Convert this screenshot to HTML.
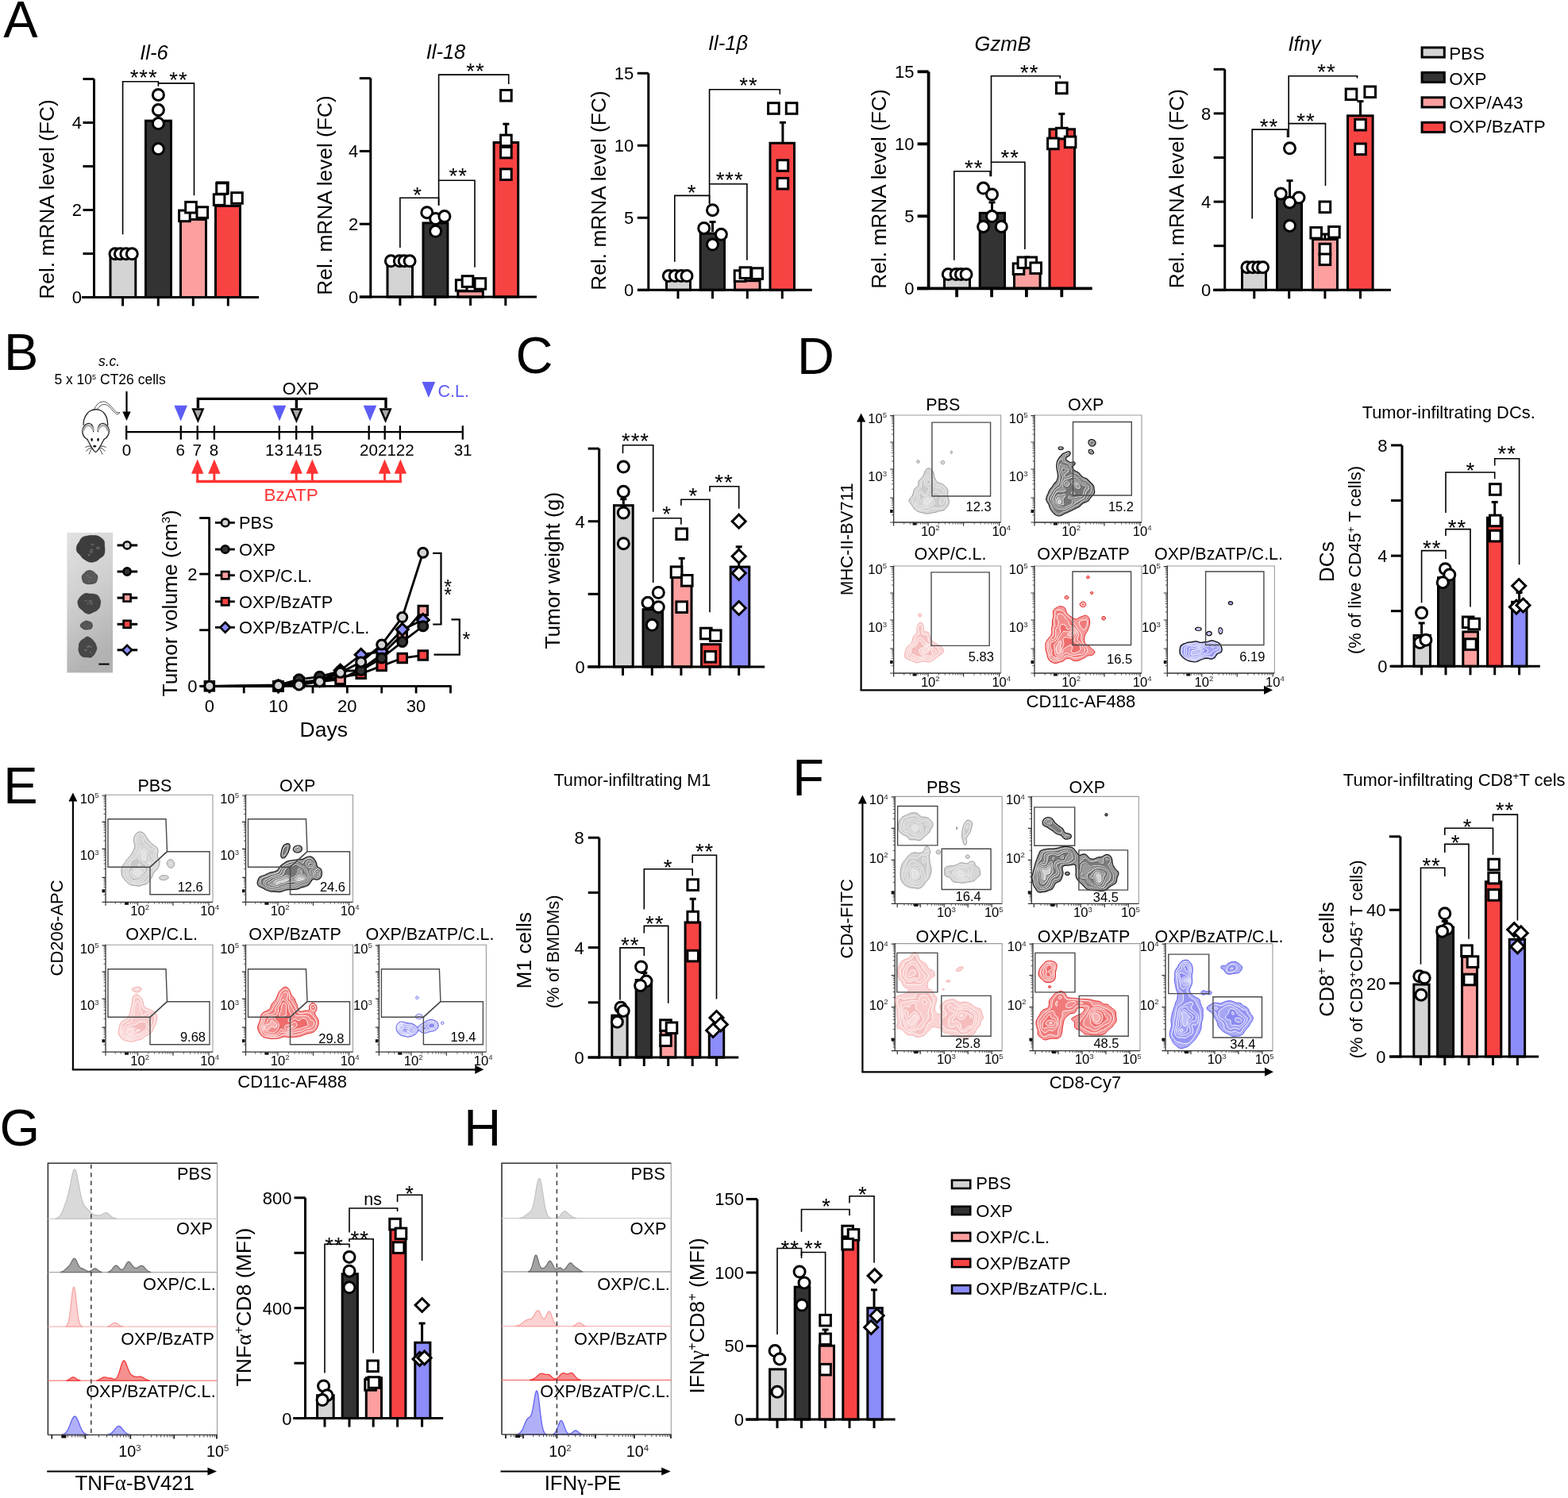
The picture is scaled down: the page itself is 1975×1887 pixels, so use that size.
<!DOCTYPE html><html><head><meta charset="utf-8"><title>Figure</title><style>html,body{margin:0;padding:0;background:#fff;width:1975px;height:1887px;overflow:hidden}svg{display:block}</style></head><body><svg width="1975" height="1887" viewBox="0 0 1975 1887" font-family='"Liberation Sans", Arial, Helvetica, sans-serif'><rect width="1975" height="1887" fill="#fff"/><text x="4.3" y="46.8" font-size="65" text-anchor="start" fill="#000">A</text>
<text x="194" y="75" font-size="25.5" text-anchor="middle" font-style="italic" fill="#000">Il-6</text>
<rect x="139" y="321" width="31.8" height="53.5" fill="#d4d4d4" stroke="#000" stroke-width="3"/>
<rect x="183.5" y="152.15" width="32" height="222.35" fill="#333333" stroke="#000" stroke-width="3"/>
<rect x="227.5" y="276.45" width="32" height="98.05" fill="#fd9f9f" stroke="#000" stroke-width="3"/>
<rect x="271.5" y="259.4" width="31" height="115.1" fill="#f84343" stroke="#000" stroke-width="3"/>
<line x1="118.5" y1="99.5" x2="118.5" y2="376" stroke="#000" stroke-width="3" stroke-linecap="butt"/>
<line x1="104.5" y1="374.5" x2="118.5" y2="374.5" stroke="#000" stroke-width="3" stroke-linecap="butt"/>
<text x="103" y="382.42" font-size="22" text-anchor="end" fill="#000">0</text>
<line x1="104.5" y1="319.5" x2="118.5" y2="319.5" stroke="#000" stroke-width="3" stroke-linecap="butt"/>
<line x1="104.5" y1="264.5" x2="118.5" y2="264.5" stroke="#000" stroke-width="3" stroke-linecap="butt"/>
<text x="103" y="272.42" font-size="22" text-anchor="end" fill="#000">2</text>
<line x1="104.5" y1="209.5" x2="118.5" y2="209.5" stroke="#000" stroke-width="3" stroke-linecap="butt"/>
<line x1="104.5" y1="154.5" x2="118.5" y2="154.5" stroke="#000" stroke-width="3" stroke-linecap="butt"/>
<text x="103" y="162.42" font-size="22" text-anchor="end" fill="#000">4</text>
<line x1="104.5" y1="99.5" x2="118.5" y2="99.5" stroke="#000" stroke-width="3" stroke-linecap="butt"/>
<line x1="103" y1="374.5" x2="326" y2="374.5" stroke="#000" stroke-width="3" stroke-linecap="butt"/>
<line x1="154.6" y1="374.5" x2="154.6" y2="385.5" stroke="#000" stroke-width="3" stroke-linecap="butt"/>
<line x1="199.3" y1="374.5" x2="199.3" y2="385.5" stroke="#000" stroke-width="3" stroke-linecap="butt"/>
<line x1="243.3" y1="374.5" x2="243.3" y2="385.5" stroke="#000" stroke-width="3" stroke-linecap="butt"/>
<line x1="287.3" y1="374.5" x2="287.3" y2="385.5" stroke="#000" stroke-width="3" stroke-linecap="butt"/>
<text x="67.5" y="251" font-size="26.3" text-anchor="middle" fill="#000" transform="rotate(-90 67.5 251)">Rel. mRNA level (FC)</text>
<text x="561.5" y="73.8" font-size="25.5" text-anchor="middle" font-style="italic" fill="#000">Il-18</text>
<rect x="488" y="329.6" width="31.5" height="44.4" fill="#d4d4d4" stroke="#000" stroke-width="3"/>
<rect x="533" y="280.95" width="30.9" height="93.05" fill="#333333" stroke="#000" stroke-width="3"/>
<rect x="576.8" y="366.78" width="31.5" height="7.22" fill="#fd9f9f" stroke="#000" stroke-width="3"/>
<rect x="622.1" y="179.51" width="30.6" height="194.49" fill="#f84343" stroke="#000" stroke-width="3"/>
<line x1="466.8" y1="98.6" x2="466.8" y2="375.5" stroke="#000" stroke-width="3" stroke-linecap="butt"/>
<line x1="452.8" y1="374" x2="466.8" y2="374" stroke="#000" stroke-width="3" stroke-linecap="butt"/>
<text x="451.3" y="381.92" font-size="22" text-anchor="end" fill="#000">0</text>
<line x1="452.8" y1="282.2" x2="466.8" y2="282.2" stroke="#000" stroke-width="3" stroke-linecap="butt"/>
<text x="451.3" y="290.12" font-size="22" text-anchor="end" fill="#000">2</text>
<line x1="452.8" y1="190.4" x2="466.8" y2="190.4" stroke="#000" stroke-width="3" stroke-linecap="butt"/>
<text x="451.3" y="198.32" font-size="22" text-anchor="end" fill="#000">4</text>
<line x1="452.8" y1="98.6" x2="466.8" y2="98.6" stroke="#000" stroke-width="3" stroke-linecap="butt"/>
<line x1="453" y1="374" x2="676" y2="374" stroke="#000" stroke-width="3" stroke-linecap="butt"/>
<line x1="503.9" y1="374" x2="503.9" y2="385" stroke="#000" stroke-width="3" stroke-linecap="butt"/>
<line x1="548" y1="374" x2="548" y2="385" stroke="#000" stroke-width="3" stroke-linecap="butt"/>
<line x1="592.6" y1="374" x2="592.6" y2="385" stroke="#000" stroke-width="3" stroke-linecap="butt"/>
<line x1="636.8" y1="374" x2="636.8" y2="385" stroke="#000" stroke-width="3" stroke-linecap="butt"/>
<text x="417.5" y="246" font-size="26.3" text-anchor="middle" fill="#000" transform="rotate(-90 417.5 246)">Rel. mRNA level (FC)</text>
<text x="917" y="62.5" font-size="25.5" text-anchor="middle" font-style="italic" fill="#000">Il-1β</text>
<rect x="839.5" y="348.6" width="30" height="16.7" fill="#d4d4d4" stroke="#000" stroke-width="3"/>
<rect x="882.2" y="294" width="30.3" height="71.3" fill="#333333" stroke="#000" stroke-width="3"/>
<rect x="925.5" y="353.7" width="31.6" height="11.6" fill="#fd9f9f" stroke="#000" stroke-width="3"/>
<rect x="970" y="180.25" width="30.5" height="185.05" fill="#f84343" stroke="#000" stroke-width="3"/>
<line x1="816.8" y1="92.3" x2="816.8" y2="366.8" stroke="#000" stroke-width="3" stroke-linecap="butt"/>
<line x1="802.8" y1="365.3" x2="816.8" y2="365.3" stroke="#000" stroke-width="3" stroke-linecap="butt"/>
<text x="798.3" y="373.22" font-size="22" text-anchor="end" fill="#000">0</text>
<line x1="802.8" y1="274.3" x2="816.8" y2="274.3" stroke="#000" stroke-width="3" stroke-linecap="butt"/>
<text x="798.3" y="282.22" font-size="22" text-anchor="end" fill="#000">5</text>
<line x1="802.8" y1="183.3" x2="816.8" y2="183.3" stroke="#000" stroke-width="3" stroke-linecap="butt"/>
<text x="798.3" y="191.22" font-size="22" text-anchor="end" fill="#000">10</text>
<line x1="802.8" y1="92.3" x2="816.8" y2="92.3" stroke="#000" stroke-width="3" stroke-linecap="butt"/>
<text x="798.3" y="100.22" font-size="22" text-anchor="end" fill="#000">15</text>
<line x1="803" y1="365.3" x2="1022.8" y2="365.3" stroke="#000" stroke-width="3" stroke-linecap="butt"/>
<line x1="854" y1="365.3" x2="854" y2="376.3" stroke="#000" stroke-width="3" stroke-linecap="butt"/>
<line x1="897.5" y1="365.3" x2="897.5" y2="376.3" stroke="#000" stroke-width="3" stroke-linecap="butt"/>
<line x1="941.3" y1="365.3" x2="941.3" y2="376.3" stroke="#000" stroke-width="3" stroke-linecap="butt"/>
<line x1="985.3" y1="365.3" x2="985.3" y2="376.3" stroke="#000" stroke-width="3" stroke-linecap="butt"/>
<text x="763.4" y="240" font-size="26.3" text-anchor="middle" fill="#000" transform="rotate(-90 763.4 240)">Rel. mRNA level (FC)</text>
<text x="1263" y="63.5" font-size="25.5" text-anchor="middle" font-style="italic" fill="#000">GzmB</text>
<rect x="1189.5" y="347.51" width="32" height="15.79" fill="#d4d4d4" stroke="#000" stroke-width="3"/>
<rect x="1234.2" y="268.34" width="31.3" height="94.96" fill="#333333" stroke="#000" stroke-width="3"/>
<rect x="1277.5" y="335.68" width="32.6" height="27.62" fill="#fd9f9f" stroke="#000" stroke-width="3"/>
<rect x="1322" y="162.78" width="31.5" height="200.52" fill="#f84343" stroke="#000" stroke-width="3"/>
<line x1="1169.6" y1="90.3" x2="1169.6" y2="364.8" stroke="#000" stroke-width="3.8" stroke-linecap="butt"/>
<line x1="1155.6" y1="363.3" x2="1169.6" y2="363.3" stroke="#000" stroke-width="3.8" stroke-linecap="butt"/>
<text x="1151.6" y="371.22" font-size="22" text-anchor="end" fill="#000">0</text>
<line x1="1155.6" y1="272.3" x2="1169.6" y2="272.3" stroke="#000" stroke-width="3.8" stroke-linecap="butt"/>
<text x="1151.6" y="280.22" font-size="22" text-anchor="end" fill="#000">5</text>
<line x1="1155.6" y1="181.3" x2="1169.6" y2="181.3" stroke="#000" stroke-width="3.8" stroke-linecap="butt"/>
<text x="1151.6" y="189.22" font-size="22" text-anchor="end" fill="#000">10</text>
<line x1="1155.6" y1="90.3" x2="1169.6" y2="90.3" stroke="#000" stroke-width="3.8" stroke-linecap="butt"/>
<text x="1151.6" y="98.22" font-size="22" text-anchor="end" fill="#000">15</text>
<line x1="1155" y1="363.3" x2="1375.7" y2="363.3" stroke="#000" stroke-width="3.8" stroke-linecap="butt"/>
<line x1="1205.1" y1="363.3" x2="1205.1" y2="374.3" stroke="#000" stroke-width="3.8" stroke-linecap="butt"/>
<line x1="1249.1" y1="363.3" x2="1249.1" y2="374.3" stroke="#000" stroke-width="3.8" stroke-linecap="butt"/>
<line x1="1292.9" y1="363.3" x2="1292.9" y2="374.3" stroke="#000" stroke-width="3.8" stroke-linecap="butt"/>
<line x1="1337.3" y1="363.3" x2="1337.3" y2="374.3" stroke="#000" stroke-width="3.8" stroke-linecap="butt"/>
<text x="1116.4" y="238" font-size="26.3" text-anchor="middle" fill="#000" transform="rotate(-90 1116.4 238)">Rel. mRNA level (FC)</text>
<text x="1643" y="63.5" font-size="25.5" text-anchor="middle" font-style="italic" fill="#000">Ifnγ</text>
<rect x="1564.5" y="339" width="30" height="26.3" fill="#d4d4d4" stroke="#000" stroke-width="3"/>
<rect x="1608.5" y="250.04" width="31" height="115.26" fill="#333333" stroke="#000" stroke-width="3"/>
<rect x="1653.5" y="301.47" width="31" height="63.83" fill="#fd9f9f" stroke="#000" stroke-width="3"/>
<rect x="1697.5" y="145.79" width="31.6" height="219.51" fill="#f84343" stroke="#000" stroke-width="3"/>
<line x1="1542.7" y1="87.3" x2="1542.7" y2="366.8" stroke="#000" stroke-width="3" stroke-linecap="butt"/>
<line x1="1528.7" y1="365.3" x2="1542.7" y2="365.3" stroke="#000" stroke-width="3" stroke-linecap="butt"/>
<text x="1525.2" y="373.22" font-size="22" text-anchor="end" fill="#000">0</text>
<line x1="1528.7" y1="309.7" x2="1542.7" y2="309.7" stroke="#000" stroke-width="3" stroke-linecap="butt"/>
<line x1="1528.7" y1="254.1" x2="1542.7" y2="254.1" stroke="#000" stroke-width="3" stroke-linecap="butt"/>
<text x="1525.2" y="262.02" font-size="22" text-anchor="end" fill="#000">4</text>
<line x1="1528.7" y1="198.5" x2="1542.7" y2="198.5" stroke="#000" stroke-width="3" stroke-linecap="butt"/>
<line x1="1528.7" y1="142.9" x2="1542.7" y2="142.9" stroke="#000" stroke-width="3" stroke-linecap="butt"/>
<text x="1525.2" y="150.82" font-size="22" text-anchor="end" fill="#000">8</text>
<line x1="1528.7" y1="87.3" x2="1542.7" y2="87.3" stroke="#000" stroke-width="3" stroke-linecap="butt"/>
<line x1="1528" y1="365.3" x2="1752" y2="365.3" stroke="#000" stroke-width="3" stroke-linecap="butt"/>
<line x1="1579.8" y1="365.3" x2="1579.8" y2="376.3" stroke="#000" stroke-width="3" stroke-linecap="butt"/>
<line x1="1623.7" y1="365.3" x2="1623.7" y2="376.3" stroke="#000" stroke-width="3" stroke-linecap="butt"/>
<line x1="1668.9" y1="365.3" x2="1668.9" y2="376.3" stroke="#000" stroke-width="3" stroke-linecap="butt"/>
<line x1="1713.5" y1="365.3" x2="1713.5" y2="376.3" stroke="#000" stroke-width="3" stroke-linecap="butt"/>
<text x="1491" y="237.6" font-size="26.3" text-anchor="middle" fill="#000" transform="rotate(-90 1491 237.6)">Rel. mRNA level (FC)</text>
<circle cx="145" cy="319.8" r="7" fill="#fff" stroke="#000" stroke-width="3"/>
<circle cx="151.4" cy="319.8" r="7" fill="#fff" stroke="#000" stroke-width="3"/>
<circle cx="158.8" cy="319.8" r="7" fill="#fff" stroke="#000" stroke-width="3"/>
<circle cx="166.3" cy="319.8" r="7" fill="#fff" stroke="#000" stroke-width="3"/>
<line x1="199.4" y1="152" x2="199.4" y2="145" stroke="#000" stroke-width="3" stroke-linecap="butt"/>
<line x1="195.4" y1="145" x2="203.4" y2="145" stroke="#000" stroke-width="3" stroke-linecap="butt"/>
<circle cx="199.4" cy="119.4" r="7" fill="#fff" stroke="#000" stroke-width="3"/>
<circle cx="199.4" cy="138.6" r="7" fill="#fff" stroke="#000" stroke-width="3"/>
<circle cx="199.4" cy="155.6" r="7" fill="#fff" stroke="#000" stroke-width="3"/>
<circle cx="199.4" cy="187.6" r="7" fill="#fff" stroke="#000" stroke-width="3"/>
<rect x="225.6" y="265.1" width="13.6" height="13.6" fill="#fff" stroke="#000" stroke-width="3"/>
<rect x="233.7" y="254.4" width="13.6" height="13.6" fill="#fff" stroke="#000" stroke-width="3"/>
<rect x="248" y="260.8" width="13.6" height="13.6" fill="#fff" stroke="#000" stroke-width="3"/>
<rect x="269.3" y="244.8" width="13.6" height="13.6" fill="#fff" stroke="#000" stroke-width="3"/>
<rect x="273.6" y="229.9" width="13.6" height="13.6" fill="#fff" stroke="#000" stroke-width="3"/>
<rect x="291.7" y="242.7" width="13.6" height="13.6" fill="#fff" stroke="#000" stroke-width="3"/>
<rect x="272.7" y="230.7" width="13.6" height="13.6" fill="#fff" stroke="#000" stroke-width="3"/>
<path d="M154.6 295.3 L154.6 102.8 L199.4 102.8 L199.4 108.7" stroke="#000" stroke-width="1.6" fill="none" stroke-linejoin="miter"/>
<text x="181.2" y="106.96" font-size="27.5" text-anchor="middle" fill="#000" letter-spacing="1">***</text>
<path d="M199.4 104.9 L199.4 104.9 L244.5 104.9 L244.5 246.3" stroke="#000" stroke-width="1.6" fill="none" stroke-linejoin="miter"/>
<text x="225" y="109.96" font-size="27.5" text-anchor="middle" fill="#000" letter-spacing="1">**</text>
<circle cx="492.4" cy="328.8" r="7" fill="#fff" stroke="#000" stroke-width="3"/>
<circle cx="503.3" cy="328.8" r="7" fill="#fff" stroke="#000" stroke-width="3"/>
<circle cx="509.2" cy="328.8" r="7" fill="#fff" stroke="#000" stroke-width="3"/>
<circle cx="516.1" cy="328.8" r="7" fill="#fff" stroke="#000" stroke-width="3"/>
<circle cx="537.8" cy="267.7" r="7" fill="#fff" stroke="#000" stroke-width="3"/>
<circle cx="548.6" cy="275.6" r="7" fill="#fff" stroke="#000" stroke-width="3"/>
<circle cx="559.9" cy="272.6" r="7" fill="#fff" stroke="#000" stroke-width="3"/>
<circle cx="548.6" cy="291.3" r="7" fill="#fff" stroke="#000" stroke-width="3"/>
<rect x="574.4" y="352.6" width="13.6" height="13.6" fill="#fff" stroke="#000" stroke-width="3"/>
<rect x="582.2" y="347.7" width="13.6" height="13.6" fill="#fff" stroke="#000" stroke-width="3"/>
<rect x="598.1" y="350.6" width="13.6" height="13.6" fill="#fff" stroke="#000" stroke-width="3"/>
<line x1="637.4" y1="177.9" x2="637.4" y2="156.2" stroke="#000" stroke-width="3" stroke-linecap="butt"/>
<line x1="633.4" y1="156.2" x2="641.4" y2="156.2" stroke="#000" stroke-width="3" stroke-linecap="butt"/>
<rect x="630.6" y="113.5" width="13.6" height="13.6" fill="#fff" stroke="#000" stroke-width="3"/>
<rect x="630.6" y="170.1" width="13.6" height="13.6" fill="#fff" stroke="#000" stroke-width="3"/>
<rect x="630.6" y="185.3" width="13.6" height="13.6" fill="#fff" stroke="#000" stroke-width="3"/>
<rect x="630.6" y="212.9" width="13.6" height="13.6" fill="#fff" stroke="#000" stroke-width="3"/>
<path d="M503.9 312 L503.9 249.3 L552.6 249.3 L552.6 258.8" stroke="#000" stroke-width="1.6" fill="none" stroke-linejoin="miter"/>
<text x="526" y="254.96" font-size="27.5" text-anchor="middle" fill="#000" letter-spacing="1">*</text>
<path d="M552.6 258.8 L552.6 227.2 L598 227.2 L598 336.7" stroke="#000" stroke-width="1.6" fill="none" stroke-linejoin="miter"/>
<text x="577.2" y="230.96" font-size="27.5" text-anchor="middle" fill="#000" letter-spacing="1">**</text>
<path d="M552.6 227.2 L552.6 94.1 L640.7 94.1 L640.7 105.9" stroke="#000" stroke-width="1.6" fill="none" stroke-linejoin="miter"/>
<text x="599" y="98.96" font-size="27.5" text-anchor="middle" fill="#000" letter-spacing="1">**</text>
<circle cx="842.3" cy="347.6" r="7" fill="#fff" stroke="#000" stroke-width="3"/>
<circle cx="850.2" cy="347.6" r="7" fill="#fff" stroke="#000" stroke-width="3"/>
<circle cx="858.1" cy="347.6" r="7" fill="#fff" stroke="#000" stroke-width="3"/>
<circle cx="865" cy="347.6" r="7" fill="#fff" stroke="#000" stroke-width="3"/>
<line x1="897.5" y1="292" x2="897.5" y2="279.5" stroke="#000" stroke-width="3" stroke-linecap="butt"/>
<line x1="893.5" y1="279.5" x2="901.5" y2="279.5" stroke="#000" stroke-width="3" stroke-linecap="butt"/>
<circle cx="897.5" cy="264.7" r="7" fill="#fff" stroke="#000" stroke-width="3"/>
<circle cx="886.7" cy="287.4" r="7" fill="#fff" stroke="#000" stroke-width="3"/>
<circle cx="908.4" cy="295.3" r="7" fill="#fff" stroke="#000" stroke-width="3"/>
<circle cx="897.5" cy="308.1" r="7" fill="#fff" stroke="#000" stroke-width="3"/>
<rect x="925.2" y="340.8" width="13.6" height="13.6" fill="#fff" stroke="#000" stroke-width="3"/>
<rect x="932.1" y="336.8" width="13.6" height="13.6" fill="#fff" stroke="#000" stroke-width="3"/>
<rect x="946.9" y="337.8" width="13.6" height="13.6" fill="#fff" stroke="#000" stroke-width="3"/>
<line x1="985.9" y1="180.7" x2="985.9" y2="154.3" stroke="#000" stroke-width="3" stroke-linecap="butt"/>
<line x1="981.9" y1="154.3" x2="989.9" y2="154.3" stroke="#000" stroke-width="3" stroke-linecap="butt"/>
<rect x="967.6" y="129.7" width="13.6" height="13.6" fill="#fff" stroke="#000" stroke-width="3"/>
<rect x="990.3" y="129.7" width="13.6" height="13.6" fill="#fff" stroke="#000" stroke-width="3"/>
<rect x="979.1" y="201.7" width="13.6" height="13.6" fill="#fff" stroke="#000" stroke-width="3"/>
<rect x="979.1" y="224.4" width="13.6" height="13.6" fill="#fff" stroke="#000" stroke-width="3"/>
<path d="M849.8 329.8 L849.8 246.4 L893.6 246.4 L893.6 256.8" stroke="#000" stroke-width="1.6" fill="none" stroke-linejoin="miter"/>
<text x="871.5" y="251.96" font-size="27.5" text-anchor="middle" fill="#000" letter-spacing="1">*</text>
<path d="M893.6 256.8 L893.6 231.8 L940.9 231.8 L940.9 327.8" stroke="#000" stroke-width="1.6" fill="none" stroke-linejoin="miter"/>
<text x="919.2" y="235.96" font-size="27.5" text-anchor="middle" fill="#000" letter-spacing="1">***</text>
<path d="M893.6 231.8 L893.6 112.8 L982.3 112.8 L982.3 118.8" stroke="#000" stroke-width="1.6" fill="none" stroke-linejoin="miter"/>
<text x="942.9" y="116.96" font-size="27.5" text-anchor="middle" fill="#000" letter-spacing="1">**</text>
<circle cx="1194.3" cy="345.6" r="7" fill="#fff" stroke="#000" stroke-width="3"/>
<circle cx="1204.1" cy="345.6" r="7" fill="#fff" stroke="#000" stroke-width="3"/>
<circle cx="1210.4" cy="345.6" r="7" fill="#fff" stroke="#000" stroke-width="3"/>
<circle cx="1217" cy="345.6" r="7" fill="#fff" stroke="#000" stroke-width="3"/>
<line x1="1249.5" y1="267" x2="1249.5" y2="254.9" stroke="#000" stroke-width="3" stroke-linecap="butt"/>
<line x1="1245.5" y1="254.9" x2="1253.5" y2="254.9" stroke="#000" stroke-width="3" stroke-linecap="butt"/>
<circle cx="1238.6" cy="237.1" r="7" fill="#fff" stroke="#000" stroke-width="3"/>
<circle cx="1249.5" cy="245" r="7" fill="#fff" stroke="#000" stroke-width="3"/>
<circle cx="1249.5" cy="272.6" r="7" fill="#fff" stroke="#000" stroke-width="3"/>
<circle cx="1238.6" cy="285.4" r="7" fill="#fff" stroke="#000" stroke-width="3"/>
<circle cx="1261.3" cy="285.4" r="7" fill="#fff" stroke="#000" stroke-width="3"/>
<line x1="1293.8" y1="334" x2="1293.8" y2="328" stroke="#000" stroke-width="3" stroke-linecap="butt"/>
<line x1="1289.8" y1="328" x2="1297.8" y2="328" stroke="#000" stroke-width="3" stroke-linecap="butt"/>
<rect x="1276.2" y="331.9" width="13.6" height="13.6" fill="#fff" stroke="#000" stroke-width="3"/>
<rect x="1282.1" y="324" width="13.6" height="13.6" fill="#fff" stroke="#000" stroke-width="3"/>
<rect x="1292" y="324" width="13.6" height="13.6" fill="#fff" stroke="#000" stroke-width="3"/>
<rect x="1297.9" y="330.9" width="13.6" height="13.6" fill="#fff" stroke="#000" stroke-width="3"/>
<line x1="1337.3" y1="161.5" x2="1337.3" y2="143.4" stroke="#000" stroke-width="3" stroke-linecap="butt"/>
<line x1="1333.3" y1="143.4" x2="1341.3" y2="143.4" stroke="#000" stroke-width="3" stroke-linecap="butt"/>
<rect x="1330.5" y="104.1" width="13.6" height="13.6" fill="#fff" stroke="#000" stroke-width="3"/>
<rect x="1330.5" y="161.3" width="13.6" height="13.6" fill="#fff" stroke="#000" stroke-width="3"/>
<rect x="1319.6" y="174.1" width="13.6" height="13.6" fill="#fff" stroke="#000" stroke-width="3"/>
<rect x="1341.3" y="172.1" width="13.6" height="13.6" fill="#fff" stroke="#000" stroke-width="3"/>
<path d="M1201.8 327.8 L1201.8 215.8 L1247.1 215.8 L1247.1 222.3" stroke="#000" stroke-width="1.6" fill="none" stroke-linejoin="miter"/>
<text x="1226.8" y="220.96" font-size="27.5" text-anchor="middle" fill="#000" letter-spacing="1">**</text>
<path d="M1248.5 222.3 L1248.5 204.2 L1290.9 204.2 L1290.9 314" stroke="#000" stroke-width="1.6" fill="none" stroke-linejoin="miter"/>
<text x="1272.2" y="207.96" font-size="27.5" text-anchor="middle" fill="#000" letter-spacing="1">**</text>
<path d="M1248.5 204.2 L1248.5 95.7 L1335.3 95.7 L1335.3 99" stroke="#000" stroke-width="1.6" fill="none" stroke-linejoin="miter"/>
<text x="1296.8" y="100.96" font-size="27.5" text-anchor="middle" fill="#000" letter-spacing="1">**</text>
<circle cx="1570.9" cy="336.7" r="7" fill="#fff" stroke="#000" stroke-width="3"/>
<circle cx="1577.8" cy="336.7" r="7" fill="#fff" stroke="#000" stroke-width="3"/>
<circle cx="1584.7" cy="336.7" r="7" fill="#fff" stroke="#000" stroke-width="3"/>
<circle cx="1590.6" cy="336.7" r="7" fill="#fff" stroke="#000" stroke-width="3"/>
<line x1="1624.5" y1="249" x2="1624.5" y2="227.6" stroke="#000" stroke-width="3" stroke-linecap="butt"/>
<line x1="1620.5" y1="227.6" x2="1628.5" y2="227.6" stroke="#000" stroke-width="3" stroke-linecap="butt"/>
<circle cx="1624.5" cy="186.8" r="7" fill="#fff" stroke="#000" stroke-width="3"/>
<circle cx="1613.3" cy="244" r="7" fill="#fff" stroke="#000" stroke-width="3"/>
<circle cx="1636" cy="248.9" r="7" fill="#fff" stroke="#000" stroke-width="3"/>
<circle cx="1624.5" cy="254.9" r="7" fill="#fff" stroke="#000" stroke-width="3"/>
<circle cx="1624.5" cy="284.4" r="7" fill="#fff" stroke="#000" stroke-width="3"/>
<line x1="1668.9" y1="301" x2="1668.9" y2="295" stroke="#000" stroke-width="3" stroke-linecap="butt"/>
<line x1="1664.9" y1="295" x2="1672.9" y2="295" stroke="#000" stroke-width="3" stroke-linecap="butt"/>
<rect x="1662.1" y="254" width="13.6" height="13.6" fill="#fff" stroke="#000" stroke-width="3"/>
<rect x="1650.9" y="286.5" width="13.6" height="13.6" fill="#fff" stroke="#000" stroke-width="3"/>
<rect x="1673.6" y="285.5" width="13.6" height="13.6" fill="#fff" stroke="#000" stroke-width="3"/>
<rect x="1662.1" y="307.2" width="13.6" height="13.6" fill="#fff" stroke="#000" stroke-width="3"/>
<rect x="1662.1" y="320" width="13.6" height="13.6" fill="#fff" stroke="#000" stroke-width="3"/>
<line x1="1713.5" y1="146" x2="1713.5" y2="127.6" stroke="#000" stroke-width="3" stroke-linecap="butt"/>
<line x1="1709.5" y1="127.6" x2="1717.5" y2="127.6" stroke="#000" stroke-width="3" stroke-linecap="butt"/>
<rect x="1695.2" y="112" width="13.6" height="13.6" fill="#fff" stroke="#000" stroke-width="3"/>
<rect x="1718.9" y="109" width="13.6" height="13.6" fill="#fff" stroke="#000" stroke-width="3"/>
<rect x="1706.7" y="150.4" width="13.6" height="13.6" fill="#fff" stroke="#000" stroke-width="3"/>
<rect x="1706.7" y="181" width="13.6" height="13.6" fill="#fff" stroke="#000" stroke-width="3"/>
<path d="M1577.2 275.6 L1577.2 163.1 L1621.6 163.1 L1621.6 173" stroke="#000" stroke-width="1.6" fill="none" stroke-linejoin="miter"/>
<text x="1598.5" y="168.96" font-size="27.5" text-anchor="middle" fill="#000" letter-spacing="1">**</text>
<path d="M1623.2 173 L1623.2 155.6 L1669.5 155.6 L1669.5 234.1" stroke="#000" stroke-width="1.6" fill="none" stroke-linejoin="miter"/>
<text x="1644.9" y="161.96" font-size="27.5" text-anchor="middle" fill="#000" letter-spacing="1">**</text>
<path d="M1623.2 155.6 L1623.2 95.7 L1709.5 95.7 L1709.5 98.6" stroke="#000" stroke-width="1.6" fill="none" stroke-linejoin="miter"/>
<text x="1670.9" y="99.96" font-size="27.5" text-anchor="middle" fill="#000" letter-spacing="1">**</text>
<rect x="1791.1" y="59.9" width="28.2" height="12.2" fill="#d4d4d4" stroke="#000" stroke-width="3"/>
<text x="1825.2" y="74.8" font-size="22.4" text-anchor="start" fill="#000">PBS</text>
<rect x="1791.1" y="91.35" width="28.2" height="12.2" fill="#333333" stroke="#000" stroke-width="3"/>
<text x="1825.2" y="107.3" font-size="22.4" text-anchor="start" fill="#000">OXP</text>
<rect x="1791.1" y="122.8" width="28.2" height="12.2" fill="#fd9f9f" stroke="#000" stroke-width="3"/>
<text x="1825.2" y="136.9" font-size="22.4" text-anchor="start" fill="#000">OXP/A43</text>
<rect x="1791.1" y="154.25" width="28.2" height="12.2" fill="#f84343" stroke="#000" stroke-width="3"/>
<text x="1825.2" y="167" font-size="22.4" text-anchor="start" fill="#000">OXP/BzATP</text>
<text x="5.1" y="465.8" font-size="65" text-anchor="start" fill="#000">B</text>
<text x="137.5" y="460.5" font-size="17.5" text-anchor="middle" font-style="italic" fill="#000">s.c.</text>
<text x="68.4" y="483.8" font-size="17.5" text-anchor="start" fill="#000">5 x 10<tspan dy="-6.3" font-size="9.1">5</tspan><tspan dy="6.3"> CT26 cells</tspan></text>
<path d="M575 510C585.83 491.67 612.5 430 640 400C667.5 370 705 342.5 740 330C775 317.5 813.33 313.33 850 325C886.67 336.67 925 369.17 960 400C995 430.83 1030 478.33 1060 510C1090 541.67 1114.17 576.67 1140 590C1165.83 603.33 1202.5 590 1215 590" transform="translate(90 490) scale(0.05)" fill="none" stroke="#444" stroke-width="18.77" stroke-linecap="round" stroke-linejoin="round"/>
<path d="M650 515C661.67 500.83 691.67 450.83 720 430C748.33 409.17 786.67 391.67 820 390C853.33 388.33 888.33 400 920 420C951.67 440 981.67 480 1010 510C1038.33 540 1065 578.33 1090 600C1115 621.67 1139.17 640.83 1160 640C1180.83 639.17 1205.83 602.5 1215 595" transform="translate(90 490) scale(0.05)" fill="none" stroke="#444" stroke-width="18.77" stroke-linecap="round" stroke-linejoin="round"/>
<path d="M300 900C303.33 876.67 305.83 804.17 320 760C334.17 715.83 359.17 670 385 635C410.83 600 436.67 570 475 550C513.33 530 570 515.83 615 515C660 514.17 708.33 526.67 745 545C781.67 563.33 810.33 591.67 835 625C859.67 658.33 879.67 698.33 893 745C906.33 791.67 911.33 878.33 915 905" transform="translate(90 490) scale(0.05)" fill="#fff" stroke="#222" stroke-width="26.06" stroke-linecap="round" stroke-linejoin="round"/>
<path d="M400 1270C388.33 1260.83 349.17 1238.33 330 1215C310.83 1191.67 293.33 1160.83 285 1130C276.67 1099.17 272.5 1065 280 1030C287.5 995 306.67 947 330 920C353.33 893 390.83 872.17 420 868C449.17 863.83 483.33 875.5 505 895C526.67 914.5 542 955 550 985C558 1015 552.5 1060 553 1075" transform="translate(90 490) scale(0.05)" fill="#fff" stroke="#222" stroke-width="26.06" stroke-linecap="round" stroke-linejoin="round"/>
<path d="M820 1270C831.67 1260.83 870.83 1238.33 890 1215C909.17 1191.67 925.83 1160.83 935 1130C944.17 1099.17 952 1065 945 1030C938 995 917.17 947 893 920C868.83 893 829.67 872.17 800 868C770.33 863.83 736.67 875.5 715 895C693.33 914.5 678 955 670 985C662 1015 667.5 1060 667 1075" transform="translate(90 490) scale(0.05)" fill="#fff" stroke="#222" stroke-width="26.06" stroke-linecap="round" stroke-linejoin="round"/>
<path d="M305 1040C312.5 1025 329.17 970 350 950C370.83 930 403.33 918.33 430 920C456.67 921.67 490.83 941.67 510 960C529.17 978.33 539.17 1018.33 545 1030" transform="translate(90 490) scale(0.05)" fill="none" stroke="#aaa" stroke-width="54.21" stroke-linecap="round" stroke-linejoin="round"/>
<path d="M915 1040C907.5 1025 890.83 970 870 950C849.17 930 816.67 918.33 790 920C763.33 921.67 729.17 941.67 710 960C690.83 978.33 680.83 1018.33 675 1030" transform="translate(90 490) scale(0.05)" fill="none" stroke="#aaa" stroke-width="54.21" stroke-linecap="round" stroke-linejoin="round"/>
<path d="M400 1270C411.67 1291.67 446.67 1358.33 470 1400C493.33 1441.67 516.67 1488.33 540 1520C563.33 1551.67 586.67 1590 610 1590C633.33 1590 656.67 1551.67 680 1520C703.33 1488.33 726.67 1441.67 750 1400C773.33 1358.33 808.33 1291.67 820 1270" transform="translate(90 490) scale(0.05)" fill="none" stroke="#222" stroke-width="26.06" stroke-linecap="round" stroke-linejoin="round"/>
<ellipse cx="115.66" cy="553.79" rx="1.34" ry="2.16" fill="#111"/>
<ellipse cx="123.57" cy="553.79" rx="1.34" ry="2.16" fill="#111"/>
<ellipse cx="119.26" cy="562.18" rx="1.92" ry="1.44" fill="#111"/>
<path d="M490 1450C478.33 1448.33 442.5 1436.67 420 1440C397.5 1443.33 365.83 1465 355 1470" transform="translate(90 490) scale(0.05)" fill="none" stroke="#333" stroke-width="18.77" stroke-linecap="round" stroke-linejoin="round"/>
<path d="M500 1485C488.33 1489.17 450 1496.67 430 1510C410 1523.33 388.33 1555.83 380 1565" transform="translate(90 490) scale(0.05)" fill="none" stroke="#333" stroke-width="18.77" stroke-linecap="round" stroke-linejoin="round"/>
<path d="M505 1515C499.17 1525.83 480 1559.17 470 1580C460 1600.83 449.17 1630 445 1640" transform="translate(90 490) scale(0.05)" fill="none" stroke="#333" stroke-width="18.77" stroke-linecap="round" stroke-linejoin="round"/>
<path d="M730 1450C741.67 1448.33 777.5 1436.67 800 1440C822.5 1443.33 854.17 1465 865 1470" transform="translate(90 490) scale(0.05)" fill="none" stroke="#333" stroke-width="18.77" stroke-linecap="round" stroke-linejoin="round"/>
<path d="M720 1485C731.67 1489.17 770 1496.67 790 1510C810 1523.33 831.67 1555.83 840 1565" transform="translate(90 490) scale(0.05)" fill="none" stroke="#333" stroke-width="18.77" stroke-linecap="round" stroke-linejoin="round"/>
<path d="M715 1515C720.83 1525.83 740 1559.17 750 1580C760 1600.83 770.83 1630 775 1640" transform="translate(90 490) scale(0.05)" fill="none" stroke="#333" stroke-width="18.77" stroke-linecap="round" stroke-linejoin="round"/>
<line x1="159.5" y1="493" x2="159.5" y2="520" stroke="#000" stroke-width="2.2" stroke-linecap="butt"/>
<path d="M154.3 518.5 L164.7 518.5 L159.5 530 Z" stroke="none" stroke-width="0" fill="#000" stroke-linejoin="miter"/>
<line x1="158.3" y1="544.2" x2="583.8" y2="544.2" stroke="#000" stroke-width="2.2" stroke-linecap="butt"/>
<line x1="159.2" y1="536.2" x2="159.2" y2="553.7" stroke="#000" stroke-width="2.3" stroke-linecap="butt"/>
<line x1="227.8" y1="536.2" x2="227.8" y2="553.7" stroke="#000" stroke-width="2.3" stroke-linecap="butt"/>
<line x1="248.7" y1="536.2" x2="248.7" y2="553.7" stroke="#000" stroke-width="2.3" stroke-linecap="butt"/>
<line x1="269.9" y1="536.2" x2="269.9" y2="553.7" stroke="#000" stroke-width="2.3" stroke-linecap="butt"/>
<line x1="351.8" y1="536.2" x2="351.8" y2="553.7" stroke="#000" stroke-width="2.3" stroke-linecap="butt"/>
<line x1="373.2" y1="536.2" x2="373.2" y2="553.7" stroke="#000" stroke-width="2.3" stroke-linecap="butt"/>
<line x1="393.3" y1="536.2" x2="393.3" y2="553.7" stroke="#000" stroke-width="2.3" stroke-linecap="butt"/>
<line x1="464.7" y1="536.2" x2="464.7" y2="553.7" stroke="#000" stroke-width="2.3" stroke-linecap="butt"/>
<line x1="484.7" y1="536.2" x2="484.7" y2="553.7" stroke="#000" stroke-width="2.3" stroke-linecap="butt"/>
<line x1="503.9" y1="536.2" x2="503.9" y2="553.7" stroke="#000" stroke-width="2.3" stroke-linecap="butt"/>
<line x1="582.8" y1="536.2" x2="582.8" y2="553.7" stroke="#000" stroke-width="2.3" stroke-linecap="butt"/>
<text x="159.6" y="574.4" font-size="20.6" text-anchor="middle" fill="#000">0</text>
<text x="227.3" y="574.4" font-size="20.6" text-anchor="middle" fill="#000">6</text>
<text x="248.3" y="574.4" font-size="20.6" text-anchor="middle" fill="#000">7</text>
<text x="269.6" y="574.4" font-size="20.6" text-anchor="middle" fill="#000">8</text>
<text x="345.5" y="574.4" font-size="20.6" text-anchor="middle" fill="#000">13</text>
<text x="370.6" y="574.4" font-size="20.6" text-anchor="middle" fill="#000">14</text>
<text x="394.3" y="574.4" font-size="20.6" text-anchor="middle" fill="#000">15</text>
<text x="464.5" y="574.4" font-size="20.6" text-anchor="middle" fill="#000">20</text>
<text x="487.4" y="574.4" font-size="20.6" text-anchor="middle" fill="#000">21</text>
<text x="510.3" y="574.4" font-size="20.6" text-anchor="middle" fill="#000">22</text>
<text x="583.1" y="574.4" font-size="20.6" text-anchor="middle" fill="#000">31</text>
<text x="378.8" y="497" font-size="21.9" text-anchor="middle" fill="#000">OXP</text>
<path d="M249.4 514 L249.4 502.4 L486 502.4 L486 514" stroke="#000" stroke-width="3.4" fill="none" stroke-linejoin="miter"/>
<line x1="373.4" y1="502.4" x2="373.4" y2="514" stroke="#000" stroke-width="3.4" stroke-linecap="butt"/>
<path d="M243.15 515.5 L255.65 515.5 L249.4 530 Z" stroke="#000" stroke-width="2.4" fill="#aaaaaa" stroke-linejoin="miter"/>
<path d="M367.15 515.5 L379.65 515.5 L373.4 530 Z" stroke="#000" stroke-width="2.4" fill="#aaaaaa" stroke-linejoin="miter"/>
<path d="M479.35 515.5 L491.85 515.5 L485.6 530 Z" stroke="#000" stroke-width="2.4" fill="#aaaaaa" stroke-linejoin="miter"/>
<path d="M219.4 510.7 L236 510.7 L227.7 530.6 Z" stroke="none" stroke-width="0" fill="#5d5df6" stroke-linejoin="miter"/>
<path d="M343.7 510.7 L360.3 510.7 L352 530.6 Z" stroke="none" stroke-width="0" fill="#5d5df6" stroke-linejoin="miter"/>
<path d="M457.7 510.7 L474.3 510.7 L466 530.6 Z" stroke="none" stroke-width="0" fill="#5d5df6" stroke-linejoin="miter"/>
<path d="M531.6 481 L548.2 481 L539.9 501 Z" stroke="none" stroke-width="0" fill="#5d5df6" stroke-linejoin="miter"/>
<text x="551.5" y="499.5" font-size="21.5" text-anchor="start" fill="#5d5df6">C.L.</text>
<line x1="248.7" y1="596" x2="248.7" y2="606.5" stroke="#ff3333" stroke-width="2.9" stroke-linecap="butt"/>
<path d="M241 596.8 L256.4 596.8 L248.7 578.5 Z" stroke="none" stroke-width="0" fill="#ff3333" stroke-linejoin="miter"/>
<line x1="269.9" y1="596" x2="269.9" y2="606.5" stroke="#ff3333" stroke-width="2.9" stroke-linecap="butt"/>
<path d="M262.2 596.8 L277.6 596.8 L269.9 578.5 Z" stroke="none" stroke-width="0" fill="#ff3333" stroke-linejoin="miter"/>
<line x1="373.2" y1="596" x2="373.2" y2="606.5" stroke="#ff3333" stroke-width="2.9" stroke-linecap="butt"/>
<path d="M365.5 596.8 L380.9 596.8 L373.2 578.5 Z" stroke="none" stroke-width="0" fill="#ff3333" stroke-linejoin="miter"/>
<line x1="393.3" y1="596" x2="393.3" y2="606.5" stroke="#ff3333" stroke-width="2.9" stroke-linecap="butt"/>
<path d="M385.6 596.8 L401 596.8 L393.3 578.5 Z" stroke="none" stroke-width="0" fill="#ff3333" stroke-linejoin="miter"/>
<line x1="484.5" y1="596" x2="484.5" y2="606.5" stroke="#ff3333" stroke-width="2.9" stroke-linecap="butt"/>
<path d="M476.8 596.8 L492.2 596.8 L484.5 578.5 Z" stroke="none" stroke-width="0" fill="#ff3333" stroke-linejoin="miter"/>
<line x1="504.4" y1="596" x2="504.4" y2="606.5" stroke="#ff3333" stroke-width="2.9" stroke-linecap="butt"/>
<path d="M496.7 596.8 L512.1 596.8 L504.4 578.5 Z" stroke="none" stroke-width="0" fill="#ff3333" stroke-linejoin="miter"/>
<line x1="247.2" y1="606.5" x2="505.9" y2="606.5" stroke="#ff3333" stroke-width="3.4" stroke-linecap="butt"/>
<text x="366.6" y="630.9" font-size="22.5" text-anchor="middle" fill="#ff3333">BzATP</text>
<defs><linearGradient id="phg" x1="0" y1="0" x2="0.25" y2="1"><stop offset="0" stop-color="#e2e2e2"/><stop offset="0.5" stop-color="#cfcfcf"/><stop offset="1" stop-color="#b2b2b2"/></linearGradient><radialGradient id="tum" cx="0.45" cy="0.4" r="0.6"><stop offset="0" stop-color="#555"/><stop offset="1" stop-color="#303030"/></radialGradient></defs>
<rect x="84.4" y="670.9" width="57.7" height="176.5" fill="url(#phg)" stroke="none" stroke-width="0"/>
<path d="M131.95 690.6C132.01 691.53 132.02 692.47 131.97 693.42C131.93 694.38 131.88 695.37 131.68 696.33C131.48 697.29 131.27 698.35 130.76 699.19C130.25 700.03 129.39 700.73 128.61 701.38C127.83 702.02 126.87 702.44 126.07 703.05C125.28 703.67 124.64 704.41 123.84 705.05C123.04 705.69 122.21 706.41 121.27 706.87C120.34 707.33 119.26 707.59 118.21 707.8C117.17 708.01 116.07 708.17 115 708.15C113.93 708.13 112.81 708.01 111.81 707.7C110.8 707.38 109.86 706.76 108.96 706.26C108.06 705.75 107.22 705.21 106.4 704.67C105.57 704.12 104.71 703.62 104 702.97C103.3 702.32 102.77 701.5 102.17 700.76C101.57 700.03 101.06 699.29 100.38 698.56C99.71 697.84 98.77 697.21 98.14 696.39C97.5 695.58 96.87 694.63 96.57 693.67C96.28 692.7 96.29 691.61 96.35 690.6C96.41 689.59 96.6 688.55 96.91 687.59C97.22 686.63 97.72 685.7 98.23 684.84C98.73 683.97 99.41 683.23 99.93 682.39C100.45 681.54 100.79 680.63 101.34 679.78C101.88 678.94 102.41 677.95 103.19 677.32C103.97 676.68 105.05 676.29 106.04 675.95C107.02 675.62 108.1 675.5 109.1 675.3C110.1 675.09 111.05 674.84 112.03 674.71C113.02 674.59 114.01 674.57 115 674.55C115.99 674.53 116.96 674.59 117.99 674.61C119.01 674.63 120.1 674.52 121.14 674.68C122.17 674.84 123.24 675.14 124.2 675.57C125.15 675.99 126.01 676.63 126.89 677.23C127.76 677.83 128.72 678.41 129.44 679.16C130.16 679.92 130.86 680.81 131.21 681.76C131.57 682.72 131.52 683.89 131.59 684.9C131.66 685.91 131.57 686.88 131.63 687.83C131.69 688.78 131.89 689.67 131.95 690.6Z" fill="#3c3c3c" stroke="#2a2a2a" stroke-width="0.6"/>
<ellipse cx="112.12" cy="698.97" rx="1.43" ry="1.84" fill="#8a8a8a" opacity="0.45"/>
<ellipse cx="116.44" cy="686.08" rx="1.96" ry="1.29" fill="#8a8a8a" opacity="0.45"/>
<ellipse cx="114.86" cy="695.08" rx="2.32" ry="1.57" fill="#8a8a8a" opacity="0.45"/>
<ellipse cx="123.46" cy="690.35" rx="2.53" ry="2" fill="#8a8a8a" opacity="0.45"/>
<ellipse cx="115.37" cy="692.18" rx="2.51" ry="1.05" fill="#8a8a8a" opacity="0.45"/>
<path d="M122.93 727.6C122.89 728.1 122.83 728.6 122.71 729.09C122.59 729.57 122.38 730.03 122.22 730.51C122.05 731 121.92 731.48 121.72 731.98C121.53 732.47 121.39 733.04 121.05 733.47C120.71 733.89 120.19 734.25 119.67 734.51C119.15 734.77 118.49 734.86 117.93 735.02C117.36 735.17 116.83 735.32 116.28 735.43C115.73 735.54 115.19 735.64 114.64 735.69C114.09 735.73 113.55 735.69 113 735.7C112.45 735.71 111.91 735.77 111.34 735.76C110.78 735.75 110.18 735.77 109.62 735.67C109.06 735.57 108.52 735.36 107.97 735.17C107.43 734.97 106.86 734.76 106.36 734.48C105.85 734.2 105.29 733.89 104.93 733.48C104.57 733.07 104.37 732.52 104.2 732.02C104.02 731.52 104.02 730.97 103.89 730.48C103.76 729.99 103.56 729.54 103.44 729.06C103.31 728.58 103.17 728.09 103.13 727.6C103.09 727.11 103.13 726.6 103.21 726.1C103.29 725.61 103.39 725.09 103.61 724.63C103.84 724.18 104.2 723.75 104.58 723.38C104.95 723 105.49 722.75 105.88 722.41C106.27 722.07 106.59 721.71 106.94 721.33C107.3 720.95 107.6 720.46 108.03 720.12C108.46 719.78 108.98 719.5 109.51 719.27C110.04 719.04 110.62 718.88 111.2 718.75C111.79 718.62 112.4 718.49 113 718.5C113.6 718.51 114.22 718.65 114.78 718.82C115.35 718.99 115.88 719.26 116.39 719.5C116.91 719.75 117.42 719.97 117.87 720.27C118.32 720.57 118.71 720.94 119.08 721.3C119.45 721.66 119.72 722.08 120.1 722.43C120.47 722.78 120.94 723.05 121.34 723.42C121.74 723.78 122.23 724.15 122.49 724.6C122.76 725.04 122.86 725.58 122.94 726.08C123.01 726.58 122.97 727.1 122.93 727.6Z" fill="#585858" stroke="#2a2a2a" stroke-width="0.6"/>
<ellipse cx="110.89" cy="725.68" rx="1.28" ry="0.64" fill="#8a8a8a" opacity="0.45"/>
<ellipse cx="114.14" cy="727.67" rx="1.48" ry="0.62" fill="#8a8a8a" opacity="0.45"/>
<ellipse cx="112.98" cy="727.61" rx="1.61" ry="0.6" fill="#8a8a8a" opacity="0.45"/>
<ellipse cx="112.43" cy="732.12" rx="1.3" ry="0.95" fill="#8a8a8a" opacity="0.45"/>
<ellipse cx="110.18" cy="724.66" rx="0.88" ry="0.8" fill="#8a8a8a" opacity="0.45"/>
<path d="M126.55 759.7C126.46 760.42 126.32 761.12 126.19 761.83C126.06 762.54 126.01 763.27 125.77 763.96C125.53 764.64 125.15 765.3 124.74 765.93C124.33 766.55 123.82 767.13 123.31 767.69C122.79 768.25 122.26 768.83 121.62 769.28C120.98 769.72 120.2 770.02 119.47 770.33C118.74 770.65 117.98 770.83 117.24 771.18C116.5 771.52 115.83 772.05 115.04 772.39C114.25 772.73 113.36 773.14 112.5 773.23C111.64 773.31 110.7 773.14 109.85 772.92C109.01 772.7 108.19 772.32 107.46 771.91C106.72 771.5 106.04 770.99 105.44 770.47C104.84 769.95 104.4 769.3 103.86 768.78C103.31 768.25 102.77 767.81 102.18 767.33C101.6 766.84 100.86 766.44 100.36 765.88C99.86 765.32 99.49 764.64 99.19 763.97C98.89 763.3 98.75 762.58 98.54 761.87C98.34 761.16 98.03 760.44 97.95 759.7C97.86 758.96 97.87 758.18 98.02 757.45C98.18 756.72 98.57 756.02 98.9 755.34C99.22 754.65 99.55 753.97 99.97 753.33C100.39 752.68 100.85 752.05 101.4 751.49C101.94 750.93 102.61 750.47 103.24 749.97C103.86 749.47 104.46 748.92 105.17 748.51C105.87 748.1 106.64 747.65 107.46 747.49C108.28 747.34 109.23 747.49 110.07 747.57C110.91 747.66 111.71 747.94 112.5 748.03C113.29 748.11 114.03 748.07 114.82 748.1C115.61 748.14 116.42 748.14 117.24 748.23C118.06 748.32 118.91 748.44 119.74 748.65C120.58 748.86 121.52 749.06 122.24 749.47C122.97 749.89 123.61 750.5 124.09 751.13C124.57 751.76 124.8 752.57 125.13 753.28C125.46 753.98 125.8 754.65 126.06 755.35C126.33 756.05 126.63 756.77 126.71 757.49C126.79 758.22 126.63 758.98 126.55 759.7Z" fill="#434343" stroke="#2a2a2a" stroke-width="0.6"/>
<ellipse cx="115.6" cy="760.77" rx="1.61" ry="0.87" fill="#8a8a8a" opacity="0.45"/>
<ellipse cx="113.81" cy="757.07" rx="2.54" ry="1.2" fill="#8a8a8a" opacity="0.45"/>
<ellipse cx="108.17" cy="756.75" rx="2.11" ry="0.87" fill="#8a8a8a" opacity="0.45"/>
<ellipse cx="110.59" cy="760.37" rx="1.72" ry="0.83" fill="#8a8a8a" opacity="0.45"/>
<ellipse cx="114.31" cy="759.37" rx="2.1" ry="0.98" fill="#8a8a8a" opacity="0.45"/>
<path d="M116.34 787.8C116.37 788.1 116.48 788.41 116.46 788.72C116.44 789.03 116.35 789.34 116.23 789.64C116.12 789.95 115.94 790.23 115.77 790.54C115.61 790.84 115.5 791.19 115.27 791.48C115.03 791.76 114.72 792.05 114.35 792.24C113.97 792.43 113.47 792.53 113.02 792.62C112.57 792.72 112.11 792.76 111.66 792.81C111.22 792.85 110.79 792.88 110.36 792.89C109.94 792.91 109.53 792.88 109.1 792.9C108.67 792.91 108.25 792.98 107.81 792.99C107.37 793.01 106.87 793.05 106.45 792.97C106.03 792.88 105.64 792.68 105.28 792.5C104.93 792.31 104.66 792.05 104.34 791.83C104.02 791.62 103.67 791.44 103.36 791.22C103.06 791 102.75 790.77 102.5 790.51C102.24 790.25 102.03 789.97 101.82 789.68C101.62 789.39 101.38 789.09 101.27 788.78C101.15 788.47 101.1 788.12 101.14 787.8C101.17 787.48 101.36 787.16 101.49 786.85C101.63 786.54 101.76 786.24 101.95 785.95C102.13 785.67 102.33 785.37 102.61 785.14C102.89 784.9 103.29 784.73 103.62 784.53C103.95 784.34 104.28 784.18 104.58 783.97C104.87 783.76 105.1 783.49 105.42 783.27C105.73 783.05 106.08 782.83 106.47 782.66C106.85 782.49 107.29 782.35 107.72 782.26C108.16 782.16 108.65 782.08 109.1 782.1C109.55 782.11 110.03 782.24 110.45 782.36C110.88 782.48 111.25 782.69 111.65 782.82C112.06 782.95 112.48 783.02 112.88 783.14C113.29 783.27 113.75 783.37 114.11 783.56C114.46 783.75 114.75 784.02 115.01 784.28C115.27 784.54 115.48 784.82 115.66 785.11C115.84 785.39 116.01 785.69 116.11 785.99C116.2 786.29 116.2 786.6 116.24 786.91C116.28 787.21 116.3 787.5 116.34 787.8Z" fill="#555" stroke="#2a2a2a" stroke-width="0.6"/>
<ellipse cx="112.97" cy="786.8" rx="1.04" ry="0.37" fill="#8a8a8a" opacity="0.45"/>
<ellipse cx="110.6" cy="790.61" rx="1.03" ry="0.38" fill="#8a8a8a" opacity="0.45"/>
<ellipse cx="111.28" cy="786.41" rx="1.04" ry="0.45" fill="#8a8a8a" opacity="0.45"/>
<ellipse cx="108.18" cy="788.21" rx="0.64" ry="0.61" fill="#8a8a8a" opacity="0.45"/>
<ellipse cx="106.65" cy="788.16" rx="0.85" ry="0.57" fill="#8a8a8a" opacity="0.45"/>
<path d="M121.82 815.9C121.9 816.65 121.84 817.48 121.66 818.21C121.49 818.94 121.08 819.62 120.78 820.3C120.48 820.98 120.19 821.64 119.87 822.29C119.54 822.94 119.22 823.6 118.83 824.2C118.43 824.79 117.97 825.34 117.49 825.87C117.01 826.4 116.52 826.98 115.95 827.37C115.37 827.76 114.71 828.09 114.05 828.2C113.39 828.3 112.64 828.07 111.98 827.98C111.32 827.9 110.72 827.73 110.1 827.71C109.48 827.69 108.87 827.87 108.24 827.87C107.6 827.87 106.94 827.86 106.3 827.73C105.65 827.61 105.01 827.4 104.37 827.14C103.73 826.89 103.04 826.62 102.48 826.19C101.92 825.76 101.41 825.16 101 824.55C100.6 823.93 100.33 823.18 100.04 822.48C99.74 821.79 99.43 821.1 99.24 820.38C99.05 819.65 98.92 818.88 98.92 818.13C98.92 817.39 99.14 816.63 99.22 815.9C99.3 815.17 99.35 814.49 99.41 813.76C99.46 813.04 99.39 812.26 99.54 811.55C99.69 810.83 99.97 810.12 100.3 809.49C100.62 808.85 101.07 808.28 101.52 807.74C101.96 807.2 102.44 806.68 102.96 806.26C103.48 805.84 104.09 805.55 104.65 805.2C105.21 804.85 105.75 804.54 106.32 804.14C106.89 803.74 107.43 803.11 108.06 802.77C108.69 802.44 109.42 802.13 110.1 802.11C110.78 802.09 111.51 802.4 112.16 802.66C112.82 802.92 113.44 803.29 114.03 803.68C114.61 804.06 115.17 804.49 115.67 804.97C116.17 805.46 116.56 806.06 117.01 806.58C117.45 807.1 117.88 807.57 118.32 808.09C118.75 808.61 119.25 809.09 119.61 809.68C119.97 810.27 120.22 810.95 120.48 811.62C120.74 812.29 120.95 812.97 121.18 813.69C121.4 814.4 121.74 815.15 121.82 815.9Z" fill="#474747" stroke="#2a2a2a" stroke-width="0.6"/>
<ellipse cx="114.46" cy="814.85" rx="1.39" ry="1.17" fill="#8a8a8a" opacity="0.45"/>
<ellipse cx="111.72" cy="814" rx="1.57" ry="1.29" fill="#8a8a8a" opacity="0.45"/>
<ellipse cx="107.94" cy="819.05" rx="1.77" ry="1.47" fill="#8a8a8a" opacity="0.45"/>
<ellipse cx="113.79" cy="821.73" rx="0.91" ry="1.35" fill="#8a8a8a" opacity="0.45"/>
<ellipse cx="110.44" cy="814.92" rx="1.38" ry="1.39" fill="#8a8a8a" opacity="0.45"/>
<line x1="124.4" y1="836.6" x2="137.7" y2="836.6" stroke="#000" stroke-width="2" stroke-linecap="butt"/>
<line x1="147.6" y1="686.9" x2="173.2" y2="686.9" stroke="#000" stroke-width="3" stroke-linecap="butt"/>
<circle cx="160.1" cy="686.9" r="4.6" fill="#d4d4d4" stroke="#000" stroke-width="2.6"/>
<line x1="147.6" y1="720" x2="173.2" y2="720" stroke="#000" stroke-width="3" stroke-linecap="butt"/>
<circle cx="160.1" cy="720" r="4.6" fill="#333333" stroke="#000" stroke-width="2.6"/>
<line x1="147.6" y1="753.1" x2="173.2" y2="753.1" stroke="#000" stroke-width="3" stroke-linecap="butt"/>
<rect x="155.6" y="748.6" width="9" height="9" fill="#fd9f9f" stroke="#000" stroke-width="2.6"/>
<line x1="147.6" y1="786.3" x2="173.2" y2="786.3" stroke="#000" stroke-width="3" stroke-linecap="butt"/>
<rect x="155.6" y="781.8" width="9" height="9" fill="#f84343" stroke="#000" stroke-width="2.6"/>
<line x1="147.6" y1="818.8" x2="173.2" y2="818.8" stroke="#000" stroke-width="3" stroke-linecap="butt"/>
<path d="M160.1 812.8 L166.1 818.8 L160.1 824.8 L154.1 818.8 Z" stroke="#000" stroke-width="2.6" fill="#8c8cfa" stroke-linejoin="miter"/>
<line x1="263.6" y1="651.5" x2="263.6" y2="865.8" stroke="#000" stroke-width="2.8" stroke-linecap="butt"/>
<line x1="251.2" y1="864.3" x2="263.6" y2="864.3" stroke="#000" stroke-width="2.8" stroke-linecap="butt"/>
<text x="248.5" y="872.1" font-size="22" text-anchor="end" fill="#000">0</text>
<line x1="251.2" y1="793.7" x2="263.6" y2="793.7" stroke="#000" stroke-width="2.8" stroke-linecap="butt"/>
<line x1="251.2" y1="723.1" x2="263.6" y2="723.1" stroke="#000" stroke-width="2.8" stroke-linecap="butt"/>
<text x="248.5" y="730.9" font-size="22" text-anchor="end" fill="#000">2</text>
<line x1="251.2" y1="652.5" x2="263.6" y2="652.5" stroke="#000" stroke-width="2.8" stroke-linecap="butt"/>
<line x1="252.5" y1="864.3" x2="568.7" y2="864.3" stroke="#000" stroke-width="2.8" stroke-linecap="butt"/>
<line x1="263.85" y1="864.3" x2="263.85" y2="873.3" stroke="#000" stroke-width="2.8" stroke-linecap="butt"/>
<line x1="307.23" y1="864.3" x2="307.23" y2="873.3" stroke="#000" stroke-width="2.8" stroke-linecap="butt"/>
<line x1="350.6" y1="864.3" x2="350.6" y2="873.3" stroke="#000" stroke-width="2.8" stroke-linecap="butt"/>
<line x1="393.98" y1="864.3" x2="393.98" y2="873.3" stroke="#000" stroke-width="2.8" stroke-linecap="butt"/>
<line x1="437.35" y1="864.3" x2="437.35" y2="873.3" stroke="#000" stroke-width="2.8" stroke-linecap="butt"/>
<line x1="480.73" y1="864.3" x2="480.73" y2="873.3" stroke="#000" stroke-width="2.8" stroke-linecap="butt"/>
<line x1="524.1" y1="864.3" x2="524.1" y2="873.3" stroke="#000" stroke-width="2.8" stroke-linecap="butt"/>
<line x1="567.48" y1="864.3" x2="567.48" y2="873.3" stroke="#000" stroke-width="2.8" stroke-linecap="butt"/>
<text x="263.85" y="897" font-size="22" text-anchor="middle" fill="#000">0</text>
<text x="350.6" y="897" font-size="22" text-anchor="middle" fill="#000">10</text>
<text x="437.35" y="897" font-size="22" text-anchor="middle" fill="#000">20</text>
<text x="524.1" y="897" font-size="22" text-anchor="middle" fill="#000">30</text>
<text x="407.8" y="927.5" font-size="26.5" text-anchor="middle" fill="#000">Days</text>
<text x="223" y="759.8" font-size="26.3" text-anchor="middle" transform="rotate(-90 223 759.8)">Tumor volume (cm<tspan dy="-9" font-size="15">3</tspan><tspan dy="9">)</tspan></text>
<path d="M263.85 864.3 L350.6 864.3 L376.62 859.36 L402.65 857.24 L428.68 853 L454.7 848.77 L480.73 838.88 L506.75 829 L532.78 825.47" stroke="#000" stroke-width="2.8" fill="none" stroke-linejoin="round"/>
<path d="M263.85 864.3 L350.6 864.3 L376.62 860.06 L402.65 858.65 L428.68 855.83 L454.7 843.12 L480.73 824.76 L506.75 799.35 L532.78 768.99" stroke="#000" stroke-width="2.8" fill="none" stroke-linejoin="round"/>
<path d="M263.85 864.3 L350.6 864.3 L376.62 859.36 L402.65 857.24 L428.68 844.53 L454.7 824.76 L480.73 820.53 L506.75 792.99 L532.78 780.99" stroke="#000" stroke-width="2.8" fill="none" stroke-linejoin="round"/>
<path d="M263.85 864.3 L350.6 862.89 L376.62 855.83 L402.65 852.3 L428.68 845.24 L454.7 844.53 L480.73 829 L506.75 808.53 L532.78 788.76" stroke="#000" stroke-width="2.8" fill="none" stroke-linejoin="round"/>
<path d="M263.85 864.3 L350.6 863.59 L376.62 862.89 L402.65 858.65 L428.68 847.36 L454.7 833.94 L480.73 812.06 L506.75 777.46 L532.78 696.27" stroke="#000" stroke-width="2.8" fill="none" stroke-linejoin="round"/>
<rect x="344.85" y="858.55" width="11.5" height="11.5" fill="#f84343" stroke="#000" stroke-width="3"/>
<rect x="370.88" y="853.61" width="11.5" height="11.5" fill="#f84343" stroke="#000" stroke-width="3"/>
<rect x="396.9" y="851.49" width="11.5" height="11.5" fill="#f84343" stroke="#000" stroke-width="3"/>
<rect x="422.93" y="847.25" width="11.5" height="11.5" fill="#f84343" stroke="#000" stroke-width="3"/>
<rect x="448.95" y="843.02" width="11.5" height="11.5" fill="#f84343" stroke="#000" stroke-width="3"/>
<rect x="474.98" y="833.13" width="11.5" height="11.5" fill="#f84343" stroke="#000" stroke-width="3"/>
<rect x="501" y="823.25" width="11.5" height="11.5" fill="#f84343" stroke="#000" stroke-width="3"/>
<rect x="527.03" y="819.72" width="11.5" height="11.5" fill="#f84343" stroke="#000" stroke-width="3"/>
<rect x="344.85" y="858.55" width="11.5" height="11.5" fill="#fd9f9f" stroke="#000" stroke-width="3"/>
<rect x="370.88" y="854.31" width="11.5" height="11.5" fill="#fd9f9f" stroke="#000" stroke-width="3"/>
<rect x="396.9" y="852.9" width="11.5" height="11.5" fill="#fd9f9f" stroke="#000" stroke-width="3"/>
<rect x="422.93" y="850.08" width="11.5" height="11.5" fill="#fd9f9f" stroke="#000" stroke-width="3"/>
<rect x="448.95" y="837.37" width="11.5" height="11.5" fill="#fd9f9f" stroke="#000" stroke-width="3"/>
<rect x="474.98" y="819.01" width="11.5" height="11.5" fill="#fd9f9f" stroke="#000" stroke-width="3"/>
<rect x="501" y="793.6" width="11.5" height="11.5" fill="#fd9f9f" stroke="#000" stroke-width="3"/>
<rect x="527.03" y="763.24" width="11.5" height="11.5" fill="#fd9f9f" stroke="#000" stroke-width="3"/>
<path d="M350.6 856.8 L358.1 864.3 L350.6 871.8 L343.1 864.3 Z" stroke="#000" stroke-width="3" fill="#8c8cfa" stroke-linejoin="miter"/>
<path d="M376.62 851.86 L384.12 859.36 L376.62 866.86 L369.12 859.36 Z" stroke="#000" stroke-width="3" fill="#8c8cfa" stroke-linejoin="miter"/>
<path d="M402.65 849.74 L410.15 857.24 L402.65 864.74 L395.15 857.24 Z" stroke="#000" stroke-width="3" fill="#8c8cfa" stroke-linejoin="miter"/>
<path d="M428.68 837.03 L436.18 844.53 L428.68 852.03 L421.18 844.53 Z" stroke="#000" stroke-width="3" fill="#8c8cfa" stroke-linejoin="miter"/>
<path d="M454.7 817.26 L462.2 824.76 L454.7 832.26 L447.2 824.76 Z" stroke="#000" stroke-width="3" fill="#8c8cfa" stroke-linejoin="miter"/>
<path d="M480.73 813.03 L488.23 820.53 L480.73 828.03 L473.23 820.53 Z" stroke="#000" stroke-width="3" fill="#8c8cfa" stroke-linejoin="miter"/>
<path d="M506.75 785.49 L514.25 792.99 L506.75 800.49 L499.25 792.99 Z" stroke="#000" stroke-width="3" fill="#8c8cfa" stroke-linejoin="miter"/>
<path d="M532.78 773.49 L540.28 780.99 L532.78 788.49 L525.28 780.99 Z" stroke="#000" stroke-width="3" fill="#8c8cfa" stroke-linejoin="miter"/>
<circle cx="350.6" cy="862.89" r="6" fill="#333333" stroke="#000" stroke-width="3"/>
<circle cx="376.62" cy="855.83" r="6" fill="#333333" stroke="#000" stroke-width="3"/>
<circle cx="402.65" cy="852.3" r="6" fill="#333333" stroke="#000" stroke-width="3"/>
<circle cx="428.68" cy="845.24" r="6" fill="#333333" stroke="#000" stroke-width="3"/>
<circle cx="454.7" cy="844.53" r="6" fill="#333333" stroke="#000" stroke-width="3"/>
<circle cx="480.73" cy="829" r="6" fill="#333333" stroke="#000" stroke-width="3"/>
<circle cx="506.75" cy="808.53" r="6" fill="#333333" stroke="#000" stroke-width="3"/>
<circle cx="532.78" cy="788.76" r="6" fill="#333333" stroke="#000" stroke-width="3"/>
<circle cx="263.85" cy="864.3" r="6" fill="#d4d4d4" stroke="#000" stroke-width="3"/>
<circle cx="350.6" cy="863.59" r="6" fill="#d4d4d4" stroke="#000" stroke-width="3"/>
<circle cx="376.62" cy="862.89" r="6" fill="#d4d4d4" stroke="#000" stroke-width="3"/>
<circle cx="402.65" cy="858.65" r="6" fill="#d4d4d4" stroke="#000" stroke-width="3"/>
<circle cx="428.68" cy="847.36" r="6" fill="#d4d4d4" stroke="#000" stroke-width="3"/>
<circle cx="454.7" cy="833.94" r="6" fill="#d4d4d4" stroke="#000" stroke-width="3"/>
<circle cx="480.73" cy="812.06" r="6" fill="#d4d4d4" stroke="#000" stroke-width="3"/>
<circle cx="506.75" cy="777.46" r="6" fill="#d4d4d4" stroke="#000" stroke-width="3"/>
<circle cx="532.78" cy="696.27" r="6" fill="#d4d4d4" stroke="#000" stroke-width="3"/>
<rect x="258.1" y="858.55" width="11.5" height="11.5" fill="#000" stroke="#000" stroke-width="3"/>
<circle cx="263.85" cy="864.3" r="5.5" fill="#d4d4d4" stroke="#000" stroke-width="2"/>
<rect x="344.85" y="858.55" width="11.5" height="11.5" fill="#000" stroke="#000" stroke-width="3"/>
<circle cx="350.6" cy="863.59" r="5.5" fill="#d4d4d4" stroke="#000" stroke-width="2"/>
<line x1="271" y1="658.4" x2="295.8" y2="658.4" stroke="#000" stroke-width="2.8" stroke-linecap="butt"/>
<circle cx="283.7" cy="658.4" r="4.8" fill="#d4d4d4" stroke="#000" stroke-width="2.6"/>
<text x="301" y="666.3" font-size="21.8" text-anchor="start" fill="#000">PBS</text>
<line x1="271" y1="692" x2="295.8" y2="692" stroke="#000" stroke-width="2.8" stroke-linecap="butt"/>
<circle cx="283.7" cy="692" r="4.8" fill="#333333" stroke="#000" stroke-width="2.6"/>
<text x="301" y="699.9" font-size="21.8" text-anchor="start" fill="#000">OXP</text>
<line x1="271" y1="724.7" x2="295.8" y2="724.7" stroke="#000" stroke-width="2.8" stroke-linecap="butt"/>
<rect x="279.05" y="720.05" width="9.3" height="9.3" fill="#fd9f9f" stroke="#000" stroke-width="2.6"/>
<text x="301" y="732.6" font-size="21.8" text-anchor="start" fill="#000">OXP/C.L.</text>
<line x1="271" y1="757.8" x2="295.8" y2="757.8" stroke="#000" stroke-width="2.8" stroke-linecap="butt"/>
<rect x="279.05" y="753.15" width="9.3" height="9.3" fill="#f84343" stroke="#000" stroke-width="2.6"/>
<text x="301" y="765.7" font-size="21.8" text-anchor="start" fill="#000">OXP/BzATP</text>
<line x1="271" y1="790.3" x2="295.8" y2="790.3" stroke="#000" stroke-width="2.8" stroke-linecap="butt"/>
<path d="M283.7 784 L290 790.3 L283.7 796.6 L277.4 790.3 Z" stroke="#000" stroke-width="2.6" fill="#8c8cfa" stroke-linejoin="miter"/>
<text x="301" y="798.2" font-size="21.8" text-anchor="start" fill="#000">OXP/BzATP/C.L.</text>
<path d="M545.2 696.8 L555.5 696.8 L555.5 786.5 L545.2 786.5" stroke="#000" stroke-width="2.2" fill="none" stroke-linejoin="miter"/>
<text x="564" y="747.5" font-size="25" text-anchor="middle" fill="#000">*</text>
<text x="564" y="758" font-size="25" text-anchor="middle" fill="#000">*</text>
<path d="M568.5 780.4 L578.8 780.4 L578.8 824.6 L546.5 824.6" stroke="#000" stroke-width="2.2" fill="none" stroke-linejoin="miter"/>
<text x="587.3" y="814" font-size="25" text-anchor="middle" fill="#000">*</text>
<text x="649.5" y="469.6" font-size="65" text-anchor="start" fill="#000">C</text>
<rect x="773.5" y="636.67" width="23.7" height="203.23" fill="#d4d4d4" stroke="#000" stroke-width="3"/>
<rect x="810" y="767.66" width="24.5" height="72.24" fill="#333333" stroke="#000" stroke-width="3"/>
<rect x="846.8" y="724.61" width="24.2" height="115.29" fill="#fd9f9f" stroke="#000" stroke-width="3"/>
<rect x="883.5" y="811.63" width="23.8" height="28.27" fill="#f84343" stroke="#000" stroke-width="3"/>
<rect x="920.2" y="714.08" width="23.6" height="125.82" fill="#8c8cfa" stroke="#000" stroke-width="3"/>
<line x1="785.3" y1="635.3" x2="785.3" y2="628.7" stroke="#000" stroke-width="3" stroke-linecap="butt"/>
<line x1="781.3" y1="628.7" x2="789.3" y2="628.7" stroke="#000" stroke-width="3" stroke-linecap="butt"/>
<line x1="858.7" y1="723.3" x2="858.7" y2="703.3" stroke="#000" stroke-width="3" stroke-linecap="butt"/>
<line x1="854.7" y1="703.3" x2="862.7" y2="703.3" stroke="#000" stroke-width="3" stroke-linecap="butt"/>
<line x1="930.7" y1="712.7" x2="930.7" y2="688.7" stroke="#000" stroke-width="3" stroke-linecap="butt"/>
<line x1="926.7" y1="688.7" x2="934.7" y2="688.7" stroke="#000" stroke-width="3" stroke-linecap="butt"/>
<line x1="754.7" y1="565.1" x2="754.7" y2="841.4" stroke="#000" stroke-width="3" stroke-linecap="butt"/>
<line x1="740.7" y1="839.9" x2="754.7" y2="839.9" stroke="#000" stroke-width="3" stroke-linecap="butt"/>
<text x="736.7" y="847.82" font-size="22" text-anchor="end" fill="#000">0</text>
<line x1="740.7" y1="748.3" x2="754.7" y2="748.3" stroke="#000" stroke-width="3" stroke-linecap="butt"/>
<line x1="740.7" y1="656.7" x2="754.7" y2="656.7" stroke="#000" stroke-width="3" stroke-linecap="butt"/>
<text x="736.7" y="664.62" font-size="22" text-anchor="end" fill="#000">4</text>
<line x1="740.7" y1="565.1" x2="754.7" y2="565.1" stroke="#000" stroke-width="3" stroke-linecap="butt"/>
<line x1="740" y1="839.9" x2="963.2" y2="839.9" stroke="#000" stroke-width="3" stroke-linecap="butt"/>
<line x1="784.5" y1="839.9" x2="784.5" y2="850.9" stroke="#000" stroke-width="3" stroke-linecap="butt"/>
<line x1="821.3" y1="839.9" x2="821.3" y2="850.9" stroke="#000" stroke-width="3" stroke-linecap="butt"/>
<line x1="857.9" y1="839.9" x2="857.9" y2="850.9" stroke="#000" stroke-width="3" stroke-linecap="butt"/>
<line x1="894" y1="839.9" x2="894" y2="850.9" stroke="#000" stroke-width="3" stroke-linecap="butt"/>
<line x1="930.7" y1="839.9" x2="930.7" y2="850.9" stroke="#000" stroke-width="3" stroke-linecap="butt"/>
<circle cx="785.3" cy="588.1" r="7" fill="#fff" stroke="#000" stroke-width="3"/>
<circle cx="785.3" cy="619.3" r="7" fill="#fff" stroke="#000" stroke-width="3"/>
<circle cx="785.3" cy="646" r="7" fill="#fff" stroke="#000" stroke-width="3"/>
<circle cx="785.3" cy="684.7" r="7" fill="#fff" stroke="#000" stroke-width="3"/>
<circle cx="829.3" cy="746.5" r="7" fill="#fff" stroke="#000" stroke-width="3"/>
<circle cx="816" cy="759.3" r="7" fill="#fff" stroke="#000" stroke-width="3"/>
<circle cx="829.3" cy="764.7" r="7" fill="#fff" stroke="#000" stroke-width="3"/>
<circle cx="821.3" cy="787.3" r="7" fill="#fff" stroke="#000" stroke-width="3"/>
<rect x="851.9" y="665.9" width="13.6" height="13.6" fill="#fff" stroke="#000" stroke-width="3"/>
<rect x="845.2" y="713.9" width="13.6" height="13.6" fill="#fff" stroke="#000" stroke-width="3"/>
<rect x="858.5" y="724.5" width="13.6" height="13.6" fill="#fff" stroke="#000" stroke-width="3"/>
<rect x="851.9" y="757.9" width="13.6" height="13.6" fill="#fff" stroke="#000" stroke-width="3"/>
<rect x="882.5" y="791.2" width="13.6" height="13.6" fill="#fff" stroke="#000" stroke-width="3"/>
<rect x="894.5" y="793.9" width="13.6" height="13.6" fill="#fff" stroke="#000" stroke-width="3"/>
<rect x="887.9" y="820.5" width="13.6" height="13.6" fill="#fff" stroke="#000" stroke-width="3"/>
<path d="M930.7 648.2 L939.2 656.7 L930.7 665.2 L922.2 656.7 Z" stroke="#000" stroke-width="3" fill="#fff" stroke-linejoin="miter"/>
<path d="M930.7 692.2 L939.2 700.7 L930.7 709.2 L922.2 700.7 Z" stroke="#000" stroke-width="3" fill="#fff" stroke-linejoin="miter"/>
<path d="M930.7 713.5 L939.2 722 L930.7 730.5 L922.2 722 Z" stroke="#000" stroke-width="3" fill="#fff" stroke-linejoin="miter"/>
<path d="M930.7 757.5 L939.2 766 L930.7 774.5 L922.2 766 Z" stroke="#000" stroke-width="3" fill="#fff" stroke-linejoin="miter"/>
<path d="M784.5 571 L784.5 560.7 L822.7 560.7 L822.7 644.7" stroke="#000" stroke-width="1.6" fill="none" stroke-linejoin="miter"/>
<text x="800.5" y="564.96" font-size="27.5" text-anchor="middle" fill="#000" letter-spacing="1">***</text>
<path d="M822.7 734 L822.7 652.7 L857.9 652.7 L857.9 660.7" stroke="#000" stroke-width="1.6" fill="none" stroke-linejoin="miter"/>
<text x="840" y="656.96" font-size="27.5" text-anchor="middle" fill="#000" letter-spacing="1">*</text>
<path d="M857.9 636.7 L857.9 629.2 L894 629.2 L894 771.3" stroke="#000" stroke-width="1.6" fill="none" stroke-linejoin="miter"/>
<text x="873.3" y="634.26" font-size="27.5" text-anchor="middle" fill="#000" letter-spacing="1">*</text>
<path d="M894 619.3 L894 612.7 L930.7 612.7 L930.7 640.7" stroke="#000" stroke-width="1.6" fill="none" stroke-linejoin="miter"/>
<text x="912" y="616.96" font-size="27.5" text-anchor="middle" fill="#000" letter-spacing="1">**</text>
<text x="705.3" y="718.7" font-size="26.3" text-anchor="middle" fill="#000" transform="rotate(-90 705.3 718.7)">Tumor weight (g)</text>
<rect x="1781" y="800.43" width="20.5" height="38.87" fill="#d4d4d4" stroke="#000" stroke-width="3"/>
<rect x="1811.5" y="727.7" width="20.2" height="111.6" fill="#333333" stroke="#000" stroke-width="3"/>
<rect x="1842.8" y="795.91" width="18.7" height="43.39" fill="#fd9f9f" stroke="#000" stroke-width="3"/>
<rect x="1873.5" y="652.18" width="18.6" height="187.12" fill="#f84343" stroke="#000" stroke-width="3"/>
<rect x="1904.5" y="758.32" width="18.5" height="80.98" fill="#8c8cfa" stroke="#000" stroke-width="3"/>
<line x1="1790.6" y1="798.8" x2="1790.6" y2="784.9" stroke="#000" stroke-width="3" stroke-linecap="butt"/>
<line x1="1786.6" y1="784.9" x2="1794.6" y2="784.9" stroke="#000" stroke-width="3" stroke-linecap="butt"/>
<line x1="1882.7" y1="650.6" x2="1882.7" y2="632.5" stroke="#000" stroke-width="3" stroke-linecap="butt"/>
<line x1="1878.7" y1="632.5" x2="1886.7" y2="632.5" stroke="#000" stroke-width="3" stroke-linecap="butt"/>
<line x1="1913.6" y1="756.8" x2="1913.6" y2="746.5" stroke="#000" stroke-width="3" stroke-linecap="butt"/>
<line x1="1909.6" y1="746.5" x2="1917.6" y2="746.5" stroke="#000" stroke-width="3" stroke-linecap="butt"/>
<line x1="1766" y1="560.9" x2="1766" y2="840.8" stroke="#000" stroke-width="3" stroke-linecap="butt"/>
<line x1="1752" y1="839.3" x2="1766" y2="839.3" stroke="#000" stroke-width="3" stroke-linecap="butt"/>
<text x="1747.5" y="847.22" font-size="22" text-anchor="end" fill="#000">0</text>
<line x1="1752" y1="769.7" x2="1766" y2="769.7" stroke="#000" stroke-width="3" stroke-linecap="butt"/>
<line x1="1752" y1="700.1" x2="1766" y2="700.1" stroke="#000" stroke-width="3" stroke-linecap="butt"/>
<text x="1747.5" y="708.02" font-size="22" text-anchor="end" fill="#000">4</text>
<line x1="1752" y1="630.5" x2="1766" y2="630.5" stroke="#000" stroke-width="3" stroke-linecap="butt"/>
<line x1="1752" y1="560.9" x2="1766" y2="560.9" stroke="#000" stroke-width="3" stroke-linecap="butt"/>
<text x="1747.5" y="568.82" font-size="22" text-anchor="end" fill="#000">8</text>
<line x1="1750.5" y1="839.3" x2="1939.8" y2="839.3" stroke="#000" stroke-width="3" stroke-linecap="butt"/>
<line x1="1790.6" y1="839.3" x2="1790.6" y2="850.3" stroke="#000" stroke-width="3" stroke-linecap="butt"/>
<line x1="1821" y1="839.3" x2="1821" y2="850.3" stroke="#000" stroke-width="3" stroke-linecap="butt"/>
<line x1="1852" y1="839.3" x2="1852" y2="850.3" stroke="#000" stroke-width="3" stroke-linecap="butt"/>
<line x1="1882.7" y1="839.3" x2="1882.7" y2="850.3" stroke="#000" stroke-width="3" stroke-linecap="butt"/>
<line x1="1913.6" y1="839.3" x2="1913.6" y2="850.3" stroke="#000" stroke-width="3" stroke-linecap="butt"/>
<circle cx="1790.6" cy="772.1" r="7" fill="#fff" stroke="#000" stroke-width="3"/>
<circle cx="1788.4" cy="809.4" r="7" fill="#fff" stroke="#000" stroke-width="3"/>
<circle cx="1795.9" cy="806.2" r="7" fill="#fff" stroke="#000" stroke-width="3"/>
<circle cx="1820.4" cy="716.7" r="7" fill="#fff" stroke="#000" stroke-width="3"/>
<circle cx="1825.8" cy="724.1" r="7" fill="#fff" stroke="#000" stroke-width="3"/>
<circle cx="1817.2" cy="733.7" r="7" fill="#fff" stroke="#000" stroke-width="3"/>
<rect x="1842.4" y="777" width="13.6" height="13.6" fill="#fff" stroke="#000" stroke-width="3"/>
<rect x="1849.9" y="779.2" width="13.6" height="13.6" fill="#fff" stroke="#000" stroke-width="3"/>
<rect x="1845.6" y="804.8" width="13.6" height="13.6" fill="#fff" stroke="#000" stroke-width="3"/>
<rect x="1876.5" y="609.7" width="13.6" height="13.6" fill="#fff" stroke="#000" stroke-width="3"/>
<rect x="1876.5" y="649.1" width="13.6" height="13.6" fill="#fff" stroke="#000" stroke-width="3"/>
<rect x="1876.5" y="668.3" width="13.6" height="13.6" fill="#fff" stroke="#000" stroke-width="3"/>
<path d="M1913.2 729.5 L1921.7 738 L1913.2 746.5 L1904.7 738 Z" stroke="#000" stroke-width="3" fill="#fff" stroke-linejoin="miter"/>
<path d="M1910 756.1 L1918.5 764.6 L1910 773.1 L1901.5 764.6 Z" stroke="#000" stroke-width="3" fill="#fff" stroke-linejoin="miter"/>
<path d="M1918.5 754 L1927 762.5 L1918.5 771 L1910 762.5 Z" stroke="#000" stroke-width="3" fill="#fff" stroke-linejoin="miter"/>
<path d="M1790.6 759.3 L1790.6 693.6 L1821 693.6 L1821 703.9" stroke="#000" stroke-width="1.6" fill="none" stroke-linejoin="miter"/>
<text x="1803.8" y="699.66" font-size="27.5" text-anchor="middle" fill="#000" letter-spacing="1">**</text>
<path d="M1821 675 L1821 666.6 L1852 666.6 L1852 764.6" stroke="#000" stroke-width="1.6" fill="none" stroke-linejoin="miter"/>
<text x="1835.4" y="674.06" font-size="27.5" text-anchor="middle" fill="#000" letter-spacing="1">**</text>
<path d="M1821 645.9 L1821 595 L1882.7 595 L1882.7 603.2" stroke="#000" stroke-width="1.6" fill="none" stroke-linejoin="miter"/>
<text x="1852.4" y="601.56" font-size="27.5" text-anchor="middle" fill="#000" letter-spacing="1">*</text>
<path d="M1882.7 586.6 L1882.7 577.7 L1913.6 577.7 L1913.6 711.3" stroke="#000" stroke-width="1.6" fill="none" stroke-linejoin="miter"/>
<text x="1898.2" y="581.36" font-size="27.5" text-anchor="middle" fill="#000" letter-spacing="1">**</text>
<text x="1824.7" y="527.3" font-size="21.9" text-anchor="middle" fill="#000">Tumor-infiltrating DCs.</text>
<text x="1680.1" y="707.7" font-size="26.3" text-anchor="middle" fill="#000" transform="rotate(-90 1680.1 707.7)">DCs</text>
<text x="1713.8" y="705.5" font-size="22" text-anchor="middle" transform="rotate(-90 1713.8 705.5)">(% of live CD45<tspan dy="-8" font-size="13.5">+</tspan><tspan dy="8"> T cells)</tspan></text>
<rect x="770.8" y="1279.18" width="19.3" height="52.82" fill="#d4d4d4" stroke="#000" stroke-width="3"/>
<rect x="801.2" y="1234.54" width="19.3" height="97.46" fill="#333333" stroke="#000" stroke-width="3"/>
<rect x="832.2" y="1288.87" width="18.7" height="43.13" fill="#fd9f9f" stroke="#000" stroke-width="3"/>
<rect x="863.1" y="1161.88" width="18.7" height="170.12" fill="#f84343" stroke="#000" stroke-width="3"/>
<rect x="893.3" y="1296.13" width="18.4" height="35.87" fill="#8c8cfa" stroke="#000" stroke-width="3"/>
<line x1="811.3" y1="1233" x2="811.3" y2="1225.5" stroke="#000" stroke-width="3" stroke-linecap="butt"/>
<line x1="807.3" y1="1225.5" x2="815.3" y2="1225.5" stroke="#000" stroke-width="3" stroke-linecap="butt"/>
<line x1="872.7" y1="1160.4" x2="872.7" y2="1132.3" stroke="#000" stroke-width="3" stroke-linecap="butt"/>
<line x1="868.7" y1="1132.3" x2="876.7" y2="1132.3" stroke="#000" stroke-width="3" stroke-linecap="butt"/>
<line x1="754.8" y1="1055.2" x2="754.8" y2="1333.5" stroke="#000" stroke-width="3" stroke-linecap="butt"/>
<line x1="740.8" y1="1332" x2="754.8" y2="1332" stroke="#000" stroke-width="3" stroke-linecap="butt"/>
<text x="735.8" y="1339.92" font-size="22" text-anchor="end" fill="#000">0</text>
<line x1="740.8" y1="1262.8" x2="754.8" y2="1262.8" stroke="#000" stroke-width="3" stroke-linecap="butt"/>
<line x1="740.8" y1="1193.6" x2="754.8" y2="1193.6" stroke="#000" stroke-width="3" stroke-linecap="butt"/>
<text x="735.8" y="1201.52" font-size="22" text-anchor="end" fill="#000">4</text>
<line x1="740.8" y1="1124.4" x2="754.8" y2="1124.4" stroke="#000" stroke-width="3" stroke-linecap="butt"/>
<line x1="740.8" y1="1055.2" x2="754.8" y2="1055.2" stroke="#000" stroke-width="3" stroke-linecap="butt"/>
<text x="735.8" y="1063.12" font-size="22" text-anchor="end" fill="#000">8</text>
<line x1="740.5" y1="1332" x2="930.2" y2="1332" stroke="#000" stroke-width="3" stroke-linecap="butt"/>
<line x1="781" y1="1332" x2="781" y2="1343" stroke="#000" stroke-width="3" stroke-linecap="butt"/>
<line x1="811.3" y1="1332" x2="811.3" y2="1343" stroke="#000" stroke-width="3" stroke-linecap="butt"/>
<line x1="841.7" y1="1332" x2="841.7" y2="1343" stroke="#000" stroke-width="3" stroke-linecap="butt"/>
<line x1="872.2" y1="1332" x2="872.2" y2="1343" stroke="#000" stroke-width="3" stroke-linecap="butt"/>
<line x1="902.5" y1="1332" x2="902.5" y2="1343" stroke="#000" stroke-width="3" stroke-linecap="butt"/>
<circle cx="782" cy="1269.2" r="7" fill="#fff" stroke="#000" stroke-width="3"/>
<circle cx="785.2" cy="1273.4" r="7" fill="#fff" stroke="#000" stroke-width="3"/>
<circle cx="777.4" cy="1287.3" r="7" fill="#fff" stroke="#000" stroke-width="3"/>
<circle cx="807.6" cy="1218" r="7" fill="#fff" stroke="#000" stroke-width="3"/>
<circle cx="814" cy="1236.1" r="7" fill="#fff" stroke="#000" stroke-width="3"/>
<circle cx="806.6" cy="1241.4" r="7" fill="#fff" stroke="#000" stroke-width="3"/>
<rect x="831.7" y="1284.8" width="13.6" height="13.6" fill="#fff" stroke="#000" stroke-width="3"/>
<rect x="839.2" y="1288" width="13.6" height="13.6" fill="#fff" stroke="#000" stroke-width="3"/>
<rect x="831.7" y="1303.9" width="13.6" height="13.6" fill="#fff" stroke="#000" stroke-width="3"/>
<rect x="865.9" y="1107.8" width="13.6" height="13.6" fill="#fff" stroke="#000" stroke-width="3"/>
<rect x="865.9" y="1148.3" width="13.6" height="13.6" fill="#fff" stroke="#000" stroke-width="3"/>
<rect x="865.9" y="1197.3" width="13.6" height="13.6" fill="#fff" stroke="#000" stroke-width="3"/>
<path d="M902.5 1273.5 L911 1282 L902.5 1290.5 L894 1282 Z" stroke="#000" stroke-width="3" fill="#fff" stroke-linejoin="miter"/>
<path d="M907.8 1282 L916.3 1290.5 L907.8 1299 L899.3 1290.5 Z" stroke="#000" stroke-width="3" fill="#fff" stroke-linejoin="miter"/>
<path d="M898.2 1289.5 L906.7 1298 L898.2 1306.5 L889.7 1298 Z" stroke="#000" stroke-width="3" fill="#fff" stroke-linejoin="miter"/>
<path d="M781 1259.6 L781 1193.9 L811.3 1193.9 L811.3 1204.1" stroke="#000" stroke-width="1.6" fill="none" stroke-linejoin="miter"/>
<text x="793.8" y="1199.96" font-size="27.5" text-anchor="middle" fill="#000" letter-spacing="1">**</text>
<path d="M811.3 1175.4 L811.3 1166.4 L841.7 1166.4 L841.7 1263.8" stroke="#000" stroke-width="1.6" fill="none" stroke-linejoin="miter"/>
<text x="824.7" y="1173.26" font-size="27.5" text-anchor="middle" fill="#000" letter-spacing="1">**</text>
<path d="M811.3 1145.5 L811.3 1094.8 L872.2 1094.8 L872.2 1103.3" stroke="#000" stroke-width="1.6" fill="none" stroke-linejoin="miter"/>
<text x="841.7" y="1101.86" font-size="27.5" text-anchor="middle" fill="#000" letter-spacing="1">*</text>
<path d="M872.2 1086.9 L872.2 1077.3 L902.5 1077.3 L902.5 1258.5" stroke="#000" stroke-width="1.6" fill="none" stroke-linejoin="miter"/>
<text x="887.6" y="1081.56" font-size="27.5" text-anchor="middle" fill="#000" letter-spacing="1">**</text>
<text x="796.4" y="989.9" font-size="21.7" text-anchor="middle" fill="#000">Tumor-infiltrating M1</text>
<text x="669" y="1197.2" font-size="26.3" text-anchor="middle" fill="#000" transform="rotate(-90 669 1197.2)">M1 cells</text>
<text x="704.4" y="1198.8" font-size="22" text-anchor="middle" fill="#000" transform="rotate(-90 704.4 1198.8)">(% of BMDMs)</text>
<rect x="1780.8" y="1240.1" width="19.3" height="90.9" fill="#d4d4d4" stroke="#000" stroke-width="3"/>
<rect x="1810.6" y="1168.03" width="20" height="162.97" fill="#333333" stroke="#000" stroke-width="3"/>
<rect x="1841.5" y="1205.45" width="19" height="125.55" fill="#fd9f9f" stroke="#000" stroke-width="3"/>
<rect x="1871.4" y="1110.74" width="19.4" height="220.26" fill="#f84343" stroke="#000" stroke-width="3"/>
<rect x="1901.2" y="1183.27" width="19.4" height="147.73" fill="#8c8cfa" stroke="#000" stroke-width="3"/>
<line x1="1819.8" y1="1166.4" x2="1819.8" y2="1160.4" stroke="#000" stroke-width="3" stroke-linecap="butt"/>
<line x1="1815.8" y1="1160.4" x2="1823.8" y2="1160.4" stroke="#000" stroke-width="3" stroke-linecap="butt"/>
<line x1="1763.9" y1="1053.8" x2="1763.9" y2="1332.5" stroke="#000" stroke-width="3" stroke-linecap="butt"/>
<line x1="1749.9" y1="1331" x2="1763.9" y2="1331" stroke="#000" stroke-width="3" stroke-linecap="butt"/>
<text x="1745.6" y="1338.92" font-size="22" text-anchor="end" fill="#000">0</text>
<line x1="1749.9" y1="1238.6" x2="1763.9" y2="1238.6" stroke="#000" stroke-width="3" stroke-linecap="butt"/>
<text x="1745.6" y="1246.52" font-size="22" text-anchor="end" fill="#000">20</text>
<line x1="1749.9" y1="1146.2" x2="1763.9" y2="1146.2" stroke="#000" stroke-width="3" stroke-linecap="butt"/>
<text x="1745.6" y="1154.12" font-size="22" text-anchor="end" fill="#000">40</text>
<line x1="1749.9" y1="1053.8" x2="1763.9" y2="1053.8" stroke="#000" stroke-width="3" stroke-linecap="butt"/>
<line x1="1750.5" y1="1331" x2="1938.1" y2="1331" stroke="#000" stroke-width="3" stroke-linecap="butt"/>
<line x1="1789.5" y1="1331" x2="1789.5" y2="1342" stroke="#000" stroke-width="3" stroke-linecap="butt"/>
<line x1="1819.8" y1="1331" x2="1819.8" y2="1342" stroke="#000" stroke-width="3" stroke-linecap="butt"/>
<line x1="1850" y1="1331" x2="1850" y2="1342" stroke="#000" stroke-width="3" stroke-linecap="butt"/>
<line x1="1880.5" y1="1331" x2="1880.5" y2="1342" stroke="#000" stroke-width="3" stroke-linecap="butt"/>
<line x1="1911.4" y1="1331" x2="1911.4" y2="1342" stroke="#000" stroke-width="3" stroke-linecap="butt"/>
<circle cx="1787.8" cy="1229.7" r="7" fill="#fff" stroke="#000" stroke-width="3"/>
<circle cx="1794.2" cy="1231.8" r="7" fill="#fff" stroke="#000" stroke-width="3"/>
<circle cx="1789.9" cy="1253.2" r="7" fill="#fff" stroke="#000" stroke-width="3"/>
<circle cx="1819.8" cy="1150.8" r="7" fill="#fff" stroke="#000" stroke-width="3"/>
<circle cx="1823" cy="1170" r="7" fill="#fff" stroke="#000" stroke-width="3"/>
<circle cx="1816.6" cy="1173.2" r="7" fill="#fff" stroke="#000" stroke-width="3"/>
<rect x="1840.7" y="1190.9" width="13.6" height="13.6" fill="#fff" stroke="#000" stroke-width="3"/>
<rect x="1848.2" y="1204.8" width="13.6" height="13.6" fill="#fff" stroke="#000" stroke-width="3"/>
<rect x="1843.9" y="1227.2" width="13.6" height="13.6" fill="#fff" stroke="#000" stroke-width="3"/>
<rect x="1874.8" y="1082.2" width="13.6" height="13.6" fill="#fff" stroke="#000" stroke-width="3"/>
<rect x="1874.8" y="1099.3" width="13.6" height="13.6" fill="#fff" stroke="#000" stroke-width="3"/>
<rect x="1874.8" y="1120.6" width="13.6" height="13.6" fill="#fff" stroke="#000" stroke-width="3"/>
<path d="M1907.2 1162.6 L1915.7 1171.1 L1907.2 1179.6 L1898.7 1171.1 Z" stroke="#000" stroke-width="3" fill="#fff" stroke-linejoin="miter"/>
<path d="M1915.7 1166.9 L1924.2 1175.4 L1915.7 1183.9 L1907.2 1175.4 Z" stroke="#000" stroke-width="3" fill="#fff" stroke-linejoin="miter"/>
<path d="M1911.4 1183.9 L1919.9 1192.4 L1911.4 1200.9 L1902.9 1192.4 Z" stroke="#000" stroke-width="3" fill="#fff" stroke-linejoin="miter"/>
<path d="M1789.5 1214.8 L1789.5 1093.3 L1819.8 1093.3 L1819.8 1103.9" stroke="#000" stroke-width="1.6" fill="none" stroke-linejoin="miter"/>
<text x="1803.1" y="1099.66" font-size="27.5" text-anchor="middle" fill="#000" letter-spacing="1">**</text>
<path d="M1819.8 1074 L1819.8 1063.4 L1850 1063.4 L1850 1182.8" stroke="#000" stroke-width="1.6" fill="none" stroke-linejoin="miter"/>
<text x="1833.6" y="1070.96" font-size="27.5" text-anchor="middle" fill="#000" letter-spacing="1">*</text>
<path d="M1819.8 1052.1 L1819.8 1043.2 L1880.5 1043.2 L1880.5 1076.8" stroke="#000" stroke-width="1.6" fill="none" stroke-linejoin="miter"/>
<text x="1848.5" y="1050.66" font-size="27.5" text-anchor="middle" fill="#000" letter-spacing="1">*</text>
<path d="M1880.5 1034.6 L1880.5 1026.1 L1911.4 1026.1 L1911.4 1159.4" stroke="#000" stroke-width="1.6" fill="none" stroke-linejoin="miter"/>
<text x="1895.5" y="1030.36" font-size="27.5" text-anchor="middle" fill="#000" letter-spacing="1">**</text>
<text x="1691.8" y="989.9" font-size="21.95">Tumor-infiltrating CD8<tspan dy="-8" font-size="13.4">+</tspan><tspan dy="8">T cels</tspan></text>
<text x="1680.1" y="1208.4" font-size="26.3" text-anchor="middle" transform="rotate(-90 1680.1 1208.4)">CD8<tspan dy="-10" font-size="16.3">+</tspan><tspan dy="10"> T cells</tspan></text>
<text x="1716.4" y="1208.4" font-size="22" text-anchor="middle" transform="rotate(-90 1716.4 1208.4)">(% of CD3<tspan dy="-8" font-size="13.6">+</tspan><tspan dy="8">CD45</tspan><tspan dy="-8" font-size="13.6">+</tspan><tspan dy="8"> T cells)</tspan></text>
<rect x="399.6" y="1757.72" width="20.6" height="28.88" fill="#d4d4d4" stroke="#000" stroke-width="3"/>
<rect x="431.2" y="1604.75" width="19.2" height="181.85" fill="#333333" stroke="#000" stroke-width="3"/>
<rect x="461.3" y="1735.67" width="19.2" height="50.93" fill="#fd9f9f" stroke="#000" stroke-width="3"/>
<rect x="491.8" y="1548.15" width="19.1" height="238.45" fill="#f84343" stroke="#000" stroke-width="3"/>
<rect x="522.8" y="1691.22" width="19.1" height="95.38" fill="#8c8cfa" stroke="#000" stroke-width="3"/>
<line x1="531.6" y1="1689.8" x2="531.6" y2="1667" stroke="#000" stroke-width="3" stroke-linecap="butt"/>
<line x1="527.6" y1="1667" x2="535.6" y2="1667" stroke="#000" stroke-width="3" stroke-linecap="butt"/>
<line x1="384.5" y1="1508.8" x2="384.5" y2="1788.1" stroke="#000" stroke-width="3" stroke-linecap="butt"/>
<line x1="370.5" y1="1786.6" x2="384.5" y2="1786.6" stroke="#000" stroke-width="3" stroke-linecap="butt"/>
<text x="367.5" y="1794.52" font-size="22" text-anchor="end" fill="#000">0</text>
<line x1="370.5" y1="1717.15" x2="384.5" y2="1717.15" stroke="#000" stroke-width="3" stroke-linecap="butt"/>
<line x1="370.5" y1="1647.7" x2="384.5" y2="1647.7" stroke="#000" stroke-width="3" stroke-linecap="butt"/>
<text x="367.5" y="1655.62" font-size="22" text-anchor="end" fill="#000">400</text>
<line x1="370.5" y1="1578.25" x2="384.5" y2="1578.25" stroke="#000" stroke-width="3" stroke-linecap="butt"/>
<line x1="370.5" y1="1508.8" x2="384.5" y2="1508.8" stroke="#000" stroke-width="3" stroke-linecap="butt"/>
<text x="367.5" y="1516.72" font-size="22" text-anchor="end" fill="#000">800</text>
<line x1="369.2" y1="1786.6" x2="558.2" y2="1786.6" stroke="#000" stroke-width="3" stroke-linecap="butt"/>
<line x1="409" y1="1786.6" x2="409" y2="1797.6" stroke="#000" stroke-width="3" stroke-linecap="butt"/>
<line x1="440" y1="1786.6" x2="440" y2="1797.6" stroke="#000" stroke-width="3" stroke-linecap="butt"/>
<line x1="470.2" y1="1786.6" x2="470.2" y2="1797.6" stroke="#000" stroke-width="3" stroke-linecap="butt"/>
<line x1="500.6" y1="1786.6" x2="500.6" y2="1797.6" stroke="#000" stroke-width="3" stroke-linecap="butt"/>
<line x1="531.6" y1="1786.6" x2="531.6" y2="1797.6" stroke="#000" stroke-width="3" stroke-linecap="butt"/>
<circle cx="407.6" cy="1745.9" r="7" fill="#fff" stroke="#000" stroke-width="3"/>
<circle cx="412" cy="1757.7" r="7" fill="#fff" stroke="#000" stroke-width="3"/>
<circle cx="406.1" cy="1763.6" r="7" fill="#fff" stroke="#000" stroke-width="3"/>
<circle cx="440" cy="1583.4" r="7" fill="#fff" stroke="#000" stroke-width="3"/>
<circle cx="440" cy="1601.2" r="7" fill="#fff" stroke="#000" stroke-width="3"/>
<circle cx="440" cy="1621.8" r="7" fill="#fff" stroke="#000" stroke-width="3"/>
<rect x="462.8" y="1714" width="13.6" height="13.6" fill="#fff" stroke="#000" stroke-width="3"/>
<rect x="459.8" y="1737.6" width="13.6" height="13.6" fill="#fff" stroke="#000" stroke-width="3"/>
<rect x="464.2" y="1734.7" width="13.6" height="13.6" fill="#fff" stroke="#000" stroke-width="3"/>
<rect x="490.8" y="1535.3" width="13.6" height="13.6" fill="#fff" stroke="#000" stroke-width="3"/>
<rect x="498.2" y="1547.1" width="13.6" height="13.6" fill="#fff" stroke="#000" stroke-width="3"/>
<rect x="495.3" y="1564.8" width="13.6" height="13.6" fill="#fff" stroke="#000" stroke-width="3"/>
<path d="M531.6 1635.5 L540.1 1644 L531.6 1652.5 L523.1 1644 Z" stroke="#000" stroke-width="3" fill="#fff" stroke-linejoin="miter"/>
<path d="M528.6 1703.4 L537.1 1711.9 L528.6 1720.4 L520.1 1711.9 Z" stroke="#000" stroke-width="3" fill="#fff" stroke-linejoin="miter"/>
<path d="M534.6 1701.9 L543.1 1710.4 L534.6 1718.9 L526.1 1710.4 Z" stroke="#000" stroke-width="3" fill="#fff" stroke-linejoin="miter"/>
<path d="M409 1729.6 L409 1567.2 L440 1567.2 L440 1571.6" stroke="#000" stroke-width="1.6" fill="none" stroke-linejoin="miter"/>
<text x="420.9" y="1577.76" font-size="27.5" text-anchor="middle" fill="#000" letter-spacing="1">**</text>
<path d="M440 1564.2 L440 1560.7 L470.2 1560.7 L470.2 1704.5" stroke="#000" stroke-width="1.6" fill="none" stroke-linejoin="miter"/>
<text x="453.3" y="1570.36" font-size="27.5" text-anchor="middle" fill="#000" letter-spacing="1">**</text>
<path d="M500.6 1514 L500.6 1505.2 L531.6 1505.2 L531.6 1587.9" stroke="#000" stroke-width="1.6" fill="none" stroke-linejoin="miter"/>
<text x="516.2" y="1512.76" font-size="27.5" text-anchor="middle" fill="#000" letter-spacing="1">*</text>
<path d="M440 1552.4 L440 1522 L500.6 1522 L500.6 1525.9" stroke="#000" stroke-width="1.6" fill="none" stroke-linejoin="miter"/>
<text x="469.6" y="1517.6" font-size="21.5" text-anchor="middle" fill="#000">ns</text>
<text x="315.8" y="1646.6" font-size="26.6" text-anchor="middle" transform="rotate(-90 315.8 1646.6)">TNF<tspan font-family="'Liberation Serif', serif" font-size="27.5">α</tspan><tspan dy="-10" font-size="16.3">+</tspan><tspan dy="10">CD8 (MFI)</tspan></text>
<rect x="969.6" y="1724.83" width="19.8" height="63.27" fill="#d4d4d4" stroke="#000" stroke-width="3"/>
<rect x="1001.2" y="1621.19" width="18.6" height="166.91" fill="#333333" stroke="#000" stroke-width="3"/>
<rect x="1032.2" y="1695.21" width="18.3" height="92.89" fill="#fd9f9f" stroke="#000" stroke-width="3"/>
<rect x="1061.8" y="1549.01" width="19.1" height="239.09" fill="#f84343" stroke="#000" stroke-width="3"/>
<rect x="1092.8" y="1647.65" width="18.5" height="140.45" fill="#8c8cfa" stroke="#000" stroke-width="3"/>
<line x1="1039.6" y1="1694.2" x2="1039.6" y2="1675" stroke="#000" stroke-width="3" stroke-linecap="butt"/>
<line x1="1035.6" y1="1675" x2="1043.6" y2="1675" stroke="#000" stroke-width="3" stroke-linecap="butt"/>
<line x1="1101" y1="1646.3" x2="1101" y2="1624.8" stroke="#000" stroke-width="3" stroke-linecap="butt"/>
<line x1="1097" y1="1624.8" x2="1105" y2="1624.8" stroke="#000" stroke-width="3" stroke-linecap="butt"/>
<line x1="953.9" y1="1510.49" x2="953.9" y2="1789.6" stroke="#000" stroke-width="3" stroke-linecap="butt"/>
<line x1="939.9" y1="1788.1" x2="953.9" y2="1788.1" stroke="#000" stroke-width="3" stroke-linecap="butt"/>
<text x="936.9" y="1796.02" font-size="22" text-anchor="end" fill="#000">0</text>
<line x1="939.9" y1="1695.56" x2="953.9" y2="1695.56" stroke="#000" stroke-width="3" stroke-linecap="butt"/>
<text x="936.9" y="1703.48" font-size="22" text-anchor="end" fill="#000">50</text>
<line x1="939.9" y1="1603.03" x2="953.9" y2="1603.03" stroke="#000" stroke-width="3" stroke-linecap="butt"/>
<text x="936.9" y="1610.95" font-size="22" text-anchor="end" fill="#000">100</text>
<line x1="939.9" y1="1510.49" x2="953.9" y2="1510.49" stroke="#000" stroke-width="3" stroke-linecap="butt"/>
<text x="936.9" y="1518.41" font-size="22" text-anchor="end" fill="#000">150</text>
<line x1="939.2" y1="1788.1" x2="1127.6" y2="1788.1" stroke="#000" stroke-width="3" stroke-linecap="butt"/>
<line x1="979" y1="1788.1" x2="979" y2="1799.1" stroke="#000" stroke-width="3" stroke-linecap="butt"/>
<line x1="1009.5" y1="1788.1" x2="1009.5" y2="1799.1" stroke="#000" stroke-width="3" stroke-linecap="butt"/>
<line x1="1039.6" y1="1788.1" x2="1039.6" y2="1799.1" stroke="#000" stroke-width="3" stroke-linecap="butt"/>
<line x1="1070" y1="1788.1" x2="1070" y2="1799.1" stroke="#000" stroke-width="3" stroke-linecap="butt"/>
<line x1="1101" y1="1788.1" x2="1101" y2="1799.1" stroke="#000" stroke-width="3" stroke-linecap="butt"/>
<circle cx="976.1" cy="1701.6" r="7" fill="#fff" stroke="#000" stroke-width="3"/>
<circle cx="982" cy="1711.9" r="7" fill="#fff" stroke="#000" stroke-width="3"/>
<circle cx="979" cy="1753.3" r="7" fill="#fff" stroke="#000" stroke-width="3"/>
<circle cx="1007.1" cy="1602" r="7" fill="#fff" stroke="#000" stroke-width="3"/>
<circle cx="1013" cy="1615.9" r="7" fill="#fff" stroke="#000" stroke-width="3"/>
<circle cx="1010" cy="1644" r="7" fill="#fff" stroke="#000" stroke-width="3"/>
<rect x="1032.8" y="1656.4" width="13.6" height="13.6" fill="#fff" stroke="#000" stroke-width="3"/>
<rect x="1032.8" y="1680" width="13.6" height="13.6" fill="#fff" stroke="#000" stroke-width="3"/>
<rect x="1032.8" y="1718.4" width="13.6" height="13.6" fill="#fff" stroke="#000" stroke-width="3"/>
<rect x="1060.8" y="1544.2" width="13.6" height="13.6" fill="#fff" stroke="#000" stroke-width="3"/>
<rect x="1068.2" y="1548.6" width="13.6" height="13.6" fill="#fff" stroke="#000" stroke-width="3"/>
<rect x="1060.8" y="1560.4" width="13.6" height="13.6" fill="#fff" stroke="#000" stroke-width="3"/>
<path d="M1101.6 1598.6 L1110.1 1607.1 L1101.6 1615.6 L1093.1 1607.1 Z" stroke="#000" stroke-width="3" fill="#fff" stroke-linejoin="miter"/>
<path d="M1104.6 1648.8 L1113.1 1657.3 L1104.6 1665.8 L1096.1 1657.3 Z" stroke="#000" stroke-width="3" fill="#fff" stroke-linejoin="miter"/>
<path d="M1097.2 1663.5 L1105.7 1672 L1097.2 1680.5 L1088.7 1672 Z" stroke="#000" stroke-width="3" fill="#fff" stroke-linejoin="miter"/>
<path d="M979 1680.9 L979 1572.5 L1009.5 1572.5 L1009.5 1582" stroke="#000" stroke-width="1.6" fill="none" stroke-linejoin="miter"/>
<text x="995.3" y="1581.56" font-size="27.5" text-anchor="middle" fill="#000" letter-spacing="1">**</text>
<path d="M1009.5 1585 L1009.5 1577.5 L1039.6 1577.5 L1039.6 1655.8" stroke="#000" stroke-width="1.6" fill="none" stroke-linejoin="miter"/>
<text x="1024.8" y="1581.56" font-size="27.5" text-anchor="middle" fill="#000" letter-spacing="1">**</text>
<path d="M1009.5 1551.8 L1009.5 1523.5 L1070 1523.5 L1070 1531.2" stroke="#000" stroke-width="1.6" fill="none" stroke-linejoin="miter"/>
<text x="1041" y="1528.96" font-size="27.5" text-anchor="middle" fill="#000" letter-spacing="1">*</text>
<path d="M1070 1515.5 L1070 1506.7 L1101 1506.7 L1101 1590.8" stroke="#000" stroke-width="1.6" fill="none" stroke-linejoin="miter"/>
<text x="1086.8" y="1514.26" font-size="27.5" text-anchor="middle" fill="#000" letter-spacing="1">*</text>
<text x="887.5" y="1657.3" font-size="26.3" text-anchor="middle" transform="rotate(-90 887.5 1657.3)">IFN<tspan font-family="'Liberation Serif', serif" font-size="27.5">γ</tspan><tspan dy="-10" font-size="16.3">+</tspan><tspan dy="10">CD8</tspan><tspan dy="-10" font-size="16.3">+</tspan><tspan dy="10"> (MFI)</tspan></text>
<rect x="1199" y="1486.7" width="23.2" height="10.3" fill="#d4d4d4" stroke="#000" stroke-width="2.6"/>
<text x="1229.3" y="1498.1" font-size="22" text-anchor="start" fill="#000">PBS</text>
<rect x="1199" y="1519.8" width="23.2" height="10.3" fill="#333333" stroke="#000" stroke-width="2.6"/>
<text x="1229.3" y="1533.4" font-size="22" text-anchor="start" fill="#000">OXP</text>
<rect x="1199" y="1552.9" width="23.2" height="10.3" fill="#fd9f9f" stroke="#000" stroke-width="2.6"/>
<text x="1229.3" y="1566.1" font-size="22" text-anchor="start" fill="#000">OXP/C.L.</text>
<rect x="1199" y="1585.8" width="23.2" height="10.3" fill="#f84343" stroke="#000" stroke-width="2.6"/>
<text x="1229.3" y="1599.2" font-size="22" text-anchor="start" fill="#000">OXP/BzATP</text>
<rect x="1199" y="1619.1" width="23.2" height="10.3" fill="#8c8cfa" stroke="#000" stroke-width="2.6"/>
<text x="1229.3" y="1630.8" font-size="22" text-anchor="start" fill="#000">OXP/BzATP/C.L.</text>
<text x="1004.1" y="470.5" font-size="65" text-anchor="start" fill="#000">D</text>
<line x1="1084.6" y1="869.3" x2="1084.6" y2="530.5" stroke="#000" stroke-width="2.2" stroke-linecap="butt"/>
<path d="M1079.1 531.5 L1090.1 531.5 L1084.6 520.5 Z" stroke="none" stroke-width="0" fill="#000" stroke-linejoin="miter"/>
<line x1="1083.5" y1="869.3" x2="1593" y2="869.3" stroke="#000" stroke-width="2.2" stroke-linecap="butt"/>
<path d="M1592 863.8 L1592 874.8 L1603 869.3 Z" stroke="none" stroke-width="0" fill="#000" stroke-linejoin="miter"/>
<text x="1074" y="679.2" font-size="22" text-anchor="middle" fill="#000" transform="rotate(-90 1074 679.2)">MHC-II-BV711</text>
<text x="1361.4" y="891.4" font-size="22" text-anchor="middle" fill="#000">CD11c-AF488</text>
<text x="1187.8" y="517.3" font-size="21.5" text-anchor="middle" fill="#000">PBS</text>
<text x="1367.7" y="517.3" font-size="21.5" text-anchor="middle" fill="#000">OXP</text>
<text x="1197" y="705" font-size="21.5" text-anchor="middle" fill="#000">OXP/C.L.</text>
<text x="1364.6" y="705" font-size="21.5" text-anchor="middle" fill="#000">OXP/BzATP</text>
<text x="1535" y="705" font-size="21.5" text-anchor="middle" fill="#000">OXP/BzATP/C.L.</text>
<path d="M1125.6 523H1260.6V658" fill="none" stroke="#9a9a9a" stroke-width="1.1"/>
<path d="M1125.6 522.5V658H1260.6" fill="none" stroke="#333" stroke-width="1.3"/>
<path d="M1121.1 523.7h4.5M1121.1 557h4.5M1121.1 591h4.5M1121.1 627h4.5M1121.1 658h4.5M1125.6 658v4.5M1169.1 658v4.5M1213.6 658v4.5M1258.6 658v4.5" stroke="#333" stroke-width="1.2"/>
<path d="M1123.1 547h2.5M1123.1 541.1h2.5M1123.1 537h2.5M1123.1 533.7h2.5M1123.1 531.1h2.5M1123.1 528.9h2.5M1123.1 526.9h2.5M1123.1 525.2h2.5M1123.1 580.8h2.5M1123.1 574.8h2.5M1123.1 570.5h2.5M1123.1 567.2h2.5M1123.1 564.5h2.5M1123.1 562.3h2.5M1123.1 560.3h2.5M1123.1 558.6h2.5M1123.1 616.2h2.5M1123.1 609.8h2.5M1123.1 605.3h2.5M1123.1 601.8h2.5M1123.1 599h2.5M1123.1 596.6h2.5M1123.1 594.5h2.5M1123.1 592.6h2.5M1123.1 648.7h2.5M1123.1 643.2h2.5M1123.1 639.3h2.5M1123.1 636.3h2.5M1123.1 633.9h2.5M1123.1 631.8h2.5M1123.1 630h2.5M1123.1 628.4h2.5M1138.7 658v2.5M1146.4 658v2.5M1151.8 658v2.5M1156 658v2.5M1159.4 658v2.5M1162.4 658v2.5M1164.9 658v2.5M1167.1 658v2.5M1182.5 658v2.5M1190.3 658v2.5M1195.9 658v2.5M1200.2 658v2.5M1203.7 658v2.5M1206.7 658v2.5M1209.3 658v2.5M1211.6 658v2.5M1227.1 658v2.5M1235.1 658v2.5M1240.7 658v2.5M1245.1 658v2.5M1248.6 658v2.5M1251.6 658v2.5M1254.2 658v2.5M1256.5 658v2.5" stroke="#444" stroke-width="0.9"/>
<rect x="1121.1" y="642" width="3.5" height="4" fill="#111" stroke="none" stroke-width="0"/>
<rect x="1149.6" y="658.5" width="5" height="3" fill="#111" stroke="none" stroke-width="0"/>
<path d="M1198.6 571.6l-0.5 -0.1 -0.5 -0.9 -0.1 -0.6 0 -1 0.2 -0.5 0.4 -0.5 0.7 0 0.4 0.5 0.3 1 -0.1 1 -0.3 0.8 -0.5 0.3zM1157.6 583l-1 0.4 -1 -0.3 -0.5 -0.4 -0.4 -0.7 0 -1 0.4 -0.8 0.5 -0.4 1 -0.2 0.9 0.4 0.5 0.5 0.3 0.5 0 1 -0.2 0.5 -0.5 0.5zM1188.6 584.6l-1 0.3 -1 -0.3 -0.5 -0.3 -0.5 -0.5 -0.4 -0.8 0 -1 0.4 -1 0.5 -0.4 0.5 -0.3 1 -0.1 1 0.3 0.5 0.4 0.4 0.6 0.2 0.5 0 1 -0.1 0.5 -0.5 0.8 -0.5 0.3zM1169.1 647l-2 0.1 -1.5 -0.2 -1.5 -0.4 -1.8 -0.5 -1.7 -0.3 -1.5 -0.3 -1.5 -0.5 -1.5 -0.6 -1.4 -0.8 -1.1 -0.8 -1 -0.7 -1 -1 -1 -1.2 -0.8 -1.3 -0.7 -1.2 -0.8 -1.3 -0.7 -1 -1 -1.1 -1 -1.3 -0.6 -1.1 0 -2 0.6 -1 1 -1.2 1 -1 1 -1.2 0.7 -1.1 0.6 -1.5 0.4 -1.5 0.3 -1.7 0.4 -1.8 0.6 -1.3 0.9 -1.2 1.1 -0.9 1 -0.6 1.2 -1 0.8 -1.3 0.2 -1.7 -0.1 -2 0.4 -1.6 1 -1.3 1 -1 1 -0.9 1 -1.1 0.8 -1.1 0.7 -1.1 0.9 -1.4 0.6 -1.4 0.4 -1.6 0.5 -1.5 0.6 -1.1 1 -1.3 1 -0.8 1.5 -0.5 1.5 0.2 1.5 0.6 1.2 0.9 0.9 1 0.9 1.3 0.6 1.2 0.5 1.5 0.3 2 0.2 1.5 0.5 1.5 0.7 1.5 0.7 1.4 0.6 1.1 0.9 1.2 1 0.9 1.5 0.7 1.5 0.4 1.5 0.5 1.5 0.7 1.1 0.6 1.3 1 1 1 0.8 1 0.8 1 1 1.4 0.6 1.1 0.4 2 -0.3 2 -0.3 1.5 0.1 1.8 0.5 1.7 0.4 1.5 0.3 1.5 0.4 1.5 0.2 2 -0.3 2 -0.5 1.3 -0.7 1.2 -0.8 1.3 -0.9 1.2 -0.8 1 -1 1 -1.3 1 -1.3 0.5 -1.7 0.4 -1.5 0.2 -1.9 0.4 -1.5 0.5 -1.5 0.5 -1.6 0.5 -1.5 0.2 -1.9 0.3 -1.6 0.2 -1.5 0.4 -2 0.4z" fill="#d6d6d6" stroke="#8a8a8a" stroke-width="0.8"/>
<path d="M1166.1 643l-1.5 0 -2 0 -1.5 0.1 -2 0.1 -1.5 -0.3 -1.5 -0.7 -1 -0.7 -1.2 -1 -0.9 -1 -0.9 -1.2 -0.8 -1.3 -0.7 -1.5 -0.5 -1.2 -0.5 -1.8 0 -1.5 0.5 -1.4 0.7 -1.1 0.8 -1.3 0.5 -1.2 0.5 -2 0.2 -1.5 0.3 -2 0.4 -1.5 0.6 -1.3 1 -1 1 -0.7 1.5 -0.8 1.3 -0.7 1 -1 0.5 -1.5 0.1 -2 -0.1 -2 0.6 -1.5 0.7 -1 0.9 -1.1 1 -1.3 0.9 -1.1 1 -1 1.1 -0.7 1.5 -0.4 1.8 0.1 1.6 0.5 1.1 0.5 1.3 1 0.9 1 0.8 1.2 0.6 1.3 0.6 1.5 0.6 1.5 0.7 1.2 1 0.9 1.5 0.7 1.5 0.4 1.5 0.3 1.9 0.5 1.1 0.5 1.5 1 1 0.9 1 1.1 0.6 1 0.4 2 -0.4 2 -0.2 1.5 0.2 1.5 0.5 1.5 0.5 1.5 0.4 1.6 0.2 1.9 0.1 2 -0.3 1.5 -0.6 1.5 -0.9 1.2 -1 1 -1 0.9 -1.5 0.9 -1.5 0.5 -1.5 0.2 -2 0.1 -2 -0.2 -1.5 -0.2 -2 -0.1 -1.7 0.2 -1.8 0.4 -1.5 0.6 -1.2 0.5 -1.3 0.7 -1.5 0.6 -1.5 0.2zM1179.1 627.5l0.4 -1 -0.4 -0.7 -0.8 0.2 0.1 1 0.6 0.5 0.1 0z" fill="#cbcbcb" stroke="#f2f2f2" stroke-width="0.9"/>
<path d="M1159.1 641.5l-1.5 -0.2 -1.5 -0.8 -1 -0.9 -1 -1 -0.8 -1.1 -0.7 -1.4 -0.5 -1.6 0 -1.5 0.4 -1.5 0.7 -1 0.9 -1.1 1 -1.4 0.3 -1.5 -0.3 -1.5 -0.3 -2 0.2 -2 0.5 -1.5 1 -1 1.1 -0.5 1.5 0.1 1.4 0.9 0.9 1 0.9 1 0.9 1 1.4 0.8 1.9 -0.3 1.1 -0.9 0.7 -1.1 0.5 -1.5 0.6 -1.5 0.7 -1.5 0.2 -1.5 -1.2 -0.7 -1.5 -0.6 -1.1 -0.7 -0.9 -1.1 -0.8 -1.4 -0.4 -1.5 0 -2 0.5 -1.5 0.7 -1.1 1 -1 1.5 -0.6 2 0.2 1.3 0.5 1.2 0.8 1 1.1 0.6 1.1 0.4 1.5 0.4 2 0.5 1.5 0.9 1 1.2 0.8 1.4 0.7 1.4 0.5 1.7 0.3 2 0.2 1.5 0.4 1.1 0.6 1.1 1 0.8 1.5 0 1.3 -0.5 1.7 -0.5 1.3 -0.6 1.2 0.3 1.5 1.1 1 0.7 1 0.6 1.5 0.2 2 -0.3 1.6 -0.8 1.4 -1.1 1 -1.1 0.6 -1.5 0.4 -1.3 -0.5 -0.4 -1.5 0.2 -1.5 0.5 -1.6 0.5 -1.6 0.5 -1.3 0.7 -1.5 0.6 -1.5 -1.3 -0.9 -1 -0.6 -1.5 -1 -1 -0.8 -1 -0.7 -1.5 -0.8 -1.5 -0.3 -1.5 0.5 -0.8 1.1 -0.5 1.5 -0.3 1.5 0 2 0.4 1.5 0.5 1.5 0.7 1.4 0.6 1.1 0.6 1.5 -0.2 1.6 -1 1.1 -1.1 0.8 -1.4 0.8 -1.5 0.7 -1 0.5 -1.5 0.7 -1.5 0.6 -1.5 0.3 -2 0.3 -1.5 0.3 -1.5 0.4 -2 0.4z" fill="#d2d2d2" stroke="#f2f2f2" stroke-width="0.9"/>
<path d="M1170.1 609.6l-1.5 -0.3 -1 -0.9 -0.6 -1.4 0.3 -1.5 1.2 -1 1.1 0 1.5 0.9 0.8 1.1 -0.1 2 -1.2 1zM1160.6 639.5l-2 0.4 -1.5 -0.5 -1.2 -0.9 -0.9 -1 -0.9 -1.5 -0.3 -1.5 0.3 -1.5 1 -1.4 1 -0.8 1 -0.8 1 -1.1 0.6 -1.4 -0.1 -1.6 -0.6 -1.4 -0.6 -1.5 0.3 -1.5 1.7 0 1.1 1 0.9 1 1.2 0.9 1.5 0.6 1.3 0 1.7 -0.5 1 -0.5 1.5 -1 1 -0.7 1.3 0.7 0.4 1.5 0.4 1.5 0.5 1.5 0.5 1.5 0.6 1.5 0.3 1.7 -0.2 1.3 -0.8 1.3 -1 0.8 -1.4 0.9 -1.1 0.6 -1.5 0.7 -1.5 0.4 -1.7 0.3 -1.8 0.2 -1.5 0.3 -1.5 0.5z" fill="#c6c6c6" stroke="#f2f2f2" stroke-width="0.9"/>
<path d="M1158.6 638l-1.5 -0.5 -1 -1 -0.5 -1.2 0.1 -1.3 0.9 -1.1 1.4 -0.9 1.1 -0.7 1 -0.9 1 -1.2 1 -1.1 1.1 -0.6 1.7 -0.5 1.5 -0.5 1.4 -0.5 1.8 -0.4 1.4 0.9 0.7 1 0.7 1.5 0.5 1.5 0 2 -0.8 1.4 -1 0.9 -1.1 0.7 -1.4 0.7 -1.5 0.5 -2 0.3 -2 -0.1 -1.5 0.2 -1.5 0.5 -1.5 0.4z" fill="#d4d4d4" stroke="#f2f2f2" stroke-width="0.9"/>
<path d="M1167.1 635l-2 0 -1.2 -0.5 -0.9 -1 0.1 -1.9 0.7 -1.1 1 -1 1.3 -0.9 1 -0.6 2 -0.5 1.5 0.9 0.6 1.1 0.3 2 -0.7 1.5 -1.2 1 -1 0.5 -1.5 0.5z" fill="#e2e2e2" stroke="#f2f2f2" stroke-width="0.9"/>
<path d="M1173.9 532.1 L1247.6 532.1 L1247.6 625 L1173.9 625 Z" stroke="#4a4a4a" stroke-width="1.4" fill="none" stroke-linejoin="miter"/>
<text x="1248.6" y="643.9" font-size="16.5" text-anchor="end" fill="#000">12.3</text>
<text x="1117.1" y="532.5" font-size="16.6" text-anchor="end">10<tspan dy="-6.31" font-size="9.63" fill="#333">5</tspan></text>
<text x="1117.1" y="606" font-size="16.6" text-anchor="end">10<tspan dy="-6.31" font-size="9.63" fill="#333">3</tspan></text>
<text x="1159.9" y="674.5" font-size="16.6" text-anchor="start">10<tspan dy="-6.31" font-size="9.63" fill="#333">2</tspan></text>
<text x="1249.4" y="674.5" font-size="16.6" text-anchor="start">10<tspan dy="-6.31" font-size="9.63" fill="#333">4</tspan></text>
<path d="M1303 523H1438V658" fill="none" stroke="#9a9a9a" stroke-width="1.1"/>
<path d="M1303 522.5V658H1438" fill="none" stroke="#333" stroke-width="1.3"/>
<path d="M1298.5 523.7h4.5M1298.5 557h4.5M1298.5 591h4.5M1298.5 627h4.5M1298.5 658h4.5M1303 658v4.5M1346.5 658v4.5M1391 658v4.5M1436 658v4.5" stroke="#333" stroke-width="1.2"/>
<path d="M1300.5 547h2.5M1300.5 541.1h2.5M1300.5 537h2.5M1300.5 533.7h2.5M1300.5 531.1h2.5M1300.5 528.9h2.5M1300.5 526.9h2.5M1300.5 525.2h2.5M1300.5 580.8h2.5M1300.5 574.8h2.5M1300.5 570.5h2.5M1300.5 567.2h2.5M1300.5 564.5h2.5M1300.5 562.3h2.5M1300.5 560.3h2.5M1300.5 558.6h2.5M1300.5 616.2h2.5M1300.5 609.8h2.5M1300.5 605.3h2.5M1300.5 601.8h2.5M1300.5 599h2.5M1300.5 596.6h2.5M1300.5 594.5h2.5M1300.5 592.6h2.5M1300.5 648.7h2.5M1300.5 643.2h2.5M1300.5 639.3h2.5M1300.5 636.3h2.5M1300.5 633.9h2.5M1300.5 631.8h2.5M1300.5 630h2.5M1300.5 628.4h2.5M1316.1 658v2.5M1323.8 658v2.5M1329.2 658v2.5M1333.4 658v2.5M1336.8 658v2.5M1339.8 658v2.5M1342.3 658v2.5M1344.5 658v2.5M1359.9 658v2.5M1367.7 658v2.5M1373.3 658v2.5M1377.6 658v2.5M1381.1 658v2.5M1384.1 658v2.5M1386.7 658v2.5M1389 658v2.5M1404.5 658v2.5M1412.5 658v2.5M1418.1 658v2.5M1422.5 658v2.5M1426 658v2.5M1429 658v2.5M1431.6 658v2.5M1433.9 658v2.5" stroke="#444" stroke-width="0.9"/>
<rect x="1298.5" y="642" width="3.5" height="4" fill="#111" stroke="none" stroke-width="0"/>
<rect x="1327" y="658.5" width="5" height="3" fill="#111" stroke="none" stroke-width="0"/>
<path d="M1377 562l-2 0.1 -1.5 -0.6 -1 -0.8 -0.9 -1.2 -0.6 -1.5 0 -1.5 0.5 -1.3 1 -0.9 1.5 -0.6 2 0 1.5 0.5 1.2 0.8 0.8 1 0.6 1.5 -0.2 1.5 -0.8 1.5 -1 1 -1.1 0.5zM1336.5 566.5l-1.5 -0.1 -1.5 -0.8 -0.3 -1.6 1.3 -0.9 1.5 -0.3 1.6 0.2 1.4 0.7 0.2 1.8 -1.2 0.7 -1.5 0.3zM1376 572l-1.7 0 -1.3 -0.5 -1.1 -1 -0.8 -1.5 0.4 -2 1 -0.6 1.8 0.1 1.2 0.6 1.1 0.9 0.8 1.5 0.1 1 -1 1.3zM1336.5 649.5l-2 0.5 -2 -0.2 -1.5 -0.5 -1.5 -0.7 -1 -0.8 -1 -1 -1 -1 -1 -1.2 -0.9 -1.1 -0.7 -1 -0.9 -1.5 -0.5 -1 -0.5 -1.5 -0.5 -1.7 -0.5 -1.3 -0.8 -1.5 -0.7 -1.1 -0.9 -1.4 -0.6 -1.3 -0.3 -1.7 0.3 -1.7 0.5 -1.5 0.6 -1.3 0.7 -1.5 0.6 -1.5 0.6 -1.5 0.5 -1.3 0.7 -1.2 0.8 -1.1 1 -1.1 1 -1.2 0.7 -1.1 0.8 -1.3 0.8 -1.2 0.9 -1 1 -1 0.9 -1 0.9 -1.5 0.5 -1.3 0.5 -1.6 0.4 -1.6 0.1 -1.5 -0.1 -1.5 -0.3 -2 -0.3 -1.5 -0.3 -1.5 -0.4 -2 -0.2 -1.5 -0.1 -2 0 -2 0.2 -1.7 0.3 -1.8 0.6 -1.5 0.6 -1.4 0.6 -1.1 0.9 -1.3 1 -1.2 0.9 -1 0.8 -1 0.9 -1 1.1 -1 1.3 -0.8 1.5 -0.5 1.5 -0.7 1.3 -0.5 1.7 -0.3 1.5 0.5 0.7 1.3 -0.2 1.5 -0.9 1.5 -1.1 1 -1 0.6 -1.5 0.9 -0.7 1 -0.1 2 1 1 1.3 0.7 1.2 0.8 1.3 0.8 1.1 0.2 1.8 -0.5 1.6 -0.2 1.5 0.5 0.7 1.2 -0.4 1.5 -1.1 1 -1.2 0.6 -0.8 1.4 0.3 1.5 0.8 1.5 0.7 1 1.2 1 1.3 0.6 1.5 0.6 1.4 0.8 1.1 0.9 1 1.1 0.8 1 0.8 1 0.9 1 1.3 1 1.2 0.5 1.5 0.5 1.5 0.6 1.3 0.9 1.1 1 0.9 1 1 1 1 1 1 1 1.1 1 1 1 0.7 1 0.7 1.5 0.2 2 0.2 1.5 0.3 1.5 0.2 2 -0.4 1.5 -0.8 1.3 -1 1.1 -1 1 -1 1 -0.9 1.1 -0.7 1 -0.9 1.3 -1 1.2 -1 0.9 -1 0.6 -1.5 0.6 -1.5 0.5 -1.5 0.7 -1.1 0.7 -1.2 1 -1 1 -1 1 -1.2 1 -1 0.6 -1.5 0.7 -1.5 0.6 -1.1 0.6 -1.4 0.8 -1.4 0.7 -1.1 0.5 -1.5 0.6 -1.5 0.7 -1.3 0.7 -1.2 0.6 -1.5 0.6 -1.5 0.6 -1.5 0.7 -1 0.6 -1.4 0.9 -1.1 0.5z" fill="#9a9a9a" stroke="#1a1a1a" stroke-width="1.2"/>
<path d="M1376.5 560.2l-1 0.2 -1 -0.2 -0.5 -0.3 -0.5 -0.5 -0.5 -0.9 -0.1 -0.5 0.1 -1 0.2 -0.5 0.6 -0.5 0.7 -0.2 1 0 0.6 0.2 0.8 0.5 0.4 0.5 0.2 0.5 0.1 1 -0.1 0.5 -0.5 0.8 -0.5 0.4zM1337.5 565l-1 0.5 -1 -0.1 -0.6 -0.4 0.1 -0.7 0.5 -0.4 1 0 0.6 0.1 0.5 0.5 -0.1 0.5zM1375.5 570.8l-1 0.1 -0.9 -0.4 -0.5 -0.5 -0.4 -0.5 -0.1 -1 0.4 -0.5 1 -0.3 0.9 0.3 0.6 0.4 0.4 0.6 0.2 0.5 -0.1 0.8 -0.5 0.5zM1344.5 573.6l-1 0.1 -0.6 -0.2 -0.3 -1 0.4 -0.6 0.5 -0.6 0.5 -0.4 1 -0.4 1 0.3 0.4 0.7 -0.3 1 -0.5 0.5 -0.6 0.4 -0.5 0.2zM1335.5 647l-2 0.4 -1.5 -0.5 -1.5 -0.9 -1 -0.9 -1 -1 -1 -1.1 -0.6 -1 -0.7 -1.5 -0.5 -1.5 -0.5 -1.5 -0.7 -1.5 -0.5 -1 -1 -1.5 -0.7 -1 -0.8 -1.2 -0.7 -1.3 -0.3 -1.5 0.2 -1.5 0.6 -1.5 0.7 -1.3 0.8 -1.2 0.7 -1.1 0.9 -1.4 0.6 -1 0.8 -1.5 0.7 -1.1 1 -1.4 0.8 -1 1 -1 1.2 -0.9 1 -0.7 1.4 -0.9 0.8 -1 0.5 -1.5 0.3 -2 0.1 -1.5 0.3 -2 0.3 -1.5 -0.1 -2 -0.3 -1.5 -0.4 -1.5 -0.4 -1.6 -0.4 -1.9 -0.4 -1.5 -0.3 -1.5 -0.2 -2 -0.1 -2 0.1 -2 0.3 -1.5 0.7 -1.5 0.9 -1 1.3 -1 1.1 -0.6 1.2 -0.4 0.3 2 0.3 1.5 1.1 1 1.5 0.5 1.6 0.3 1.5 0.6 1 0.8 1 1.1 0.8 1.2 0.7 1.3 0.5 1.2 0.6 1.5 0.5 1.5 0.7 1.5 0.7 1 1.3 1 1.2 0.5 1.5 0.6 1.5 0.6 1.2 0.8 1 1 0.8 1 1 1.3 1 1.2 1 0.9 1 0.7 1.5 0.5 1.5 0.4 1.5 0.7 1.1 0.8 1.2 1 1.1 1 1.1 1 1 1 0.7 1 0.6 1.5 0 2 -0.2 2 -0.2 1.5 -0.7 1.5 -1.2 1 -1 0.9 -0.8 1.1 -0.7 1.3 -0.5 1.2 -0.8 1.5 -0.8 1 -1 1 -1.4 0.9 -1.1 0.6 -1.4 0.8 -1 0.7 -1.2 1 -1.2 1 -1.1 1 -1 0.6 -1.5 0.7 -1.5 0.6 -1.3 0.6 -1.2 0.8 -1.2 0.7 -1.3 0.7 -1.5 0.7 -1.4 0.6 -1.1 0.6 -1.5 0.9 -1.1 0.5 -1.4 0.6 -1.5 0.5 -1.5 0.6 -1.3 0.8 -1.2 0.8z" fill="#7c7c7c" stroke="#f4f4f4" stroke-width="1"/>
<path d="M1376.5 560.2l-1 0.2 -1 -0.2 -0.5 -0.3 -0.5 -0.5 -0.5 -0.9 -0.1 -0.5 0.1 -1 0.2 -0.5 0.6 -0.5 0.7 -0.2 1 0 0.6 0.2 0.8 0.5 0.4 0.5 0.2 0.5 0.1 1 -0.1 0.5 -0.5 0.8 -0.5 0.4zM1337.5 565l-1 0.5 -1 -0.1 -0.6 -0.4 0.1 -0.7 0.5 -0.4 1 0 0.6 0.1 0.5 0.5 -0.1 0.5zM1375.5 570.8l-1 0.1 -0.9 -0.4 -0.5 -0.5 -0.4 -0.5 -0.1 -1 0.4 -0.5 1 -0.3 0.9 0.3 0.6 0.4 0.4 0.6 0.2 0.5 -0.1 0.8 -0.5 0.5zM1344.5 573.6l-1 0.1 -0.6 -0.2 -0.3 -1 0.4 -0.6 0.5 -0.6 0.5 -0.4 1 -0.4 1 0.3 0.4 0.7 -0.3 1 -0.5 0.5 -0.6 0.4 -0.5 0.2zM1335.5 647l-2 0.4 -1.5 -0.5 -1.5 -0.9 -1 -0.9 -1 -1 -1 -1.1 -0.6 -1 -0.7 -1.5 -0.5 -1.5 -0.5 -1.5 -0.7 -1.5 -0.5 -1 -1 -1.5 -0.7 -1 -0.8 -1.2 -0.7 -1.3 -0.3 -1.5 0.2 -1.5 0.6 -1.5 0.7 -1.3 0.8 -1.2 0.7 -1.1 0.9 -1.4 0.6 -1 0.8 -1.5 0.7 -1.1 1 -1.4 0.8 -1 1 -1 1.2 -0.9 1 -0.7 1.4 -0.9 0.8 -1 0.5 -1.5 0.3 -2 0.1 -1.5 0.3 -2 0.3 -1.5 -0.1 -2 -0.3 -1.5 -0.4 -1.5 -0.4 -1.6 -0.4 -1.9 -0.4 -1.5 -0.3 -1.5 -0.2 -2 -0.1 -2 0.1 -2 0.3 -1.5 0.7 -1.5 0.9 -1 1.3 -1 1.1 -0.6 1.2 -0.4 0.3 2 0.3 1.5 1.1 1 1.5 0.5 1.6 0.3 1.5 0.6 1 0.8 1 1.1 0.8 1.2 0.7 1.3 0.5 1.2 0.6 1.5 0.5 1.5 0.7 1.5 0.7 1 1.3 1 1.2 0.5 1.5 0.6 1.5 0.6 1.2 0.8 1 1 0.8 1 1 1.3 1 1.2 1 0.9 1 0.7 1.5 0.5 1.5 0.4 1.5 0.7 1.1 0.8 1.2 1 1.1 1 1.1 1 1 1 0.7 1 0.6 1.5 0 2 -0.2 2 -0.2 1.5 -0.7 1.5 -1.2 1 -1 0.9 -0.8 1.1 -0.7 1.3 -0.5 1.2 -0.8 1.5 -0.8 1 -1 1 -1.4 0.9 -1.1 0.6 -1.4 0.8 -1 0.7 -1.2 1 -1.2 1 -1.1 1 -1 0.6 -1.5 0.7 -1.5 0.6 -1.3 0.6 -1.2 0.8 -1.2 0.7 -1.3 0.7 -1.5 0.7 -1.4 0.6 -1.1 0.6 -1.5 0.9 -1.1 0.5 -1.4 0.6 -1.5 0.5 -1.5 0.6 -1.3 0.8 -1.2 0.8z" fill="none" stroke="#222222" stroke-width="0.7" transform="translate(0.7 0.7)" opacity="0.6"/>
<path d="M1339.5 642.1l-2 0 -1.5 -0.1 -2 -0.5 -1.5 -0.2 -1.5 -0.3 -1.5 -0.9 -1 -1.1 -0.6 -1 -0.8 -1.5 -0.6 -1.3 -0.6 -1.2 -0.8 -1.5 -0.6 -1.1 -0.6 -1.4 -0.4 -1.5 0.1 -1.5 0.6 -1.5 0.8 -1.2 0.8 -1.3 0.7 -1.1 0.7 -1.4 0.7 -1.5 0.6 -1.1 1 -1.4 1 -0.9 1.2 -0.6 1.4 -0.5 1.4 -0.5 1.2 -1 0.6 -1.5 0.3 -1.5 0.2 -2 0.2 -1.5 0.5 -1.9 0.5 -1.2 0.6 -1.4 0 -2 -0.7 -1 -0.9 -1.3 -0.6 -1.2 -0.5 -1.5 -0.4 -1.5 -0.4 -2 -0.2 -1.5 -0.2 -2 0.1 -2 0.7 -1.2 1.5 0.2 1.5 0.9 1.4 0.6 1.6 0.5 1.5 0.4 1.3 0.6 1.1 1 0.6 1 0.5 2 -0.5 1.7 -1 1 -1.2 0.8 -1.2 1 -0.8 1 -0.8 1.5 0 1.2 1.5 0.7 2 -0.1 1.5 -0.6 1.1 -0.7 1.4 -0.8 1.3 -0.2 1.7 0.3 1.5 0.4 1.5 0.6 1.3 0.7 1.2 0.9 1 0.9 1 1.1 0.9 1.1 0.9 1 0.9 1 1 1 1.3 0.6 2 0.3 1.5 0.5 1 0.6 1.2 1 1 1 0.8 1 0.5 2 -0.6 1.5 -0.9 1.1 -1 1 -1 1.2 -0.6 1.2 -0.4 1.5 -0.4 2 -0.4 1.5 -0.7 1.3 -1 1 -1 0.7 -1.5 0.8 -1.5 0.7 -1 0.5 -1.5 0.9 -1 0.6 -1.5 0.9 -1 0.6 -1.2 1 -1.2 1 -1.1 0.9 -1 0.8 -1.4 0.8 -1.1 0.5 -1.5 0.6 -1.5 0.8 -1 0.6 -1.5 0.8 -1.5 0.5 -1.5 0.3z" fill="#9a9a9a" stroke="#f4f4f4" stroke-width="1"/>
<path d="M1339.5 642.1l-2 0 -1.5 -0.1 -2 -0.5 -1.5 -0.2 -1.5 -0.3 -1.5 -0.9 -1 -1.1 -0.6 -1 -0.8 -1.5 -0.6 -1.3 -0.6 -1.2 -0.8 -1.5 -0.6 -1.1 -0.6 -1.4 -0.4 -1.5 0.1 -1.5 0.6 -1.5 0.8 -1.2 0.8 -1.3 0.7 -1.1 0.7 -1.4 0.7 -1.5 0.6 -1.1 1 -1.4 1 -0.9 1.2 -0.6 1.4 -0.5 1.4 -0.5 1.2 -1 0.6 -1.5 0.3 -1.5 0.2 -2 0.2 -1.5 0.5 -1.9 0.5 -1.2 0.6 -1.4 0 -2 -0.7 -1 -0.9 -1.3 -0.6 -1.2 -0.5 -1.5 -0.4 -1.5 -0.4 -2 -0.2 -1.5 -0.2 -2 0.1 -2 0.7 -1.2 1.5 0.2 1.5 0.9 1.4 0.6 1.6 0.5 1.5 0.4 1.3 0.6 1.1 1 0.6 1 0.5 2 -0.5 1.7 -1 1 -1.2 0.8 -1.2 1 -0.8 1 -0.8 1.5 0 1.2 1.5 0.7 2 -0.1 1.5 -0.6 1.1 -0.7 1.4 -0.8 1.3 -0.2 1.7 0.3 1.5 0.4 1.5 0.6 1.3 0.7 1.2 0.9 1 0.9 1 1.1 0.9 1.1 0.9 1 0.9 1 1 1 1.3 0.6 2 0.3 1.5 0.5 1 0.6 1.2 1 1 1 0.8 1 0.5 2 -0.6 1.5 -0.9 1.1 -1 1 -1 1.2 -0.6 1.2 -0.4 1.5 -0.4 2 -0.4 1.5 -0.7 1.3 -1 1 -1 0.7 -1.5 0.8 -1.5 0.7 -1 0.5 -1.5 0.9 -1 0.6 -1.5 0.9 -1 0.6 -1.2 1 -1.2 1 -1.1 0.9 -1 0.8 -1.4 0.8 -1.1 0.5 -1.5 0.6 -1.5 0.8 -1 0.6 -1.5 0.8 -1.5 0.5 -1.5 0.3z" fill="none" stroke="#222222" stroke-width="0.7" transform="translate(0.7 0.7)" opacity="0.6"/>
<path d="M1340 594.5l-1 0.2 -0.5 -0.3 -0.5 -0.7 -0.2 -0.7 -0.2 -1 0.2 -1 0.2 -0.5 0.9 -0.5 0.6 -0.1 0.6 0.1 0.9 0.3 0.5 0.2 0.5 0.5 0.2 1 -0.2 0.7 -0.5 0.6 -0.5 0.5 -0.5 0.4 -0.5 0.3zM1341.5 639.1l-2 0.1 -1.5 -0.4 -1.5 -0.4 -2 -0.2 -2 0 -1.5 -0.3 -1.3 -0.9 -0.8 -1 -0.8 -1.5 -0.6 -1.5 -0.4 -1.5 -0.2 -1.5 0.1 -2 0.3 -1.5 0.5 -1.5 0.7 -1.4 0.6 -1.1 0.9 -1.4 1 -1.1 1 -0.7 2 0 1.5 0.2 2 0.1 1.5 -0.3 1.5 -0.3 1.6 -0.5 1 -1 -0.7 -1 -1.1 -1 -1.1 -1 -0.8 -1 -0.6 -1.5 -0.2 -2 0.1 -2 0.6 -1.5 0.7 -1.1 1.2 -0.9 1.3 -0.5 2 -0.4 1.5 -0.4 1.5 -0.7 1 -0.6 1.5 -0.6 2 0 1.5 0.6 1.2 0.6 1.3 0.8 1 0.8 1 0.9 1 1.1 1 1.3 0.7 1.1 0.8 1.2 1 1.2 1 0.6 2 0.4 1.5 0.6 0.7 1 -0.3 1.5 -0.9 1.3 -0.7 1.2 -0.5 1.5 -0.4 1.5 -0.4 1.6 -0.5 1.4 -1 1.3 -1.2 0.7 -1.8 0.4 -1.5 0.1 -2 0.3 -1.5 0.4 -1.5 0.3 -2 0.2 -1.5 -0.3 -1 -0.9 -1.4 -1 -1.1 0.2 -0.7 1.3 0.2 1.6 2 0 1.6 0.4 0.9 1.5 0.4 1.5 -0.1 2 -0.8 1.3 -1 0.9 -1.5 0.7 -1.5 0.4 -1.5 0.6 -1 0.7 -1.5 0.8z" fill="#767676" stroke="#f4f4f4" stroke-width="1"/>
<path d="M1340 594.5l-1 0.2 -0.5 -0.3 -0.5 -0.7 -0.2 -0.7 -0.2 -1 0.2 -1 0.2 -0.5 0.9 -0.5 0.6 -0.1 0.6 0.1 0.9 0.3 0.5 0.2 0.5 0.5 0.2 1 -0.2 0.7 -0.5 0.6 -0.5 0.5 -0.5 0.4 -0.5 0.3zM1341.5 639.1l-2 0.1 -1.5 -0.4 -1.5 -0.4 -2 -0.2 -2 0 -1.5 -0.3 -1.3 -0.9 -0.8 -1 -0.8 -1.5 -0.6 -1.5 -0.4 -1.5 -0.2 -1.5 0.1 -2 0.3 -1.5 0.5 -1.5 0.7 -1.4 0.6 -1.1 0.9 -1.4 1 -1.1 1 -0.7 2 0 1.5 0.2 2 0.1 1.5 -0.3 1.5 -0.3 1.6 -0.5 1 -1 -0.7 -1 -1.1 -1 -1.1 -1 -0.8 -1 -0.6 -1.5 -0.2 -2 0.1 -2 0.6 -1.5 0.7 -1.1 1.2 -0.9 1.3 -0.5 2 -0.4 1.5 -0.4 1.5 -0.7 1 -0.6 1.5 -0.6 2 0 1.5 0.6 1.2 0.6 1.3 0.8 1 0.8 1 0.9 1 1.1 1 1.3 0.7 1.1 0.8 1.2 1 1.2 1 0.6 2 0.4 1.5 0.6 0.7 1 -0.3 1.5 -0.9 1.3 -0.7 1.2 -0.5 1.5 -0.4 1.5 -0.4 1.6 -0.5 1.4 -1 1.3 -1.2 0.7 -1.8 0.4 -1.5 0.1 -2 0.3 -1.5 0.4 -1.5 0.3 -2 0.2 -1.5 -0.3 -1 -0.9 -1.4 -1 -1.1 0.2 -0.7 1.3 0.2 1.6 2 0 1.6 0.4 0.9 1.5 0.4 1.5 -0.1 2 -0.8 1.3 -1 0.9 -1.5 0.7 -1.5 0.4 -1.5 0.6 -1 0.7 -1.5 0.8z" fill="none" stroke="#222222" stroke-width="0.7" transform="translate(0.7 0.7)" opacity="0.6"/>
<path d="M1359.5 615.5l-1.5 0 -2 -0.4 -1.5 -0.6 -1 -0.8 -1 -1.2 -0.7 -1 -0.8 -1.5 -0.5 -1.1 -0.5 -1.5 0 -1.5 1 -1.4 1.5 -0.2 1.5 0.4 1.5 0.7 1 0.6 1.2 1 0.9 1 0.8 1.5 0.6 1.5 0.4 1.5 0.2 1.5 -0.6 1.4zM1345 612.5l-2 0.4 -1.5 -0.7 -0.9 -1.2 -0.3 -1.5 0.2 -1.5 1 -1.3 1.5 -0.7 1.5 0 1.5 0.5 1 1 0.2 1.5 -0.4 1.5 -0.8 1.1 -1 0.9zM1353.5 623.1l-1 0.2 -1 -0.2 -0.5 -0.3 -0.5 -0.5 -0.5 -0.6 -0.2 -0.7 0 -1 0.3 -0.5 0.8 -0.5 0.6 -0.1 0.5 0.2 0.7 0.4 0.6 0.5 0.3 0.5 0.4 0.7 0.2 0.8 -0.2 0.6 -0.5 0.5zM1339 636l-2 0.1 -2 0.2 -2 0.1 -1.7 -0.4 -1.2 -1 -0.6 -1 -0.5 -1.5 -0.1 -2 0.2 -1.5 0.4 -1.5 0.6 -1.5 0.9 -1.4 1 -0.8 2 -0.2 2 0.2 1.7 -0.3 1.3 -0.6 2 -0.3 1.2 0.9 -0.2 1.7 -1 1.2 -1 0.9 -0.7 1.2 -0.1 2 0.3 1.5 0.5 1.5 0.1 2 -1.1 0.5z" fill="#a2a2a2" stroke="#f4f4f4" stroke-width="1"/>
<path d="M1359.5 615.5l-1.5 0 -2 -0.4 -1.5 -0.6 -1 -0.8 -1 -1.2 -0.7 -1 -0.8 -1.5 -0.5 -1.1 -0.5 -1.5 0 -1.5 1 -1.4 1.5 -0.2 1.5 0.4 1.5 0.7 1 0.6 1.2 1 0.9 1 0.8 1.5 0.6 1.5 0.4 1.5 0.2 1.5 -0.6 1.4zM1345 612.5l-2 0.4 -1.5 -0.7 -0.9 -1.2 -0.3 -1.5 0.2 -1.5 1 -1.3 1.5 -0.7 1.5 0 1.5 0.5 1 1 0.2 1.5 -0.4 1.5 -0.8 1.1 -1 0.9zM1353.5 623.1l-1 0.2 -1 -0.2 -0.5 -0.3 -0.5 -0.5 -0.5 -0.6 -0.2 -0.7 0 -1 0.3 -0.5 0.8 -0.5 0.6 -0.1 0.5 0.2 0.7 0.4 0.6 0.5 0.3 0.5 0.4 0.7 0.2 0.8 -0.2 0.6 -0.5 0.5zM1339 636l-2 0.1 -2 0.2 -2 0.1 -1.7 -0.4 -1.2 -1 -0.6 -1 -0.5 -1.5 -0.1 -2 0.2 -1.5 0.4 -1.5 0.6 -1.5 0.9 -1.4 1 -0.8 2 -0.2 2 0.2 1.7 -0.3 1.3 -0.6 2 -0.3 1.2 0.9 -0.2 1.7 -1 1.2 -1 0.9 -0.7 1.2 -0.1 2 0.3 1.5 0.5 1.5 0.1 2 -1.1 0.5z" fill="none" stroke="#222222" stroke-width="0.7" transform="translate(0.7 0.7)" opacity="0.6"/>
<path d="M1357 611.7l-1 0 -0.5 -0.3 -0.5 -0.6 -0.3 -0.8 0.1 -1 0.6 -0.5 0.4 0 0.7 0.3 0.5 0.5 0.3 0.7 0.2 1 -0.5 0.7zM1335 634.5l-2 0.3 -1.5 -0.7 -0.8 -1.1 -0.3 -1.5 0.2 -1.5 0.6 -1.5 0.9 -1 1.9 -0.3 1.3 0.8 0.7 1 0.7 1.5 0.2 2 -0.9 1.5 -1 0.5z" fill="#d2d2d2" stroke="#f4f4f4" stroke-width="1"/>
<path d="M1357 611.7l-1 0 -0.5 -0.3 -0.5 -0.6 -0.3 -0.8 0.1 -1 0.6 -0.5 0.4 0 0.7 0.3 0.5 0.5 0.3 0.7 0.2 1 -0.5 0.7zM1335 634.5l-2 0.3 -1.5 -0.7 -0.8 -1.1 -0.3 -1.5 0.2 -1.5 0.6 -1.5 0.9 -1 1.9 -0.3 1.3 0.8 0.7 1 0.7 1.5 0.2 2 -0.9 1.5 -1 0.5z" fill="none" stroke="#222222" stroke-width="0.7" transform="translate(0.7 0.7)" opacity="0.6"/>
<path d="M1351.5 531.5 L1425.3 531.5 L1425.3 624 L1351.5 624 Z" stroke="#4a4a4a" stroke-width="1.4" fill="none" stroke-linejoin="miter"/>
<text x="1428" y="643.9" font-size="16.5" text-anchor="end" fill="#000">15.2</text>
<text x="1294.5" y="532.5" font-size="16.6" text-anchor="end">10<tspan dy="-6.31" font-size="9.63" fill="#333">5</tspan></text>
<text x="1294.5" y="606" font-size="16.6" text-anchor="end">10<tspan dy="-6.31" font-size="9.63" fill="#333">3</tspan></text>
<text x="1337.3" y="674.5" font-size="16.6" text-anchor="start">10<tspan dy="-6.31" font-size="9.63" fill="#333">2</tspan></text>
<text x="1426.8" y="674.5" font-size="16.6" text-anchor="start">10<tspan dy="-6.31" font-size="9.63" fill="#333">4</tspan></text>
<path d="M1125.6 713H1260.6V848" fill="none" stroke="#9a9a9a" stroke-width="1.1"/>
<path d="M1125.6 712.5V848H1260.6" fill="none" stroke="#333" stroke-width="1.3"/>
<path d="M1121.1 713.7h4.5M1121.1 747h4.5M1121.1 781h4.5M1121.1 817h4.5M1121.1 848h4.5M1125.6 848v4.5M1169.1 848v4.5M1213.6 848v4.5M1258.6 848v4.5" stroke="#333" stroke-width="1.2"/>
<path d="M1123.1 737h2.5M1123.1 731.1h2.5M1123.1 727h2.5M1123.1 723.7h2.5M1123.1 721.1h2.5M1123.1 718.9h2.5M1123.1 716.9h2.5M1123.1 715.2h2.5M1123.1 770.8h2.5M1123.1 764.8h2.5M1123.1 760.5h2.5M1123.1 757.2h2.5M1123.1 754.5h2.5M1123.1 752.3h2.5M1123.1 750.3h2.5M1123.1 748.6h2.5M1123.1 806.2h2.5M1123.1 799.8h2.5M1123.1 795.3h2.5M1123.1 791.8h2.5M1123.1 789h2.5M1123.1 786.6h2.5M1123.1 784.5h2.5M1123.1 782.6h2.5M1123.1 838.7h2.5M1123.1 833.2h2.5M1123.1 829.3h2.5M1123.1 826.3h2.5M1123.1 823.9h2.5M1123.1 821.8h2.5M1123.1 820h2.5M1123.1 818.4h2.5M1138.7 848v2.5M1146.4 848v2.5M1151.8 848v2.5M1156 848v2.5M1159.4 848v2.5M1162.4 848v2.5M1164.9 848v2.5M1167.1 848v2.5M1182.5 848v2.5M1190.3 848v2.5M1195.9 848v2.5M1200.2 848v2.5M1203.7 848v2.5M1206.7 848v2.5M1209.3 848v2.5M1211.6 848v2.5M1227.1 848v2.5M1235.1 848v2.5M1240.7 848v2.5M1245.1 848v2.5M1248.6 848v2.5M1251.6 848v2.5M1254.2 848v2.5M1256.5 848v2.5" stroke="#444" stroke-width="0.9"/>
<rect x="1121.1" y="832" width="3.5" height="4" fill="#111" stroke="none" stroke-width="0"/>
<rect x="1149.6" y="848.5" width="5" height="3" fill="#111" stroke="none" stroke-width="0"/>
<path d="M1158.6 777l-0.5 -0.1 -0.8 -0.4 -0.5 -0.5 -0.2 -0.7 0 -0.6 0.2 -0.7 0.4 -0.5 0.8 -0.5 0.6 -0.1 0.7 0.1 0.8 0.5 0.3 0.5 0.2 0.8 0 0.3 -0.2 0.9 -0.4 0.5 -0.9 0.5 -0.5 0zM1156.6 834.6l-2 0.3 -2 -0.4 -1 -0.5 -1.5 -1 -1 -0.5 -1.5 -0.6 -1.5 -0.4 -1.5 -0.5 -1.5 -0.5 -1.5 -0.7 -1 -0.8 -1 -1.4 -0.4 -1.6 0.2 -2 0.4 -1.5 0.4 -1.5 0.4 -1.5 0.5 -1.6 0.6 -1.4 0.9 -1.5 0.8 -1 1.2 -1 1 -0.8 1 -0.8 1 -1.1 0.7 -1.3 0.5 -1.5 0.4 -1.5 0.4 -1.8 0.5 -1.7 0.5 -1.1 1 -1.2 1 -0.9 1 -0.8 1 -1.3 0.3 -1.7 -0.1 -2 0 -2 0.3 -2 0.4 -1.5 0.6 -1.3 0.9 -1.2 1.1 -1 1 -0.5 1.5 0.1 1 0.9 0.8 1.5 0.5 1.5 0.4 1.5 0.2 2 0.1 1.5 0.4 2 1.1 0.9 2 -0.1 1.5 0.2 1 1 0.7 1.5 0.4 1.5 0.5 1.5 0.5 1.5 0.5 1.5 0.7 1.5 0.8 1 1.2 1 1.2 0.8 1.1 0.7 1.4 1 1 0.6 1.5 0.9 1.4 0.5 1.3 0.5 1.3 0.8 1 1.2 0.7 1 0.8 1.1 0.8 1.4 0.4 1.5 -0.4 1.5 -0.8 1 -1.1 1 -1.3 1 -1.1 0.8 -1 0.7 -1.4 1 -1.1 0.8 -1 0.9 -1 0.8 -1.5 1 -1 0.6 -1.5 0.9 -1 0.6 -1.5 0.8 -1.5 0.5 -1.5 0.1 -1.5 -0.1 -1.5 -0.4 -2 -0.4 -2 0 -2 0.4 -1.5 0.5 -1.5 0.5z" fill="#fad4d4" stroke="#f3a8a8" stroke-width="0.8"/>
<path d="M1157.6 832.1l-2 0.3 -2 -0.3 -1.4 -0.6 -1.1 -0.6 -1.5 -0.6 -1.5 -0.5 -1.5 -0.5 -1.5 -0.7 -1 -0.8 -0.9 -1.3 -0.5 -1.5 -0.2 -1.5 0.1 -1.5 0.4 -2 0.4 -1.5 0.5 -1.5 0.7 -1.2 1 -1.2 1 -0.9 1 -0.8 1.1 -0.9 0.9 -1.1 0.8 -1.4 0.7 -1.5 0.5 -1.3 0.5 -1.4 0.5 -1.3 0.8 -1.5 1 -1 1.2 -0.9 1 -0.8 1 -1.3 0.2 -1.5 -0.5 -1.5 -0.6 -1.5 -0.3 -1.5 0 -2 0.3 -1.5 0.9 -1.4 1 -0.7 1.5 0.1 1 1.2 0.5 1.7 0.1 1.6 -0.1 1.6 -0.4 1.9 -0.3 1.5 0.4 1.5 1.2 1 1.6 0.3 2 -0.2 1.5 0.6 0.9 1.3 0.5 1.5 0.2 1.5 0 2 0.4 1.7 1 1 1.5 0.8 1.2 0.5 1.3 0.6 1.4 0.9 1 1 0.7 1 0.9 1.1 1 1 1.1 0.9 1.1 1 0.8 1.3 0.4 1.7 -0.4 1.8 -0.9 1.2 -1.1 1 -1 0.7 -1 0.9 -1 0.9 -1 1 -1.2 1 -1.3 1 -1 0.6 -1.5 0.8 -1.5 0.4 -2 -0.2 -1.5 -0.5 -1.5 -0.2 -2 0 -1.5 0.3 -1.6 0.3 -1.9 0.5z" fill="#f7c3c3" stroke="#ffffff" stroke-width="0.9"/>
<path d="M1158.1 830.1l-2 0.1 -1.6 -0.2 -1.4 -0.5 -1.5 -0.7 -1.5 -0.6 -1.5 -0.5 -1.5 -0.7 -1 -0.8 -0.8 -1.2 -0.5 -1.5 0 -2 0.3 -1.8 0.4 -1.7 0.6 -1.4 0.7 -1.1 1.1 -1 1.2 -0.9 1 -0.6 1.1 -1 0.9 -1.2 0.7 -1.3 0.7 -1.5 0.6 -1.2 0.7 -1.3 0.8 -1 1.4 -1 1.6 -0.3 1.5 0.4 1.5 0.9 1 0.8 0.9 1.2 0.6 1 1 1.3 1 0.8 1.5 0.6 1.5 0.6 1.5 0.5 1.5 0.6 1.2 0.6 1.1 1 0.7 1.4 0.5 1.4 0.7 1.2 1.2 1 1.1 0.8 0.9 1.2 -0.4 2 -0.8 1 -1 1 -0.9 1 -0.9 1 -1 1 -1.4 1 -1 0.6 -1.5 0.4 -1.5 -0.2 -1.5 -0.5 -2 -0.2 -1.8 0.4 -1.7 0.4 -1.5 0.3 -2 0.3z" fill="#f9cdcd" stroke="#ffffff" stroke-width="0.9"/>
<path d="M1162.6 827.5l-2 0.3 -2 -0.1 -1.5 -0.3 -1.6 -0.4 -1.4 -0.5 -1.5 -0.8 -1.3 -0.7 -1.4 -0.5 -1.3 -0.5 -1 -1.2 -0.3 -1.8 0.1 -2 0.4 -1.5 0.8 -1.3 1 -0.8 1.5 -0.6 1.5 -0.4 1.4 -0.9 0.6 -1 0.6 -1.5 0.5 -1.5 0.9 -1.5 1 -0.9 1.1 -0.1 1.4 0.7 0.8 1.3 0.4 1.5 0.7 1.5 1.6 0.2 1.5 -0.2 2 0 1.5 0.3 1.5 0.5 1.2 0.7 1 1 0.6 1.5 0.2 2 0.1 1.5 0.7 1.5 0.7 1.1 0 1.7 -0.7 1.2 -1.1 1 -1.7 0.5 -1.5 -0.5 -2 -0.3 -1.5 0.5 -1.5 0.7 -1.5 0.5z" fill="#f5bcbc" stroke="#ffffff" stroke-width="0.9"/>
<path d="M1163.1 825.6l-2 -0.1 -1 -0.7 -0.9 -1.3 -0.6 -1.2 -0.6 -1.3 -0.3 -2 0.8 -1.5 1.1 -0.7 1.5 -0.6 1.3 -0.7 1.2 -0.8 1.1 -0.7 1.4 -0.5 2 0 1.4 0.5 1.1 0.9 0.5 1.1 0 2 -0.5 1.5 -0.5 1 -1 1.1 -1.2 0.9 -1.3 1 -1 0.8 -1.1 0.7 -1.4 0.6z" fill="#f8caca" stroke="#ffffff" stroke-width="0.9"/>
<path d="M1164.1 823.1l-2 0.1 -1 -1.1 -0.5 -1.6 0.5 -1.5 1 -1 1.2 -1 1.2 -1 1.1 -0.8 1.5 -0.5 1.5 0.3 1 1.4 0 1.1 -0.7 1.5 -1 1 -1.2 1 -1.1 0.9 -1 0.8z" fill="#fbdada" stroke="#ffffff" stroke-width="0.9"/>
<path d="M1173 720.9 L1246.2 720.9 L1246.2 813.4 L1173 813.4 Z" stroke="#4a4a4a" stroke-width="1.4" fill="none" stroke-linejoin="miter"/>
<text x="1251.9" y="833" font-size="16.5" text-anchor="end" fill="#000">5.83</text>
<text x="1117.1" y="722.5" font-size="16.6" text-anchor="end">10<tspan dy="-6.31" font-size="9.63" fill="#333">5</tspan></text>
<text x="1117.1" y="796" font-size="16.6" text-anchor="end">10<tspan dy="-6.31" font-size="9.63" fill="#333">3</tspan></text>
<text x="1159.9" y="864.5" font-size="16.6" text-anchor="start">10<tspan dy="-6.31" font-size="9.63" fill="#333">2</tspan></text>
<text x="1249.4" y="864.5" font-size="16.6" text-anchor="start">10<tspan dy="-6.31" font-size="9.63" fill="#333">4</tspan></text>
<path d="M1303 713H1438V848" fill="none" stroke="#9a9a9a" stroke-width="1.1"/>
<path d="M1303 712.5V848H1438" fill="none" stroke="#333" stroke-width="1.3"/>
<path d="M1298.5 713.7h4.5M1298.5 747h4.5M1298.5 781h4.5M1298.5 817h4.5M1298.5 848h4.5M1303 848v4.5M1346.5 848v4.5M1391 848v4.5M1436 848v4.5" stroke="#333" stroke-width="1.2"/>
<path d="M1300.5 737h2.5M1300.5 731.1h2.5M1300.5 727h2.5M1300.5 723.7h2.5M1300.5 721.1h2.5M1300.5 718.9h2.5M1300.5 716.9h2.5M1300.5 715.2h2.5M1300.5 770.8h2.5M1300.5 764.8h2.5M1300.5 760.5h2.5M1300.5 757.2h2.5M1300.5 754.5h2.5M1300.5 752.3h2.5M1300.5 750.3h2.5M1300.5 748.6h2.5M1300.5 806.2h2.5M1300.5 799.8h2.5M1300.5 795.3h2.5M1300.5 791.8h2.5M1300.5 789h2.5M1300.5 786.6h2.5M1300.5 784.5h2.5M1300.5 782.6h2.5M1300.5 838.7h2.5M1300.5 833.2h2.5M1300.5 829.3h2.5M1300.5 826.3h2.5M1300.5 823.9h2.5M1300.5 821.8h2.5M1300.5 820h2.5M1300.5 818.4h2.5M1316.1 848v2.5M1323.8 848v2.5M1329.2 848v2.5M1333.4 848v2.5M1336.8 848v2.5M1339.8 848v2.5M1342.3 848v2.5M1344.5 848v2.5M1359.9 848v2.5M1367.7 848v2.5M1373.3 848v2.5M1377.6 848v2.5M1381.1 848v2.5M1384.1 848v2.5M1386.7 848v2.5M1389 848v2.5M1404.5 848v2.5M1412.5 848v2.5M1418.1 848v2.5M1422.5 848v2.5M1426 848v2.5M1429 848v2.5M1431.6 848v2.5M1433.9 848v2.5" stroke="#444" stroke-width="0.9"/>
<rect x="1298.5" y="832" width="3.5" height="4" fill="#111" stroke="none" stroke-width="0"/>
<rect x="1327" y="848.5" width="5" height="3" fill="#111" stroke="none" stroke-width="0"/>
<path d="M1371 728.7l-1 0.1 -0.9 -0.3 -0.5 -0.5 -0.2 -0.5 0.1 -1 0.4 -0.5 0.6 -0.4 0.5 -0.1 0.9 0 0.6 0.2 0.5 0.5 0.4 0.8 -0.4 1 -0.5 0.5 -0.5 0.2zM1376 748.2l-1 0.2 -1 -0.3 -0.5 -0.5 -0.3 -0.6 0.3 -1 0.5 -0.4 0.5 -0.2 1 -0.1 0.5 0.2 0.6 0.5 0.2 1 -0.3 0.8 -0.5 0.4zM1344.5 754.6l-1 0.2 -1 -0.2 -0.5 -0.2 -0.5 -0.4 -0.5 -1 0.1 -1 0.4 -0.7 0.5 -0.5 0.8 -0.3 0.7 -0.1 0.7 0.1 0.8 0.3 0.5 0.5 0.4 0.7 0.2 0.5 -0.1 0.5 -0.5 1 -0.5 0.4 -0.5 0.2zM1365 764.6l-2 0 -1.4 -0.6 -1 -1 -0.5 -1.5 0.5 -1.5 0.9 -1.1 1.5 -0.8 1.5 -0.1 1.5 0.4 1 0.8 0.7 1.3 0 2 -0.7 1 -1.5 1zM1330.5 835.6l-2 0.1 -1.5 -0.6 -1.4 -0.6 -1.1 -0.5 -1.5 -0.9 -1 -0.8 -1 -1.2 -0.6 -1.1 -0.6 -1.5 -0.4 -1.5 -0.4 -1.7 -0.4 -1.8 -0.4 -1.5 -0.5 -1.5 -0.5 -1.5 -0.2 -2 0 -1.8 -0.1 -1.7 0 -2 0.2 -1.5 0.6 -1.5 0.8 -1.3 0.8 -1.2 0.7 -1 1 -1.4 0.9 -1.1 0.9 -1 0.8 -1 0.8 -1.5 0.3 -1.5 0 -2 -0.1 -2 0 -2 0.4 -2 0.3 -1.5 0.2 -2 -0.1 -2 0.1 -2 0.2 -1.5 0.4 -1.5 0.4 -1.5 0.2 -2 -0.2 -2 -0.2 -1.5 0.2 -1.9 0.5 -1.3 1 -1.3 1 -0.9 1 -0.7 1.5 -0.9 1 -0.6 1.5 -0.5 2 -0.1 1.5 0.2 2 0.5 1 0.5 1 1 0.7 1.5 0.4 1.5 0.4 1.6 0.7 1.4 0.8 1.2 1 1 1 0.9 1.4 0.9 1.1 0.8 1.1 0.7 1.4 1 1 0.6 1.5 0.7 1.5 0.2 1.3 -0.5 1.2 -0.8 1.1 -0.7 1.4 -0.7 1.5 -0.4 1.5 -0.5 1.5 -0.7 1.5 -0.5 2 0.2 1.1 0.6 1.1 1 0.8 1.2 0.6 1.3 0.4 2 0 1.5 0.1 2 -0.2 1.5 -0.4 1.9 -0.5 1.3 -0.5 1.3 -0.5 1.5 -0.5 1.5 -0.7 1.5 -0.8 1.3 -0.9 1.2 -0.6 1 -0.6 1.5 -0.4 2 -0.1 1.5 -0.1 2 0.2 2 0.4 1.5 0.6 1.1 1 1 1.5 0.9 1.2 0.5 1.3 0.8 0.9 1.2 0.7 1 0.9 1 1.4 1 1.1 0.7 1 0.9 0.9 1.4 0.1 1 -0.8 1.5 -1.1 1 -1.1 0.6 -1.5 0.4 -2 0.3 -2 0.1 -1.3 0.6 -1.2 0.8 -1 0.8 -1.5 0.8 -1.2 0.6 -1.3 0.6 -1.5 0.7 -1.5 0.7 -1.3 0.5 -1.7 0.4 -1.5 0.2 -1.9 -0.1 -1.6 -0.3 -1.4 -0.7 -1.1 -0.7 -1.3 -0.8 -1.6 -0.5 -1.6 -0.2 -1.5 0.3 -1.5 0.8 -1 0.9 -1 0.9 -1.5 0.8 -1.5 0.5 -1.5 0.4 -1.5 0.4 -1.5 0.6 -1.5 0.5zM1390.5 781.1l-1.5 -0.2 -1 -0.9 -0.2 -2 0.7 -1.1 1.5 -0.6 1.5 0.4 0.9 1.3 0.1 1.1 -0.8 1.4 -1.2 0.6z" fill="#f59a9a" stroke="#e52a2a" stroke-width="1"/>
<path d="M1365 763.1l-1 0.2 -1 -0.2 -0.5 -0.3 -0.5 -0.5 -0.3 -0.8 0.3 -1 0.4 -0.5 0.6 -0.4 0.5 -0.2 1 0 0.5 0.2 0.6 0.4 0.4 0.5 0.2 1 -0.2 0.6 -0.5 0.6 -0.5 0.4zM1332.5 832.1l-2 0.2 -2 0 -1.6 -0.3 -1.7 -0.5 -1.2 -0.6 -1.1 -0.9 -0.9 -1.3 -0.6 -1.2 -0.4 -1.5 -0.4 -2 -0.3 -1.5 -0.3 -1.5 -0.5 -1.6 -0.4 -1.9 -0.2 -1.5 -0.1 -2 -0.1 -2 0.3 -1.8 0.5 -1.2 1 -1.5 0.7 -1 0.8 -1 1 -1.1 1 -0.9 1.1 -1 0.9 -1.1 0.6 -1.4 0.3 -2 -0.1 -2 -0.2 -2 0.2 -2 0.6 -1.5 0.6 -1.1 0.6 -1.4 0 -2 -0.3 -1.5 -0.4 -1.5 0.1 -2 0.3 -1.5 0.4 -1.5 0.3 -1.5 0.1 -2 -0.2 -1.5 0 -2 0.6 -1.1 1.1 -0.9 1.4 -0.5 2 -0.1 1.5 0.3 1.5 0.4 1.5 0.7 1 0.8 1 1.1 0.9 1.3 0.7 1 0.9 1.2 1 1.1 1 0.9 1.1 0.8 1.4 1 1 0.8 1 1 0.9 1.2 0.6 1.1 0.7 1.4 0.8 1.4 1 1.1 1 1 0.9 1 0.7 1 0.9 1.3 0.8 1.2 0.7 1.2 1 1.3 0.8 1 0.7 1 0.8 1.5 0.3 1.5 -0.1 2 -0.2 1.5 0.1 2 0.6 1.5 0.5 1.2 0.5 1.3 0.7 1.5 0.8 1.3 1 1.2 1 1 1 1 0.7 1 0.8 1.5 0.2 1.5 -0.4 1.5 -0.8 1.1 -1 1.2 -1 1.2 -1 1 -1 0.7 -1.5 0.7 -1.5 0.5 -1.5 0.4 -1.5 0.4 -1.5 0.4 -2 0.2 -2 -0.2 -1.5 -0.6 -1.3 -0.5 -1.4 -0.5 -1.7 -0.5 -1.6 -0.4 -1.5 -0.2 -1.5 0.1 -1.5 0.6 -1.1 0.9 -0.9 1 -1 1.2 -1 0.9 -1.5 0.8 -1.5 0.4 -1.5 0.3zM1365.5 793.1l-1.5 -0.2 -1 -1 -0.9 -1.4 -0.7 -1 -0.9 -1.4 -0.6 -1.1 -0.5 -1.5 0.1 -1.5 0.8 -1.5 1.2 -0.9 1.5 -0.3 2 -0.2 1.5 -0.3 2 -0.1 0.9 1.3 0.2 1.5 -0.1 1.5 -0.4 2 -0.4 1.5 -0.6 1.5 -0.6 1.1 -1 1.4 -1 0.6z" fill="#f07a7a" stroke="#ffffff" stroke-width="0.9"/>
<path d="M1333 830.1l-2 0.2 -2 -0.2 -1.5 -0.3 -1.5 -0.4 -1.5 -0.8 -1 -1 -0.6 -1.1 -0.5 -1.5 -0.2 -2 -0.2 -1.8 -0.4 -1.7 -0.5 -1.5 -0.4 -1.5 -0.2 -1.8 -0.1 -1.7 0.1 -1.5 0.5 -1.6 0.9 -1.4 0.8 -1 1.1 -1 1.2 -0.8 1.5 -0.6 1.3 -0.6 0.9 -1 0.5 -1.5 0.3 -1.7 0.3 -1.8 0.1 -2 -0.4 -1.8 0 -1.3 0.7 -1.4 0.8 -1.1 0.9 -1.4 0.6 -1.5 0.5 -1.5 0.3 -1.5 -0.1 -2 -0.7 -1.3 -0.7 -1.2 -0.4 -1.5 0.1 -2 0.2 -1.5 0.4 -1.5 0.9 -1 2 0 1.5 0.3 1.5 0.5 1.1 0.7 1.1 1 0.8 1.2 0.8 1.3 0.7 1.1 1 1.3 1 0.9 1 1 0.6 1.2 0.3 2 0.5 1.5 0.8 1 1.3 0.7 1.5 0.4 1.5 0.5 1.5 0.8 1 0.8 1 1.1 0.8 1.2 0.7 1.3 0.6 1.2 0.6 1.5 0.5 1.5 -0.2 2 -0.5 1.1 -0.8 1.4 -0.4 1.5 0.5 1.5 1.1 1 1.1 0.8 1 0.9 1 1.3 0.6 1 0.9 1.5 0.6 1 0.9 1.1 1 1.2 0.7 1.2 0.3 1.5 -0.3 1.5 -0.7 1.3 -0.9 1.2 -1.1 0.9 -1.5 0.4 -2 0 -2 0.1 -1.5 0.4 -1.5 0.5 -1.5 0.3 -2 -0.1 -1.5 -0.4 -1.5 -0.5 -1.5 -0.6 -1.2 -0.5 -1.3 -0.6 -1.5 -0.4 -1.5 0.5 -1 0.8 -1 0.9 -1 1.2 -0.9 1.1 -0.8 1 -1.1 1 -1.2 0.7 -1.5 0.4z" fill="#f38e8e" stroke="#ffffff" stroke-width="0.9"/>
<path d="M1333.5 828.2l-2 0.3 -2 -0.3 -1.5 -0.5 -1.4 -0.7 -1.1 -0.9 -0.7 -1.1 -0.2 -2 0.3 -2 -0.1 -2 -0.6 -1.5 -0.7 -1.2 -0.5 -1.3 -0.2 -2 0.2 -1.7 0.7 -1.3 1 -1 1.3 -0.6 1.5 -0.4 1.5 -0.6 1.1 -0.9 0.9 -1.4 0.5 -1.4 0.5 -1.7 0.5 -1.2 0.9 -1.3 0.9 -1 0.7 -1 0.6 -1.5 -0.1 -2 -0.4 -1.5 -0.2 -1.5 0.2 -1.5 0.7 -1.5 1 -1 1.2 -0.6 1.7 0.1 1.3 0.6 1 0.9 0.8 1.5 0.5 1.5 0.6 1.5 1.6 0.3 1.5 -0.7 1.5 -0.6 1.5 -0.2 1.9 0.2 1.1 0.5 1.3 1 0.7 1 0.7 1.5 0.5 1.5 0 2 -0.6 1.5 -0.7 1 -0.9 1.3 -0.6 1.2 -0.5 1.5 0.1 2 0.5 1.2 1 0.8 1.5 0.6 1.5 0.6 1.2 0.8 0.9 1 0.7 1.5 0.4 1.5 0.3 1.6 0 1.4 -1 1.1 -1.5 0.9 -1 0.5 -1.5 0.7 -1.5 0.7 -1.5 0.3 -1.7 -0.2 -1.3 -0.8 -0.6 -1.2 0.2 -1.5 0.7 -1.5 0.5 -1.5 -0.2 -2 -0.8 -1 -1.8 -0.4 -1.5 0.6 -1.3 0.8 -1.2 0.8 -1.3 0.7 -1.2 0.6 -1.2 0.9 -0.8 1.2 -0.5 1.8 -0.2 1.5 -0.6 1.5 -0.7 1.2 -0.9 1.3 -0.8 1 -1.1 1 -1.2 0.7z" fill="#ee6c6c" stroke="#ffffff" stroke-width="0.9"/>
<path d="M1332.5 826.6l-1.5 -0.1 -1.5 -1 -0.5 -1 -0.3 -2 -0.1 -2 -0.2 -1.5 -0.4 -2 -0.3 -1.5 -0.1 -2 0.4 -1.6 1 -1.1 1 -0.9 1 -1.1 0.9 -1.3 0.6 -1.1 0.6 -1.4 0.6 -1.5 0.8 -1.5 0.7 -1 0.9 -1 0.9 -1.2 0.8 -1.3 0.7 -1.1 1 -1.2 2 0.1 1.5 0.5 2 0 1.5 -0.7 1 -0.7 1.3 -0.9 1.2 -0.5 1.8 0 1.2 0.6 1 1.2 0.5 1.5 0 1.7 -0.5 1.3 -0.8 1.2 -0.8 1 -1 1 -1.3 1 -1.6 0.4 -1.8 -0.4 -1.5 -0.5 -1.7 -0.3 -2 0.2 -1.5 0.6 -0.8 1 -0.1 2 0.4 1.7 0.4 1.8 0 2 -0.6 1.5 -0.8 1.3 -0.5 1.2 -0.5 1.8 -0.2 1.7 -0.3 1.8 -0.5 1.4 -0.8 1.3 -0.7 1 -1.1 1 -1.4 0.6z" fill="#f28a8a" stroke="#ffffff" stroke-width="0.9"/>
<path d="M1349.5 801l-2 0.1 -1.5 -0.6 -1 -0.5 -0.5 -1.2 1.1 -0.8 1.4 -1 1 -0.7 1 -0.8 1.5 -0.7 1.5 0.2 0.8 1.5 -0.3 1.6 -0.9 1.4 -1.1 1 -1 0.5zM1333.5 823.7l-1.8 -0.2 -0.7 -1.4 -0.4 -1.6 -0.3 -1.5 -0.1 -2 0.3 -1.7 0.5 -1.3 0.8 -1.5 0.7 -1.2 0.7 -1.3 0.8 -1.5 0.7 -1 0.9 -0.5 0.9 1.2 0.1 1.8 -0.5 1.5 -0.4 1.5 0 2 0.2 2 0 2 -0.4 2 -0.5 1.2 -1 1.2z" fill="#f7b0b0" stroke="#ffffff" stroke-width="0.9"/>
<path d="M1351 720 L1424.6 720 L1424.6 812.5 L1351 812.5 Z" stroke="#4a4a4a" stroke-width="1.4" fill="none" stroke-linejoin="miter"/>
<text x="1426.1" y="835.5" font-size="16.5" text-anchor="end" fill="#000">16.5</text>
<text x="1294.5" y="722.5" font-size="16.6" text-anchor="end">10<tspan dy="-6.31" font-size="9.63" fill="#333">5</tspan></text>
<text x="1294.5" y="796" font-size="16.6" text-anchor="end">10<tspan dy="-6.31" font-size="9.63" fill="#333">3</tspan></text>
<text x="1337.3" y="864.5" font-size="16.6" text-anchor="start">10<tspan dy="-6.31" font-size="9.63" fill="#333">2</tspan></text>
<text x="1426.8" y="864.5" font-size="16.6" text-anchor="start">10<tspan dy="-6.31" font-size="9.63" fill="#333">4</tspan></text>
<path d="M1470.3 713H1605.3V848" fill="none" stroke="#9a9a9a" stroke-width="1.1"/>
<path d="M1470.3 712.5V848H1605.3" fill="none" stroke="#333" stroke-width="1.3"/>
<path d="M1465.8 713.7h4.5M1465.8 747h4.5M1465.8 781h4.5M1465.8 817h4.5M1465.8 848h4.5M1470.3 848v4.5M1513.8 848v4.5M1558.3 848v4.5M1603.3 848v4.5" stroke="#333" stroke-width="1.2"/>
<path d="M1467.8 737h2.5M1467.8 731.1h2.5M1467.8 727h2.5M1467.8 723.7h2.5M1467.8 721.1h2.5M1467.8 718.9h2.5M1467.8 716.9h2.5M1467.8 715.2h2.5M1467.8 770.8h2.5M1467.8 764.8h2.5M1467.8 760.5h2.5M1467.8 757.2h2.5M1467.8 754.5h2.5M1467.8 752.3h2.5M1467.8 750.3h2.5M1467.8 748.6h2.5M1467.8 806.2h2.5M1467.8 799.8h2.5M1467.8 795.3h2.5M1467.8 791.8h2.5M1467.8 789h2.5M1467.8 786.6h2.5M1467.8 784.5h2.5M1467.8 782.6h2.5M1467.8 838.7h2.5M1467.8 833.2h2.5M1467.8 829.3h2.5M1467.8 826.3h2.5M1467.8 823.9h2.5M1467.8 821.8h2.5M1467.8 820h2.5M1467.8 818.4h2.5M1483.4 848v2.5M1491.1 848v2.5M1496.5 848v2.5M1500.7 848v2.5M1504.1 848v2.5M1507.1 848v2.5M1509.6 848v2.5M1511.8 848v2.5M1527.2 848v2.5M1535 848v2.5M1540.6 848v2.5M1544.9 848v2.5M1548.4 848v2.5M1551.4 848v2.5M1554 848v2.5M1556.3 848v2.5M1571.8 848v2.5M1579.8 848v2.5M1585.4 848v2.5M1589.8 848v2.5M1593.3 848v2.5M1596.3 848v2.5M1598.9 848v2.5M1601.2 848v2.5" stroke="#444" stroke-width="0.9"/>
<rect x="1465.8" y="832" width="3.5" height="4" fill="#111" stroke="none" stroke-width="0"/>
<rect x="1494.3" y="848.5" width="5" height="3" fill="#111" stroke="none" stroke-width="0"/>
<path d="M1551.3 761.5l-1 0.3 -1 -0.1 -0.5 -0.2 -0.7 -0.5 -0.5 -0.5 -0.2 -1 0.4 -1 0.5 -0.4 0.5 -0.3 1 -0.1 1 0.1 0.5 0.2 0.8 0.5 0.4 0.5 0.1 1 -0.3 0.8 -0.5 0.5 -0.5 0.2zM1511.3 794.1l-2 0.3 -2 -0.4 -1.1 -0.5 -0.7 -1.5 1.2 -1 1.6 -0.5 1.5 -0.1 1.5 0.2 1.5 0.8 0.3 1.6 -1.3 1zM1537.8 798.5l-1.5 -0.4 -0.8 -1.1 -0.5 -1.5 -0.1 -2 0.4 -1.7 1 -1.1 1.9 0.3 0.9 1 0.6 1.5 0 2 -0.4 1.6 -1 1.2zM1524.3 800.5l-2 0.2 -1.5 -0.7 -0.9 -1 -0.2 -1.5 0.6 -1 1.5 -0.9 1.5 -0.2 1.5 0.4 1 0.9 0.4 1.8 -0.9 1.4 -1 0.6zM1506.8 833.6l-2 0.2 -2 -0.1 -1.5 -0.3 -2 -0.4 -1.5 -0.4 -1.5 -0.4 -1.5 -0.7 -1 -0.5 -1.5 -1 -1 -0.7 -1 -0.8 -1 -1 -1 -1.1 -1 -1.3 -0.7 -1.1 -0.5 -1.5 -0.2 -2 0.1 -2 0.3 -2 0.3 -1.5 0.7 -1.3 1 -1.1 1 -0.7 1.5 -0.8 1.5 -0.5 1.5 -0.6 1.5 -0.5 1.5 -0.3 1.5 -0.2 2 -0.2 1.9 -0.3 1.6 -0.4 1.5 -0.3 2 0.1 1.5 0.5 1.5 0.5 1.5 0.4 2 0 2 -0.3 1.5 -0.3 2 -0.1 1.5 -0.2 1.5 -0.4 1.5 -0.6 1.7 -0.4 1.8 0 1.5 0.3 1.5 0.5 1.5 0.6 1.5 0.5 1.3 0.6 1.2 0.9 1 1.1 0.6 1 0.7 1.5 0.5 1.5 0.4 1.5 0.1 2 -0.4 1.5 -0.9 1.2 -1.5 0.8 -1.5 0.5 -1 0.5 -1.2 1 -0.8 1.1 -0.9 1.4 -0.7 1 -1.1 1 -1.3 0.7 -1.5 0.4 -2 -0.1 -1.5 -0.3 -1.5 -0.4 -2 -0.1 -1.8 0.3 -1.7 0.5 -1.5 0.5 -1.3 0.5 -1.2 0.5 -1.5 0.7 -1.5 0.7 -1.5 0.6z" fill="#adadf6" stroke="#111111" stroke-width="1.3"/>
<path d="M1510.8 793.2l-1 0.2 -1 0 -1 -0.4 -0.3 -0.5 0.3 -0.7 0.5 -0.3 1 -0.2 1 0 0.6 0.2 0.6 0.5 -0.2 0.9 -0.5 0.3zM1537.8 796.9l-1 -0.2 -0.5 -0.7 -0.2 -0.5 -0.2 -1 0 -1 0.4 -1 0.5 -0.4 1 0.2 0.5 0.5 0.4 0.7 0.1 0.6 0 0.9 0 0.5 -0.5 1 -0.5 0.4zM1523.8 799l-1 0.2 -0.6 -0.2 -0.5 -0.5 0.1 -0.9 0.5 -0.4 1 -0.1 0.8 0.4 0.2 0.5 0 0.5 -0.5 0.5zM1505.8 832.1l-2 0 -1.5 -0.2 -2 -0.3 -1.5 -0.4 -1.5 -0.4 -1.5 -0.6 -1.3 -0.7 -1.2 -0.8 -1 -0.8 -1 -1 -1 -1.2 -0.8 -1.2 -0.6 -1.5 -0.3 -1.5 0 -2 0.1 -2 0.3 -1.5 0.7 -1.5 1.1 -1 1 -0.6 1.5 -0.7 1.5 -0.7 1.4 -0.5 1.6 -0.3 2 -0.1 2 0 2 -0.1 1.5 -0.1 1.8 0.1 1.7 0.3 1.5 0.3 2 0.3 2 0 2 -0.2 2 0 2 0 1.5 -0.4 1.5 -0.8 1 -0.6 1.5 -0.6 2 0 1.5 0.4 1.5 0.5 1.5 0.7 1.1 0.6 1.3 1 0.8 1 0.8 1.5 0.4 1.5 0.2 1.5 -0.5 1.5 -1 1 -1.1 0.5 -1.5 0.6 -1.5 0.8 -1 1 -0.6 1.1 -0.8 1.5 -0.7 1 -1.4 0.9 -1.3 0.1 -1.7 -0.3 -1.5 -0.3 -2 -0.2 -2 0.3 -1.5 0.4 -1.4 0.6 -1.2 0.5 -1.4 0.6 -1.5 0.7 -1.5 0.7 -1 0.5 -1.5 0.7 -1.5 0.4z" fill="#9494f2" stroke="#ffffff" stroke-width="0.9"/>
<path d="M1505.8 830.6l-2 0.1 -1.5 -0.2 -2 -0.4 -1.5 -0.3 -1.5 -0.5 -1.5 -0.8 -1 -0.6 -1.1 -0.9 -0.9 -1.1 -0.7 -1.4 -0.3 -1.5 0 -2 0 -1.2 0 -1.8 0.1 -1.5 0.8 -1.5 1 -1 1.1 -0.8 1.5 -0.7 1.5 -0.4 2 0 2 0.3 1.5 0.2 1.7 -0.1 1.8 -0.1 1.8 0.1 1.7 0.3 1.5 0.2 2 0.2 2 0 1.5 0.3 2 0.4 2 -0.1 1.5 -0.8 1 -0.8 1 -0.8 1.5 -0.8 1.5 -0.1 1.5 0.4 1.3 0.6 1.2 0.8 1 0.9 1 1.3 0.5 1.3 0 1.2 -1 1.1 -1.5 0.6 -1.5 0.4 -1.5 0.6 -1.4 0.8 -0.8 1 -0.8 1.3 -1 0.9 -1.5 0.5 -2 0.3 -1.5 0.1 -2 0.4 -1.5 0.5 -1 0.5 -1.5 0.9 -1.1 0.6 -1.4 0.7 -1.5 0.8 -1 0.5 -1.5 0.6 -1.5 0.5z" fill="#a6a6f5" stroke="#ffffff" stroke-width="0.9"/>
<path d="M1528.3 815.6l-1 0.2 -1 -0.2 -0.5 -0.6 0.2 -1 0.4 -0.5 0.9 -0.4 1 0.2 0.5 0.4 0.3 0.8 -0.3 0.7 -0.5 0.4zM1505.8 829l-2 0.1 -1.5 -0.1 -2 -0.3 -1.5 -0.4 -1.5 -0.7 -1 -0.7 -1 -1 -0.6 -1.4 0.1 -1.9 0.2 -1.6 -0.1 -2 -0.2 -1.5 0.3 -1.5 0.8 -1.1 1.4 -0.9 1.6 -0.3 1.7 0.3 1.8 0.4 1.5 0.1 1.5 -0.1 2 -0.3 2 0 2 0.3 1.5 0.3 1.8 0.3 1.4 0.5 1.3 0.7 1.4 0.8 1.1 0.7 1.1 0.8 0.6 1.5 -0.6 1.5 -1.1 0.6 -1.5 0.5 -1.5 0.5 -1.5 0.7 -1 0.7 -1.4 1 -1.1 0.8 -1.2 0.7 -1.3 0.7 -1.5 0.7 -1.5 0.5z" fill="#8a8af0" stroke="#ffffff" stroke-width="0.9"/>
<path d="M1506.8 827l-2 0.4 -2 0 -2 -0.2 -1.5 -0.4 -1.2 -0.8 -0.8 -1.1 0 -1.9 0.3 -1.5 0.1 -2 -0.1 -2 0.7 -1.2 1.5 -0.3 1.5 0.2 2 0.3 1 0 2 -0.4 1.5 -0.4 2 -0.1 2 0.3 1.5 0.4 1.5 0.7 1 0.9 0.6 1.1 -0.2 1.5 -0.9 1 -1.1 1 -1.2 1 -1.2 1 -1 0.7 -1.5 0.8 -1.1 0.5 -1.4 0.5z" fill="#a0a0f4" stroke="#ffffff" stroke-width="0.9"/>
<path d="M1504.3 825.1l-2 0.2 -1.5 -0.4 -0.8 -1.4 0.3 -1.8 0.5 -1.4 1 -1 2 0 1.6 -0.3 1.4 -0.8 1.3 -0.7 1.7 -0.4 2 0.2 1.3 0.7 0.8 1 -0.2 1.5 -0.9 1.2 -1 0.9 -1.4 0.9 -1.1 0.5 -2 0.5 -1.5 0.2 -1.5 0.4z" fill="#c0c0f8" stroke="#ffffff" stroke-width="0.9"/>
<path d="M1518.6 720 L1591.9 720 L1591.9 812.5 L1518.6 812.5 Z" stroke="#4a4a4a" stroke-width="1.4" fill="none" stroke-linejoin="miter"/>
<text x="1593.4" y="833" font-size="16.5" text-anchor="end" fill="#000">6.19</text>
<text x="1461.8" y="722.5" font-size="16.6" text-anchor="end">10<tspan dy="-6.31" font-size="9.63" fill="#333">5</tspan></text>
<text x="1461.8" y="796" font-size="16.6" text-anchor="end">10<tspan dy="-6.31" font-size="9.63" fill="#333">3</tspan></text>
<text x="1504.6" y="864.5" font-size="16.6" text-anchor="start">10<tspan dy="-6.31" font-size="9.63" fill="#333">2</tspan></text>
<text x="1594.1" y="864.5" font-size="16.6" text-anchor="start">10<tspan dy="-6.31" font-size="9.63" fill="#333">4</tspan></text>
<text x="4.3" y="1011.5" font-size="65" text-anchor="start" fill="#000">E</text>
<line x1="91.9" y1="1347.3" x2="91.9" y2="1008.6" stroke="#000" stroke-width="2.2" stroke-linecap="butt"/>
<path d="M86.4 1009.6 L97.4 1009.6 L91.9 998.6 Z" stroke="none" stroke-width="0" fill="#000" stroke-linejoin="miter"/>
<line x1="90.8" y1="1347.3" x2="599.3" y2="1347.3" stroke="#000" stroke-width="2.2" stroke-linecap="butt"/>
<path d="M598.3 1341.8 L598.3 1352.8 L609.3 1347.3 Z" stroke="none" stroke-width="0" fill="#000" stroke-linejoin="miter"/>
<text x="79.5" y="1168.9" font-size="22" text-anchor="middle" fill="#000" transform="rotate(-90 79.5 1168.9)">CD206-APC</text>
<text x="368.2" y="1370" font-size="22" text-anchor="middle" fill="#000">CD11c-AF488</text>
<text x="194.9" y="997" font-size="21.5" text-anchor="middle" fill="#000">PBS</text>
<text x="374.7" y="997" font-size="21.5" text-anchor="middle" fill="#000">OXP</text>
<text x="203.6" y="1184.4" font-size="21.5" text-anchor="middle" fill="#000">OXP/C.L.</text>
<text x="371.5" y="1184.4" font-size="21.5" text-anchor="middle" fill="#000">OXP/BzATP</text>
<text x="541.5" y="1184.4" font-size="21.5" text-anchor="middle" fill="#000">OXP/BzATP/C.L.</text>
<path d="M133 1001.3H268V1136.3" fill="none" stroke="#9a9a9a" stroke-width="1.1"/>
<path d="M133 1000.8V1136.3H268" fill="none" stroke="#333" stroke-width="1.3"/>
<path d="M128.5 1002h4.5M128.5 1035.3h4.5M128.5 1069.3h4.5M128.5 1105.3h4.5M128.5 1136.3h4.5M133 1136.3v4.5M173.5 1136.3v4.5M218 1136.3v4.5M263 1136.3v4.5" stroke="#333" stroke-width="1.2"/>
<path d="M130.5 1025.3h2.5M130.5 1019.4h2.5M130.5 1015.3h2.5M130.5 1012h2.5M130.5 1009.4h2.5M130.5 1007.2h2.5M130.5 1005.2h2.5M130.5 1003.5h2.5M130.5 1059.1h2.5M130.5 1053.1h2.5M130.5 1048.8h2.5M130.5 1045.5h2.5M130.5 1042.8h2.5M130.5 1040.6h2.5M130.5 1038.6h2.5M130.5 1036.9h2.5M130.5 1094.5h2.5M130.5 1088.1h2.5M130.5 1083.6h2.5M130.5 1080.1h2.5M130.5 1077.3h2.5M130.5 1074.9h2.5M130.5 1072.8h2.5M130.5 1070.9h2.5M130.5 1127h2.5M130.5 1121.5h2.5M130.5 1117.6h2.5M130.5 1114.6h2.5M130.5 1112.2h2.5M130.5 1110.1h2.5M130.5 1108.3h2.5M130.5 1106.7h2.5M145.2 1136.3v2.5M152.3 1136.3v2.5M157.4 1136.3v2.5M161.3 1136.3v2.5M164.5 1136.3v2.5M167.2 1136.3v2.5M169.6 1136.3v2.5M171.6 1136.3v2.5M186.9 1136.3v2.5M194.7 1136.3v2.5M200.3 1136.3v2.5M204.6 1136.3v2.5M208.1 1136.3v2.5M211.1 1136.3v2.5M213.7 1136.3v2.5M216 1136.3v2.5M231.5 1136.3v2.5M239.5 1136.3v2.5M245.1 1136.3v2.5M249.5 1136.3v2.5M253 1136.3v2.5M256 1136.3v2.5M258.6 1136.3v2.5M260.9 1136.3v2.5" stroke="#444" stroke-width="0.9"/>
<rect x="128.5" y="1120.3" width="3.5" height="4" fill="#111" stroke="none" stroke-width="0"/>
<rect x="157" y="1136.8" width="5" height="3" fill="#111" stroke="none" stroke-width="0"/>
<path d="M176 1116l-2 0.2 -2 -0.3 -1.5 -0.3 -2 -0.2 -1.5 -0.1 -2 -0.5 -1.1 -0.5 -1.4 -0.8 -1 -0.8 -1.1 -0.9 -1.1 -1 -1 -1 -0.8 -1 -1 -1.3 -0.8 -1.2 -0.7 -1 -0.9 -1.5 -0.6 -1.4 -0.3 -1.6 -0.2 -2 -0.1 -1.5 0 -2 0.3 -1.5 0.5 -1.5 0.7 -1.5 0.7 -1 0.9 -1.3 0.8 -1.2 0.7 -1 1 -1.5 0.7 -1 0.8 -1.1 1 -1.3 1 -1.1 0.9 -1 0.9 -1 0.8 -1 0.9 -1.2 0.8 -1.3 0.7 -1.3 0.6 -1.2 0.6 -1.5 0.7 -1.5 0.5 -1.5 0.2 -1.5 -0.1 -1.8 -0.3 -1.7 -0.3 -1.5 -0.4 -2 -0.1 -1.5 0.1 -1.5 0.5 -1.7 0.5 -1.3 0.7 -1.5 0.8 -1.2 1 -1 1 -0.8 1.5 -0.7 1.5 -0.3 1.5 0.1 1.6 0.4 1.4 0.8 1 0.9 1 1.3 0.7 1 0.8 1.5 0.6 1 0.9 1.3 0.9 1.2 0.8 1 0.9 1 0.9 1 1 1.1 1 1 1 0.9 1.2 1 1.3 0.8 1 0.7 1.3 1 1 1 0.7 1.3 0.5 1.7 0.1 1.5 -0.2 1.5 -0.4 2 -0.2 1.5 0.2 1.8 0.6 1.2 0.9 1.5 0.5 1 0.5 1.5 0.1 2 -0.1 1.5 -0.5 1.9 -0.5 1.6 -0.5 1.2 -0.7 1.3 -0.8 1.1 -1 1.1 -1 0.9 -1 1 -1 1.3 -0.7 1.1 -0.7 1.5 -0.5 1.5 -0.6 1.3 -0.6 1.2 -0.9 1.4 -0.7 1.1 -0.8 1.2 -0.9 1.3 -0.9 1 -1.1 1 -1.1 0.7 -1.5 0.5 -1.5 0.4 -1.8 0.4 -1.7 0.5 -1.5 0.5zM216 1093.3l-1.5 0 -1.5 -0.8 -1 -0.9 -0.9 -1.3 -0.6 -1.4 -0.3 -1.6 0.3 -1.7 0.8 -1.3 1.1 -1 1.1 -0.5 2 -0.2 1.5 0.7 1 0.9 0.8 1.1 0.7 1.5 0.3 1.5 -0.2 2 -0.6 1.1 -1 1 -1.5 0.8zM208.5 1108.4l-2 0.3 -2 -0.1 -1.5 -0.3 -1.5 -0.9 -0.7 -1.1 0.2 -1.6 1 -1 1.5 -0.7 1.5 -0.3 2 -0.1 1.7 0.2 1.8 0.4 1.2 0.6 0.7 1.5 -0.9 1.4 -1 0.7 -1.5 0.8z" fill="#d6d6d6" stroke="#8a8a8a" stroke-width="0.8"/>
<path d="M175 1113.3l-2 0.2 -2 0 -2 -0.1 -1.5 -0.2 -1.6 -0.4 -1.4 -0.7 -1.1 -0.8 -1.2 -1 -1.1 -1 -0.9 -1 -0.9 -1 -0.8 -1.2 -0.8 -1.3 -0.6 -1.5 -0.4 -1.5 -0.2 -1.7 -0.2 -1.8 -0.1 -2 0 -2 0.3 -1.5 0.7 -1.5 0.8 -1.5 0.6 -1 0.9 -1.5 0.6 -1 0.9 -1.5 0.7 -1 0.8 -1 1 -1.1 1 -0.9 1.2 -1 1.1 -1 1.1 -1 0.8 -1 0.8 -1.3 0.5 -1.2 0.7 -1.5 0.7 -1.5 0.6 -1.2 0.6 -1.3 0.4 -1.5 -0.1 -1.5 -0.6 -1.5 -0.7 -1.5 -0.6 -1.5 -0.3 -1.5 -0.2 -1.5 0 -1.6 0.4 -1.9 0.5 -1.5 0.6 -1 1 -1.2 1.5 -0.8 1.5 -0.2 1.5 0.2 1.5 0.8 1 0.8 1 1.4 0.5 1 0.6 1.5 0.5 1.5 0.6 1.5 0.8 1.2 1 1 1.2 0.8 1.3 0.9 1 0.9 1 1.1 1 1 1 0.7 1.5 0.6 1.5 0.6 1.2 0.7 1 1 0.6 1.5 0 2 -0.4 1.5 -0.6 1.5 -0.5 1.5 0.1 2 0.6 1.3 0.7 1.2 0.8 1.5 0.4 1.5 0.1 2 -0.3 2 -0.4 1.5 -0.7 1.5 -0.7 1 -0.9 1 -1.3 1 -1.2 0.8 -1 0.7 -1 1 -0.7 1.5 -0.5 1.5 -0.5 1.5 -0.6 1.5 -0.7 1.3 -0.8 1.2 -0.7 1 -1 1.3 -0.9 1.2 -0.9 1 -1.2 0.8 -1.5 0.7 -1.5 0.5 -1.5 0.4 -1.5 0.4 -1.5 0.2zM215.5 1088.6l-0.8 -0.3 -0.3 -0.5 0.1 -0.8 0.5 -0.2 0.5 0.1 0.5 0.9 0 0.1 -0.5 0.7z" fill="#cbcbcb" stroke="#f2f2f2" stroke-width="0.9"/>
<path d="M174 1111.3l-2 0.3 -2 0.1 -2 -0.1 -1.5 -0.5 -1.3 -0.8 -1.2 -1 -0.9 -1 -0.9 -1 -0.8 -1 -0.9 -1.4 -0.5 -1.1 -0.5 -1.5 -0.4 -2 -0.1 -2 0 -2 0 -2 0.4 -2 0.6 -1.4 0.6 -1.1 0.8 -1.5 0.6 -1.1 0.7 -1.4 0.8 -1.4 0.9 -1.1 1 -1 1.1 -0.8 1.1 -0.7 1.4 -0.9 1 -0.8 1 -1.3 0.5 -1 0.7 -1.5 0.6 -1.5 0.6 -1.5 0.6 -1.3 0.6 -1.2 0.8 -1.5 0.6 -1.5 0.1 -1.5 -0.6 -1 -1 -1 -1 -1.3 -0.6 -1.2 -0.5 -1.5 -0.1 -2 0.2 -1.7 0.5 -1.4 1 -1.3 1.1 -0.6 1.4 0 1.5 0.7 1 1.1 0.6 1.2 0.5 1.5 0.4 1.7 0.3 1.8 0.5 1.5 0.8 1 1.4 0.8 1.5 0.7 1 0.6 1 1.1 0.7 1.3 0.7 1.5 0.6 1 2 0.2 1.5 -0.4 1.8 0.2 1 1 0.2 1.4 -0.5 1.6 -0.5 1 -0.9 1.5 -0.3 1.5 0.2 1.6 0.7 1.4 0.8 1.2 0.8 1.3 0.5 1.5 0.2 1.5 0 1.5 -0.4 2 -0.6 1.2 -1 1.2 -1 0.8 -1.5 0.8 -1.1 0.5 -1.4 1 -0.8 1 -0.6 1.5 -0.4 1.5 -0.6 1.5 -0.6 1.2 -1 1.2 -1 1 -1 1 -0.8 1.1 -0.7 1.2 -0.9 1.3 -1.1 0.8 -1.3 0.7 -1.6 0.5 -1.6 0.3 -1.5 0.2z" fill="#d2d2d2" stroke="#f2f2f2" stroke-width="0.9"/>
<path d="M177 1060.6l-1 -0.1 -0.5 -0.3 -0.5 -0.7 -0.2 -0.7 -0.1 -1 0.2 -1 0.2 -0.5 0.5 -0.5 0.7 0 0.7 0.5 0.3 0.5 0.2 0.6 0.2 0.9 0 1 -0.2 0.7 -0.5 0.6zM171 1109.3l-2 0.3 -1.5 -0.3 -1.5 -1 -0.9 -1 -0.7 -1 -0.9 -1.3 -0.7 -1.2 -0.8 -1.5 -0.4 -1.5 -0.2 -1.5 0.1 -1.5 0.4 -2 0.3 -1.5 0.4 -1.5 0.7 -1.5 0.7 -1.5 0.4 -1.5 0.3 -1.5 0.6 -1.5 0.7 -1.1 1.1 -0.9 1.4 -0.8 1.5 -0.6 1 -0.7 1 -1.3 0.6 -1.1 0.8 -1.5 0.6 -1.2 0.5 -1.3 0.6 -1.5 0.5 -1.5 0.7 -1.5 0.7 -1.1 1 -1.3 1 -0.8 1.5 -0.8 1.5 0 1.5 0.4 1 0.8 0.7 1.3 0.5 1.5 0.4 1.5 0.7 1.5 0.7 1.1 1 1.1 1 1.2 0.6 1.1 0.6 1.5 0.8 1.5 0.8 1 0.8 1 0.9 1.4 0.5 1.2 0.3 1.9 -0.3 1.9 -0.5 1.1 -1 1.1 -1.5 0.8 -1.5 0.6 -1.2 0.5 -1.3 0.9 -0.9 1.1 -0.6 1.4 -0.5 1.4 -0.6 1.2 -0.9 1 -1.3 1 -1.2 1 -1 1 -0.7 1 -0.8 1.3 -0.8 1.2 -1 1 -1.2 0.5 -2 0.4 -1.5 0.3 -1.5 0.3zM176.6 1090.3l0.5 -0.5 -0.1 -0.7 -0.5 -0.6 -0.5 -0.3 -1 -0.1 -0.5 0.2 -0.5 0.6 -0.2 0.9 0.4 0.5 0.8 0.2 1 0 0.6 -0.2z" fill="#c6c6c6" stroke="#f2f2f2" stroke-width="0.9"/>
<path d="M189 1091.4l-2 0.2 -2 0 -1 -0.8 -1 -1.5 -0.9 -1 -1.1 -0.9 -1 -0.7 -1.2 -0.9 -1.3 -1 -1 -0.6 -1.5 -0.9 -0.9 -1 -0.1 -1.5 0.5 -1.5 0.5 -1.1 0.8 -1.4 0.5 -1.5 0.4 -1.5 0.3 -1.5 0.7 -1.5 0.8 -1.1 1.3 -0.9 1.7 -0.3 1.5 0.7 0.7 1.1 0.6 1.5 0.5 1.5 0.5 1.5 0.6 1.5 0.6 1.4 0.5 1.2 0.6 1.4 0.9 1.2 1 1 1 0.8 1 1 1 1.4 0.5 1.6 0 1 -0.7 1.5 -1.3 0.9 -1.5 0.5zM170 1105.8l-1.5 0 -1.5 -1 -0.9 -1 -0.7 -1 -0.9 -1.4 -0.4 -1.6 0.3 -2 0.6 -1 1 -1.1 1.5 -0.7 1.5 -0.3 2 -0.2 2 -0.2 1.5 -0.1 2 0 2 0 2 0 1.7 0.1 0.4 1.5 -0.6 1.5 -0.7 1 -0.8 1.1 -1 1.4 -0.7 1 -0.8 1 -1 1.1 -1.3 0.9 -1.2 0.5 -2 0.3 -2 0.2z" fill="#d4d4d4" stroke="#f2f2f2" stroke-width="0.9"/>
<path d="M183 1083.8l-1.5 -0.1 -1.5 -0.8 -1 -0.9 -0.8 -1.2 0.3 -1.6 0.5 -1.9 -0.3 -2 -0.1 -2 0.4 -1.5 1 -1 1.6 0 0.9 1.1 0.5 1.5 0.3 1.9 0.1 2 0 2 0.1 2 0 1.5 -0.5 1zM189.5 1088.6l-1 0.1 -1 -0.4 -0.5 -0.5 -0.4 -0.5 -0.2 -0.5 0.1 -1 0.5 -0.1 1 0.1 0.5 0.2 0.6 0.3 0.5 0.5 0.4 0.8 0 0.3 -0.5 0.7zM174.5 1102.9l-2 0.1 -1.5 -0.4 -1.5 -0.7 -1 -0.8 -0.8 -1.3 0.3 -1.6 1 -1 1.5 -0.5 2 -0.3 1.5 -0.2 1.5 0.1 1.6 0.5 0.9 1.1 0 1.4 -0.7 1.5 -0.9 1 -1.4 0.9z" fill="#e2e2e2" stroke="#f2f2f2" stroke-width="0.9"/>
<path d="M136 1031.8 L209 1031.8 L210.5 1072.8 L189 1092.3 L136 1092.3 Z" stroke="#4a4a4a" stroke-width="1.4" fill="none" stroke-linejoin="miter"/>
<path d="M210.5 1072.8 L264 1072.8 L264 1126.8 L189 1126.8 L189 1092.3 Z" stroke="#4a4a4a" stroke-width="1.4" fill="none" stroke-linejoin="miter"/>
<text x="255.8" y="1122.5" font-size="16.5" text-anchor="end" fill="#000">12.6</text>
<text x="124.5" y="1011.7" font-size="16.6" text-anchor="end">10<tspan dy="-6.31" font-size="9.63" fill="#333">5</tspan></text>
<text x="124.5" y="1083.3" font-size="16.6" text-anchor="end">10<tspan dy="-6.31" font-size="9.63" fill="#333">3</tspan></text>
<text x="164.3" y="1152.8" font-size="16.6" text-anchor="start">10<tspan dy="-6.31" font-size="9.63" fill="#333">2</tspan></text>
<text x="252.3" y="1152.8" font-size="16.6" text-anchor="start">10<tspan dy="-6.31" font-size="9.63" fill="#333">4</tspan></text>
<path d="M309.5 1001.3H444.5V1136.3" fill="none" stroke="#9a9a9a" stroke-width="1.1"/>
<path d="M309.5 1000.8V1136.3H444.5" fill="none" stroke="#333" stroke-width="1.3"/>
<path d="M305 1002h4.5M305 1035.3h4.5M305 1069.3h4.5M305 1105.3h4.5M305 1136.3h4.5M309.5 1136.3v4.5M350 1136.3v4.5M394.5 1136.3v4.5M439.5 1136.3v4.5" stroke="#333" stroke-width="1.2"/>
<path d="M307 1025.3h2.5M307 1019.4h2.5M307 1015.3h2.5M307 1012h2.5M307 1009.4h2.5M307 1007.2h2.5M307 1005.2h2.5M307 1003.5h2.5M307 1059.1h2.5M307 1053.1h2.5M307 1048.8h2.5M307 1045.5h2.5M307 1042.8h2.5M307 1040.6h2.5M307 1038.6h2.5M307 1036.9h2.5M307 1094.5h2.5M307 1088.1h2.5M307 1083.6h2.5M307 1080.1h2.5M307 1077.3h2.5M307 1074.9h2.5M307 1072.8h2.5M307 1070.9h2.5M307 1127h2.5M307 1121.5h2.5M307 1117.6h2.5M307 1114.6h2.5M307 1112.2h2.5M307 1110.1h2.5M307 1108.3h2.5M307 1106.7h2.5M321.7 1136.3v2.5M328.8 1136.3v2.5M333.9 1136.3v2.5M337.8 1136.3v2.5M341 1136.3v2.5M343.7 1136.3v2.5M346.1 1136.3v2.5M348.1 1136.3v2.5M363.4 1136.3v2.5M371.2 1136.3v2.5M376.8 1136.3v2.5M381.1 1136.3v2.5M384.6 1136.3v2.5M387.6 1136.3v2.5M390.2 1136.3v2.5M392.5 1136.3v2.5M408 1136.3v2.5M416 1136.3v2.5M421.6 1136.3v2.5M426 1136.3v2.5M429.5 1136.3v2.5M432.5 1136.3v2.5M435.1 1136.3v2.5M437.4 1136.3v2.5" stroke="#444" stroke-width="0.9"/>
<rect x="305" y="1120.3" width="3.5" height="4" fill="#111" stroke="none" stroke-width="0"/>
<rect x="333.5" y="1136.8" width="5" height="3" fill="#111" stroke="none" stroke-width="0"/>
<path d="M357.5 1081l-2 -0.2 -1 -0.9 -0.5 -1.1 -0.3 -2 0.3 -2 0.3 -1.5 0.3 -1.5 0.4 -1.8 0.5 -1.7 0.5 -1.3 0.7 -1.2 0.9 -1 1.3 -1 1.1 -0.6 1.5 -0.5 2 0.1 1 0.7 0.6 1.3 0.1 2 -0.2 1.5 -0.5 1.5 -0.6 1.5 -0.5 1.5 -0.6 1.5 -0.8 1.4 -0.7 1.1 -0.8 1.2 -0.9 1.3 -1 1 -1.1 0.7zM375.5 1073.9l-2 0 -1.5 -0.4 -1.2 -0.7 -0.9 -1 -0.5 -1.5 0.1 -1.7 0.7 -1.3 1.2 -1 1.1 -0.5 1.5 -0.5 2 -0.3 1.5 0.3 1.5 0.8 1 1.2 0.4 1.5 -0.3 2 -0.6 1.1 -1 0.9 -1.5 0.8 -1.5 0.3zM353.5 1123.4l-2 0.2 -2 -0.1 -1.9 -0.2 -1.6 -0.1 -2 0 -2 -0.1 -1.8 -0.3 -1.7 -0.5 -1.5 -0.5 -1.2 -0.5 -1.3 -0.6 -1.5 -0.9 -1 -0.6 -1.5 -0.8 -1.3 -0.6 -1.2 -0.5 -1.5 -0.9 -1 -0.8 -1 -1.3 -0.4 -1.5 0.2 -2 0.4 -1.5 0.6 -1.5 0.7 -1.5 0.7 -1 1.1 -1 1.2 -0.5 1.5 -0.5 1.6 -0.5 1.4 -0.6 1.5 -0.7 1.3 -0.7 1.2 -0.5 1.5 -0.6 1.5 -0.5 1.6 -0.4 1.9 -0.4 1.5 -0.4 1.5 -0.4 1.5 -0.7 1 -0.8 1 -1.3 0.6 -1 0.9 -1.4 0.9 -1.1 1.1 -1 1 -0.8 1 -0.7 1.4 -1 1.1 -0.8 1 -0.7 1.5 -0.9 1.5 -0.6 1.5 -0.4 1.5 -0.4 1.5 -0.2 2 -0.2 2 -0.3 1.5 -0.2 1.9 -0.3 1.6 -0.2 2 0 2 0 1.5 -0.4 1.5 -0.8 1.2 -0.6 1.3 -0.7 1.5 -0.6 1.5 -0.5 2 -0.2 1.8 0.5 1.2 0.7 1 0.8 1 1.1 1 1.4 0.7 1 0.7 1.5 0.6 1.5 0.4 1.5 0.2 1.5 0.5 1.5 1.4 0.9 1.3 0.6 1.2 0.8 0.9 1.2 0.6 1.5 0.3 1.5 0.1 2 -0.2 2 -0.4 1.5 -0.7 1.5 -0.8 1 -1.3 1 -1.2 0.5 -1.8 0.3 -1.7 -0.3 -1.6 -0.5 -1.4 0 -1.1 1 -0.7 1 -1 1.5 -0.6 1 -0.9 1.4 -0.9 1.1 -1.1 0.9 -1 0.6 -1.5 0.7 -1.5 0.4 -1.8 0.4 -1.7 0.5 -1.4 0.5 -1.1 0.5 -1.5 0.6 -1.5 0.5 -2 0.3 -1.8 0.1 -1.7 0.2 -2 0.2 -2 0 -2 -0.1 -2 0.2 -1.5 0.4 -1.5 0.6 -1.4 0.5 -1.4 0.5 -1.7 0.5z" fill="#9a9a9a" stroke="#1a1a1a" stroke-width="1.2"/>
<path d="M358 1077.9l-1.9 -0.1 -0.4 -1.5 0.1 -2 0.4 -1.5 0.3 -1.5 0.5 -1.6 0.6 -1.4 0.9 -1.3 1 -0.8 2 -0.3 1 1 0 1.9 -0.3 1.5 -0.4 1.5 -0.5 1.5 -0.7 1.5 -0.7 1 -0.9 1.2 -1 0.9zM376 1072.4l-2 0.2 -1.5 -0.4 -1.1 -0.9 -0.5 -1.5 0.4 -1.5 1 -1 1.2 -0.7 1.5 -0.4 1.5 0.1 1.5 0.8 0.8 1.2 -0.2 2 -0.6 1 -1.5 0.9zM351.5 1121.3l-1.9 0 -1.6 -0.2 -2 -0.2 -2 0 -2 -0.1 -1.5 -0.2 -1.5 -0.4 -1.5 -0.5 -1.5 -0.6 -1.5 -0.8 -1 -0.6 -1.2 -0.9 -1.2 -1 -1.1 -1 -1 -1 -0.5 -1 -0.3 -2 0.3 -2 0.5 -1.2 1 -1.2 1.1 -0.6 1.4 -0.5 1.8 -0.5 1.7 -0.5 1.1 -0.5 1.4 -0.8 1.5 -0.7 1.5 -0.5 1.5 -0.4 1.5 -0.3 1.5 -0.4 1.5 -0.5 1.5 -0.5 1.5 -0.8 1 -0.9 0.7 -1.2 0.7 -1.5 0.6 -1.1 1 -1.3 1 -0.9 1 -0.8 1.4 -0.9 1.1 -0.8 1.2 -0.7 1.3 -0.7 1.5 -0.7 1.5 -0.6 1.5 -0.5 1.5 -0.3 1.5 -0.3 1.9 -0.4 1.6 -0.3 1.5 -0.3 2 0 1.5 0.5 1 0.6 1.1 1 1.4 0.9 1.3 -0.9 0.6 -1.5 0.6 -1 1 -1 1.5 -0.9 1.2 -0.6 1.8 -0.4 2 0.3 1 0.6 1.2 1 1.1 1 0.9 1 0.9 1 0.8 1.5 0.4 1.5 -0.2 2 -0.6 1.1 -1 0.9 -1.5 0.8 -1.5 0.7 -1 0.6 -1 0.9 -0.2 2 0.3 1.5 0.5 1.5 0.5 1.5 0.2 2 -0.3 1.6 -0.7 1.4 -0.8 1.4 -0.7 1.1 -0.8 1.1 -1 1.1 -1.1 0.8 -1.4 0.6 -1.5 0.4 -2 0.4 -1.5 0.5 -1.3 0.6 -1.2 0.7 -1.5 0.7 -1.5 0.6 -1.5 0.3 -1.6 0.2 -1.9 0.3 -2 0.2 -2 -0.1 -2 -0.1 -2 0.1 -1.5 0.4 -1.5 0.5 -1.5 0.5 -1.5 0.4 -1.5 0.4 -2 0.4zM400 1106.4l-1.7 -0.1 -1.3 -0.6 -1 -1.1 -0.6 -1.3 -0.1 -2 0.3 -1.5 0.6 -1.5 0.8 -1.5 0.8 -1 1.2 -0.8 1.2 -0.2 1.7 0.5 1.1 1 0.5 1 0.5 2 0 1.5 -0.1 1.5 -0.6 1.5 -0.8 1.2 -1 0.8 -1.5 0.6z" fill="#7c7c7c" stroke="#f4f4f4" stroke-width="1"/>
<path d="M358 1077.9l-1.9 -0.1 -0.4 -1.5 0.1 -2 0.4 -1.5 0.3 -1.5 0.5 -1.6 0.6 -1.4 0.9 -1.3 1 -0.8 2 -0.3 1 1 0 1.9 -0.3 1.5 -0.4 1.5 -0.5 1.5 -0.7 1.5 -0.7 1 -0.9 1.2 -1 0.9zM376 1072.4l-2 0.2 -1.5 -0.4 -1.1 -0.9 -0.5 -1.5 0.4 -1.5 1 -1 1.2 -0.7 1.5 -0.4 1.5 0.1 1.5 0.8 0.8 1.2 -0.2 2 -0.6 1 -1.5 0.9zM351.5 1121.3l-1.9 0 -1.6 -0.2 -2 -0.2 -2 0 -2 -0.1 -1.5 -0.2 -1.5 -0.4 -1.5 -0.5 -1.5 -0.6 -1.5 -0.8 -1 -0.6 -1.2 -0.9 -1.2 -1 -1.1 -1 -1 -1 -0.5 -1 -0.3 -2 0.3 -2 0.5 -1.2 1 -1.2 1.1 -0.6 1.4 -0.5 1.8 -0.5 1.7 -0.5 1.1 -0.5 1.4 -0.8 1.5 -0.7 1.5 -0.5 1.5 -0.4 1.5 -0.3 1.5 -0.4 1.5 -0.5 1.5 -0.5 1.5 -0.8 1 -0.9 0.7 -1.2 0.7 -1.5 0.6 -1.1 1 -1.3 1 -0.9 1 -0.8 1.4 -0.9 1.1 -0.8 1.2 -0.7 1.3 -0.7 1.5 -0.7 1.5 -0.6 1.5 -0.5 1.5 -0.3 1.5 -0.3 1.9 -0.4 1.6 -0.3 1.5 -0.3 2 0 1.5 0.5 1 0.6 1.1 1 1.4 0.9 1.3 -0.9 0.6 -1.5 0.6 -1 1 -1 1.5 -0.9 1.2 -0.6 1.8 -0.4 2 0.3 1 0.6 1.2 1 1.1 1 0.9 1 0.9 1 0.8 1.5 0.4 1.5 -0.2 2 -0.6 1.1 -1 0.9 -1.5 0.8 -1.5 0.7 -1 0.6 -1 0.9 -0.2 2 0.3 1.5 0.5 1.5 0.5 1.5 0.2 2 -0.3 1.6 -0.7 1.4 -0.8 1.4 -0.7 1.1 -0.8 1.1 -1 1.1 -1.1 0.8 -1.4 0.6 -1.5 0.4 -2 0.4 -1.5 0.5 -1.3 0.6 -1.2 0.7 -1.5 0.7 -1.5 0.6 -1.5 0.3 -1.6 0.2 -1.9 0.3 -2 0.2 -2 -0.1 -2 -0.1 -2 0.1 -1.5 0.4 -1.5 0.5 -1.5 0.5 -1.5 0.4 -1.5 0.4 -2 0.4zM400 1106.4l-1.7 -0.1 -1.3 -0.6 -1 -1.1 -0.6 -1.3 -0.1 -2 0.3 -1.5 0.6 -1.5 0.8 -1.5 0.8 -1 1.2 -0.8 1.2 -0.2 1.7 0.5 1.1 1 0.5 1 0.5 2 0 1.5 -0.1 1.5 -0.6 1.5 -0.8 1.2 -1 0.8 -1.5 0.6z" fill="none" stroke="#222222" stroke-width="0.7" transform="translate(0.7 0.7)" opacity="0.6"/>
<path d="M376 1070.9l-1 0.3 -1 -0.1 -0.8 -0.3 -0.4 -0.5 -0.2 -1 0.4 -0.8 0.5 -0.4 0.5 -0.3 1 -0.3 1 0 0.6 0.3 0.5 0.5 0.2 1 -0.3 0.7 -0.5 0.6 -0.5 0.3zM390.5 1093.3l-1.5 -0.1 -1.5 -0.6 -0.9 -1.3 -0.5 -1.5 -0.3 -1.5 0 -2 0.7 -1.2 1.4 -0.8 1.6 -0.1 1.5 0.4 1.4 0.7 1.1 0.8 1 0.8 0.9 1.4 0.3 1.5 -0.5 1.5 -1.2 1 -1.1 0.5 -1.9 0.5zM352.5 1119.4l-2 0.3 -2 -0.1 -2 -0.3 -1.5 -0.1 -2 0 -2 -0.3 -1.5 -0.3 -1.5 -0.5 -1.5 -0.6 -1.2 -0.7 -1.2 -1 -0.8 -1 -0.7 -1.5 -0.3 -1.5 0.2 -1.9 0.6 -1.1 1.4 -0.9 1.5 -0.5 1.5 -0.6 1 -0.5 1.5 -1 1 -0.7 1.5 -0.7 1.5 -0.4 1.5 -0.5 1.5 -0.5 1.5 -0.4 1.5 -0.4 1.8 -0.4 1.2 -0.6 0.9 -1.4 0.6 -1.5 0.5 -1.5 0.5 -1 1 -1.2 1 -0.9 1.1 -0.9 1.4 -1 1 -0.6 1.5 -0.7 1.5 -0.4 1.5 -0.4 1.5 -0.6 1.5 -0.6 1.5 -0.6 1.5 -0.4 1.5 -0.3 1.8 0.1 1.2 0.6 1 1 1 1 1.2 0.9 1.3 0.7 1.5 0.7 1.4 0.6 1.1 0.6 1.2 0.9 0.8 1.4 0.5 1.4 0.5 1.3 0.7 1.4 0.7 1.5 0.6 1.5 0.3 1.5 -0.1 2 -0.5 1.5 -0.7 1.3 -0.8 1.2 -1 1 -1.2 0.8 -1.5 0.6 -1.5 0.4 -1.5 0.4 -1.5 0.5 -1.5 0.6 -1.4 0.7 -1.1 0.5 -1.5 0.6 -2 0.4 -1.5 0.3 -1.5 0.3 -2 0.2 -2 -0.2 -1.5 -0.2 -1.7 0.1 -1.8 0.5 -1.4 0.5 -1.6 0.4 -1.5 0.3 -1.5 0.4 -1.5 0.5zM401 1104.4l-2 0.3 -1.3 -0.9 -0.5 -1.5 0.1 -2 0.6 -1.5 0.8 -1 1.3 -0.7 1.5 0.4 0.9 1.3 0.3 1.5 -0.2 2 -0.5 1.1 -1 1z" fill="#9a9a9a" stroke="#f4f4f4" stroke-width="1"/>
<path d="M376 1070.9l-1 0.3 -1 -0.1 -0.8 -0.3 -0.4 -0.5 -0.2 -1 0.4 -0.8 0.5 -0.4 0.5 -0.3 1 -0.3 1 0 0.6 0.3 0.5 0.5 0.2 1 -0.3 0.7 -0.5 0.6 -0.5 0.3zM390.5 1093.3l-1.5 -0.1 -1.5 -0.6 -0.9 -1.3 -0.5 -1.5 -0.3 -1.5 0 -2 0.7 -1.2 1.4 -0.8 1.6 -0.1 1.5 0.4 1.4 0.7 1.1 0.8 1 0.8 0.9 1.4 0.3 1.5 -0.5 1.5 -1.2 1 -1.1 0.5 -1.9 0.5zM352.5 1119.4l-2 0.3 -2 -0.1 -2 -0.3 -1.5 -0.1 -2 0 -2 -0.3 -1.5 -0.3 -1.5 -0.5 -1.5 -0.6 -1.2 -0.7 -1.2 -1 -0.8 -1 -0.7 -1.5 -0.3 -1.5 0.2 -1.9 0.6 -1.1 1.4 -0.9 1.5 -0.5 1.5 -0.6 1 -0.5 1.5 -1 1 -0.7 1.5 -0.7 1.5 -0.4 1.5 -0.5 1.5 -0.5 1.5 -0.4 1.5 -0.4 1.8 -0.4 1.2 -0.6 0.9 -1.4 0.6 -1.5 0.5 -1.5 0.5 -1 1 -1.2 1 -0.9 1.1 -0.9 1.4 -1 1 -0.6 1.5 -0.7 1.5 -0.4 1.5 -0.4 1.5 -0.6 1.5 -0.6 1.5 -0.6 1.5 -0.4 1.5 -0.3 1.8 0.1 1.2 0.6 1 1 1 1 1.2 0.9 1.3 0.7 1.5 0.7 1.4 0.6 1.1 0.6 1.2 0.9 0.8 1.4 0.5 1.4 0.5 1.3 0.7 1.4 0.7 1.5 0.6 1.5 0.3 1.5 -0.1 2 -0.5 1.5 -0.7 1.3 -0.8 1.2 -1 1 -1.2 0.8 -1.5 0.6 -1.5 0.4 -1.5 0.4 -1.5 0.5 -1.5 0.6 -1.4 0.7 -1.1 0.5 -1.5 0.6 -2 0.4 -1.5 0.3 -1.5 0.3 -2 0.2 -2 -0.2 -1.5 -0.2 -1.7 0.1 -1.8 0.5 -1.4 0.5 -1.6 0.4 -1.5 0.3 -1.5 0.4 -1.5 0.5zM401 1104.4l-2 0.3 -1.3 -0.9 -0.5 -1.5 0.1 -2 0.6 -1.5 0.8 -1 1.3 -0.7 1.5 0.4 0.9 1.3 0.3 1.5 -0.2 2 -0.5 1.1 -1 1z" fill="none" stroke="#222222" stroke-width="0.7" transform="translate(0.7 0.7)" opacity="0.6"/>
<path d="M392.5 1090.8l-1 0.2 -0.7 -0.2 -0.8 -0.5 -0.4 -0.5 -0.3 -0.5 -0.1 -1 0.3 -0.6 0.7 -0.4 0.8 0 0.5 0.1 1 0.4 0.5 0.4 0.4 0.6 0.2 0.5 -0.1 0.6 -0.5 0.6 -0.5 0.3zM351 1117.9l-2 0.2 -2 -0.2 -1.5 -0.2 -2 -0.2 -2 -0.2 -1.5 -0.3 -1.5 -0.4 -1.5 -0.7 -1 -0.8 -1 -1.3 -0.2 -1.5 0.5 -1.5 1.2 -1 1.1 -0.5 1.4 -0.6 1.4 -0.9 1.1 -0.8 1 -0.7 1.5 -0.7 1.5 -0.5 1.5 -0.5 1.5 -0.4 2 -0.3 2 0 1.5 -0.3 1.5 -0.7 1 -1 0.7 -1.1 0.7 -1.5 0.5 -1.5 0.6 -1.4 0.6 -1.1 0.9 -1.3 1 -0.9 1.5 -0.7 1.5 -0.2 2 -0.1 1.5 -0.6 1 -0.7 1.3 -1 1.2 -0.6 2 -0.1 1.4 0.7 1.1 0.9 1 0.7 1.5 0.8 1.4 0.6 1.1 0.7 1 0.8 1 1.2 0.7 1.3 0.8 1.5 0.6 1 0.9 1.1 1 1.4 0.6 1 0.4 1.6 0 1.4 -0.5 1.5 -1 1.5 -1 1 -1 0.6 -1.5 0.5 -1.6 0.4 -1.8 0.5 -1.4 0.5 -1.3 0.5 -1.5 0.5 -1.9 0.4 -1.5 0.1 -2 0.4 -1.5 0.5 -1.5 0.3 -2 -0.2 -1.5 -0.3 -2 0.1 -1.5 0.5 -1.5 0.6 -1.5 0.4 -1.5 0.2 -1.8 0.5 -1.2 0.6 -1.5 0.5zM400 1101.7l0 -0.9 0.1 0 -0.1 0.9z" fill="#767676" stroke="#f4f4f4" stroke-width="1"/>
<path d="M392.5 1090.8l-1 0.2 -0.7 -0.2 -0.8 -0.5 -0.4 -0.5 -0.3 -0.5 -0.1 -1 0.3 -0.6 0.7 -0.4 0.8 0 0.5 0.1 1 0.4 0.5 0.4 0.4 0.6 0.2 0.5 -0.1 0.6 -0.5 0.6 -0.5 0.3zM351 1117.9l-2 0.2 -2 -0.2 -1.5 -0.2 -2 -0.2 -2 -0.2 -1.5 -0.3 -1.5 -0.4 -1.5 -0.7 -1 -0.8 -1 -1.3 -0.2 -1.5 0.5 -1.5 1.2 -1 1.1 -0.5 1.4 -0.6 1.4 -0.9 1.1 -0.8 1 -0.7 1.5 -0.7 1.5 -0.5 1.5 -0.5 1.5 -0.4 2 -0.3 2 0 1.5 -0.3 1.5 -0.7 1 -1 0.7 -1.1 0.7 -1.5 0.5 -1.5 0.6 -1.4 0.6 -1.1 0.9 -1.3 1 -0.9 1.5 -0.7 1.5 -0.2 2 -0.1 1.5 -0.6 1 -0.7 1.3 -1 1.2 -0.6 2 -0.1 1.4 0.7 1.1 0.9 1 0.7 1.5 0.8 1.4 0.6 1.1 0.7 1 0.8 1 1.2 0.7 1.3 0.8 1.5 0.6 1 0.9 1.1 1 1.4 0.6 1 0.4 1.6 0 1.4 -0.5 1.5 -1 1.5 -1 1 -1 0.6 -1.5 0.5 -1.6 0.4 -1.8 0.5 -1.4 0.5 -1.3 0.5 -1.5 0.5 -1.9 0.4 -1.5 0.1 -2 0.4 -1.5 0.5 -1.5 0.3 -2 -0.2 -1.5 -0.3 -2 0.1 -1.5 0.5 -1.5 0.6 -1.5 0.4 -1.5 0.2 -1.8 0.5 -1.2 0.6 -1.5 0.5zM400 1101.7l0 -0.9 0.1 0 -0.1 0.9z" fill="none" stroke="#222222" stroke-width="0.7" transform="translate(0.7 0.7)" opacity="0.6"/>
<path d="M350 1116.4l-2 0.1 -1.5 -0.3 -2 -0.4 -1.5 -0.3 -1.5 -0.3 -2 -0.4 -1.1 -0.5 -0.9 -1 0.5 -1.5 1 -0.5 1.6 -0.5 1.4 -0.9 1 -1 1 -0.9 1.3 -0.7 1.2 -0.5 1.6 -0.5 1.9 -0.4 2 -0.1 1.5 -0.2 1.5 -0.4 1.5 -0.7 1.3 -0.7 1.2 -0.6 1.5 -0.4 1.7 0 1.5 0.5 1.3 0.7 1.3 0.8 1.2 0.7 2 0 1.1 -0.7 1.1 -1 0.9 -1 0.9 -1.1 1 -1.4 0.5 -1 0.4 -2 0.1 -1.9 1 -1.1 1 0 1.5 0.5 1 1 0.4 2 0.1 1.5 1 1.4 1 0.7 1.5 0.8 1 0.7 1 1.4 0.2 1.5 -0.4 1.5 -0.8 1.1 -1.5 0.9 -1.5 0.5 -1.5 0.4 -1.5 0.4 -1.5 0.5 -1.5 0.4 -2 0.2 -2 -0.2 -1.5 -0.4 -2 -0.2 -1.5 0.6 -1.5 0.3 -2 0 -2 0.3 -1.5 0.6 -1.4 0.6 -1.6 0.5 -1.5 0.1 -1.7 0.4 -1.3 0.7 -1.1 0.8 -1.4 0.6z" fill="#a2a2a2" stroke="#f4f4f4" stroke-width="1"/>
<path d="M350 1116.4l-2 0.1 -1.5 -0.3 -2 -0.4 -1.5 -0.3 -1.5 -0.3 -2 -0.4 -1.1 -0.5 -0.9 -1 0.5 -1.5 1 -0.5 1.6 -0.5 1.4 -0.9 1 -1 1 -0.9 1.3 -0.7 1.2 -0.5 1.6 -0.5 1.9 -0.4 2 -0.1 1.5 -0.2 1.5 -0.4 1.5 -0.7 1.3 -0.7 1.2 -0.6 1.5 -0.4 1.7 0 1.5 0.5 1.3 0.7 1.3 0.8 1.2 0.7 2 0 1.1 -0.7 1.1 -1 0.9 -1 0.9 -1.1 1 -1.4 0.5 -1 0.4 -2 0.1 -1.9 1 -1.1 1 0 1.5 0.5 1 1 0.4 2 0.1 1.5 1 1.4 1 0.7 1.5 0.8 1 0.7 1 1.4 0.2 1.5 -0.4 1.5 -0.8 1.1 -1.5 0.9 -1.5 0.5 -1.5 0.4 -1.5 0.4 -1.5 0.5 -1.5 0.4 -2 0.2 -2 -0.2 -1.5 -0.4 -2 -0.2 -1.5 0.6 -1.5 0.3 -2 0 -2 0.3 -1.5 0.6 -1.4 0.6 -1.6 0.5 -1.5 0.1 -1.7 0.4 -1.3 0.7 -1.1 0.8 -1.4 0.6z" fill="none" stroke="#222222" stroke-width="0.7" transform="translate(0.7 0.7)" opacity="0.6"/>
<path d="M376.5 1109.9l-2 0.1 -1.5 -0.4 -1 -0.8 -0.1 -2 0.6 -1 1 -1.1 1.1 -0.9 1.4 -0.8 1.5 -0.2 1.5 0.5 1.5 0.5 1.5 0.4 1.4 0.6 0.7 1 -0.5 1.5 -1.1 0.8 -1.5 0.5 -1.5 0.4 -1.5 0.4 -1.5 0.5zM349 1114.4l-1.7 -0.1 -1.3 -0.8 -0.6 -1.2 0.2 -1.5 0.9 -1.2 1.2 -0.8 1.5 -0.5 1.8 -0.3 1.5 -0.3 1.5 -0.4 1.5 -0.6 1.5 -0.7 1.5 -0.6 1.5 -0.4 2 0.2 1.1 0.6 0.9 1.2 -0.3 1.3 -1.2 0.9 -1.2 0.6 -1.3 0.7 -1.5 0.7 -1.5 0.4 -2 0.1 -1.5 0.2 -1.5 0.7 -1 0.7 -1.5 1z" fill="#d2d2d2" stroke="#f4f4f4" stroke-width="1"/>
<path d="M376.5 1109.9l-2 0.1 -1.5 -0.4 -1 -0.8 -0.1 -2 0.6 -1 1 -1.1 1.1 -0.9 1.4 -0.8 1.5 -0.2 1.5 0.5 1.5 0.5 1.5 0.4 1.4 0.6 0.7 1 -0.5 1.5 -1.1 0.8 -1.5 0.5 -1.5 0.4 -1.5 0.4 -1.5 0.5zM349 1114.4l-1.7 -0.1 -1.3 -0.8 -0.6 -1.2 0.2 -1.5 0.9 -1.2 1.2 -0.8 1.5 -0.5 1.8 -0.3 1.5 -0.3 1.5 -0.4 1.5 -0.6 1.5 -0.7 1.5 -0.6 1.5 -0.4 2 0.2 1.1 0.6 0.9 1.2 -0.3 1.3 -1.2 0.9 -1.2 0.6 -1.3 0.7 -1.5 0.7 -1.5 0.4 -2 0.1 -1.5 0.2 -1.5 0.7 -1 0.7 -1.5 1z" fill="none" stroke="#222222" stroke-width="0.7" transform="translate(0.7 0.7)" opacity="0.6"/>
<path d="M312.5 1031.8 L385.5 1031.8 L387 1072.8 L365.5 1092.3 L312.5 1092.3 Z" stroke="#4a4a4a" stroke-width="1.4" fill="none" stroke-linejoin="miter"/>
<path d="M387 1072.8 L440.5 1072.8 L440.5 1126.8 L365.5 1126.8 L365.5 1092.3 Z" stroke="#4a4a4a" stroke-width="1.4" fill="none" stroke-linejoin="miter"/>
<text x="435" y="1122.5" font-size="16.5" text-anchor="end" fill="#000">24.6</text>
<text x="301" y="1011.7" font-size="16.6" text-anchor="end">10<tspan dy="-6.31" font-size="9.63" fill="#333">5</tspan></text>
<text x="301" y="1083.3" font-size="16.6" text-anchor="end">10<tspan dy="-6.31" font-size="9.63" fill="#333">3</tspan></text>
<text x="340.8" y="1152.8" font-size="16.6" text-anchor="start">10<tspan dy="-6.31" font-size="9.63" fill="#333">2</tspan></text>
<text x="428.8" y="1152.8" font-size="16.6" text-anchor="start">10<tspan dy="-6.31" font-size="9.63" fill="#333">4</tspan></text>
<path d="M133 1190.2H268V1325.2" fill="none" stroke="#9a9a9a" stroke-width="1.1"/>
<path d="M133 1189.7V1325.2H268" fill="none" stroke="#333" stroke-width="1.3"/>
<path d="M128.5 1190.9h4.5M128.5 1224.2h4.5M128.5 1258.2h4.5M128.5 1294.2h4.5M128.5 1325.2h4.5M133 1325.2v4.5M173.5 1325.2v4.5M218 1325.2v4.5M263 1325.2v4.5" stroke="#333" stroke-width="1.2"/>
<path d="M130.5 1214.2h2.5M130.5 1208.3h2.5M130.5 1204.2h2.5M130.5 1200.9h2.5M130.5 1198.3h2.5M130.5 1196.1h2.5M130.5 1194.1h2.5M130.5 1192.4h2.5M130.5 1248h2.5M130.5 1242h2.5M130.5 1237.7h2.5M130.5 1234.4h2.5M130.5 1231.7h2.5M130.5 1229.5h2.5M130.5 1227.5h2.5M130.5 1225.8h2.5M130.5 1283.4h2.5M130.5 1277h2.5M130.5 1272.5h2.5M130.5 1269h2.5M130.5 1266.2h2.5M130.5 1263.8h2.5M130.5 1261.7h2.5M130.5 1259.8h2.5M130.5 1315.9h2.5M130.5 1310.4h2.5M130.5 1306.5h2.5M130.5 1303.5h2.5M130.5 1301.1h2.5M130.5 1299h2.5M130.5 1297.2h2.5M130.5 1295.6h2.5M145.2 1325.2v2.5M152.3 1325.2v2.5M157.4 1325.2v2.5M161.3 1325.2v2.5M164.5 1325.2v2.5M167.2 1325.2v2.5M169.6 1325.2v2.5M171.6 1325.2v2.5M186.9 1325.2v2.5M194.7 1325.2v2.5M200.3 1325.2v2.5M204.6 1325.2v2.5M208.1 1325.2v2.5M211.1 1325.2v2.5M213.7 1325.2v2.5M216 1325.2v2.5M231.5 1325.2v2.5M239.5 1325.2v2.5M245.1 1325.2v2.5M249.5 1325.2v2.5M253 1325.2v2.5M256 1325.2v2.5M258.6 1325.2v2.5M260.9 1325.2v2.5" stroke="#444" stroke-width="0.9"/>
<rect x="128.5" y="1309.2" width="3.5" height="4" fill="#111" stroke="none" stroke-width="0"/>
<rect x="157" y="1325.7" width="5" height="3" fill="#111" stroke="none" stroke-width="0"/>
<path d="M174 1249.7l-2 0.4 -1.6 -0.4 -1.4 -0.5 -1.5 -0.9 -1 -1 -0.1 -1.6 0.9 -1 1.4 -0.5 1.7 -0.5 1.6 -0.4 2 -0.1 1.9 0.5 1.1 0.5 1.1 1 0.4 1 -0.7 1.5 -1.3 1 -1.1 0.5 -1.4 0.5zM166.5 1312.2l-1.9 0 -1.6 -0.3 -1.5 -0.3 -2 -0.4 -1.5 -0.3 -1.5 -0.5 -1.5 -0.7 -1 -0.7 -1 -0.8 -1 -1.1 -1 -1.3 -0.7 -1.1 -0.7 -1.5 -0.5 -1.5 -0.2 -1.5 0.1 -1.5 0.4 -2 0.4 -1.5 0.3 -1.5 0.4 -1.5 0.5 -1.9 0.5 -1.3 0.9 -1.3 1.1 -1 1 -0.6 1.5 -0.9 1 -0.7 1.2 -0.8 1.2 -1 1 -1 0.7 -1 0.9 -1.4 0.6 -1.1 0.8 -1.5 0.6 -1.5 0.2 -1.5 0.1 -2 0.3 -1.5 0.4 -1.6 0.5 -1.4 0.5 -1.5 0.4 -2 0 -2 0 -2 0.2 -1.5 0.5 -1.5 0.7 -1.5 0.7 -1 1 -1 1.5 -0.9 1.1 -0.1 1.5 0.5 1.3 1 1 1 1 1 0.9 1 0.8 1 0.8 1.5 0.5 1.5 0.4 1.5 0.2 1.5 0.5 1.9 0.5 1.2 0.9 1.4 1 1 1.1 0.7 1.5 0.7 1.5 0.6 1.4 0.5 1.2 0.5 1.4 0.6 1.5 0.9 1 0.7 1 0.8 1 1.1 1 1.3 0.6 1.1 0.4 1.7 0 1.7 -0.2 1.6 -0.4 1.5 -0.4 2 -0.4 1.5 -0.6 1.5 -0.5 1.1 -0.7 1.4 -0.8 1.5 -0.5 1.2 -0.5 1.4 -0.6 1.4 -0.8 1.5 -0.8 1 -1.1 1 -1.2 0.9 -1 0.6 -1.5 0.8 -1.5 0.7 -1 0.5 -1.4 1 -1.1 0.8 -1 0.8 -1.3 0.9 -1.2 0.7 -1.5 0.5 -1.5 0.3 -2 0.3 -1.5 0.4 -1.5 0.5 -1.5 0.5 -1.5 0.3z" fill="#fad4d4" stroke="#f3a8a8" stroke-width="0.8"/>
<path d="M173.5 1247.2l-1 0.2 -1 -0.1 -0.5 -0.1 -0.5 -0.5 0 -0.5 0.6 -0.5 0.9 -0.3 1 0 1 0.3 0.3 0.5 -0.3 0.7 -0.5 0.3zM166 1310.2l-1.9 0 -1.6 -0.3 -1.5 -0.4 -1.5 -0.4 -1.5 -0.4 -1.5 -0.7 -1.1 -0.8 -1.2 -1 -0.9 -1 -0.8 -1.1 -0.7 -1.4 -0.4 -1.5 -0.1 -2 0.3 -1.5 0.4 -1.5 0.5 -1.7 0.5 -1.6 0.5 -1.4 0.7 -1.3 0.9 -1 1.3 -1 1.1 -0.8 1.1 -0.7 1.4 -0.8 1.1 -0.7 1.2 -1 0.7 -1 0.8 -1.5 0.7 -1.3 0.6 -1.2 0.7 -1.5 0.5 -1.5 0.3 -1.5 0 -2 0.1 -2 0.3 -1.5 0.5 -1.5 0.5 -1.5 0.5 -1.9 0.3 -1.6 0.2 -2 0.2 -1.5 0.6 -1.5 0.9 -1 1.8 -0.3 1.5 0.7 1 0.6 1.2 1 0.9 1 0.8 1.5 0.4 1.5 0.3 1.5 0.2 2 0.4 1.5 0.5 1.5 0.8 1.5 0.9 1 1.1 0.6 1.8 0.4 1.7 0.3 1.5 0.4 1.5 0.6 1.4 0.7 1.1 0.9 0.9 1.1 0.6 1 0.8 1.5 0.7 1.5 0.5 1.5 0.1 1.5 -0.2 1.5 -0.4 2 -0.5 1.4 -0.6 1.1 -0.9 1.5 -0.7 1 -0.8 1.5 -0.4 1.5 -0.3 1.5 -0.5 1.5 -0.8 1.2 -1 0.8 -1.5 0.9 -1.5 0.5 -1.4 0.6 -1.1 0.6 -1.2 0.9 -1.2 1 -1.1 0.9 -1 0.6 -1.5 0.7 -2 0.3 -1.5 0.1 -1.7 0.4 -1.3 0.6 -1.4 0.9 -1.1 0.6 -1.5 0.4z" fill="#f7c3c3" stroke="#ffffff" stroke-width="0.9"/>
<path d="M166 1308.3l-2 0.2 -1.5 -0.3 -1.9 -0.5 -1.4 -0.5 -1.2 -0.5 -1.5 -0.9 -1 -0.8 -1 -1 -0.9 -1.3 -0.5 -1.5 0 -2 0.4 -1.7 0.5 -1.3 0.9 -1.5 0.7 -1 0.9 -1 1 -1.2 1 -1 1 -0.9 1.5 -0.8 1.5 -0.5 1.3 -0.6 1 -1 0.7 -1.2 0.5 -1.3 0.6 -1.5 0.6 -1.5 0.6 -1.5 0.5 -1.5 0.3 -1.5 0.2 -2 0 -2 0.1 -2 0.2 -1.5 0.5 -1.5 0.4 -1.5 0.6 -1.5 0.5 -1.5 0.7 -1.5 1 -1 1.4 0 1.3 0.9 0.6 1.1 0.4 1.7 0.1 1.8 0 2 0 2 0.4 1.9 0.5 1.3 0.5 1.3 0.5 1.8 0.4 1.7 0.6 1 1.7 0 0.9 -1 0.9 -1.4 1 -0.8 1.5 -0.4 1.5 0.2 1.3 0.9 0.6 1.5 -0.3 2 -0.1 1.2 0.5 1.8 0.6 1 0.9 1.3 0.4 1.7 -0.4 1.5 -0.9 1.5 -0.7 1 -0.6 1.5 -0.2 2 -0.1 1.5 -0.5 1.5 -1 1 -1.5 0.7 -1.5 0.5 -1.5 0.7 -1 0.7 -1.1 0.9 -1.2 1 -1.2 0.7 -1.5 0.5 -2 0.2 -1.5 0.2 -1.5 0.6 -1.5 0.8 -1 0.7 -1.1 0.8 -1.4 0.6z" fill="#f9cdcd" stroke="#ffffff" stroke-width="0.9"/>
<path d="M164.5 1306.8l-1.5 -0.1 -1.8 -0.5 -1.4 -0.5 -1.3 -0.6 -1.3 -0.9 -1.2 -1 -0.7 -1 -0.6 -1.5 0.2 -2 0.6 -1.3 1 -1.2 1 -0.8 1.1 -0.7 1.4 -0.8 1.5 -0.7 1.5 -0.5 1.5 -0.4 1.5 -0.4 1.5 -0.4 1.5 -0.4 1.6 -0.4 1.4 -0.7 1 -0.8 1.5 -0.9 1.5 -0.6 1.5 -0.5 1.5 -0.2 2 0.2 1.5 0.4 1.3 0.6 0.8 1 0.2 2 0 2 0 2 -0.8 1.2 -1.3 0.8 -1.2 0.7 -1 0.9 -1 1 -1.1 0.9 -1.4 0.8 -1.5 0.4 -2 0.3 -1.5 0.4 -1.1 0.6 -1.4 0.9 -1 0.7 -1.2 0.9 -1.3 0.7 -1.5 0.4z" fill="#f5bcbc" stroke="#ffffff" stroke-width="0.9"/>
<path d="M165.5 1304.9l-2 0.2 -1.9 -0.4 -1.3 -0.5 -1.3 -0.7 -1 -0.8 -1 -1.1 -0.4 -1.9 0.7 -1.5 0.9 -1 1.3 -0.9 1.1 -0.6 1.4 -0.6 1.5 -0.5 2 -0.3 2 0.1 1.5 0.4 1.4 0.9 1.1 0.8 1.3 0.7 1.7 0.1 1.5 -0.3 0.5 0.8 -1.5 0.7 -1.5 0.2 -1.5 0.9 -1 0.9 -1 0.9 -1 1 -1 0.9 -1.2 0.9 -1.3 0.7z" fill="#f8caca" stroke="#ffffff" stroke-width="0.9"/>
<path d="M165 1303.3l-2 0 -1.5 -0.6 -1 -0.7 -1 -1.2 -0.1 -1.6 0.7 -1 1.2 -1 1.2 -0.6 1.7 -0.4 1.3 0 1.5 0.5 1 1 0.4 2 -0.7 1.5 -0.9 1 -1.3 0.9z" fill="#fbdada" stroke="#ffffff" stroke-width="0.9"/>
<path d="M136 1220.7 L209 1220.7 L210.5 1261.7 L189 1281.2 L136 1281.2 Z" stroke="#4a4a4a" stroke-width="1.4" fill="none" stroke-linejoin="miter"/>
<path d="M210.5 1261.7 L264 1261.7 L264 1315.7 L189 1315.7 L189 1281.2 Z" stroke="#4a4a4a" stroke-width="1.4" fill="none" stroke-linejoin="miter"/>
<text x="259" y="1311.5" font-size="16.5" text-anchor="end" fill="#000">9.68</text>
<text x="124.5" y="1200.6" font-size="16.6" text-anchor="end">10<tspan dy="-6.31" font-size="9.63" fill="#333">5</tspan></text>
<text x="124.5" y="1272.2" font-size="16.6" text-anchor="end">10<tspan dy="-6.31" font-size="9.63" fill="#333">3</tspan></text>
<text x="164.3" y="1341.7" font-size="16.6" text-anchor="start">10<tspan dy="-6.31" font-size="9.63" fill="#333">2</tspan></text>
<text x="252.3" y="1341.7" font-size="16.6" text-anchor="start">10<tspan dy="-6.31" font-size="9.63" fill="#333">4</tspan></text>
<path d="M309.5 1190.2H444.5V1325.2" fill="none" stroke="#9a9a9a" stroke-width="1.1"/>
<path d="M309.5 1189.7V1325.2H444.5" fill="none" stroke="#333" stroke-width="1.3"/>
<path d="M305 1190.9h4.5M305 1224.2h4.5M305 1258.2h4.5M305 1294.2h4.5M305 1325.2h4.5M309.5 1325.2v4.5M350 1325.2v4.5M394.5 1325.2v4.5M439.5 1325.2v4.5" stroke="#333" stroke-width="1.2"/>
<path d="M307 1214.2h2.5M307 1208.3h2.5M307 1204.2h2.5M307 1200.9h2.5M307 1198.3h2.5M307 1196.1h2.5M307 1194.1h2.5M307 1192.4h2.5M307 1248h2.5M307 1242h2.5M307 1237.7h2.5M307 1234.4h2.5M307 1231.7h2.5M307 1229.5h2.5M307 1227.5h2.5M307 1225.8h2.5M307 1283.4h2.5M307 1277h2.5M307 1272.5h2.5M307 1269h2.5M307 1266.2h2.5M307 1263.8h2.5M307 1261.7h2.5M307 1259.8h2.5M307 1315.9h2.5M307 1310.4h2.5M307 1306.5h2.5M307 1303.5h2.5M307 1301.1h2.5M307 1299h2.5M307 1297.2h2.5M307 1295.6h2.5M321.7 1325.2v2.5M328.8 1325.2v2.5M333.9 1325.2v2.5M337.8 1325.2v2.5M341 1325.2v2.5M343.7 1325.2v2.5M346.1 1325.2v2.5M348.1 1325.2v2.5M363.4 1325.2v2.5M371.2 1325.2v2.5M376.8 1325.2v2.5M381.1 1325.2v2.5M384.6 1325.2v2.5M387.6 1325.2v2.5M390.2 1325.2v2.5M392.5 1325.2v2.5M408 1325.2v2.5M416 1325.2v2.5M421.6 1325.2v2.5M426 1325.2v2.5M429.5 1325.2v2.5M432.5 1325.2v2.5M435.1 1325.2v2.5M437.4 1325.2v2.5" stroke="#444" stroke-width="0.9"/>
<rect x="305" y="1309.2" width="3.5" height="4" fill="#111" stroke="none" stroke-width="0"/>
<rect x="333.5" y="1325.7" width="5" height="3" fill="#111" stroke="none" stroke-width="0"/>
<path d="M349.5 1308.2l-2 0.1 -2 0.1 -2 0.2 -2 0 -2 -0.3 -1.5 -0.3 -1.6 -0.3 -1.9 -0.3 -1.5 -0.5 -1.5 -0.6 -1 -0.7 -1.1 -0.9 -0.9 -1 -1 -1.3 -0.7 -1.2 -0.8 -1.5 -0.5 -1.1 -0.5 -1.7 -0.3 -1.7 -0.1 -2 0.4 -1.7 0.6 -1.3 0.7 -1.5 0.6 -1.5 0.4 -1.5 0.4 -1.5 0.3 -1.5 0.4 -2 0.3 -1.5 0.6 -1.5 0.7 -1 1.1 -1 1.4 -0.9 1.4 -0.6 1.2 -0.5 1.4 -0.6 1.5 -0.9 1 -0.8 1 -1.2 0.6 -1 0.6 -1.5 0.5 -1.5 0.7 -1.5 0.7 -1 0.9 -1 1 -1 1 -1.1 1 -1.3 0.7 -1.1 0.7 -1.5 0.6 -1.5 0.5 -1.5 0.5 -1.3 0.6 -1.2 0.8 -1.5 0.6 -1 1 -1.2 1 -1 1 -1 1 -0.8 1.5 -1 1.5 -0.4 2 0.3 1.1 0.6 1.1 1 0.8 1.1 0.7 1.4 0.7 1.5 0.5 1.5 0.6 1.4 0.5 1.1 1 1.4 1 1.1 1 0.9 0.8 1.1 0.7 1.4 0.5 1.6 0.5 1.4 0.5 1.1 0.7 1.5 0.6 1.5 0.4 1.5 0.3 1.6 0.5 1.9 0.5 1.2 1 1.1 1.5 0.7 1.2 0 1.8 -0.4 1.5 -0.5 1.5 -0.3 2 0 2 0 1 -0.8 0 -2 0.1 -2 0.4 -1.9 0.6 -1.1 1.1 -1 1.3 -0.6 2 -0.1 1.5 0.7 1 1 0.6 1 0.6 1.5 0.3 2 -0.3 2 -0.6 1.5 -0.6 1 -0.9 1.5 -0.1 1 0.7 1.5 0.8 1.4 0.7 1.1 0.8 1.2 0.8 1.3 0.6 1.5 0.3 1.5 0.1 2 -0.1 2 -0.4 1.5 -0.5 1.5 -0.7 1.5 -0.6 1 -1 1.5 -0.8 1 -1.1 1 -1.1 0.8 -1.5 0.7 -1.5 0.4 -1.5 0.4 -1.5 0.2 -2 0.5 -1.5 0.4 -1.5 0.6 -1.2 0.5 -1.3 0.5 -1.5 0.6 -1.5 0.4 -2 0.5 -1.5 0.2 -2 0.3 -1.5 0.1 -2 0.1 -2 0 -2 0.1 -2 0 -2 -0.2 -1.5 -0.2 -2 -0.2 -1.7 0.3 -1.4 0.5 -1.4 0.6 -1.5 0.5 -2 0.4z" fill="#f59a9a" stroke="#e52a2a" stroke-width="1"/>
<path d="M344.5 1306.7l-2 0.1 -1.5 -0.2 -2 -0.4 -1.5 -0.2 -1.8 -0.3 -1.7 -0.4 -1.3 -0.6 -1.2 -1 -0.8 -1 -0.7 -1.2 -0.5 -1.3 -0.5 -1.5 -0.5 -1.6 -0.5 -1.9 -0.3 -1.5 0 -2 0.4 -1.5 0.5 -1.5 0.4 -1.5 0.5 -2 0.3 -1.5 0.4 -1.5 0.4 -1.5 0.6 -1.5 0.8 -1.2 1 -0.8 1.5 -0.7 1.6 -0.3 1.9 -0.3 1.5 -0.5 1.2 -0.7 1 -1 0.8 -1 0.8 -1.5 0.7 -1.4 0.5 -1.1 0.9 -1.5 0.8 -1 0.8 -1 1 -1.3 0.8 -1.2 0.7 -1.2 0.6 -1.3 0.6 -1.5 0.5 -1.5 0.4 -1.5 0.4 -1.7 0.5 -1.5 0.6 -1.3 0.9 -1.2 1 -1 1 -0.9 1.3 -0.9 1.2 -0.6 2 -0.2 1.4 0.8 0.9 1 0.7 1.2 0.5 1.3 0.5 2 0.1 1.5 0 2 0.1 2 0.8 1.4 1 1 1 1.1 0.7 1 0.8 1.3 0.7 1.2 0.8 1.2 0.8 1.3 0.7 1.3 0.5 1.2 0.6 1.5 0.5 1.5 0.8 1.5 1 1 1.1 0.6 1.5 0.5 2 0.1 1.5 -0.3 1.6 -0.4 1.9 -0.4 1.4 -0.1 1.6 0.2 1.5 0.5 1.5 0.6 1 0.7 1.1 1 0.9 1.1 1 1.4 0.8 1 0.9 1 0.8 1.1 0.7 1.4 0.3 1.9 0 1.1 -0.3 2 -0.5 1.5 -0.6 1.5 -0.6 1 -1 1.2 -1.1 0.8 -1.4 0.6 -1.5 0.4 -2 0.4 -1.5 0.2 -1.5 0.4 -1.5 0.6 -1.5 0.7 -1.4 0.7 -1.1 0.5 -1.5 0.6 -1.5 0.4 -1.7 0.5 -1.8 0.4 -1.5 0.4 -1.5 0.2 -2 0.2 -2 0 -2 0.1 -2 0.1 -2 -0.2 -1.5 -0.2 -2 -0.5 -1.5 -0.1 -1.5 0.5 -1 0.7 -1.3 0.9 -1.2 0.6 -1.5 0.5 -2 0.2 -2 0.1 -1.5 0.1zM396 1272.7l-2 0.4 -1.5 -0.9 -0.7 -1 -0.5 -1.5 -0.1 -2 0.7 -1.5 1.1 -0.8 1.1 -0.2 1.4 0.5 1 1 0.7 1.5 0.2 2 -0.5 1.5 -0.9 1z" fill="#f07a7a" stroke="#ffffff" stroke-width="0.9"/>
<path d="M348 1304.7l-2 0.3 -2 0.1 -2 0 -2 -0.4 -1.5 -0.3 -1.5 -0.3 -1.7 -0.4 -1.3 -0.7 -1 -0.9 -1 -1.4 -0.5 -1 -0.7 -1.5 -0.5 -1.5 -0.5 -1.5 -0.3 -2 0 -1.1 0.4 -1.9 0.5 -1.5 0.4 -1.5 0.4 -1.5 0.4 -1.5 0.4 -1.7 0.5 -1.5 0.8 -1.3 1.2 -0.9 1.5 -0.3 2 0 2 -0.2 1.5 -0.4 1.5 -0.6 1.5 -0.6 1 -0.6 1 -1.2 0.3 -1.7 0 -2 0.3 -1.5 0.7 -1.5 0.7 -1 1 -1.2 0.9 -1.3 0.6 -1 0.7 -1.5 0.5 -1.5 0.5 -1.5 0.5 -1.5 0.5 -1.5 0.6 -1.5 0.7 -1.4 0.7 -1.1 1 -1 1.2 -1 1.1 -0.6 2 0.1 1 1 0.5 1.4 0.1 1.6 -0.4 1.5 -0.7 1.5 -0.4 1.5 0.4 1.5 1 1.3 1 1 1 1 0.9 1.2 0.6 1.1 0.6 1.4 0.7 1.5 0.7 1.3 1 1.2 0.8 1 0.7 1.3 0.5 1.5 0.2 1.7 0.2 2 1.1 1 1.5 0.3 2 0.1 2 -0.1 2 -0.1 2 0 2 0.1 2 0.2 1.5 0.3 1.5 0.7 0.7 1 0.7 1.5 0.6 1 1.5 0.9 1.4 0.6 1.1 0.8 0.6 1.2 0.1 2 -0.4 1.5 -0.8 1.5 -1 1 -1 0.6 -1.5 0.6 -1.5 0.4 -1.8 0.4 -1.7 0.3 -1.5 0.5 -1.4 0.7 -1.1 0.7 -1.5 0.8 -1.5 0.4 -1.5 0.3 -2 0.3 -1.5 0.3 -1.5 0.4 -1.5 0.5 -1.5 0.5 -1.5 0.4 -2 0.4 -1.5 0.2 -2 0 -1.5 -0.2 -1.5 -0.6 -1.5 -0.7 -1.5 -0.7 -1.4 0 -1.1 0.6 -1 0.9 -1 1 -1.2 1 -1.3 0.6 -1.5 0.4zM394.5 1269.5l-0.6 -0.3 0.1 -0.7 0.6 0.2 -0.1 0.8z" fill="#f38e8e" stroke="#ffffff" stroke-width="0.9"/>
<path d="M345.5 1303.2l-2 0.2 -1.7 -0.2 -1.8 -0.4 -1.5 -0.4 -1.5 -0.4 -1.5 -0.6 -1 -0.8 -1 -1 -1 -1.4 -0.5 -1 -0.6 -1.5 -0.4 -1.5 0 -2 0.4 -1.5 0.6 -1.4 0.6 -1.1 0.6 -1.5 0.3 -1.9 0.4 -1.6 0.6 -1.2 1 -0.8 2 -0.3 2 -0.2 1.5 -0.3 1.5 -0.3 2 -0.3 2 -0.1 1.5 -0.5 0.9 -1 0.6 -1.1 0.6 -1.4 0.4 -1.5 0.1 -2 -0.2 -1.5 0.1 -1.5 0.8 -1.5 0.7 -1 0.9 -1.5 0.6 -1.3 0.5 -1.4 0.5 -1.3 1 -1.5 1.5 -0.4 1.2 0.9 1.1 1 1.1 1 1 1 0.8 1 0.8 1.5 0.4 1.5 0.2 1.5 0.3 2 0.1 1.5 0.5 1.8 0.6 1.2 0.8 1.5 0.4 1.5 -0.2 2 -0.6 1.2 -1 1.3 -0.9 1 -0.6 1 0.1 1.5 1.2 1 1.7 0 1 -0.5 1.1 -1 1 -1 1.4 -1 1.5 -0.1 1.4 0.6 1.1 0.8 1.5 0.7 1.5 -0.5 1.1 -1 1.1 -1 1.3 -0.6 1.8 0.1 1.3 0.5 1.4 1 0.8 1 0.6 1.5 0.4 1.5 0.6 1.5 0.6 1.5 -1 1.1 -1.5 0.6 -1.5 0.4 -1.6 0.4 -1.4 0.6 -1.5 0.7 -1.5 0.6 -1.5 0.3 -2 0.2 -1.5 0.3 -1.5 0.6 -1.3 0.7 -1.2 0.9 -1 0.6 -1.5 0.9 -1.5 0.5 -1.5 0.3 -2 0 -1.5 -0.6 -1 -0.6 -1.1 -1 -1.1 -1 -1.2 -1 -1.1 -0.5 -1.5 0.4 -0.9 1.1 -0.8 1 -0.8 1 -1 1.1 -1 0.9 -1.5 0.9 -1.5 0.5z" fill="#ee6c6c" stroke="#ffffff" stroke-width="0.9"/>
<path d="M354.5 1281.2l-1.5 -0.2 -1 -0.8 -0.2 -2 0.4 -1.5 0.7 -1.5 0.6 -1.1 0.6 -1.4 0.3 -2 0.1 -1.5 0.4 -2 0.5 -1.5 0.6 -1.5 1 -0.9 1.7 0.4 1.1 1 0.7 1.5 0.2 1.5 0.1 2 -0.3 1.8 -0.3 1.7 0.2 2 0.3 1.5 0.4 1.5 -1.1 0.8 -1.5 0.5 -1.3 0.7 -1.2 0.6 -1.5 0.4zM344 1301.2l-1.5 0 -1.9 -0.5 -1.6 -0.5 -1.5 -0.3 -1.5 -0.6 -1.1 -0.6 -1.1 -1 -0.8 -1.1 -0.6 -1.4 -0.3 -2 0.4 -1.7 0.9 -1.3 1.1 -1 1 -0.8 0.8 -1.2 0.2 -1.5 0.5 -1.5 1.4 -1 1.4 -0.5 1.7 -0.5 1.5 -0.3 1.8 0.3 1.2 0.7 1 1.2 0.7 1.1 0.8 1 1 1 1 1.2 0.6 1.3 0.1 2 -0.2 1.5 -0.5 1.8 -0.5 1.2 -1 1.5 -0.9 1 -1 1 -1.1 0.8 -1.5 0.7zM365 1299.2l-2 0.4 -1.5 -0.4 -1.2 -1 -0.8 -1.1 -0.7 -1.4 -0.3 -2 0.7 -1.5 1.3 -0.9 1.5 -0.2 2 -0.3 1.5 -0.5 1.3 -0.6 1.2 -0.8 1.1 -0.7 1.4 -0.9 1.8 0.4 0.9 1 0.8 1.4 0.2 1.6 -0.7 1.1 -1 1 -1.3 0.9 -1.2 0.9 -1 0.9 -1 0.8 -1.1 0.9 -1.4 0.8z" fill="#f28a8a" stroke="#ffffff" stroke-width="0.9"/>
<path d="M337.5 1297.3l-1.8 -0.1 -1.2 -0.7 -0.9 -1.3 -0.3 -1.5 0.4 -1.5 1.1 -1 1.2 -0.5 1.6 -0.5 1.4 -0.7 1 -1 0.6 -1.3 0.6 -1.5 1.3 -0.8 1.3 0.8 0.8 1 1.1 1 1.3 0.9 1 0.9 0.7 1.2 0 2 -0.7 1.3 -1.5 0.7 -1.5 -0.6 -1.5 -0.8 -1.5 -0.1 -1 0.6 -1 1.4 -0.6 1 -1.4 1zM364.5 1297.2l-1.8 0 -0.4 -1.5 1 -1 1.2 -0.6 1.4 -0.9 1.1 -0.6 1.5 -0.7 0.5 1.2 -0.9 1.1 -1 1 -1.1 1 -1 0.8z" fill="#f7b0b0" stroke="#ffffff" stroke-width="0.9"/>
<path d="M312.5 1220.7 L385.5 1220.7 L387 1261.7 L365.5 1281.2 L312.5 1281.2 Z" stroke="#4a4a4a" stroke-width="1.4" fill="none" stroke-linejoin="miter"/>
<path d="M387 1261.7 L440.5 1261.7 L440.5 1315.7 L365.5 1315.7 L365.5 1281.2 Z" stroke="#4a4a4a" stroke-width="1.4" fill="none" stroke-linejoin="miter"/>
<text x="433.4" y="1314" font-size="16.5" text-anchor="end" fill="#000">29.8</text>
<text x="301" y="1200.6" font-size="16.6" text-anchor="end">10<tspan dy="-6.31" font-size="9.63" fill="#333">5</tspan></text>
<text x="301" y="1272.2" font-size="16.6" text-anchor="end">10<tspan dy="-6.31" font-size="9.63" fill="#333">3</tspan></text>
<text x="340.8" y="1341.7" font-size="16.6" text-anchor="start">10<tspan dy="-6.31" font-size="9.63" fill="#333">2</tspan></text>
<text x="428.8" y="1341.7" font-size="16.6" text-anchor="start">10<tspan dy="-6.31" font-size="9.63" fill="#333">4</tspan></text>
<path d="M477.4 1190.2H612.4V1325.2" fill="none" stroke="#9a9a9a" stroke-width="1.1"/>
<path d="M477.4 1189.7V1325.2H612.4" fill="none" stroke="#333" stroke-width="1.3"/>
<path d="M472.9 1190.9h4.5M472.9 1224.2h4.5M472.9 1258.2h4.5M472.9 1294.2h4.5M472.9 1325.2h4.5M477.4 1325.2v4.5M517.9 1325.2v4.5M562.4 1325.2v4.5M607.4 1325.2v4.5" stroke="#333" stroke-width="1.2"/>
<path d="M474.9 1214.2h2.5M474.9 1208.3h2.5M474.9 1204.2h2.5M474.9 1200.9h2.5M474.9 1198.3h2.5M474.9 1196.1h2.5M474.9 1194.1h2.5M474.9 1192.4h2.5M474.9 1248h2.5M474.9 1242h2.5M474.9 1237.7h2.5M474.9 1234.4h2.5M474.9 1231.7h2.5M474.9 1229.5h2.5M474.9 1227.5h2.5M474.9 1225.8h2.5M474.9 1283.4h2.5M474.9 1277h2.5M474.9 1272.5h2.5M474.9 1269h2.5M474.9 1266.2h2.5M474.9 1263.8h2.5M474.9 1261.7h2.5M474.9 1259.8h2.5M474.9 1315.9h2.5M474.9 1310.4h2.5M474.9 1306.5h2.5M474.9 1303.5h2.5M474.9 1301.1h2.5M474.9 1299h2.5M474.9 1297.2h2.5M474.9 1295.6h2.5M489.6 1325.2v2.5M496.7 1325.2v2.5M501.8 1325.2v2.5M505.7 1325.2v2.5M508.9 1325.2v2.5M511.6 1325.2v2.5M514 1325.2v2.5M516 1325.2v2.5M531.3 1325.2v2.5M539.1 1325.2v2.5M544.7 1325.2v2.5M549 1325.2v2.5M552.5 1325.2v2.5M555.5 1325.2v2.5M558.1 1325.2v2.5M560.4 1325.2v2.5M575.9 1325.2v2.5M583.9 1325.2v2.5M589.5 1325.2v2.5M593.9 1325.2v2.5M597.4 1325.2v2.5M600.4 1325.2v2.5M603 1325.2v2.5M605.3 1325.2v2.5" stroke="#444" stroke-width="0.9"/>
<rect x="472.9" y="1309.2" width="3.5" height="4" fill="#111" stroke="none" stroke-width="0"/>
<rect x="501.4" y="1325.7" width="5" height="3" fill="#111" stroke="none" stroke-width="0"/>
<path d="M525.9 1258.4l-1 0 -0.5 -0.3 -0.5 -0.6 -0.2 -0.8 0.2 -0.7 0.5 -0.6 0.5 -0.3 1 0 0.5 0.3 0.5 0.5 0.2 0.8 -0.2 0.8 -0.5 0.6 -0.5 0.3zM529.9 1283.4l-2 0.3 -2 -0.3 -1.3 -0.7 -0.9 -1 -0.1 -2 0.8 -1.1 1.5 -0.8 1.5 -0.3 1.9 0.2 1.4 0.5 1.2 1 0.4 1.5 -0.6 1.5 -1.3 0.9zM516.9 1305.8l-2 0.3 -2 -0.1 -1.9 -0.3 -1.6 -0.3 -1.5 -0.4 -1.5 -0.4 -1.5 -0.5 -1.5 -0.9 -1 -0.8 -1 -1.1 -0.7 -1.1 -0.8 -1.5 -0.5 -1.5 -0.3 -1.5 0 -2 0.3 -1.5 0.7 -1.5 0.8 -1.2 1 -1 1.2 -0.8 1.4 -0.5 1.9 -0.2 1.5 0.2 1.5 0.5 1.8 0.5 1.7 0.4 1.5 0.2 2 0.1 1.6 0.3 1.8 0.5 1.1 0.5 1.5 1 1 0.7 1 0.8 1.3 1 1.2 -0.3 1 -1.2 1 -1 1 -0.8 1.3 -0.7 1.2 -0.6 1.5 -0.9 1 -0.7 1.1 -0.8 1.4 -0.9 1.4 -0.6 1.5 -0.5 1.6 -0.3 2 0.1 1.5 0.3 1.5 0.4 1.5 0.6 1.4 0.9 1 1 0.6 1.1 0.5 1.5 0.2 1.9 -0.3 1.5 -0.6 1.5 -0.8 1 -1.1 1 -1.4 0.9 -1.5 0.5 -1.5 0.4 -1.5 0.2 -2 0.4 -1.5 0.5 -1.5 0.5 -1.5 0.5 -1.5 0.2 -1.7 -0.1 -1.8 -0.5 -1.2 -0.5 -1.3 -0.8 -1.1 -0.7 -1.4 -0.7 -0.9 1.2 -0.6 1.3 -0.8 1.2 -1 1 -1.2 0.8 -1.5 0.7 -1.1 0.5 -1.4 0.6 -1.5 0.5zM557.9 1290.3l-1 0 -0.5 -0.2 -0.5 -0.4 -0.4 -1 0.3 -1 0.5 -0.5 0.6 -0.3 1 0.2 0.5 0.3 0.5 0.8 0.1 0.5 -0.1 0.5 -0.5 0.7 -0.5 0.4z" fill="#adadf6" stroke="#5a5aee" stroke-width="1"/>
<path d="M525.4 1257.7l-0.5 -0.1 -0.5 -0.9 0.5 -0.8 1 0 0.5 0.7 0 0.2 -0.5 0.8 -0.5 0.1zM528.9 1282.8l-2 0.1 -1.5 -0.6 -0.8 -1.1 0.3 -1.7 1 -0.8 2 -0.4 1.9 0.4 1.1 0.9 0.2 1.6 -0.8 1 -1.4 0.6zM536.9 1299.8l-2 0.3 -2 -0.4 -1.3 -0.5 -1.2 -0.8 -1 -0.9 -0.8 -1.3 -0.2 -1.5 0.5 -1.5 0.7 -1 1.3 -1 1.1 -0.5 1.4 -0.5 1.5 -0.7 1.3 -0.8 1.2 -0.9 1 -0.6 1.5 -0.8 1.5 -0.4 2 -0.2 2 0.4 1.5 0.5 1.1 0.5 1.3 1 0.6 1 0.6 1.5 0 2 -0.4 1.5 -0.7 1 -1 1 -1.5 0.8 -1.5 0.5 -1.5 0.3 -2 0.2 -1.5 0.3 -1.5 0.7 -1.5 0.6zM557.9 1289.4l-1 0.2 -0.5 -0.5 0 -0.9 0.5 -0.5 0.5 0 0.5 0.2 0.4 0.8 -0.4 0.7zM514.4 1304.7l-1.5 0 -2 -0.3 -1.5 -0.4 -1.5 -0.5 -1.5 -0.5 -1.5 -0.8 -1 -0.8 -1 -1 -1 -1.2 -0.6 -1 -0.7 -1.5 -0.4 -1.5 0 -2 0.5 -1.5 0.7 -1.3 1 -1 1.1 -0.7 1.5 -0.5 1.5 0 1.7 0.5 1.2 0.6 1.5 0.7 1.5 0.4 2 0.2 1.5 0.1 2 0.4 1.5 0.5 1.1 0.6 1.4 1 1 0.9 0.8 1.1 0.6 1.5 -0.1 2 -0.7 1.5 -0.8 1 -1.3 0.9 -1.1 0.6 -1.4 0.7 -1.5 0.7 -1.5 0.4 -1.5 0.2z" fill="#9494f2" stroke="#ffffff" stroke-width="0.9"/>
<path d="M527.9 1282.2l-0.5 0 -1 -0.3 -0.5 -0.4 -0.4 -0.8 0.4 -0.9 0.5 -0.4 0.5 -0.2 1 -0.1 0.8 0.1 0.7 0.3 0.5 0.5 0.2 0.7 -0.2 0.6 -0.5 0.5 -1 0.4 -0.5 0zM535.9 1298.7l-2 0 -1.5 -0.5 -1 -0.6 -1 -1 -0.6 -1.4 0.3 -1.5 0.9 -1 1.4 -0.8 1.5 -0.4 1.5 -0.3 1.5 -0.7 1 -0.8 1.1 -1 1.4 -0.8 1.5 -0.6 1.5 -0.1 1.5 0.2 1.5 0.4 1.4 0.9 0.9 1 0.5 1.5 -0.2 2 -0.6 1.2 -1 0.9 -1.5 0.8 -1.5 0.3 -2 0.2 -1.9 0.1 -1.4 0.5 -1.2 0.7 -1.5 0.7zM515.9 1303.3l-2 0.3 -2 -0.2 -1.5 -0.3 -1.5 -0.5 -1.5 -0.6 -1.5 -0.8 -1 -0.7 -1 -0.9 -1 -1.1 -1 -1.3 -0.5 -1.1 -0.4 -1.9 0.4 -2 0.5 -1 1 -1.1 1.5 -0.8 1.5 -0.2 1.5 0.4 1.1 0.7 1.4 1 1 0.6 1.6 0.4 1.9 0.1 2 0.1 1.5 0.3 1.5 0.7 1.2 0.8 1.1 1 0.7 1.2 0.2 1.8 -0.6 1.5 -1.1 1 -1 0.7 -1.5 0.8 -1 0.5 -1.5 0.6z" fill="#a6a6f5" stroke="#ffffff" stroke-width="0.9"/>
<path d="M544.9 1294.8l-2 0.1 -1.5 -0.3 -1.5 -0.7 -0.6 -1.2 0.5 -1.5 0.7 -1 1.4 -1 1.5 -0.4 2 0.3 1.2 0.6 0.8 1 0.1 2 -0.6 1 -1.5 1zM514.9 1302.3l-2 0.1 -1.5 -0.3 -1.5 -0.5 -1.5 -0.6 -1.5 -0.7 -1 -0.7 -1.2 -0.9 -1.1 -1 -0.9 -1 -0.7 -1.5 -0.2 -1.5 0.4 -1.5 0.7 -1 1.5 -1 1.5 -0.1 1.5 0.6 1 0.9 1 1.1 1 0.8 1.5 0.5 2 -0.1 2 0 1.6 0.3 1.4 0.7 1 0.8 0.9 1.5 -0.4 1.8 -1 1 -1 0.8 -1.5 0.8 -1.5 0.6zM535.9 1296.9l-1 0.3 -1 -0.1 -1 -0.4 -0.5 -0.4 -0.5 -0.6 -0.1 -0.5 0.1 -0.8 0.5 -0.6 0.5 -0.2 1 -0.2 1 0 1 0.2 0.5 0.2 0.6 0.4 0.3 1 -0.4 0.8 -0.5 0.6 -0.5 0.3z" fill="#8a8af0" stroke="#ffffff" stroke-width="0.9"/>
<path d="M515.9 1300.7l-2 0.5 -2 -0.3 -1.5 -0.5 -1.5 -0.6 -1.2 -0.6 -1.3 -0.7 -1.3 -0.8 -1.2 -1 -0.8 -1 -0.5 -1.5 0.3 -1.6 1 -1.2 1.5 -0.4 1.5 0.5 1 1.1 0.7 1.1 0.8 1.1 1.5 0.8 1.3 0.1 1.7 -0.2 2 -0.2 1.5 0.5 1.2 0.9 0.3 1 -0.7 1.5 -1.2 1 -1.1 0.5z" fill="#a0a0f4" stroke="#ffffff" stroke-width="0.9"/>
<path d="M507.4 1296.8l-1 0.1 -0.6 -0.2 -0.9 -0.4 -0.5 -0.4 -0.5 -0.6 -0.3 -0.6 -0.1 -1 0.3 -1 0.5 -0.5 0.6 -0.2 1 0.1 0.5 0.3 0.5 0.5 0.4 0.8 0.2 0.5 0.3 1 0 1 -0.4 0.6zM514.9 1299.4l-1 0.1 -0.9 -0.3 -0.6 -0.5 0.5 -0.8 0.5 -0.3 1 -0.4 0.5 0 0.5 0 0.8 0.5 -0.2 1 -0.6 0.5 -0.5 0.2z" fill="#c0c0f8" stroke="#ffffff" stroke-width="0.9"/>
<path d="M480.4 1220.7 L553.4 1220.7 L554.9 1261.7 L533.4 1281.2 L480.4 1281.2 Z" stroke="#4a4a4a" stroke-width="1.4" fill="none" stroke-linejoin="miter"/>
<path d="M554.9 1261.7 L608.4 1261.7 L608.4 1315.7 L533.4 1315.7 L533.4 1281.2 Z" stroke="#4a4a4a" stroke-width="1.4" fill="none" stroke-linejoin="miter"/>
<text x="599.5" y="1312.1" font-size="16.5" text-anchor="end" fill="#000">19.4</text>
<text x="468.9" y="1200.6" font-size="16.6" text-anchor="end">10<tspan dy="-6.31" font-size="9.63" fill="#333">5</tspan></text>
<text x="468.9" y="1272.2" font-size="16.6" text-anchor="end">10<tspan dy="-6.31" font-size="9.63" fill="#333">3</tspan></text>
<text x="508.7" y="1341.7" font-size="16.6" text-anchor="start">10<tspan dy="-6.31" font-size="9.63" fill="#333">2</tspan></text>
<text x="596.7" y="1341.7" font-size="16.6" text-anchor="start">10<tspan dy="-6.31" font-size="9.63" fill="#333">4</tspan></text>
<text x="998.3" y="1002.3" font-size="65" text-anchor="start" fill="#000">F</text>
<line x1="1086.4" y1="1350.3" x2="1086.4" y2="1011.6" stroke="#000" stroke-width="2.2" stroke-linecap="butt"/>
<path d="M1080.9 1012.6 L1091.9 1012.6 L1086.4 1001.6 Z" stroke="none" stroke-width="0" fill="#000" stroke-linejoin="miter"/>
<line x1="1085.3" y1="1350.3" x2="1594" y2="1350.3" stroke="#000" stroke-width="2.2" stroke-linecap="butt"/>
<path d="M1593 1344.8 L1593 1355.8 L1604 1350.3 Z" stroke="none" stroke-width="0" fill="#000" stroke-linejoin="miter"/>
<text x="1074" y="1157.3" font-size="22" text-anchor="middle" fill="#000" transform="rotate(-90 1074 1157.3)">CD4-FITC</text>
<text x="1366.9" y="1371" font-size="22" text-anchor="middle" fill="#000">CD8-Cy7</text>
<text x="1188.5" y="998.9" font-size="21.5" text-anchor="middle" fill="#000">PBS</text>
<text x="1369.3" y="998.9" font-size="21.5" text-anchor="middle" fill="#000">OXP</text>
<text x="1198.9" y="1186.5" font-size="21.5" text-anchor="middle" fill="#000">OXP/C.L.</text>
<text x="1365.1" y="1186.5" font-size="21.5" text-anchor="middle" fill="#000">OXP/BzATP</text>
<text x="1535.5" y="1186.5" font-size="21.5" text-anchor="middle" fill="#000">OXP/BzATP/C.L.</text>
<path d="M1127.2 1003.4H1262.2V1138.4" fill="none" stroke="#9a9a9a" stroke-width="1.1"/>
<path d="M1127.2 1002.9V1138.4H1262.2" fill="none" stroke="#333" stroke-width="1.3"/>
<path d="M1122.7 1003.9h4.5M1122.7 1043.4h4.5M1122.7 1083.4h4.5M1122.7 1123.4h4.5M1122.7 1138.4h4.5M1130.2 1138.4v4.5M1159.2 1138.4v4.5M1189.2 1138.4v4.5M1219.2 1138.4v4.5M1249.2 1138.4v4.5" stroke="#333" stroke-width="1.2"/>
<path d="M1124.7 1031.5h2.5M1124.7 1024.6h2.5M1124.7 1019.6h2.5M1124.7 1015.8h2.5M1124.7 1012.7h2.5M1124.7 1010h2.5M1124.7 1007.7h2.5M1124.7 1005.7h2.5M1124.7 1071.4h2.5M1124.7 1064.3h2.5M1124.7 1059.3h2.5M1124.7 1055.4h2.5M1124.7 1052.3h2.5M1124.7 1049.6h2.5M1124.7 1047.3h2.5M1124.7 1045.2h2.5M1124.7 1111.4h2.5M1124.7 1104.3h2.5M1124.7 1099.3h2.5M1124.7 1095.4h2.5M1124.7 1092.3h2.5M1124.7 1089.6h2.5M1124.7 1087.3h2.5M1124.7 1085.2h2.5M1124.7 1133.9h2.5M1124.7 1131.2h2.5M1124.7 1129.4h2.5M1124.7 1127.9h2.5M1124.7 1126.7h2.5M1124.7 1125.7h2.5M1124.7 1124.9h2.5M1124.7 1124.1h2.5M1138.9 1138.4v2.5M1144 1138.4v2.5M1147.7 1138.4v2.5M1150.5 1138.4v2.5M1152.8 1138.4v2.5M1154.7 1138.4v2.5M1156.4 1138.4v2.5M1157.9 1138.4v2.5M1168.2 1138.4v2.5M1173.5 1138.4v2.5M1177.3 1138.4v2.5M1180.2 1138.4v2.5M1182.5 1138.4v2.5M1184.6 1138.4v2.5M1186.3 1138.4v2.5M1187.8 1138.4v2.5M1198.2 1138.4v2.5M1203.5 1138.4v2.5M1207.3 1138.4v2.5M1210.2 1138.4v2.5M1212.5 1138.4v2.5M1214.6 1138.4v2.5M1216.3 1138.4v2.5M1217.8 1138.4v2.5M1228.2 1138.4v2.5M1233.5 1138.4v2.5M1237.3 1138.4v2.5M1240.2 1138.4v2.5M1242.5 1138.4v2.5M1244.6 1138.4v2.5M1246.3 1138.4v2.5M1247.8 1138.4v2.5" stroke="#444" stroke-width="0.9"/>
<rect x="1122.7" y="1122.4" width="3.5" height="4" fill="#111" stroke="none" stroke-width="0"/>
<rect x="1151.2" y="1138.9" width="5" height="3" fill="#111" stroke="none" stroke-width="0"/>
<path d="M1159.2 1058.4l-2 0.3 -1.8 -0.3 -1.7 -0.4 -1.5 -0.2 -1.9 0.1 -1.6 0.1 -1.5 -0.1 -1.5 -0.5 -1.3 -1 -0.8 -1 -0.9 -1 -1.2 -1 -1.3 -0.6 -1.5 -0.7 -1.2 -0.7 -1.3 -0.8 -1 -0.8 -1 -0.9 -1 -1.1 -0.9 -1.4 -0.6 -1.3 -0.4 -1.7 -0.1 -2 0.2 -2 0.2 -2 0.4 -1.5 0.5 -1.5 0.7 -1.3 0.7 -1.2 0.8 -1 1 -1.1 1.1 -0.9 1.4 -0.8 1.5 -0.6 1.5 -0.6 1.2 -0.5 1.3 -0.7 1.5 -0.7 1.3 -0.6 1.7 -0.4 1.5 -0.2 2 0 1.8 0.1 1.6 0.5 1.1 0.7 1 0.9 1 1 1 1 1.3 0.9 1.7 0.3 2 0 1.8 0.2 1.7 0.4 1.3 0.6 1.2 0.8 1 0.9 1 1 1 1.1 0.9 1.2 0.6 1.3 0.3 1.7 -0.2 2 -0.6 1.5 -0.6 1 -0.9 1.5 -0.6 1 -0.7 1.5 -0.7 1.3 -0.8 1.2 -1 1 -1.1 1 -1.1 0.9 -1 0.8 -1 0.8 -1.1 1 -1 1 -1.1 1 -1.3 1 -1 0.5zM1215.7 1064.5l-1.3 -0.6 -0.7 -1.2 -0.5 -1.8 -0.3 -1.5 -0.3 -1.5 -0.6 -1.5 -0.3 -1.5 -0.1 -2 0.1 -2 0 -1.5 0.2 -2 0.3 -2 0.3 -1.5 0.3 -1.5 0.5 -1.5 0.5 -1.5 0.7 -1.5 0.7 -1.4 0.7 -1.1 0.8 -1.1 1.3 -0.9 1.7 -0.3 1.7 0.3 1.3 0.6 1 0.9 0.8 1.5 0.1 2 -0.3 2 -0.4 1.5 -0.4 1.5 -0.4 1.5 -0.4 1.6 -0.5 1.4 -0.8 1.5 -0.7 1.2 -0.9 1.3 -0.7 1 -0.9 1.2 -0.7 1.3 -0.3 1.5 0.2 1.5 0.3 2 -0.3 2 -0.7 1.5 -1 0.6zM1205.2 1045.1l-0.5 -0.2 -0.3 -1 0 -1 0.3 -1 0.5 -0.4 0.5 0.5 0.2 0.9 0 1 -0.2 0.6 -0.5 0.6zM1158.2 1119l-2 0.3 -2 -0.2 -1.5 -0.3 -2 -0.2 -2 -0.1 -1.5 -0.2 -1.5 -0.4 -1.5 -0.6 -1.5 -0.6 -1.5 -0.7 -1 -0.6 -1.2 -1 -0.9 -1 -0.9 -1.1 -1 -1.4 -0.5 -1 -0.6 -1.5 -0.4 -1.8 -0.2 -1.7 -0.3 -2 -0.1 -1.5 -0.1 -2 0.1 -2 0.2 -1.5 0.3 -2 0.4 -1.5 0.4 -1.5 0.5 -1.5 0.6 -1.5 0.7 -1.4 0.8 -1.1 0.8 -1 0.9 -1 1 -1.2 1 -1.2 0.9 -1.1 0.8 -1 0.8 -1 1.1 -1 1.3 -1 1.1 -0.7 1.5 -0.8 1.5 -0.5 1.5 -0.1 1.5 0.1 1.9 0.5 1.6 0.2 1.9 -0.2 1.6 -0.5 1.1 -0.5 1.4 -0.8 0.7 -1.2 0.5 -1.5 0.6 -1.5 0.7 -1.2 1 -1.1 1.3 -0.2 1.2 0.8 0.8 1.2 0.7 1.4 0.5 1.5 0.3 1.6 -0.1 2 -0.3 1.5 -0.5 1.5 0 2 0.1 1.5 0.2 2 0.1 2 0.2 1.5 0.5 2 0.4 1.5 0.4 1.5 0.3 1.5 0.2 2 0 2 -0.2 2 -0.4 1.5 -0.5 1.5 -0.5 1.5 -0.4 1.5 -0.8 1.5 -0.7 1 -0.8 1 -1 1.2 -1 1.1 -1 1.2 -0.8 1 -0.7 1.1 -1 1.4 -0.8 1 -1.2 1 -1 0.7 -1.5 0.8zM1182.7 1075.9l-1.5 0 -1.5 -0.9 -0.6 -1.1 0.2 -1.5 0.9 -1.1 1.5 -0.6 1.5 0.3 1 0.9 0.4 2 -0.9 1.5 -1 0.5zM1219.7 1081.4l-2 0 -1 -0.8 -0.5 -1.2 0.4 -1.5 1.1 -0.9 2 0.1 1.1 0.8 0.5 1.5 -0.6 1.4 -1 0.6zM1215.7 1111.9l-2 0.4 -2 0 -2 -0.2 -1.5 -0.3 -2 -0.2 -2 -0.2 -1.5 -0.1 -1.5 -0.4 -1.5 -0.9 -0.9 -1.1 -0.6 -1 -1 -1.4 -1 -0.8 -1.5 -0.7 -1.5 -0.5 -1.5 -0.5 -1 -0.8 -0.8 -1.3 -0.2 -1.5 -0.1 -2 -0.1 -2 0.2 -1.9 0.5 -1.1 1 -1.1 1.5 -0.7 1.5 -0.5 1.5 -0.2 2 -0.2 2 -0.1 1.5 -0.3 1.9 -0.4 1.5 -0.5 1.1 -0.6 1.5 -0.8 1.1 -0.6 1.5 -0.5 1.9 -0.2 1.7 0.2 1.8 0.4 1.5 0.3 2 0.1 1.1 -0.8 1 -1 1.4 -0.7 1.5 -0.3 1.5 0.1 1.5 0.6 1 1 0.4 1.8 0.1 1.6 1.4 0.9 1.2 0.5 1.4 0.9 1 1.1 0.5 1.2 0.5 1.8 0.3 1.5 0.3 1.5 0.1 2 -0.7 1.5 -1 0.8 -1 0.7 -1.2 1 -0.9 1 -0.9 1.3 -1 1 -1 0.8 -1.5 0.7 -1.5 0.4 -2 0.2 -1.9 0.1 -1.6 0.3 -1.5 0.3 -1.5 0.4z" fill="#d6d6d6" stroke="#8a8a8a" stroke-width="0.8"/>
<path d="M1157.7 1055.5l-2 -0.1 -1.5 -0.3 -1.5 -0.3 -2 -0.2 -1.6 -0.2 -1.5 -0.5 -1.3 -1 -1.1 -1 -1 -0.7 -1.5 -0.7 -1.5 -0.5 -1.5 -0.4 -1.5 -0.7 -1 -0.7 -1 -0.9 -1 -1.4 -0.5 -1.5 -0.1 -1.5 0.2 -1.5 0.4 -1.7 0.5 -1.8 0.3 -1.5 0.4 -1.5 0.5 -1.5 0.8 -1.1 1 -1 1.5 -0.8 1.4 -0.6 1.2 -0.5 1.4 -0.5 1.5 -0.5 2 -0.5 1.5 -0.2 2 -0.2 2 0.1 1.4 0.8 0.9 1 0.7 1.2 0.7 1.3 0.8 1.4 1 1 1 0.6 2 0.4 1.5 -0.5 1.4 -0.9 1.1 -0.5 2 -0.2 1.5 0.4 1.4 0.8 1.1 1 0.7 1 0.4 1.5 -0.2 1.5 -0.9 1.3 -1 0.9 -1.5 0.8 -1.2 0.5 -1.2 1 -0.3 1.5 -0.1 2 -0.4 1.5 -0.8 1.1 -1 1.1 -1 0.9 -1.1 0.9 -1.2 1 -1.2 0.8 -1.5 0.7zM1215.7 1053.1l-1.5 -0.7 -0.3 -1.5 -0.1 -2 0.2 -2 0.2 -1.7 0.3 -1.8 0.2 -1.5 0.5 -1.6 0.6 -1.4 0.9 -1.5 1 -1 1.1 -0.5 1.6 0 1.3 0.7 0.7 1.3 0 2 -0.4 1.5 -0.4 1.5 -0.4 1.5 -0.5 1.5 -0.6 1.5 -0.8 1.5 -0.6 1 -1 1.3 -1 1.1 -1 0.8zM1215.7 1061.8l-0.7 -0.4 -0.3 -0.7 0 -0.8 0 -0.5 0.5 -0.7 0.5 0.2 0.4 1 0.1 0.5 0 0.5 -0.5 0.9zM1168.2 1076l-1.5 -0.1 -0.8 -1.5 -0.4 -1.5 0.2 -2 0.5 -1.5 1 -1 1 0 1.1 1 0.7 1.5 0.3 1.5 -0.2 1.5 -0.9 1.5 -1 0.6zM1156.2 1116.4l-1.5 0 -2 -0.4 -1.5 -0.2 -2 -0.2 -1.5 -0.4 -1.5 -0.6 -1 -0.7 -1.3 -1 -1.1 -1 -1.1 -0.8 -1 -0.7 -1.4 -1 -0.9 -1 -0.7 -1.1 -0.5 -1.6 -0.2 -1.8 0 -2 0.2 -1.5 0.4 -2 0.3 -1.5 0.3 -1.5 0.5 -1.6 0.6 -1.4 0.6 -1.5 0.7 -1.5 0.5 -1.5 0.6 -1.5 0.5 -1.3 0.7 -1.2 0.8 -1 1.1 -1 1.4 -0.8 1.5 -0.3 2 0.1 1.5 0.1 2 0.2 2 -0.1 1.5 -0.6 1 -0.9 1 -0.9 1.3 -0.8 1.2 -0.6 1.8 -0.4 1.7 0 1.5 0.3 1 1.2 0.5 1 0.6 1.5 0.3 2 0 2 -0.1 2 -0.2 2 0 2 -0.1 2 -0.1 1.5 -0.1 2 0 2 0 2 0 2 -0.3 1.9 -0.5 1.5 -0.6 1.1 -0.9 1.1 -1 1 -1.1 0.9 -1.1 1 -0.9 1 -0.9 1.3 -1 1.2 -1 1 -1 0.6 -1.5 0.4zM1224.7 1087.9l-1 0.1 -0.5 -0.5 0 -0.2 0.5 -0.5 1 0 0.4 0.6 -0.4 0.5zM1214.7 1109.9l-2 0.2 -1.6 -0.2 -1.9 -0.3 -1.5 -0.4 -1.5 -0.3 -1.5 -0.5 -1.5 -0.8 -1 -0.8 -1 -1.1 -1 -1.1 -1 -1.1 -1 -1 -1 -0.9 -1 -0.7 -1.4 -1 -0.7 -1 -0.2 -2 0.8 -1.2 2 0 1.6 -0.3 1.4 -0.7 1.2 -0.8 1.3 -0.8 1.2 -0.7 1.3 -0.6 1.5 -0.7 1.3 -0.7 1.2 -0.7 1.5 -0.5 2 -0.1 1.5 0.3 1.8 0.5 1.6 0.5 1.6 0.4 1.5 0.4 1.5 0.5 1.3 0.7 0.9 1 0.2 2 -0.4 1.9 -0.3 1.6 -0.2 1.7 0 1.8 0.1 1.5 0 2 -0.6 1.3 -1 0.8 -1.5 0.6 -1.5 0.4 -1.5 0.4 -2 0.4z" fill="#cbcbcb" stroke="#f2f2f2" stroke-width="0.9"/>
<path d="M1157.7 1053l-2 0 -1.5 -0.3 -1.5 -0.3 -1.7 -0.5 -1.4 -0.5 -1.4 -0.8 -1 -0.7 -1.3 -1 -1.2 -0.5 -2 -0.3 -1.5 -0.3 -1.5 -0.5 -1.2 -0.9 -0.8 -1 -0.5 -1.5 0 -2 0.3 -1.5 0.4 -1.5 0.5 -1.5 0.6 -1.5 0.7 -1.2 1 -0.9 1.5 -0.8 1.5 -0.5 1.5 -0.4 1.5 -0.3 2 -0.3 1.5 -0.3 2 -0.2 1.4 0.9 0.7 1 0.9 1.2 1 1.1 1 0.8 1.2 0.9 1.3 1 1 0.9 0.7 1.1 0.1 2 0.2 1.7 0.5 1.6 0.5 1.4 0.1 1.8 -0.6 1.4 -0.9 1.1 -1.1 0.9 -1 0.6 -1.5 0.6zM1169.2 1039.5l-1 0.3 -1 0 -1 -0.3 -0.5 -0.2 -0.5 -0.5 -0.2 -0.9 0.2 -0.5 0.5 -0.8 0.5 -0.4 0.5 -0.4 1 -0.2 1 0 0.6 0.3 0.7 0.5 0.3 0.5 0.2 1 -0.3 0.8 -0.5 0.5 -0.5 0.3zM1217.7 1044.1l-0.5 -0.5 -0.1 -0.7 0 -1 0.1 -0.7 0.3 -0.8 0.3 -0.5 0.4 -0.5 1 -0.3 0.5 0.5 0.1 0.8 -0.1 0.5 -0.3 1 -0.3 0.5 -0.4 0.8 -0.5 0.7 -0.5 0.2zM1168.2 1073.1l-0.6 -0.2 -0.4 -1 0.5 -0.9 0.7 0.4 0.2 1 -0.4 0.7zM1164.7 1087.1l-2 -0.2 -0.8 -1 -0.4 -1.5 0.2 -1.9 0.5 -1.3 1 -0.8 1.5 0 1.2 1 0.6 1.5 -0.1 2 -0.7 1.4 -1 0.8zM1156.2 1113.5l-2 -0.1 -1.5 -0.1 -2 0 -2 -0.1 -1.5 -0.5 -1.4 -0.8 -1.1 -0.9 -1 -1 -1 -1 -1 -1 -1 -1.1 -0.6 -1 -0.4 -1.5 -0.1 -2 0.2 -1.5 0.2 -2 0.2 -1.9 0.4 -1.6 0.5 -1.5 0.6 -1 1 -1.5 0.7 -1 0.8 -1 1 -1.3 0.7 -1.2 0.8 -1.2 1 -0.9 1.5 -0.5 2 0.1 1.4 0.5 1.1 0.7 1.1 0.8 1.3 1 1.1 0.7 1.1 0.8 1.2 1 1 1 0.7 1 0.8 1.5 0.5 1.5 0.3 1.5 0.4 1.9 0.5 1.1 0.9 1.5 0.6 1.5 0.1 1.5 -0.3 1.5 -0.8 1.3 -1 1 -1 0.9 -1 0.8 -1 1 -1 1.1 -1 1 -1.5 0.8zM1216.2 1108l-2 0.3 -2 0 -2 -0.3 -1.5 -0.4 -1.5 -0.5 -1.5 -0.6 -1 -0.6 -1.4 -1 -1.1 -1 -0.9 -1 -0.8 -1 -0.7 -1.5 0.2 -2 0.7 -1.3 1 -1.2 1 -0.9 1 -0.8 1.4 -0.8 1.2 -0.5 1.4 -0.6 1.5 -0.5 1.5 -0.5 2 0 1.5 0.3 1.5 0.4 1.5 0.5 1.5 0.7 1.1 0.7 0.9 1.1 0.5 1.9 0.1 1.5 0 2 0 2 -0.1 1.8 -0.5 1.4 -1 1.1 -1.4 0.7 -1.6 0.5z" fill="#d2d2d2" stroke="#f2f2f2" stroke-width="0.9"/>
<path d="M1157.2 1050l-2 0.3 -2 -0.1 -1.5 -0.3 -1.5 -0.6 -1.3 -0.9 -1.1 -1 -1.1 -0.9 -1.5 -0.5 -1.5 -0.1 -2 -0.2 -1.4 -0.8 -0.6 -1 -0.3 -2 0.3 -1.8 0.5 -1.3 0.9 -1.4 1 -1 1.1 -0.7 1.5 -0.5 1.5 -0.3 2 -0.1 1.5 0.2 1.8 0.4 1.4 0.5 1.3 0.6 1.5 0.8 1 0.7 1 0.9 0.9 1.5 0.3 1.5 0.1 2 0.1 2 0 2 -0.8 1.5 -1.1 0.6zM1150.7 1111l-2 0.2 -1.5 -0.5 -1.2 -0.8 -1 -1 -0.8 -1.3 -0.5 -1.2 -0.3 -2 0 -2 -0.3 -1.5 -0.4 -1.5 -0.3 -2 0.3 -2 0.5 -1.3 0.9 -1.2 1.1 -0.9 1 -0.6 1.6 -0.5 1.9 -0.4 1.5 -0.3 2 -0.3 2 0.5 1 0.5 1.3 1 0.8 1 0.7 1.5 0.3 1.5 0.2 2 0.2 1.5 0.4 2 0.6 1.4 0.6 1.1 -0.1 2 -0.7 1 -1 1 -1.1 1 -1.2 0.8 -1.5 0.5 -2 0.2 -1.5 0.2 -1.5 0.4zM1215.7 1106.5l-2 0.3 -2 -0.1 -1.7 -0.3 -1.6 -0.5 -1.3 -0.5 -1.4 -0.7 -1.2 -0.8 -1.1 -1 -0.9 -1 -0.7 -1.5 0.2 -2 0.7 -1.1 1 -1.2 1 -0.7 1.5 -0.8 1.5 -0.5 1.5 -0.3 2 -0.3 2 0.1 1.5 0.3 1.5 0.6 1.5 0.9 0.9 1 0.6 1.2 0.5 1.8 0.1 1.5 0 2 -0.5 1.5 -0.9 1 -1.2 0.7 -1.5 0.4z" fill="#c6c6c6" stroke="#f2f2f2" stroke-width="0.9"/>
<path d="M1154.7 1048l-2 0.3 -1.7 -0.4 -1.3 -0.9 -1 -1.1 -1 -1 -1 -0.7 -1.5 -0.5 -2 -0.2 -1 -0.6 -0.5 -1.5 0.4 -1.5 0.7 -1 1.4 -1 1.5 -0.5 1.4 0 1.6 0.3 1.5 0.2 2 0.3 1.5 0.2 1.5 0.7 1 0.8 0.7 1.5 0.2 2 -0.3 2 -0.6 1.3 -1 1zM1150.7 1108.9l-2 0.4 -1.5 -0.7 -0.9 -1.2 -0.3 -1.5 0.3 -1.5 0.3 -2 -0.4 -2 -0.5 -1 -0.9 -1.5 -0.3 -1.5 0.4 -1.5 1 -1 1.3 -0.6 2 -0.2 2 -0.2 1.5 -0.2 1.8 0.2 1.2 0.7 0.9 1.3 0.5 1.5 0.3 1.5 0.3 1.5 0.3 2 0.1 2 -0.4 1.9 -0.8 1.1 -1.2 0.8 -1.5 0.5 -1.5 0.5 -1.5 0.5zM1215.2 1105l-2 0.3 -2 -0.1 -1.5 -0.3 -1.5 -0.5 -1.5 -0.7 -1.3 -0.8 -1.1 -1 -0.6 -1 -0.2 -2 0.7 -1.2 1 -0.9 1.5 -0.8 1.5 -0.3 2 -0.1 2 0.1 1.5 0.4 1.5 0.7 1 0.6 1.1 1 0.8 1.5 0.2 1.5 -0.2 1.5 -0.9 1.3 -1.5 0.7z" fill="#d4d4d4" stroke="#f2f2f2" stroke-width="0.9"/>
<path d="M1153.2 1046.5l-1.7 -0.1 -1.3 -1 -0.7 -1 -0.8 -1.5 -0.3 -1.5 1.3 -0.9 1.5 -0.3 2 0 1.4 0.7 0.6 1 0.1 2 -0.6 1.5 -1 0.9zM1150.7 1106.4l-1.5 -0.1 -0.4 -1.9 0.2 -2 -0.1 -2 -0.5 -1.5 -0.7 -1.5 0 -1.1 1.5 -0.7 2 -0.1 2 0.4 1 0.7 1 1.3 0.5 1 0.5 2 0 1.5 -0.5 1.5 -0.9 1 -1.1 0.6 -1.5 0.5 -1.5 0.4zM1213.2 1103.4l-2 0.2 -1.5 -0.2 -1.5 -0.5 -1.5 -0.9 -1 -0.9 -0.4 -1.7 0.9 -1.2 1.5 -0.6 2 -0.1 1.6 0.4 1.4 0.6 1.5 0.9 1 0.7 0.7 1.3 -0.7 1.2 -1.5 0.7z" fill="#e2e2e2" stroke="#f2f2f2" stroke-width="0.9"/>
<path d="M1130.6 1015.5 L1180.9 1015.5 L1180.9 1064.9 L1130.6 1064.9 Z" stroke="#4a4a4a" stroke-width="1.4" fill="none" stroke-linejoin="miter"/>
<path d="M1186.2 1069.2 L1248.1 1069.2 L1248.1 1120.5 L1186.2 1120.5 Z" stroke="#4a4a4a" stroke-width="1.4" fill="none" stroke-linejoin="miter"/>
<text x="1219.6" y="1135" font-size="16.5" text-anchor="middle" fill="#000">16.4</text>
<text x="1118.7" y="1013.1" font-size="16.6" text-anchor="end">10<tspan dy="-6.31" font-size="9.63" fill="#333">4</tspan></text>
<text x="1118.7" y="1086.6" font-size="16.6" text-anchor="end">10<tspan dy="-6.31" font-size="9.63" fill="#333">2</tspan></text>
<text x="1180" y="1154.9" font-size="16.6" text-anchor="start">10<tspan dy="-6.31" font-size="9.63" fill="#333">3</tspan></text>
<text x="1239.9" y="1154.9" font-size="16.6" text-anchor="start">10<tspan dy="-6.31" font-size="9.63" fill="#333">5</tspan></text>
<path d="M1299.3 1003.4H1434.3V1138.4" fill="none" stroke="#9a9a9a" stroke-width="1.1"/>
<path d="M1299.3 1002.9V1138.4H1434.3" fill="none" stroke="#333" stroke-width="1.3"/>
<path d="M1294.8 1003.9h4.5M1294.8 1043.4h4.5M1294.8 1083.4h4.5M1294.8 1123.4h4.5M1294.8 1138.4h4.5M1302.3 1138.4v4.5M1331.3 1138.4v4.5M1361.3 1138.4v4.5M1391.3 1138.4v4.5M1421.3 1138.4v4.5" stroke="#333" stroke-width="1.2"/>
<path d="M1296.8 1031.5h2.5M1296.8 1024.6h2.5M1296.8 1019.6h2.5M1296.8 1015.8h2.5M1296.8 1012.7h2.5M1296.8 1010h2.5M1296.8 1007.7h2.5M1296.8 1005.7h2.5M1296.8 1071.4h2.5M1296.8 1064.3h2.5M1296.8 1059.3h2.5M1296.8 1055.4h2.5M1296.8 1052.3h2.5M1296.8 1049.6h2.5M1296.8 1047.3h2.5M1296.8 1045.2h2.5M1296.8 1111.4h2.5M1296.8 1104.3h2.5M1296.8 1099.3h2.5M1296.8 1095.4h2.5M1296.8 1092.3h2.5M1296.8 1089.6h2.5M1296.8 1087.3h2.5M1296.8 1085.2h2.5M1296.8 1133.9h2.5M1296.8 1131.2h2.5M1296.8 1129.4h2.5M1296.8 1127.9h2.5M1296.8 1126.7h2.5M1296.8 1125.7h2.5M1296.8 1124.9h2.5M1296.8 1124.1h2.5M1311 1138.4v2.5M1316.1 1138.4v2.5M1319.8 1138.4v2.5M1322.6 1138.4v2.5M1324.9 1138.4v2.5M1326.8 1138.4v2.5M1328.5 1138.4v2.5M1330 1138.4v2.5M1340.3 1138.4v2.5M1345.6 1138.4v2.5M1349.4 1138.4v2.5M1352.3 1138.4v2.5M1354.6 1138.4v2.5M1356.7 1138.4v2.5M1358.4 1138.4v2.5M1359.9 1138.4v2.5M1370.3 1138.4v2.5M1375.6 1138.4v2.5M1379.4 1138.4v2.5M1382.3 1138.4v2.5M1384.6 1138.4v2.5M1386.7 1138.4v2.5M1388.4 1138.4v2.5M1389.9 1138.4v2.5M1400.3 1138.4v2.5M1405.6 1138.4v2.5M1409.4 1138.4v2.5M1412.3 1138.4v2.5M1414.6 1138.4v2.5M1416.7 1138.4v2.5M1418.4 1138.4v2.5M1419.9 1138.4v2.5" stroke="#444" stroke-width="0.9"/>
<rect x="1294.8" y="1122.4" width="3.5" height="4" fill="#111" stroke="none" stroke-width="0"/>
<rect x="1323.3" y="1138.9" width="5" height="3" fill="#111" stroke="none" stroke-width="0"/>
<path d="M1394.3 1027.6l-1 0.3 -1 -0.5 -0.3 -0.5 0 -1 0.3 -0.6 0.6 -0.4 0.9 0 0.5 0.2 0.5 0.7 0.1 0.6 -0.1 0.5 -0.5 0.7zM1345.3 1057l-2 0.2 -1.9 -0.3 -1.1 -0.6 -1 -0.9 -1 -1.2 -1 -1.1 -1 -0.8 -1.5 -0.6 -1.5 -0.5 -1.5 -0.5 -1.5 -0.7 -1 -0.6 -1.3 -1 -1.1 -1 -1.1 -0.9 -1 -0.7 -1.5 -0.8 -1 -0.7 -1.3 -0.9 -1.2 -0.9 -1 -0.6 -1.5 -0.7 -1.5 -0.6 -1.1 -0.7 -0.9 -1 -0.6 -1.5 0 -2 0.4 -1.5 0.7 -1.3 1 -1.1 1 -0.7 1.5 -0.7 1.5 -0.4 2 -0.1 1.5 0.4 1.5 0.7 1 0.8 1 1.2 0.9 1.2 0.7 1 0.9 1.2 1 1 1 0.9 1.1 0.9 1.3 1 1.1 0.8 1 0.7 1.5 1 1 0.9 1 1.1 0.7 1 0.7 1.5 0.6 1.2 1 1 1.5 0.6 1.5 0.2 2 0.5 1.1 0.5 1.1 1 0.4 1.5 -0.4 1.5 -1 1 -1.2 0.6 -1.5 0.5zM1312.3 1123.9l-2 0.3 -2 -0.3 -1 -0.6 -1 -1 -1 -1.4 -0.6 -1 -0.9 -1.3 -0.9 -1.2 -0.6 -1 -0.7 -1.5 -0.4 -1.5 -0.3 -2 -0.3 -1.5 -0.4 -1.5 -0.5 -1.5 -0.3 -2 0.4 -1.7 0.5 -1.3 0.5 -1.5 0.5 -2 0.2 -1.5 0.4 -1.5 0.4 -1.6 0.5 -1.7 0.5 -1.6 0.4 -1.6 0.4 -1.5 0.5 -1.5 0.5 -1.5 0.6 -1.5 0.6 -1.5 0.5 -1.4 0.5 -1.5 0.5 -1.3 0.6 -1.3 0.6 -1.5 0.7 -1.5 0.8 -1 1.3 -0.9 1.5 -0.5 1.5 -0.3 1.5 -0.3 2 -0.4 1.5 -0.2 2 -0.2 2 0 2 0 2 -0.2 1.5 -0.1 2 -0.4 1.5 -0.3 1.5 -0.5 1.5 -0.4 1.6 -0.3 1.9 -0.3 2 -0.2 2 0.1 2 0.2 1.6 0.2 1.9 0.3 1.5 0.4 1.4 0.8 1 1 0.9 1 0.7 1 1 1.3 1 1.2 0.7 1 0.8 1.1 1 1.2 1.5 0.3 1.2 -0.6 1.3 -0.6 2 -0.4 2 0.2 1.5 0.8 1 0.9 0.9 1.1 0.8 1 1.1 1 1.2 0.8 1.5 0.4 2 0 1.5 -0.3 1.5 -0.5 1.5 -0.7 1.5 -0.6 1.5 -0.3 2 0.1 1.6 -0.4 1.4 -0.9 1 -0.6 1.5 -0.8 1.5 -0.5 2 0 1.5 0.5 1.2 0.8 1 1 0.8 1.3 0.5 1.2 0.5 1.7 0.2 1.8 0.2 2 0.3 1.5 0.5 1.5 0.7 1.5 0.6 1 1 1.4 0.8 1.1 0.8 1 1.1 1 1.1 1 0.7 1.3 0.1 1.7 -0.4 1.5 -0.7 1.4 -0.5 1.1 -0.5 1.7 -0.2 1.8 -0.3 1.9 -0.5 1.3 -1 1.1 -1 0.8 -1.5 0.8 -1 0.6 -1.5 0.8 -1.2 0.7 -1.3 1 -1 0.9 -1 1 -1 0.8 -1.1 0.8 -1.4 0.7 -1.5 0.5 -2 0.3 -2 -0.1 -2 -0.1 -2 -0.2 -1.5 -0.2 -2 -0.1 -2 -0.1 -2 -0.1 -1.5 -0.2 -2 -0.4 -1.4 -0.5 -1.1 -0.6 -1.3 -0.9 -1 -1 -0.9 -1 -0.8 -1 -1 -1.1 -1 -0.9 -1.1 -1 -1.1 -1 -1 -1 -0.9 -1 -0.9 -1 -1 -1.4 -0.7 -1.1 -0.6 -1.5 -0.4 -1.5 -0.1 -2 0.1 -2 0.1 -2 -0.1 -2 -0.1 -2 -0.1 -2 -0.3 -1.5 -1.3 -1 -1 0 -2 0.4 -1.5 0.4 -1.5 0.3 -2 0.1 -2 0 -2 0.1 -1.5 0.5 -1.1 0.7 -0.7 1.5 0 2 0.3 1.5 0.5 1.6 0.3 1.9 -0.3 1.8 -0.5 1.6 -0.5 1.4 -0.5 1.4 -0.5 1.3 -0.9 1.5 -1 1 -1.1 0.6 -1.5 0.6 -1.5 0.6 -1.1 0.7 -0.9 1.2 -0.6 1.3 -0.7 1.5 -0.7 1.4 -0.8 1.1 -1 1 -1.2 0.7 -1.5 0.6 -1.5 0.6 -1.5 0.6 -1.5 0.5 -1.5 0.4 -1.5 0.2 -2 0.4zM1344.8 1102.4l-0.7 0 -0.8 -0.2 -0.7 -0.3 -0.6 -0.5 -0.3 -0.5 0 -1 0.3 -0.5 0.6 -0.5 0.7 -0.3 1 -0.2 1 0.1 0.9 0.4 0.6 0.5 0.3 0.5 0 1 -0.3 0.6 -0.5 0.4 -1 0.4 -0.5 0.1z" fill="#9a9a9a" stroke="#1a1a1a" stroke-width="1.2"/>
<path d="M1336.8 1049.6l-2 0.2 -1.7 -0.4 -1.3 -0.5 -1.5 -1 -1 -1 -0.8 -1 -0.9 -1 -1.3 -1 -1 -0.7 -1.2 -0.8 -1.3 -0.9 -1 -0.6 -1.5 -0.8 -1.5 -0.5 -1.5 -0.5 -1.2 -0.7 -0.8 -1 -0.3 -2 0.5 -1.5 0.8 -1 1.4 -1 1.3 -0.5 1.8 -0.3 1.6 0.3 1.4 0.7 1 0.9 1 1.4 0.5 1 0.9 1.5 0.8 1 1 1 1.2 1 1.1 0.9 1 0.7 1.2 0.9 1.3 0.9 1 0.7 1 1.1 0.8 1.3 0.2 1.5 -0.5 1.5zM1344.3 1054.5l-1 0 -0.5 -0.2 -0.5 -0.6 0 -0.5 0.5 -0.4 1 -0.1 1 0.1 0.5 0.3 0.2 0.8 -0.7 0.5 -0.5 0.1zM1314.8 1121.5l-2 0.2 -2 0 -1.5 -0.3 -1.4 -1 -0.9 -1 -0.8 -1 -0.9 -1.3 -0.8 -1.2 -0.7 -1.5 -0.4 -1.5 -0.2 -1.5 -0.2 -2 -0.2 -1.5 -0.5 -2 0 -1.5 0.3 -1.5 0.4 -1.5 0.3 -1.5 0.4 -2 0.4 -1.5 0.5 -1.5 0.5 -1.5 0.4 -1.5 0.5 -1.5 0.4 -1.5 0.6 -1.5 0.8 -1.5 0.8 -1 1.1 -1 1.1 -1 0.7 -1 0.4 -1.5 0.3 -2 0.3 -1.5 0.6 -1.5 0.7 -1 1.1 -1 1.4 -0.7 1.5 -0.4 2 -0.3 2 0 2 0.1 2 -0.1 2 -0.1 1.5 -0.1 2 -0.3 1.5 -0.4 1.5 -0.6 1.5 -0.5 1.5 -0.3 1.5 -0.3 2 -0.4 1.5 -0.3 2 -0.1 2 0.2 1.5 0.3 1.5 0.6 1 0.7 1 1 1 1.3 0.7 1.2 0.8 1.5 0.5 1.5 0.3 1.5 0.2 2 -0.3 2 -0.6 1.5 -0.9 1 -1.2 0.9 -1.2 0.6 -1.3 0.7 -1.5 0.6 -1.5 0.3 -2 0.1 -2 0 -2 0.1 -1.5 0.3 -1.5 0.4 -1.4 1 -0.6 1 -0.3 2 0.3 2 0.4 1.5 0.4 1.5 0.2 1.5 -0.1 1.5 -0.4 1.7 -0.5 1.4 -0.6 1.4 -0.9 1.2 -1.5 0.8 -1.5 0.2 -2 0.2 -1.3 0.6 -1.1 1 -0.6 1 -0.6 1.5 -0.4 1.8 -0.5 1.4 -0.7 1.3 -1 1 -1.3 1 -1 0.6 -1.5 0.9 -1 0.5 -1.5 0.7 -1.5 0.4zM1388.8 1120.4l-2 0.1 -1.6 -0.1 -1.9 -0.2 -1.5 -0.4 -1.5 -0.4 -1.5 -0.5 -1.5 -0.6 -1.5 -0.5 -2 -0.2 -2 -0.2 -1.5 -0.4 -1 -0.8 -1 -1.3 -0.6 -1 -0.8 -1.5 -0.7 -1 -1.2 -1 -1.2 -0.5 -1.5 -0.6 -1.5 -0.9 -1 -0.8 -1 -1.2 -0.6 -1 -0.6 -1.5 -0.2 -2 0 -2 0.3 -2 0.1 -1.5 0.2 -2 0.2 -2 0.2 -1.5 0.4 -2 0.5 -1.1 1 -1.3 1 -0.8 1.1 -0.8 1.1 -1 0.8 -1.1 1 -1.3 1.5 -0.4 1.5 0.7 1 0.8 1 1 1 0.9 1.5 0.9 1.5 0.3 2 -0.1 1.5 -0.3 1.6 -0.4 1.8 -0.5 1.5 0 1.1 0.6 1 1 1.1 0.9 1.4 0.6 2 0.1 1.1 -0.7 -0.1 -1.5 -0.4 -2 0.3 -2 0.6 -1 1 -1 1.5 -0.7 2 -0.1 1.5 0.8 0.9 1 0.6 1.3 0.4 1.7 -0.3 2 -0.6 1.4 -0.9 1.1 -0.8 1 0.2 1.5 0.9 1.5 0.6 1 1 1.5 0.6 1 0.7 1.5 0.7 1.3 0.7 1.2 0.7 1.5 0.4 1.5 0.1 2 -0.1 2 -0.1 2 -0.6 1.5 -0.8 1 -1.1 1 -1.2 0.8 -1 0.7 -1.4 1 -1.1 1 -0.8 1 -0.8 1 -0.9 1 -1.3 1 -1.2 0.6 -1.5 0.4z" fill="#7c7c7c" stroke="#f4f4f4" stroke-width="1"/>
<path d="M1336.8 1049.6l-2 0.2 -1.7 -0.4 -1.3 -0.5 -1.5 -1 -1 -1 -0.8 -1 -0.9 -1 -1.3 -1 -1 -0.7 -1.2 -0.8 -1.3 -0.9 -1 -0.6 -1.5 -0.8 -1.5 -0.5 -1.5 -0.5 -1.2 -0.7 -0.8 -1 -0.3 -2 0.5 -1.5 0.8 -1 1.4 -1 1.3 -0.5 1.8 -0.3 1.6 0.3 1.4 0.7 1 0.9 1 1.4 0.5 1 0.9 1.5 0.8 1 1 1 1.2 1 1.1 0.9 1 0.7 1.2 0.9 1.3 0.9 1 0.7 1 1.1 0.8 1.3 0.2 1.5 -0.5 1.5zM1344.3 1054.5l-1 0 -0.5 -0.2 -0.5 -0.6 0 -0.5 0.5 -0.4 1 -0.1 1 0.1 0.5 0.3 0.2 0.8 -0.7 0.5 -0.5 0.1zM1314.8 1121.5l-2 0.2 -2 0 -1.5 -0.3 -1.4 -1 -0.9 -1 -0.8 -1 -0.9 -1.3 -0.8 -1.2 -0.7 -1.5 -0.4 -1.5 -0.2 -1.5 -0.2 -2 -0.2 -1.5 -0.5 -2 0 -1.5 0.3 -1.5 0.4 -1.5 0.3 -1.5 0.4 -2 0.4 -1.5 0.5 -1.5 0.5 -1.5 0.4 -1.5 0.5 -1.5 0.4 -1.5 0.6 -1.5 0.8 -1.5 0.8 -1 1.1 -1 1.1 -1 0.7 -1 0.4 -1.5 0.3 -2 0.3 -1.5 0.6 -1.5 0.7 -1 1.1 -1 1.4 -0.7 1.5 -0.4 2 -0.3 2 0 2 0.1 2 -0.1 2 -0.1 1.5 -0.1 2 -0.3 1.5 -0.4 1.5 -0.6 1.5 -0.5 1.5 -0.3 1.5 -0.3 2 -0.4 1.5 -0.3 2 -0.1 2 0.2 1.5 0.3 1.5 0.6 1 0.7 1 1 1 1.3 0.7 1.2 0.8 1.5 0.5 1.5 0.3 1.5 0.2 2 -0.3 2 -0.6 1.5 -0.9 1 -1.2 0.9 -1.2 0.6 -1.3 0.7 -1.5 0.6 -1.5 0.3 -2 0.1 -2 0 -2 0.1 -1.5 0.3 -1.5 0.4 -1.4 1 -0.6 1 -0.3 2 0.3 2 0.4 1.5 0.4 1.5 0.2 1.5 -0.1 1.5 -0.4 1.7 -0.5 1.4 -0.6 1.4 -0.9 1.2 -1.5 0.8 -1.5 0.2 -2 0.2 -1.3 0.6 -1.1 1 -0.6 1 -0.6 1.5 -0.4 1.8 -0.5 1.4 -0.7 1.3 -1 1 -1.3 1 -1 0.6 -1.5 0.9 -1 0.5 -1.5 0.7 -1.5 0.4zM1388.8 1120.4l-2 0.1 -1.6 -0.1 -1.9 -0.2 -1.5 -0.4 -1.5 -0.4 -1.5 -0.5 -1.5 -0.6 -1.5 -0.5 -2 -0.2 -2 -0.2 -1.5 -0.4 -1 -0.8 -1 -1.3 -0.6 -1 -0.8 -1.5 -0.7 -1 -1.2 -1 -1.2 -0.5 -1.5 -0.6 -1.5 -0.9 -1 -0.8 -1 -1.2 -0.6 -1 -0.6 -1.5 -0.2 -2 0 -2 0.3 -2 0.1 -1.5 0.2 -2 0.2 -2 0.2 -1.5 0.4 -2 0.5 -1.1 1 -1.3 1 -0.8 1.1 -0.8 1.1 -1 0.8 -1.1 1 -1.3 1.5 -0.4 1.5 0.7 1 0.8 1 1 1 0.9 1.5 0.9 1.5 0.3 2 -0.1 1.5 -0.3 1.6 -0.4 1.8 -0.5 1.5 0 1.1 0.6 1 1 1.1 0.9 1.4 0.6 2 0.1 1.1 -0.7 -0.1 -1.5 -0.4 -2 0.3 -2 0.6 -1 1 -1 1.5 -0.7 2 -0.1 1.5 0.8 0.9 1 0.6 1.3 0.4 1.7 -0.3 2 -0.6 1.4 -0.9 1.1 -0.8 1 0.2 1.5 0.9 1.5 0.6 1 1 1.5 0.6 1 0.7 1.5 0.7 1.3 0.7 1.2 0.7 1.5 0.4 1.5 0.1 2 -0.1 2 -0.1 2 -0.6 1.5 -0.8 1 -1.1 1 -1.2 0.8 -1 0.7 -1.4 1 -1.1 1 -0.8 1 -0.8 1 -0.9 1 -1.3 1 -1.2 0.6 -1.5 0.4z" fill="none" stroke="#222222" stroke-width="0.7" transform="translate(0.7 0.7)" opacity="0.6"/>
<path d="M1323.8 1038.4l-1.5 0 -2 -0.4 -1.5 -0.6 -1 -0.7 -0.4 -1.8 0.9 -1.3 1.4 -0.7 1.6 -0.2 1.5 0.4 1 0.9 0.7 1.4 0.2 2 -0.9 1zM1315.3 1119.5l-2 0.4 -2 -0.2 -1.5 -0.6 -1 -0.7 -1 -1 -1 -1.3 -0.7 -1.2 -0.7 -1.5 -0.2 -1.5 -0.1 -2 0 -2 0 -2 -0.1 -2 0.1 -2 0.2 -2 0.2 -1.5 0.3 -1.5 0.5 -1.9 0.5 -1.6 0.5 -1.5 0.5 -1.3 0.7 -1.2 0.8 -1 1.5 -0.9 1.5 -0.4 1.5 -0.3 1.2 -0.9 0.5 -1.5 0 -2 -0.2 -2 0.1 -2 0.4 -1.9 0.8 -1.1 1.2 -0.8 1.5 -0.4 2 -0.1 2 0 2 0 2 0 2 0.2 1.5 0.3 2 0 1.5 -0.6 1 -0.6 1.5 -0.8 1.5 -0.6 1.5 -0.4 1.5 -0.4 1.5 -0.3 2 -0.1 1.5 0.2 1.5 0.7 1 0.8 1 1.3 0.6 1.1 0.5 1.5 0.4 2 0.2 1.5 -0.2 1.6 -0.9 1.4 -1.1 0.9 -1 0.8 -1.4 0.8 -1.6 0.5 -1.5 0.2 -2 0.2 -1.5 0.1 -2 0.2 -2 0.2 -1.5 0.2 -1.5 0.4 -1.5 1 -0.7 1 0 2 0.7 1.5 0.6 1 0.8 1.5 0.5 1.5 0.3 1.5 -0.2 1.8 -0.5 1.3 -1 1.4 -1 0.7 -1.5 0.6 -1.5 0.4 -1.5 0.8 -1 0.7 -1 1.1 -0.9 1.2 -0.6 1.3 -0.5 1.5 -0.5 1.7 -0.5 1.3 -0.7 1.2 -1 1 -1.2 1 -1.1 0.8 -1.1 0.7 -1.4 0.6zM1395.3 1084.1l-1 0 -0.5 -0.2 -0.5 -0.5 -0.2 -1 0.2 -0.7 0.5 -0.4 1 -0.1 0.5 0.3 0.5 0.7 0.2 0.7 -0.2 0.7 -0.5 0.5zM1388.8 1118.5l-2 0.2 -2 -0.1 -1.5 -0.2 -1.7 -0.5 -1.3 -0.5 -1.5 -0.8 -1.3 -0.7 -1.2 -0.6 -1.5 -0.7 -1.5 -0.6 -1.2 -0.6 -1 -1 -0.8 -1.3 -0.7 -1.2 -0.8 -1.3 -1 -1.2 -1 -0.7 -1.5 -0.3 -1.5 0 -1.5 -0.2 -1.4 -0.8 -0.9 -1 -0.6 -1.5 -0.2 -1.5 0.2 -1.5 0.4 -1.5 0.6 -1.5 0.6 -1.5 0.4 -1.5 0 -2 0.1 -2 0.8 -1.4 1 -0.8 1.5 -0.6 1.5 -0.3 1.5 0.2 1.5 0.9 1 0.8 1 1 1 1.1 1 0.7 2 -0.1 1.5 -0.5 1.5 -0.3 2 -0.2 1.5 0 1.5 0.1 2 0.2 1.5 0.3 1.9 0.4 1.5 0.5 1.1 0.5 1.5 0.9 1 0.8 1 0.9 1 1 1 1.3 0.8 1.1 0.7 1.4 0.5 1.2 0.3 1.9 -0.3 1.8 -0.4 1.7 -0.3 1.5 -0.8 1.2 -1 0.8 -1.4 1 -1 1 -0.7 1 -0.7 1.5 -0.7 1.5 -0.7 1 -1.1 1 -1.2 0.6z" fill="#9a9a9a" stroke="#f4f4f4" stroke-width="1"/>
<path d="M1323.8 1038.4l-1.5 0 -2 -0.4 -1.5 -0.6 -1 -0.7 -0.4 -1.8 0.9 -1.3 1.4 -0.7 1.6 -0.2 1.5 0.4 1 0.9 0.7 1.4 0.2 2 -0.9 1zM1315.3 1119.5l-2 0.4 -2 -0.2 -1.5 -0.6 -1 -0.7 -1 -1 -1 -1.3 -0.7 -1.2 -0.7 -1.5 -0.2 -1.5 -0.1 -2 0 -2 0 -2 -0.1 -2 0.1 -2 0.2 -2 0.2 -1.5 0.3 -1.5 0.5 -1.9 0.5 -1.6 0.5 -1.5 0.5 -1.3 0.7 -1.2 0.8 -1 1.5 -0.9 1.5 -0.4 1.5 -0.3 1.2 -0.9 0.5 -1.5 0 -2 -0.2 -2 0.1 -2 0.4 -1.9 0.8 -1.1 1.2 -0.8 1.5 -0.4 2 -0.1 2 0 2 0 2 0 2 0.2 1.5 0.3 2 0 1.5 -0.6 1 -0.6 1.5 -0.8 1.5 -0.6 1.5 -0.4 1.5 -0.4 1.5 -0.3 2 -0.1 1.5 0.2 1.5 0.7 1 0.8 1 1.3 0.6 1.1 0.5 1.5 0.4 2 0.2 1.5 -0.2 1.6 -0.9 1.4 -1.1 0.9 -1 0.8 -1.4 0.8 -1.6 0.5 -1.5 0.2 -2 0.2 -1.5 0.1 -2 0.2 -2 0.2 -1.5 0.2 -1.5 0.4 -1.5 1 -0.7 1 0 2 0.7 1.5 0.6 1 0.8 1.5 0.5 1.5 0.3 1.5 -0.2 1.8 -0.5 1.3 -1 1.4 -1 0.7 -1.5 0.6 -1.5 0.4 -1.5 0.8 -1 0.7 -1 1.1 -0.9 1.2 -0.6 1.3 -0.5 1.5 -0.5 1.7 -0.5 1.3 -0.7 1.2 -1 1 -1.2 1 -1.1 0.8 -1.1 0.7 -1.4 0.6zM1395.3 1084.1l-1 0 -0.5 -0.2 -0.5 -0.5 -0.2 -1 0.2 -0.7 0.5 -0.4 1 -0.1 0.5 0.3 0.5 0.7 0.2 0.7 -0.2 0.7 -0.5 0.5zM1388.8 1118.5l-2 0.2 -2 -0.1 -1.5 -0.2 -1.7 -0.5 -1.3 -0.5 -1.5 -0.8 -1.3 -0.7 -1.2 -0.6 -1.5 -0.7 -1.5 -0.6 -1.2 -0.6 -1 -1 -0.8 -1.3 -0.7 -1.2 -0.8 -1.3 -1 -1.2 -1 -0.7 -1.5 -0.3 -1.5 0 -1.5 -0.2 -1.4 -0.8 -0.9 -1 -0.6 -1.5 -0.2 -1.5 0.2 -1.5 0.4 -1.5 0.6 -1.5 0.6 -1.5 0.4 -1.5 0 -2 0.1 -2 0.8 -1.4 1 -0.8 1.5 -0.6 1.5 -0.3 1.5 0.2 1.5 0.9 1 0.8 1 1 1 1.1 1 0.7 2 -0.1 1.5 -0.5 1.5 -0.3 2 -0.2 1.5 0 1.5 0.1 2 0.2 1.5 0.3 1.9 0.4 1.5 0.5 1.1 0.5 1.5 0.9 1 0.8 1 0.9 1 1 1 1.3 0.8 1.1 0.7 1.4 0.5 1.2 0.3 1.9 -0.3 1.8 -0.4 1.7 -0.3 1.5 -0.8 1.2 -1 0.8 -1.4 1 -1 1 -0.7 1 -0.7 1.5 -0.7 1.5 -0.7 1 -1.1 1 -1.2 0.6z" fill="none" stroke="#222222" stroke-width="0.7" transform="translate(0.7 0.7)" opacity="0.6"/>
<path d="M1314.3 1117.4l-2 0.1 -1.5 -0.6 -1 -0.7 -1 -1 -0.8 -1.3 -0.6 -1.5 -0.1 -2 0.2 -2 0.1 -2 0 -2 -0.1 -2 -0.2 -1.7 -0.1 -1.8 0.1 -1.5 0.4 -2 0.4 -1.5 0.6 -1.5 0.6 -1.1 1 -0.9 1.5 -0.6 2 0.1 1.5 0 1.5 -0.4 1 -1 0.6 -1.1 0.5 -1.5 0.4 -1.5 0.5 -1.6 0.3 -1.9 0 -2 0.7 -1.1 1.5 -0.7 1.5 -0.5 1.5 -0.3 2 0 1.5 0.4 1.4 0.7 1.1 0.6 2 -0.1 1 -0.6 1.2 -0.9 1.3 -0.9 1 -0.6 1.5 -0.7 1.5 -0.5 1.5 -0.4 2 0 1.4 0.6 0.6 1 -0.3 1.5 -0.9 1 -1.1 1 -0.7 1 -0.6 1.5 -0.4 1.5 -1 1.4 -1.3 0.6 -1.7 0.3 -2 -0.2 -1.5 -0.3 -1.5 -0.4 -1.5 0.3 -1.2 0.8 -1 1 -0.8 1.1 -0.6 1.4 -0.4 2 0.3 2 0.7 1.3 1 1.1 0.9 1.1 0.6 1.2 0 1.8 -0.5 1 -1.3 1 -1.2 0.6 -1.5 0.8 -1 0.8 -1 0.8 -1 1 -1 1.2 -0.8 1.3 -0.7 1.4 -0.5 1.2 -0.6 1.4 -0.7 1.5 -0.7 1 -1 1.1 -1 1 -1.2 0.9 -1.3 0.5zM1386.3 1116.4l-2 0.2 -1.5 -0.2 -1.5 -0.5 -1.5 -0.8 -1.1 -0.7 -1.2 -1 -1.1 -1 -1 -1 -1.1 -0.9 -1 -0.7 -1 -0.9 -1 -1 -1 -1.5 -0.5 -1.1 -0.4 -1.9 0.4 -1.8 0.8 -1.2 1.2 -0.9 1.1 -0.6 1.4 -0.9 1 -0.9 1 -0.9 1.1 -0.8 1.4 -0.8 1.5 -0.5 1.5 -0.4 2 -0.2 2 0.3 1.5 0.4 1.5 0.6 1.5 0.6 1.2 0.5 1.3 0.7 1.1 0.8 0.9 1.1 0.7 1.4 0 2 -0.7 1.2 -1 1.3 -0.6 1 -0.7 1.5 -0.6 1.5 -0.6 1.4 -0.5 1.1 -0.7 1.5 -0.7 1.5 -0.6 1 -1 1 -1.5 0.5zM1363.3 1102.4l-0.6 0 -0.5 -0.5 0 -1 0.3 -0.5 0.8 -0.4 0.7 0.4 0.2 1 -0.4 0.7 -0.5 0.3z" fill="#767676" stroke="#f4f4f4" stroke-width="1"/>
<path d="M1314.3 1117.4l-2 0.1 -1.5 -0.6 -1 -0.7 -1 -1 -0.8 -1.3 -0.6 -1.5 -0.1 -2 0.2 -2 0.1 -2 0 -2 -0.1 -2 -0.2 -1.7 -0.1 -1.8 0.1 -1.5 0.4 -2 0.4 -1.5 0.6 -1.5 0.6 -1.1 1 -0.9 1.5 -0.6 2 0.1 1.5 0 1.5 -0.4 1 -1 0.6 -1.1 0.5 -1.5 0.4 -1.5 0.5 -1.6 0.3 -1.9 0 -2 0.7 -1.1 1.5 -0.7 1.5 -0.5 1.5 -0.3 2 0 1.5 0.4 1.4 0.7 1.1 0.6 2 -0.1 1 -0.6 1.2 -0.9 1.3 -0.9 1 -0.6 1.5 -0.7 1.5 -0.5 1.5 -0.4 2 0 1.4 0.6 0.6 1 -0.3 1.5 -0.9 1 -1.1 1 -0.7 1 -0.6 1.5 -0.4 1.5 -1 1.4 -1.3 0.6 -1.7 0.3 -2 -0.2 -1.5 -0.3 -1.5 -0.4 -1.5 0.3 -1.2 0.8 -1 1 -0.8 1.1 -0.6 1.4 -0.4 2 0.3 2 0.7 1.3 1 1.1 0.9 1.1 0.6 1.2 0 1.8 -0.5 1 -1.3 1 -1.2 0.6 -1.5 0.8 -1 0.8 -1 0.8 -1 1 -1 1.2 -0.8 1.3 -0.7 1.4 -0.5 1.2 -0.6 1.4 -0.7 1.5 -0.7 1 -1 1.1 -1 1 -1.2 0.9 -1.3 0.5zM1386.3 1116.4l-2 0.2 -1.5 -0.2 -1.5 -0.5 -1.5 -0.8 -1.1 -0.7 -1.2 -1 -1.1 -1 -1 -1 -1.1 -0.9 -1 -0.7 -1 -0.9 -1 -1 -1 -1.5 -0.5 -1.1 -0.4 -1.9 0.4 -1.8 0.8 -1.2 1.2 -0.9 1.1 -0.6 1.4 -0.9 1 -0.9 1 -0.9 1.1 -0.8 1.4 -0.8 1.5 -0.5 1.5 -0.4 2 -0.2 2 0.3 1.5 0.4 1.5 0.6 1.5 0.6 1.2 0.5 1.3 0.7 1.1 0.8 0.9 1.1 0.7 1.4 0 2 -0.7 1.2 -1 1.3 -0.6 1 -0.7 1.5 -0.6 1.5 -0.6 1.4 -0.5 1.1 -0.7 1.5 -0.7 1.5 -0.6 1 -1 1 -1.5 0.5zM1363.3 1102.4l-0.6 0 -0.5 -0.5 0 -1 0.3 -0.5 0.8 -0.4 0.7 0.4 0.2 1 -0.4 0.7 -0.5 0.3z" fill="none" stroke="#222222" stroke-width="0.7" transform="translate(0.7 0.7)" opacity="0.6"/>
<path d="M1338.3 1082l-1 0 -0.5 -0.3 -0.5 -0.5 -0.3 -0.8 0.3 -1 0.3 -0.5 0.5 -0.5 0.7 -0.5 0.5 -0.1 1 0 0.4 0.6 0.1 1 -0.2 1 -0.3 0.7 -0.5 0.6 -0.5 0.3zM1326.3 1083.4l-0.3 -0.5 -0.1 -1 0.3 -1 0.3 -0.5 0.8 -0.4 0.7 0.4 0.3 1 -0.4 1 -0.5 0.5 -0.6 0.4 -0.5 0.1zM1313.3 1113.9l-1.5 -0.4 -1 -1.1 -0.5 -1.4 -0.2 -1.6 0 -2 -0.1 -2 -0.1 -2 -0.2 -1.5 -0.4 -2 -0.3 -1.5 -0.1 -2 0.4 -2 0.5 -1.1 1 -1.2 1.5 -0.5 2 0.3 1.5 0.1 1.5 -0.3 1.3 -0.8 0.9 -1 0.8 -1.2 0.9 -1.3 1 -1 1.1 -0.7 1.5 -0.4 0.7 1.1 0.2 2 0.1 2 0 1.5 0.1 2 0.4 1.6 0.5 1.6 -0.1 1.3 -0.9 1.3 -1 1.2 -0.9 1 -1.1 1 -1 1 -0.9 1 -0.7 1 -0.6 1.5 -0.7 1.5 -0.6 1 -1 1.3 -1 1 -1 0.8 -1.5 0.8zM1384.3 1114.5l-1.9 -0.1 -1.3 -0.5 -1.2 -1 -0.7 -1 -0.5 -1.5 -0.4 -1.7 -0.8 -1.3 -1.2 -0.7 -2 -0.3 -1 -0.5 -0.2 -2 1 -1 1.2 -1 0.7 -1 0.8 -1.3 0.8 -1.2 1.1 -1 1.1 -0.7 1.5 -0.5 2 -0.1 1.5 0.3 1.5 0.6 1.5 0.6 1.5 0.4 1.5 0.5 1.2 0.9 0.3 1.5 -0.5 1 -1 1.3 -0.6 1.2 -0.4 1.8 -0.3 1.7 -0.4 1.5 -0.7 1.5 -0.6 1.1 -1 1.2 -1 0.8 -1.5 0.5z" fill="#a2a2a2" stroke="#f4f4f4" stroke-width="1"/>
<path d="M1338.3 1082l-1 0 -0.5 -0.3 -0.5 -0.5 -0.3 -0.8 0.3 -1 0.3 -0.5 0.5 -0.5 0.7 -0.5 0.5 -0.1 1 0 0.4 0.6 0.1 1 -0.2 1 -0.3 0.7 -0.5 0.6 -0.5 0.3zM1326.3 1083.4l-0.3 -0.5 -0.1 -1 0.3 -1 0.3 -0.5 0.8 -0.4 0.7 0.4 0.3 1 -0.4 1 -0.5 0.5 -0.6 0.4 -0.5 0.1zM1313.3 1113.9l-1.5 -0.4 -1 -1.1 -0.5 -1.4 -0.2 -1.6 0 -2 -0.1 -2 -0.1 -2 -0.2 -1.5 -0.4 -2 -0.3 -1.5 -0.1 -2 0.4 -2 0.5 -1.1 1 -1.2 1.5 -0.5 2 0.3 1.5 0.1 1.5 -0.3 1.3 -0.8 0.9 -1 0.8 -1.2 0.9 -1.3 1 -1 1.1 -0.7 1.5 -0.4 0.7 1.1 0.2 2 0.1 2 0 1.5 0.1 2 0.4 1.6 0.5 1.6 -0.1 1.3 -0.9 1.3 -1 1.2 -0.9 1 -1.1 1 -1 1 -0.9 1 -0.7 1 -0.6 1.5 -0.7 1.5 -0.6 1 -1 1.3 -1 1 -1 0.8 -1.5 0.8zM1384.3 1114.5l-1.9 -0.1 -1.3 -0.5 -1.2 -1 -0.7 -1 -0.5 -1.5 -0.4 -1.7 -0.8 -1.3 -1.2 -0.7 -2 -0.3 -1 -0.5 -0.2 -2 1 -1 1.2 -1 0.7 -1 0.8 -1.3 0.8 -1.2 1.1 -1 1.1 -0.7 1.5 -0.5 2 -0.1 1.5 0.3 1.5 0.6 1.5 0.6 1.5 0.4 1.5 0.5 1.2 0.9 0.3 1.5 -0.5 1 -1 1.3 -0.6 1.2 -0.4 1.8 -0.3 1.7 -0.4 1.5 -0.7 1.5 -0.6 1.1 -1 1.2 -1 0.8 -1.5 0.5z" fill="none" stroke="#222222" stroke-width="0.7" transform="translate(0.7 0.7)" opacity="0.6"/>
<path d="M1314.8 1109l-1.5 -0.6 -0.5 -1 -0.4 -2 0.2 -2 0.2 -1.5 -0.2 -1.5 -0.8 -1.5 -0.6 -1 -0.4 -1.5 0.2 -1.5 0.8 -1.1 2 0 1.5 0.4 2 0 1.5 -0.7 1 -0.8 1 -1 1 -0.9 1.5 0.5 0.1 1.6 -0.1 1.7 -0.1 1.8 -0.2 2 -0.7 1.4 -1 0.8 -1.5 0.6 -1.5 0.4 -1 0.8 -0.1 2 -0.1 2 -0.7 1.5 -1.1 0.9zM1384.8 1111.9l-2 0.2 -1 -0.7 -0.6 -1.5 -0.4 -1.7 -0.5 -1.4 -0.6 -1.4 -0.6 -1.5 -0.3 -1.5 0.2 -1.5 0.8 -1.4 1 -0.7 2 -0.3 1.5 0.6 1.2 0.8 0.8 1 0.6 1.5 0.2 2 0.2 1.8 0 1.4 -0.4 1.8 -0.6 1.1 -1 1.1z" fill="#d2d2d2" stroke="#f4f4f4" stroke-width="1"/>
<path d="M1314.8 1109l-1.5 -0.6 -0.5 -1 -0.4 -2 0.2 -2 0.2 -1.5 -0.2 -1.5 -0.8 -1.5 -0.6 -1 -0.4 -1.5 0.2 -1.5 0.8 -1.1 2 0 1.5 0.4 2 0 1.5 -0.7 1 -0.8 1 -1 1 -0.9 1.5 0.5 0.1 1.6 -0.1 1.7 -0.1 1.8 -0.2 2 -0.7 1.4 -1 0.8 -1.5 0.6 -1.5 0.4 -1 0.8 -0.1 2 -0.1 2 -0.7 1.5 -1.1 0.9zM1384.8 1111.9l-2 0.2 -1 -0.7 -0.6 -1.5 -0.4 -1.7 -0.5 -1.4 -0.6 -1.4 -0.6 -1.5 -0.3 -1.5 0.2 -1.5 0.8 -1.4 1 -0.7 2 -0.3 1.5 0.6 1.2 0.8 0.8 1 0.6 1.5 0.2 2 0.2 1.8 0 1.4 -0.4 1.8 -0.6 1.1 -1 1.1z" fill="none" stroke="#222222" stroke-width="0.7" transform="translate(0.7 0.7)" opacity="0.6"/>
<path d="M1302.8 1016.9 L1353.7 1016.9 L1353.7 1065.3 L1302.8 1065.3 Z" stroke="#4a4a4a" stroke-width="1.4" fill="none" stroke-linejoin="miter"/>
<path d="M1358.9 1070.9 L1420.5 1070.9 L1420.5 1121.1 L1358.9 1121.1 Z" stroke="#4a4a4a" stroke-width="1.4" fill="none" stroke-linejoin="miter"/>
<text x="1392.8" y="1135.6" font-size="16.5" text-anchor="middle" fill="#000">34.5</text>
<text x="1290.8" y="1013.1" font-size="16.6" text-anchor="end">10<tspan dy="-6.31" font-size="9.63" fill="#333">4</tspan></text>
<text x="1290.8" y="1086.6" font-size="16.6" text-anchor="end">10<tspan dy="-6.31" font-size="9.63" fill="#333">2</tspan></text>
<text x="1352.1" y="1154.9" font-size="16.6" text-anchor="start">10<tspan dy="-6.31" font-size="9.63" fill="#333">3</tspan></text>
<text x="1412" y="1154.9" font-size="16.6" text-anchor="start">10<tspan dy="-6.31" font-size="9.63" fill="#333">5</tspan></text>
<path d="M1127.2 1188.6H1262.2V1323.6" fill="none" stroke="#9a9a9a" stroke-width="1.1"/>
<path d="M1127.2 1188.1V1323.6H1262.2" fill="none" stroke="#333" stroke-width="1.3"/>
<path d="M1122.7 1189.1h4.5M1122.7 1228.6h4.5M1122.7 1268.6h4.5M1122.7 1308.6h4.5M1122.7 1323.6h4.5M1130.2 1323.6v4.5M1159.2 1323.6v4.5M1189.2 1323.6v4.5M1219.2 1323.6v4.5M1249.2 1323.6v4.5" stroke="#333" stroke-width="1.2"/>
<path d="M1124.7 1216.7h2.5M1124.7 1209.8h2.5M1124.7 1204.8h2.5M1124.7 1201h2.5M1124.7 1197.9h2.5M1124.7 1195.2h2.5M1124.7 1192.9h2.5M1124.7 1190.9h2.5M1124.7 1256.6h2.5M1124.7 1249.5h2.5M1124.7 1244.5h2.5M1124.7 1240.6h2.5M1124.7 1237.5h2.5M1124.7 1234.8h2.5M1124.7 1232.5h2.5M1124.7 1230.4h2.5M1124.7 1296.6h2.5M1124.7 1289.5h2.5M1124.7 1284.5h2.5M1124.7 1280.6h2.5M1124.7 1277.5h2.5M1124.7 1274.8h2.5M1124.7 1272.5h2.5M1124.7 1270.4h2.5M1124.7 1319.1h2.5M1124.7 1316.4h2.5M1124.7 1314.6h2.5M1124.7 1313.1h2.5M1124.7 1311.9h2.5M1124.7 1310.9h2.5M1124.7 1310.1h2.5M1124.7 1309.3h2.5M1138.9 1323.6v2.5M1144 1323.6v2.5M1147.7 1323.6v2.5M1150.5 1323.6v2.5M1152.8 1323.6v2.5M1154.7 1323.6v2.5M1156.4 1323.6v2.5M1157.9 1323.6v2.5M1168.2 1323.6v2.5M1173.5 1323.6v2.5M1177.3 1323.6v2.5M1180.2 1323.6v2.5M1182.5 1323.6v2.5M1184.6 1323.6v2.5M1186.3 1323.6v2.5M1187.8 1323.6v2.5M1198.2 1323.6v2.5M1203.5 1323.6v2.5M1207.3 1323.6v2.5M1210.2 1323.6v2.5M1212.5 1323.6v2.5M1214.6 1323.6v2.5M1216.3 1323.6v2.5M1217.8 1323.6v2.5M1228.2 1323.6v2.5M1233.5 1323.6v2.5M1237.3 1323.6v2.5M1240.2 1323.6v2.5M1242.5 1323.6v2.5M1244.6 1323.6v2.5M1246.3 1323.6v2.5M1247.8 1323.6v2.5" stroke="#444" stroke-width="0.9"/>
<rect x="1122.7" y="1307.6" width="3.5" height="4" fill="#111" stroke="none" stroke-width="0"/>
<rect x="1151.2" y="1324.1" width="5" height="3" fill="#111" stroke="none" stroke-width="0"/>
<path d="M1219.2 1307.2l-2 0.2 -2 -0.1 -2 -0.1 -2 0 -1.6 -0.1 -1.9 -0.4 -1.5 -0.6 -1.2 -0.5 -1.8 -0.4 -1.7 -0.1 -1.8 -0.5 -1 -0.5 -1.5 -0.9 -1 -0.6 -1.5 -0.6 -1.6 -0.4 -1.9 -0.2 -1.5 -0.3 -1.5 -0.9 -1 -1 -0.8 -1.1 -0.8 -1 -0.9 -1 -1.4 -1 -1.6 -0.5 -1.5 -0.2 -1.6 -0.3 -1.6 -0.5 -1.8 -0.1 -1.2 0.6 -1 1 -0.8 1 -1 1.1 -1 0.9 -1 1 -1 1.1 -1 1.1 -1 1.1 -1 1 -1 0.8 -1.5 0.8 -1.5 0.5 -1.5 0.3 -1.6 0.3 -1.9 0.4 -2 -0.1 -1.5 -0.6 -1.1 -0.7 -1.4 -0.8 -1.5 -0.4 -2 0.1 -2 0 -1.5 -0.6 -1.3 -0.8 -1.2 -0.9 -1 -0.9 -1 -1 -1 -1.2 -1 -1 -1 -0.7 -1.5 -0.6 -1.5 -0.4 -1.5 -0.3 -1.5 -0.9 -0.6 -1.1 0.1 -2 0.5 -1.3 0.6 -1.2 0.5 -1.5 0 -2 -0.4 -1.5 -0.5 -1.5 -0.4 -1.5 -0.1 -2 0.1 -2 0.1 -2 -0.1 -2 -0.2 -2 -0.3 -1.5 -0.4 -1.5 -0.3 -2 -0.2 -1.5 -0.2 -2 -0.1 -2 0 -2 0.5 -1.5 0.9 -1.2 1 -0.9 1.4 -0.9 1.3 -0.5 1.8 -0.5 1.5 -0.2 1.5 -0.3 1.5 -0.6 1.3 -0.9 1.2 -0.9 1 -0.7 1 -1 0.7 -1.4 -0.6 -1.5 -1.1 -0.6 -1.5 -0.5 -1.5 -0.7 -1 -0.8 -1 -1.1 -0.7 -1.3 -0.6 -1.5 -0.6 -1.5 -0.7 -1 -0.9 -1 -1 -1 -1 -1.4 -0.5 -1.6 -0.2 -1.5 -0.1 -2 -0.3 -1.5 -0.4 -2 -0.1 -1.5 0.2 -1.5 0.4 -1.9 0.5 -1.6 0.4 -1.5 0.6 -1.5 0.5 -1.2 0.8 -1.3 0.9 -1 1.1 -1 1.2 -0.9 1 -0.6 1.5 -0.7 1.5 -0.5 1.5 -0.4 1.5 -0.6 1.2 -0.8 0.9 -1 0.9 -1.3 0.8 -1.2 0.7 -1.1 1 -1.2 1 -0.7 2 -0.3 1.5 0.7 1 1.1 0.6 1 0.7 1.5 0.5 1.5 0.5 1.5 0.7 1.5 0.6 1 1.1 1 1.3 0.8 1.4 0.7 1.1 0.6 1.5 0.9 1 0.9 0.9 1.1 0.6 1.1 0.5 1.4 0.7 1.5 0.8 1 1.5 0.9 1.5 0.5 1.5 0.5 1.1 0.6 0.9 1.1 0.6 1.4 0.4 1.5 0.2 2 -0.7 1.3 -1 0.7 -1.5 0.8 -1.3 0.7 -1.2 0.9 -1 1.1 -0.7 1 -0.8 1.2 -0.6 1.3 -0.3 2 0.1 2 0.1 2 0.7 1.4 1 0.7 1.5 0.7 1.5 0.7 1 0.7 0.9 1.3 0.6 1.5 0.5 1.2 0.9 1.3 0.9 1 0.9 1 0.8 1.4 0.3 1.6 -0.1 2 -0.3 1.5 -0.5 1.5 -0.5 1.5 -0.4 1.5 -0.5 2 -0.2 1.5 -0.1 2 0.4 1.5 0.9 1.4 1 1.1 1 1 1 0.7 1.5 0.3 1.5 -0.4 1 -1.1 0 -1.2 -0.5 -1.5 -0.5 -1.3 -0.6 -1.5 -0.4 -2 0.4 -2 0.7 -1 1 -1 1.3 -1 1.1 -0.9 1 -0.9 1 -0.7 1.5 -0.8 1.5 -0.5 1.5 -0.3 1.6 -0.4 1.9 -0.4 1.5 -0.2 1.5 0.2 1.5 0.6 1.2 0.8 1.3 0.9 1 0.6 1.5 0.7 1.5 0.4 1.5 -0.1 2 -0.5 1.5 -0.2 2 0.1 1.5 0.3 1.5 0.5 1.5 0.6 1.4 0.7 1.1 0.6 1.3 0.9 1.2 1 1 0.9 1 0.7 1.5 0.8 1.5 0.5 1.5 0.4 1.5 0.4 1.2 0.8 0.8 1.1 0.5 1.6 0.4 1.8 0.5 1.5 0.5 1.5 0.5 1.5 0.4 1.5 -0.3 1.8 -0.9 1.2 -0.9 1 -0.7 1.2 -0.5 1.5 -0.3 1.8 -0.4 1.5 -0.8 1.3 -1 0.9 -1 0.9 -1 1.2 -0.7 1.2 -0.7 1.5 -0.6 1.2 -0.7 1.3 -0.8 1 -1 1.2 -1 1 -1 0.8 -1.5 1 -1.2 0.5 -1.8 0.5zM1206.7 1223.6l-1.5 -0.1 -1.1 -0.9 0.4 -1.5 1 -1 1.2 -0.9 1.4 -0.6 1.5 -0.5 1.6 -0.3 1.8 0.3 0.2 1.5 -0.6 1 -0.9 1 -1.4 1 -1.1 0.5 -2 0.5zM1195.7 1237.2l-1 0.1 -1 0 -1 -0.2 -0.5 -0.2 -0.5 -0.4 0 -0.7 0.5 -0.5 0.5 -0.2 1 -0.3 1 -0.1 1 0.1 0.8 0.3 0.6 0.5 -0.3 1 -0.6 0.4 -0.5 0.2zM1188.7 1247.3l-1 0 -0.6 -0.2 -0.4 -0.5 0 -0.5 0.7 -0.5 0.8 -0.1 0.7 0.1 0.7 0.5 -0.4 1 -0.5 0.2z" fill="#fad4d4" stroke="#f3a8a8" stroke-width="0.8"/>
<path d="M1157.7 1240.7l-2 0 -1.5 -0.3 -1.5 -0.3 -2 -0.1 -1.5 0.2 -2 0.2 -2 0.1 -2 0 -1.8 -0.4 -1.1 -1 -0.6 -1.2 -0.5 -1.3 -0.7 -1.5 -0.8 -1 -1.2 -1 -1 -1 -0.7 -1.5 -0.1 -2 -0.1 -1.5 -0.4 -2 -0.2 -1.5 0.2 -1.6 0.7 -1.4 0.9 -1 0.9 -1.1 0.9 -1.4 0.6 -1.5 0.4 -1.5 0.4 -1.5 0.8 -1 1.4 -0.8 1.5 -0.5 1.5 -0.3 1.5 -0.5 1.5 -0.8 1 -1 0.8 -1.1 0.7 -1.1 0.9 -1.4 0.9 -1 1.6 0 0.8 1 0.6 1.5 0.5 1.5 0.5 1.5 0.6 1.5 0.6 1.2 0.9 1.3 1 1 1 1 0.8 1 0.7 1.5 0.6 1.4 0.6 1.1 0.9 1 1 1 1 1 1 1.2 1 1.2 0.8 1.1 0.8 1 0.5 1.5 -0.3 1.5 -0.5 1.5 -0.8 1.3 -0.9 1.2 -0.9 1 -1 1 -1 1 -1.2 1 -1 0.8 -1.2 0.7 -1.3 0.7 -1.5 0.4zM1160.7 1303.1l-2 0.3 -2 0 -1.6 -0.3 -1.4 -0.6 -1.5 -0.8 -1.5 -0.6 -1.5 -0.2 -2 0 -2 -0.1 -1.5 -0.5 -1.3 -0.7 -1.2 -0.9 -1 -1 -0.9 -1.1 -0.8 -1 -0.8 -1 -1 -1 -1.1 -1 -0.7 -1.5 0 -2 -0.2 -1.8 -0.5 -1.5 -0.5 -1.3 -0.5 -1.5 -0.2 -1.9 0.2 -2 0.2 -1.5 -0.1 -2 -0.2 -1.5 -0.2 -2 -0.2 -1.5 -0.5 -1.9 -0.5 -1.3 -0.5 -1.7 -0.3 -1.6 -0.1 -2 -0.1 -2 0.5 -1.6 1 -1 1.5 -0.5 1.5 0.1 1.5 0.7 1.5 0.8 1.5 0.2 1.5 -0.4 1.5 -0.7 1.5 -0.4 2 0.1 2 0.1 2 -0.1 1.5 -0.4 1.3 -0.9 0.5 -1.5 0 -2 0.5 -1.5 1.2 -0.6 2 -0.2 2 0.3 1.5 0.2 2 -0.2 1.5 -0.4 1.5 -0.4 2 0 1.5 0.3 1.5 0.7 1 1 0.8 1.3 0.7 1.4 0.6 1.1 0.9 1.3 0.7 1.2 0.4 1.5 -0.1 2 -0.3 1.5 -0.3 1.5 -0.4 1.6 -0.4 1.9 -0.4 1.5 -0.3 1.5 -0.3 2 0.2 2 0.6 1.5 0.5 1.5 -0.2 2 -0.2 2 0.4 2 0.1 1.4 -1 1.1 -1 0.5 -1.5 0.7 -1.2 0.8 -1.1 1 -0.7 1 -0.6 1.5 -0.6 1.5 -0.6 1.5 -0.6 1.5 -0.5 1.5 -0.6 1.4 -0.6 1.1 -0.9 1.2 -1.1 0.8 -1.4 0.5zM1214.2 1303.1l-2 0.3 -2 -0.2 -1.1 -0.6 -1.2 -1 -1 -1 -0.9 -1 -1.2 -1 -1.6 -0.4 -2 0.1 -2 -0.2 -1.5 -0.2 -2 -0.1 -1.5 -0.2 -1.5 -0.5 -1.5 -0.9 -1 -1 -0.8 -1.1 -0.8 -1 -1 -1 -1.3 -1 -1.1 -0.9 -1 -1.1 -0.1 -1.5 0.6 -1.3 0.6 -1.2 0.8 -1.5 0.6 -1.1 1 -1 1.4 -0.9 1.1 -0.6 1.2 -0.9 0.6 -1.5 -0.3 -1.7 -0.7 -1.3 -0.8 -1 -1 -1.2 -0.8 -1.3 -0.4 -1.5 0.2 -1.5 0.9 -1.5 0.9 -1 1.2 -1 1 -0.7 1.3 -0.8 1.2 -0.5 1.5 -0.6 2 -0.4 1 0 1.5 0.5 1.2 1 0.8 1.3 0.8 1.2 1 1 1.2 0.6 1.8 0.4 1.4 0 1.8 -0.4 1.5 -0.6 1.1 -0.5 1.4 -0.5 2 -0.2 1.5 0.4 1.5 0.7 1 0.6 1.4 1 1.1 1 1 0.8 1 0.8 1.4 0.9 1.1 0.6 1.5 0.8 1 0.6 1.1 1 0.9 1.3 0.6 1.2 0.4 1.5 0.1 2 -0.3 1.5 -0.4 1.5 -0.4 2 -0.2 1.5 -0.4 1.5 -0.6 1.5 -0.8 1.3 -0.9 1.2 -0.7 1 -0.9 1.4 -0.8 1.1 -1.1 1 -1.1 0.8 -1.2 0.7 -1.3 1 -1 1 -1 0.8 -1.2 0.7 -1.7 0.5 -1.6 0.3 -1.5 0.2z" fill="#f7c3c3" stroke="#ffffff" stroke-width="0.9"/>
<path d="M1158.7 1237.2l-2 0.1 -1.5 -0.6 -1 -0.7 -1.5 -0.9 -1.5 -0.5 -1 0 -1.5 0.5 -1.5 0.8 -1.5 0.6 -2 -0.2 -1 -0.7 -1 -1.1 -1 -1.4 -0.7 -1 -0.8 -1.1 -0.9 -1.4 -0.5 -1.5 -0.2 -1.5 -0.2 -2 0.3 -1.5 0.8 -1.5 0.7 -1.2 0.8 -1.3 0.7 -1.2 0.9 -1.3 0.7 -1 0.9 -1.2 1 -1 1.5 -0.8 1.3 -0.5 1.3 -0.5 1.6 -0.5 1.8 -0.1 1.1 0.6 0.9 1 1 1.4 0.7 1.1 0.8 1.5 0.5 1 0.9 1.5 0.6 1 1 1.3 1 1.2 0.9 1 0.8 1 0.8 1 1 1.1 1 1.2 0.7 1.2 0.2 2 -0.8 1.5 -1 1 -1.1 0.9 -1 0.8 -1.1 0.8 -1.4 0.9zM1150.7 1298.6l-2 0.2 -2 0 -1.6 -0.2 -1.4 -0.5 -1.4 -1 -0.9 -1 -0.7 -1 -0.7 -1.5 -0.6 -1.5 -0.5 -1.5 -0.4 -1.5 -0.6 -1.5 -0.7 -1.5 -0.6 -1 -0.7 -1.5 -0.4 -1.5 0 -2 0.2 -2 -0.2 -2 -0.3 -1.8 -0.2 -1.7 0 -2 -0.1 -2 -0.3 -1.5 -0.3 -2 0.4 -1.7 1.5 -0.7 2 0 1.5 -0.1 2 -0.5 1.5 -0.5 1.5 -0.3 1.5 -0.3 2 -0.2 2 -0.2 2 0.1 2 0.2 2 -0.2 1 -0.8 0.5 -1.3 0.5 -1.8 0.5 -1.3 1 -1.1 1.5 -0.4 2 -0.3 2 0.1 1.5 0.5 1 0.8 1 1.3 0.8 1.2 0.7 1 1 1.4 0.7 1.1 0.5 1.5 0.1 2 -0.3 1.5 -0.5 1.6 -0.6 1.4 -0.7 1.5 -0.7 1.5 -0.4 1.5 -0.2 1.5 0.1 1.7 0.2 1.8 0.1 2 -0.3 2 -0.5 1.2 -1 1.3 -1 1 -0.9 1 -0.8 1 -0.8 1.5 -0.5 1.4 -0.5 1.5 -0.5 1.2 -0.9 1.4 -1.1 0.9 -1.5 0.3 -2 0 -1.5 0.3 -1.5 0.9 -1.2 0.6 -1.8 0.5zM1215.7 1299.6l-2 0.4 -2 0 -1.5 -0.7 -1 -1.1 -0.6 -1.1 -0.6 -1.5 -0.6 -1.5 -0.7 -1.1 -1.1 -0.9 -1.9 0 -1 0.5 -1.5 0.9 -1.5 0.4 -2 0 -1.5 -0.3 -1.1 -1 -0.4 -1.5 0 -1.5 0.2 -2 0 -2 0.3 -1.9 0.5 -1.3 0.9 -1.3 1.1 -0.9 1.1 -0.6 1.4 -0.7 1 -0.9 0.5 -1.4 -0.3 -1.5 -1.1 -1 -1.4 -0.5 -1.7 -0.4 -1.1 -0.6 -1 -1 -0.9 -1 -0.8 -1.5 0.3 -1.9 1 -1.1 1 -0.6 2 -0.1 1 0.7 1 1.4 1 1.1 1 0.7 1.5 0.5 2 0.2 2 0 2 -0.2 1.7 -0.2 1.7 -0.5 1.3 -0.5 1.6 -0.5 1.5 0 1.5 0.5 1.2 0.7 1 0.8 1.1 1 1.2 1 1.2 1 1 0.6 1.4 0.9 1.1 0.7 1 0.9 0.9 1.4 0.3 1.5 -0.1 2 -0.2 1.5 -0.1 2 0 2 -0.3 1.5 -0.6 1.5 -0.9 1.5 -0.6 1 -0.9 1.2 -1 0.9 -1.5 0.8 -1.5 0.4 -1.5 0.6 -1 0.7 -1 1 -1 0.9 -1.5 0.8z" fill="#f9cdcd" stroke="#ffffff" stroke-width="0.9"/>
<path d="M1145.7 1233.6l-1.5 -0.2 -1.1 -0.8 -0.9 -1.1 -0.7 -1.4 -0.4 -1.5 0.1 -1.5 0.5 -1.7 0.5 -1.8 0.2 -1.5 0.3 -1.5 0.8 -1.5 0.8 -1 0.9 -1 1 -1 1.5 -1 1.5 -0.3 1.5 0.3 1.3 1 0.7 1 1 1.5 0.7 1 0.8 1 1 1.4 0.7 1.1 0.7 1.5 0.4 1.5 0.1 2 0 2 -0.4 1.6 -1.1 0.9 -1.6 0 -1.8 -0.5 -1.5 -0.3 -2 0.1 -1.5 0.6 -1.1 0.6 -1.4 0.5zM1166.2 1264.7l-1.7 -0.1 -1.3 -0.9 -0.7 -1.1 -0.3 -1.5 0.3 -1.5 1.2 -0.7 1.5 0.7 1 0.9 0.9 1.1 0.5 1.5 -0.9 1.4zM1148.7 1296.6l-2 0.1 -1.5 -0.3 -1.3 -0.8 -0.9 -1 -0.8 -1.5 -0.5 -1.4 -0.5 -1.6 -0.4 -1.5 -0.5 -1.5 -0.6 -1.2 -0.8 -1.3 -0.7 -1.1 -0.5 -1.4 -0.1 -2 0.1 -2 -0.3 -2 -0.4 -1.5 -0.2 -2 0.3 -2 0.6 -1.3 1 -1.1 1.5 -0.5 2 0.2 1.5 0.5 1.5 0.5 0.5 -1.8 0.5 -1.1 1 -1 1.5 -0.9 1.5 -0.4 2 0.3 1 0.6 0.6 1.5 -0.2 1.5 -0.3 2 0.8 1.5 1.1 0.9 1 0.7 1.2 0.9 1 1 0.8 1.4 0.5 1.3 0.5 1.4 0.7 1.4 0.8 1.3 0.9 1.2 0.3 1.5 -0.6 1.5 -0.7 1 -0.9 1 -1 1 -1 1.3 -0.9 1.2 -1 1 -1.1 0.9 -1 0.8 -1.1 0.8 -1.4 0.9 -1.3 0.6 -1.7 0.4zM1215.2 1297.2l-2 0.4 -1.5 -0.6 -0.9 -1.4 -0.2 -1.5 -0.1 -2 -0.3 -1.5 -0.9 -1.5 -1 -1 -1.1 -0.9 -1 -0.6 -1.5 -0.6 -2 0 -1.1 0.6 -1.4 0.8 -0.7 -1.3 0.5 -1.5 0.8 -1 1.2 -1 0.9 -1 0.8 -1.2 0.6 -1.3 0.4 -1.5 0.3 -2 0.3 -1.5 0.9 -1.3 1.5 -0.6 1.5 -0.3 2 -0.1 2 -0.1 1.5 -0.3 2 -0.2 1.5 0.5 1.5 0.8 1 0.7 1.1 0.9 1.4 1 1 0.7 1.2 0.8 1.1 1 0.7 1.1 0.2 1.9 -0.2 1.7 -0.3 1.8 -0.3 1.5 -0.2 2 -0.4 1.5 -0.8 1.5 -0.8 1 -1.2 0.8 -1.5 0.4 -1.9 0.3 -1.3 0.5 -1 1 -0.8 1.1 -1 1.1z" fill="#f5bcbc" stroke="#ffffff" stroke-width="0.9"/>
<path d="M1146.7 1230.6l-2 0.2 -0.9 -1.2 0.3 -2 0.6 -1.1 0.8 -1.4 0.7 -1.4 0.7 -1.1 1.2 -1 1.6 -0.2 1.5 0.6 1 0.7 1 1.4 0.2 1.5 -0.4 1.5 -1.2 1 -1.3 0.5 -1.3 0.5 -1.5 0.9 -1 0.6zM1149.2 1294.2l-2 0 -1.5 -0.6 -1 -0.8 -0.8 -1.2 -0.7 -1.3 -0.5 -1.4 -0.4 -1.8 -0.2 -1.5 -0.4 -1.8 -0.5 -1.2 -0.7 -1.5 -0.3 -2 -0.3 -1.5 -0.5 -1.5 -0.5 -1.5 0 -2 1 -1 1.3 0.2 1 0.9 0.9 1.4 0.6 1 0.6 1.5 -0.1 1.6 -0.6 1.4 0.6 1.4 1.5 -0.4 0.9 -1.5 0.6 -1.4 1 -1.1 1 -0.7 1.3 -0.8 1.7 -0.5 1.8 0.5 1.2 1 0.8 1 0.7 1.4 0.5 1.2 0.5 1.9 0 1.1 -0.5 1.6 -0.9 1.3 -0.7 1 -0.9 1.5 -0.5 1.3 -0.5 1.5 -0.7 1.2 -1.1 1 -1.2 0.7 -1.5 0.4zM1212.7 1284.1l-2 0.3 -1.7 -0.3 -1.3 -0.8 -0.9 -1.2 -0.3 -1.5 0.2 -1.6 0.5 -1.9 0.5 -1.2 1 -1.1 1.5 -0.4 1.7 0.2 1.8 0.4 1.5 0.3 2 0.3 1.5 0.5 1 0.7 -1 0.8 -1.1 0.5 -0.9 1.1 -0.7 1.4 -0.8 1.5 -0.8 1 -1.2 0.8zM1220.7 1277.9l-0.7 -0.3 0.7 0 0 0.3zM1223.2 1282.7l-0.5 -0.4 -0.3 -0.7 -0.2 -0.5 -0.4 -1 -0.2 -0.5 -0.4 -0.8 -0.5 -0.7 1 -0.2 0.6 0.2 0.9 0.4 0.5 0.3 0.5 0.5 0.4 0.8 0 1 -0.4 1 -0.5 0.5 -0.5 0.1z" fill="#f8caca" stroke="#ffffff" stroke-width="0.9"/>
<path d="M1149.7 1291.2l-2 0.2 -1.5 -0.6 -1 -0.8 -0.8 -1.4 -0.2 -1.5 0.3 -1.5 0.9 -1 1.3 -0.9 1 -0.8 1 -1 0.9 -1.3 0.6 -1.1 1 -1.1 1.5 -0.4 1.1 0.6 0.9 1.1 0.6 1.4 0 2 -0.6 1.3 -0.8 1.2 -0.8 1 -0.9 1.4 -0.5 1.1 -1 1.4 -1 0.7zM1211.2 1280.7l-1 -0.1 -0.4 -0.5 -0.1 -0.5 0.1 -0.5 0.4 -0.6 1 -0.4 1 0.5 0.2 0.5 -0.2 1 -0.5 0.5 -0.5 0.1z" fill="#fbdada" stroke="#ffffff" stroke-width="0.9"/>
<path d="M1129.7 1200.4 L1180.9 1200.4 L1180.9 1249.9 L1129.7 1249.9 Z" stroke="#4a4a4a" stroke-width="1.4" fill="none" stroke-linejoin="miter"/>
<path d="M1185.8 1254.4 L1248.1 1254.4 L1248.1 1305.3 L1185.8 1305.3 Z" stroke="#4a4a4a" stroke-width="1.4" fill="none" stroke-linejoin="miter"/>
<text x="1219" y="1320.2" font-size="16.5" text-anchor="middle" fill="#000">25.8</text>
<text x="1118.7" y="1198.3" font-size="16.6" text-anchor="end">10<tspan dy="-6.31" font-size="9.63" fill="#333">4</tspan></text>
<text x="1118.7" y="1271.8" font-size="16.6" text-anchor="end">10<tspan dy="-6.31" font-size="9.63" fill="#333">2</tspan></text>
<text x="1180" y="1340.1" font-size="16.6" text-anchor="start">10<tspan dy="-6.31" font-size="9.63" fill="#333">3</tspan></text>
<text x="1239.9" y="1340.1" font-size="16.6" text-anchor="start">10<tspan dy="-6.31" font-size="9.63" fill="#333">5</tspan></text>
<path d="M1301 1188.6H1436V1323.6" fill="none" stroke="#9a9a9a" stroke-width="1.1"/>
<path d="M1301 1188.1V1323.6H1436" fill="none" stroke="#333" stroke-width="1.3"/>
<path d="M1296.5 1189.1h4.5M1296.5 1228.6h4.5M1296.5 1268.6h4.5M1296.5 1308.6h4.5M1296.5 1323.6h4.5M1304 1323.6v4.5M1333 1323.6v4.5M1363 1323.6v4.5M1393 1323.6v4.5M1423 1323.6v4.5" stroke="#333" stroke-width="1.2"/>
<path d="M1298.5 1216.7h2.5M1298.5 1209.8h2.5M1298.5 1204.8h2.5M1298.5 1201h2.5M1298.5 1197.9h2.5M1298.5 1195.2h2.5M1298.5 1192.9h2.5M1298.5 1190.9h2.5M1298.5 1256.6h2.5M1298.5 1249.5h2.5M1298.5 1244.5h2.5M1298.5 1240.6h2.5M1298.5 1237.5h2.5M1298.5 1234.8h2.5M1298.5 1232.5h2.5M1298.5 1230.4h2.5M1298.5 1296.6h2.5M1298.5 1289.5h2.5M1298.5 1284.5h2.5M1298.5 1280.6h2.5M1298.5 1277.5h2.5M1298.5 1274.8h2.5M1298.5 1272.5h2.5M1298.5 1270.4h2.5M1298.5 1319.1h2.5M1298.5 1316.4h2.5M1298.5 1314.6h2.5M1298.5 1313.1h2.5M1298.5 1311.9h2.5M1298.5 1310.9h2.5M1298.5 1310.1h2.5M1298.5 1309.3h2.5M1312.7 1323.6v2.5M1317.8 1323.6v2.5M1321.5 1323.6v2.5M1324.3 1323.6v2.5M1326.6 1323.6v2.5M1328.5 1323.6v2.5M1330.2 1323.6v2.5M1331.7 1323.6v2.5M1342 1323.6v2.5M1347.3 1323.6v2.5M1351.1 1323.6v2.5M1354 1323.6v2.5M1356.3 1323.6v2.5M1358.4 1323.6v2.5M1360.1 1323.6v2.5M1361.6 1323.6v2.5M1372 1323.6v2.5M1377.3 1323.6v2.5M1381.1 1323.6v2.5M1384 1323.6v2.5M1386.3 1323.6v2.5M1388.4 1323.6v2.5M1390.1 1323.6v2.5M1391.6 1323.6v2.5M1402 1323.6v2.5M1407.3 1323.6v2.5M1411.1 1323.6v2.5M1414 1323.6v2.5M1416.3 1323.6v2.5M1418.4 1323.6v2.5M1420.1 1323.6v2.5M1421.6 1323.6v2.5" stroke="#444" stroke-width="0.9"/>
<rect x="1296.5" y="1307.6" width="3.5" height="4" fill="#111" stroke="none" stroke-width="0"/>
<rect x="1325" y="1324.1" width="5" height="3" fill="#111" stroke="none" stroke-width="0"/>
<path d="M1324 1237.1l-2 0.3 -2 0.1 -2 -0.1 -1.5 -0.4 -1.5 -0.8 -1 -0.8 -1 -1 -1 -1 -1 -0.9 -1 -0.9 -1 -1.3 -0.6 -1.2 -0.4 -2 0.1 -2 0.4 -2 0.4 -1.5 0.6 -1.2 0.7 -1.3 0.8 -1.1 1 -1.3 0.9 -1.1 0.8 -1 0.9 -1 1 -1 1.3 -1 1.1 -0.6 1.5 -0.4 2 -0.3 2 0.1 1.5 0.3 1.7 0.4 1.3 0.5 1.5 1 0.8 1 0.7 1.5 0.2 1.5 -0.2 2 -0.3 1.5 -0.5 1.5 -0.4 1.5 -0.3 2 0 1.5 0 2 -0.1 2 -0.4 2 -0.5 1.3 -0.8 1.2 -1.2 1 -1 0.6 -1.5 0.4zM1323 1244.2l-1 0.2 -1 -0.2 -0.5 -0.4 -0.3 -0.7 0.3 -0.6 0.5 -0.5 1 -0.3 1 0.2 0.5 0.3 0.4 0.9 -0.4 0.7 -0.5 0.4zM1318.5 1309.7l-2 0.3 -1.6 -0.4 -1.4 -0.8 -1 -0.8 -1.2 -0.9 -1.3 -1 -1 -0.7 -1 -0.9 -0.8 -1.4 -0.1 -2 0.1 -2 -0.2 -1.5 -0.5 -1.8 -0.5 -1.7 -0.4 -1.5 -0.4 -1.5 -0.2 -1.5 -0.1 -2 0.3 -1.5 0.6 -1.5 0.7 -1.3 0.7 -1.2 0.8 -1.4 0.6 -1.1 0.9 -1.5 0.5 -1 0.8 -1.5 0.7 -1.2 1 -1.2 1 -0.8 1.5 -0.8 1.5 -0.5 1.5 -0.4 1.1 -0.6 1.2 -1 0.7 -1.1 0.4 -1.9 0 -2 -0.1 -2 0.2 -1.5 0.9 -1.5 0.8 -1 0.9 -1 0.9 -1.1 1 -1.3 0.7 -1.1 0.8 -1 1 -1 1.3 -1 1.2 -0.6 1.5 -0.6 1.5 -0.5 2 -0.3 1 0 1.9 0.5 1.1 0.6 1 1 1 1.4 0.5 1 0.9 1.5 0.9 1 1.2 0.8 1.5 0.5 1.5 0.2 2 0.1 2 0.1 2 0.3 1.5 0.2 2 0.3 1.5 0.1 2 0.1 2 0.1 2 0.1 1.5 0.1 2 0.1 2 0.1 2 0.2 1.5 0.4 1.5 0.4 1.5 0.4 1.5 0.5 2 0.3 2 0.1 1.5 0.2 1.5 0.7 1 0.8 1 0.8 1.5 1 1.5 0.4 2 -0.1 1.5 0.2 1.5 0.9 1 0.8 1 1 1 0.8 1.2 1 1.3 0.9 1 0.7 1.1 0.9 0.9 1 0.7 1.5 0.3 1.7 0 1.8 0.1 2 0.3 2 0.3 1.5 0 2 -0.4 1.5 -0.8 1.2 -1 1.1 -0.9 1.2 -0.7 1 -0.9 1.3 -1 1.2 -1 0.9 -1 0.6 -1.4 1 -1.1 0.9 -0.9 1.1 -0.8 1 -0.8 1 -1 1 -1.5 1 -1.4 0.5 -1.6 0.4 -1.5 0.2 -2 0.2 -2 0 -2 -0.1 -2 0 -2 0 -1.5 -0.2 -2 -0.4 -1.5 -0.2 -2 0 -2 -0.1 -1.5 -0.4 -1.2 -0.9 -0.8 -1 -1 -1.2 -1 -0.9 -1.5 -0.8 -1.5 -0.4 -1.5 -0.4 -1.5 -0.6 -1.2 -0.7 -0.8 -1 -0.6 -1.5 0 -2 0.1 -1.5 0 -1.5 -0.8 -1.5 -1.2 -0.9 -1 -0.7 -1 -1.4 1 -1.4 1.2 -0.6 1.3 -0.6 1.5 -0.7 1.2 -0.7 1.3 -0.7 1.5 -0.5 1.5 -0.5 1.5 -0.8 1 -0.7 1 -1 1 -1.2 0.7 -1.1 0.8 -1.4 0 -1.2 -1.5 -0.8 -1.5 -0.3 -2 -0.1 -2 0.1 -1.5 0.5 -1 1 -0.6 1.2 -0.5 1.5 -0.9 1.5 -1 0.7 -1.5 0.4 -2 0.3 -1.5 0.4 -1.3 0.7 -1.2 0.9 -1 0.8 -1 0.8 -1 1 -1 1.2 -0.9 1.3 -0.6 1 -0.6 1.5 -0.4 1.8 -0.3 1.7 -0.3 1.5 -0.4 1.9 -0.2 1.6 -0.2 2 -0.1 1.8 -0.3 1.7 -0.4 1.5 -0.4 1.5 -0.5 1.5 -0.9 1.5 -1 1 -1 0.6 -1.5 0.5 -2 0.1 -2 -0.1 -2 0 -2 0 -2 0.4 -1.5 0.5 -1.5 0.5z" fill="#f59a9a" stroke="#e52a2a" stroke-width="1"/>
<path d="M1322 1235.1l-2 0.2 -1.5 -0.3 -1.5 -0.6 -1.1 -0.8 -0.9 -1 -1 -1.1 -1 -1.2 -1 -1.1 -0.7 -1.1 -0.5 -1.5 0 -2 0.2 -1.5 0.5 -1.6 0.7 -1.4 0.8 -1.3 1 -1.2 0.8 -1 0.7 -1 1 -1.2 1 -1 1.3 -0.8 1.7 -0.5 1.5 -0.1 1.5 0.2 1.5 0.4 1.5 0.6 1.2 0.9 0.8 1.1 0.5 1.4 0 2 -0.3 1.5 -0.4 1.5 -0.4 1.5 -0.2 2 -0.1 2 -0.1 1.7 -0.3 1.8 -0.7 1.5 -0.7 1 -1.1 1 -1.2 0.6 -1.5 0.4zM1316.5 1305.6l-1.9 0 -1.1 -0.5 -1.3 -1 -0.8 -1 -0.6 -1.5 -0.4 -1.5 -0.5 -1.5 -0.6 -1.5 -0.5 -1.5 -0.4 -1.5 -0.4 -2 -0.3 -1.5 -0.2 -1.5 0 -1.8 0.5 -1.7 0.5 -1.1 0.9 -1.4 0.7 -1 0.9 -1.1 1 -1.3 0.9 -1.1 0.9 -1 1 -1 1.2 -1 1 -0.8 1.1 -0.7 1.4 -0.8 1.1 -0.7 1.4 -0.9 1 -0.9 1 -1.2 0.5 -1.5 0.2 -1.5 0.2 -2 0.2 -1.5 0.4 -1.8 0.5 -1.4 0.8 -1.3 0.7 -1.1 1 -1.4 0.7 -1 0.8 -1 1.1 -1 1.4 -0.9 1.5 -0.5 1.5 -0.3 1.6 0.2 1.4 0.8 1 1 0.8 1.2 0.7 1.4 0.6 1.1 0.9 1.1 1.5 0.9 1.5 0.3 2 0.1 2 -0.2 2 -0.1 2 0 2 0.3 1.5 0.3 2 0.2 1.5 0.1 2 0.1 2 0.2 2 0.2 1.5 0.1 2 0.2 1.5 0.3 1.5 0.6 1.1 0.8 0.9 1.5 0.5 1.5 0.9 1 1.1 0.5 2 0.1 1.5 -0.3 1.5 -0.4 1.8 0.1 1.3 0.5 1.4 0.7 1.5 0.8 1.1 0.5 1.5 0.5 1.5 0.5 1.4 0.5 1.5 0.8 1 0.7 1.5 1 1 0.8 1 0.8 1 1.2 0.5 1.2 0.5 1.8 0.4 1.7 0.2 1.5 -0.1 1.8 -0.5 1.7 -0.5 1 -0.9 1.5 -0.6 1 -1 1.4 -1 1 -1 0.8 -1.2 0.8 -1.3 0.9 -1 0.7 -1.2 0.9 -1.3 1 -1.1 0.5 -1.7 0.5 -1.3 0.5 -1.4 0.7 -1.5 0.8 -1.3 0.5 -1.7 0.4 -1.5 0.3 -2 0.2 -2 -0.2 -1.5 -0.4 -1.5 -0.6 -1.5 -0.6 -1.4 -0.6 -1.1 -0.6 -1.5 -0.8 -1 -0.7 -1.4 -0.9 -1.1 -0.6 -1.5 -0.9 -1 -0.6 -1.1 -0.9 -0.7 -1.5 0.1 -2 0.5 -1.5 0.7 -1.5 0.6 -1 0.9 -1.1 1 -1.3 0.9 -1.1 0.9 -1 0.8 -1 0.9 -1.1 0.9 -1.4 0.6 -1 0.9 -1.5 0.6 -1 1 -1.5 0.5 -1 0.5 -1.5 -0.1 -1.5 -1.4 -0.9 -1.5 -0.3 -2 -0.1 -2 0.1 -2 0.1 -2 0 -2 -0.2 -2 0.2 -1.2 0.6 -1.1 1 -0.7 1 -1 1.3 -1 0.8 -1.5 0.6 -1.8 0.3 -1.7 0.3 -1.6 0.2 -1.9 0.1 -2 0 -1.8 0.4 -0.9 1 -0.2 2 0.1 2 -0.2 1.5 -0.5 1.5 -0.7 1.5 -0.6 1.5 -0.4 1.5 -0.2 2 -0.1 2 -0.2 1.5 -0.4 1.5 -0.6 1.5 -0.8 1.5 -0.5 1 -0.4 2 0.2 2 0 2 -0.8 1.3 -1.5 0.5 -1.9 -0.3 -1.5 -0.5 -1.5 -0.5 -1.6 -0.4 -1.5 -0.1 -1.5 0.3 -1.5 0.6 -1 0.6 -1.5 0.9z" fill="#f07a7a" stroke="#ffffff" stroke-width="0.9"/>
<path d="M1322 1233.2l-2 0.1 -1.5 -0.4 -1.1 -0.8 -0.9 -1 -1 -1.3 -0.8 -1.2 -0.7 -1.5 -0.4 -1.5 0 -2 0.4 -2 0.5 -1.2 0.7 -1.3 0.8 -1.2 0.9 -1.3 0.8 -1 1 -1 1.3 -0.7 2 -0.3 1.9 0.5 1.1 0.5 1.3 1 0.7 1.3 0.3 1.7 -0.3 1.6 -0.5 1.7 -0.5 1.7 -0.1 1.5 0 2 -0.3 2 -0.5 1.5 -0.7 1 -1.2 1 -1.2 0.6zM1335.5 1258.2l-1 0.2 -1 -0.3 -0.2 -0.5 0.1 -1 0.1 -0.5 0.5 -0.7 0.5 -0.4 1 -0.3 1 0.3 0.5 0.5 0.2 0.6 0 1 -0.4 0.5 -0.8 0.5 -0.5 0.1zM1331 1267.5l-0.7 -0.4 -0.4 -0.5 -0.3 -1 -0.1 -0.5 0 -1 0.1 -0.5 0.2 -1 0.2 -0.5 0.5 -0.6 0.5 -0.4 0.7 0 0.2 1 -0.2 1 -0.2 1 -0.1 0.5 -0.1 1 0 1 -0.3 0.9zM1348.5 1269.1l-2 0.3 -2 -0.1 -1.5 -0.6 -0.5 -1.1 0.3 -1.5 0.6 -1.5 0.7 -1 1.4 -0.9 1.5 -0.5 1.5 -0.3 1.5 -0.3 2 -0.2 1.5 0.2 1.5 0.7 0.5 1 -1 1 -1 0.9 -1 1.1 -1 1.1 -1 0.9 -1.5 0.7zM1363.5 1264.2l-1 0.3 -1 0.1 -1 -0.2 -1 -0.3 -0.5 -0.4 -0.3 -0.6 0.8 -0.3 0.9 -0.2 0.6 0 1 0 0.5 0.1 1 0.3 0.5 0.3 0 0.6 -0.5 0.3zM1380.5 1297.7l-2 0.3 -1.9 -0.4 -1.1 -0.5 -1.5 -1 -1 -0.6 -1.5 -0.6 -1.5 -0.4 -1.5 -0.5 -1.5 -0.8 -1 -0.9 -0.9 -1.2 -0.4 -1.5 0.3 -2 0.4 -1.5 0.5 -1.5 0.7 -1 0.9 -1.1 1 -1.2 0.8 -1.2 0.7 -1.5 0.5 -1.3 0.5 -1.2 0.7 -1.5 0.8 -1.4 0.7 -1.1 0.8 -1 1.5 -1 1.5 -0.3 2 -0.2 1.5 -0.2 2 -0.3 2 0.2 1.5 0.6 1.5 0.6 1.3 0.6 1.2 0.6 1.4 0.9 1 1 0.9 1 0.8 1 1.1 1 1.3 0.8 1 0.7 1 1.1 0.7 1.4 0.2 2 -0.3 2 -0.6 1.5 -0.5 1 -1 1.3 -1 0.8 -1.5 0.7 -1.5 0.6 -1.4 0.6 -1.1 0.6 -1.5 0.9 -1 0.6 -1.3 0.9 -1.2 0.9 -1 0.8 -1.3 0.8 -1.2 0.6 -1.5 0.5zM1317.5 1300.6l-2 0.3 -1.2 -0.8 -0.9 -1 -0.9 -1.1 -1 -1.4 -0.5 -1 -0.5 -1.5 -0.3 -2 -0.2 -2 -0.1 -1.5 0.2 -1.5 0.5 -1.5 0.9 -1.2 1 -1.1 1 -1 1 -1.2 0.8 -1 0.7 -1 1 -1.1 1 -1 1.1 -0.9 1.4 -0.9 1 -0.6 1.5 -0.7 1.5 -0.5 2 0 1 0.8 0.5 1.4 0.4 2 0.6 1.2 1 0.8 1.5 1 0.8 1 0.3 1.5 0 2 0 2 0.2 2 0 2 -0.5 1.5 -0.8 1.2 -1 1.1 -1 0.9 -1 1 -1 0.8 -1.5 0.8 -2 -0.2 -1.5 -0.4 -2 0.3 -1 0.8 -1 1 -1 0.7z" fill="#f38e8e" stroke="#ffffff" stroke-width="0.9"/>
<path d="M1322 1230.6l-2 0.3 -1.3 -0.8 -0.7 -1 -0.5 -2 0.5 -1.8 0.7 -1.2 -0.7 -1.2 -0.5 -1.3 0 -1.7 0.5 -1.4 0.9 -1.4 1.1 -1 1.5 -0.4 1.5 0.4 1.4 1 0.6 1.5 -0.5 1.9 -0.9 1.1 -1.1 0.7 -1.5 0.8 -0.7 1 1.2 0.8 1 0.8 0.8 1.4 -0.1 2 -0.7 1.1zM1380.5 1293.7l-2 0 -1.1 -0.6 -1 -1 -0.9 -1.1 -1 -1.3 -0.6 -1.1 -0.3 -2 -0.2 -1.5 -0.4 -2 -0.3 -1.5 -0.2 -2 0.3 -2 0.4 -1.5 0.7 -1.5 0.7 -1 1 -1 1.4 -0.7 1.5 -0.4 2 -0.1 2 0 1.5 0.3 1.5 0.5 1.5 0.6 1.5 0.8 1 0.9 0.8 1.1 0.7 1.5 0.5 1.1 0.8 1.4 0.8 1 1 1 0.9 1.3 -0.1 1.2 -0.9 1 -1.5 0.8 -1.1 0.7 -0.9 1 -1 1.1 -1 1 -1.2 0.9 -1.3 0.8 -1.3 0.7 -1.2 0.5 -1.5 0.6 -1.5 0.5zM1316 1295.3l-1.8 -0.2 -0.9 -1 -0.3 -2 0.3 -2 0.3 -1.5 0.7 -1.5 0.7 -1 1 -1.2 1 -1.1 1 -1.1 0.8 -1.1 0.7 -1 1 -1.4 1 -0.8 1.2 -0.3 0.6 1.5 0.2 1.6 1 0.9 1.5 0.6 1.5 0.4 1.5 0.9 0.8 1.1 0.4 1.5 0.3 1.5 0.2 2 -0.3 1.5 -0.9 1.2 -1 0.8 -1.5 0.7 -2 -0.1 -1.5 -0.3 -2 -0.3 -2 0.2 -1.5 0.5 -1.5 0.8z" fill="#ee6c6c" stroke="#ffffff" stroke-width="0.9"/>
<path d="M1384 1289.6l-2 0.3 -2 -0.3 -1.1 -0.5 -1.1 -1 -0.8 -1.1 -0.7 -1.4 -0.5 -1.5 -0.5 -1.5 -0.5 -1.5 -0.3 -1.5 0 -2 0.5 -1.5 0.5 -1 1.1 -1 1.4 -0.6 2 -0.1 1.5 0.3 1.5 0.6 1.5 0.5 1.5 0.6 1 0.7 1 1.4 0.5 1.4 0.3 1.7 -0.2 2 -0.4 1.5 -0.5 1.5 -0.6 1.5 -0.7 1 -1.3 1 -1.1 0.5zM1327 1291.8l-2 0.1 -2 -0.2 -1.5 -0.1 -2 -0.1 -1.5 -0.4 -0.9 -1.5 0.4 -2 0.8 -1 1.2 -0.9 1.5 -0.5 2 -0.1 2 0.1 1.8 0.4 1.1 1 0.6 1.3 0.2 1.7 -0.6 1.5 -1.1 0.7z" fill="#f28a8a" stroke="#ffffff" stroke-width="0.9"/>
<path d="M1383 1287.2l-2 0.3 -1.5 -0.6 -1 -1.1 -0.6 -1.2 -0.6 -1.5 -0.5 -1.5 -0.4 -1.5 -0.2 -2 0.6 -1.5 1.2 -0.8 2 0.2 1.1 0.6 1.4 0.6 1.5 0.7 1 1 0.5 1.7 -0.2 2 -0.4 1.5 -0.5 1.5 -0.9 1.3zM1324.5 1289.2l-1 0 -1 -0.1 -0.5 -0.2 0 -0.8 0.5 -0.2 1 -0.1 1 0.1 0.5 0.2 0 0.9 -0.5 0.2z" fill="#f7b0b0" stroke="#ffffff" stroke-width="0.9"/>
<path d="M1303.8 1200.4 L1354 1200.4 L1354 1249.9 L1303.8 1249.9 Z" stroke="#4a4a4a" stroke-width="1.4" fill="none" stroke-linejoin="miter"/>
<path d="M1359.2 1254.4 L1421.2 1254.4 L1421.2 1305.3 L1359.2 1305.3 Z" stroke="#4a4a4a" stroke-width="1.4" fill="none" stroke-linejoin="miter"/>
<text x="1393.5" y="1320.2" font-size="16.5" text-anchor="middle" fill="#000">48.5</text>
<text x="1292.5" y="1198.3" font-size="16.6" text-anchor="end">10<tspan dy="-6.31" font-size="9.63" fill="#333">4</tspan></text>
<text x="1292.5" y="1271.8" font-size="16.6" text-anchor="end">10<tspan dy="-6.31" font-size="9.63" fill="#333">2</tspan></text>
<text x="1353.8" y="1340.1" font-size="16.6" text-anchor="start">10<tspan dy="-6.31" font-size="9.63" fill="#333">3</tspan></text>
<text x="1413.7" y="1340.1" font-size="16.6" text-anchor="start">10<tspan dy="-6.31" font-size="9.63" fill="#333">5</tspan></text>
<path d="M1468 1188.6H1603V1323.6" fill="none" stroke="#9a9a9a" stroke-width="1.1"/>
<path d="M1468 1188.1V1323.6H1603" fill="none" stroke="#333" stroke-width="1.3"/>
<path d="M1463.5 1189.1h4.5M1463.5 1228.6h4.5M1463.5 1268.6h4.5M1463.5 1308.6h4.5M1463.5 1323.6h4.5M1471 1323.6v4.5M1500 1323.6v4.5M1530 1323.6v4.5M1560 1323.6v4.5M1590 1323.6v4.5" stroke="#333" stroke-width="1.2"/>
<path d="M1465.5 1216.7h2.5M1465.5 1209.8h2.5M1465.5 1204.8h2.5M1465.5 1201h2.5M1465.5 1197.9h2.5M1465.5 1195.2h2.5M1465.5 1192.9h2.5M1465.5 1190.9h2.5M1465.5 1256.6h2.5M1465.5 1249.5h2.5M1465.5 1244.5h2.5M1465.5 1240.6h2.5M1465.5 1237.5h2.5M1465.5 1234.8h2.5M1465.5 1232.5h2.5M1465.5 1230.4h2.5M1465.5 1296.6h2.5M1465.5 1289.5h2.5M1465.5 1284.5h2.5M1465.5 1280.6h2.5M1465.5 1277.5h2.5M1465.5 1274.8h2.5M1465.5 1272.5h2.5M1465.5 1270.4h2.5M1465.5 1319.1h2.5M1465.5 1316.4h2.5M1465.5 1314.6h2.5M1465.5 1313.1h2.5M1465.5 1311.9h2.5M1465.5 1310.9h2.5M1465.5 1310.1h2.5M1465.5 1309.3h2.5M1479.7 1323.6v2.5M1484.8 1323.6v2.5M1488.5 1323.6v2.5M1491.3 1323.6v2.5M1493.6 1323.6v2.5M1495.5 1323.6v2.5M1497.2 1323.6v2.5M1498.7 1323.6v2.5M1509 1323.6v2.5M1514.3 1323.6v2.5M1518.1 1323.6v2.5M1521 1323.6v2.5M1523.3 1323.6v2.5M1525.4 1323.6v2.5M1527.1 1323.6v2.5M1528.6 1323.6v2.5M1539 1323.6v2.5M1544.3 1323.6v2.5M1548.1 1323.6v2.5M1551 1323.6v2.5M1553.3 1323.6v2.5M1555.4 1323.6v2.5M1557.1 1323.6v2.5M1558.6 1323.6v2.5M1569 1323.6v2.5M1574.3 1323.6v2.5M1578.1 1323.6v2.5M1581 1323.6v2.5M1583.3 1323.6v2.5M1585.4 1323.6v2.5M1587.1 1323.6v2.5M1588.6 1323.6v2.5" stroke="#444" stroke-width="0.9"/>
<rect x="1463.5" y="1307.6" width="3.5" height="4" fill="#111" stroke="none" stroke-width="0"/>
<rect x="1492" y="1324.1" width="5" height="3" fill="#111" stroke="none" stroke-width="0"/>
<path d="M1488.5 1320.7l-2 -0.1 -1.4 -0.5 -1.1 -0.7 -1 -0.8 -1.2 -1 -1.3 -1 -1 -0.8 -1 -1.1 -0.8 -1.1 -0.7 -1.4 -0.5 -1.1 -0.8 -1.5 -0.7 -1.2 -0.7 -1.3 -0.6 -1.5 -0.4 -1.5 0 -2 0.2 -1.7 0.4 -1.8 0.3 -1.5 0.5 -1.5 0.5 -1.5 0.3 -2 -0.1 -2 -0.2 -2 -0.2 -2 0 -1.5 0.1 -1.5 0.4 -1.7 0.4 -1.8 0.2 -1.5 0.4 -2 0.4 -1.5 0.6 -1.5 0.5 -1.4 0.5 -1.6 0.5 -1.4 0.5 -1.3 0.5 -1.7 0.3 -1.6 0.5 -1.5 0.7 -1.4 0.7 -1.1 0.6 -1.5 0.1 -2 0.2 -1.5 0.3 -2 -0.1 -2 -0.5 -1.5 -0.7 -1.5 -0.5 -1.5 -0.4 -1.5 -0.3 -1.5 -0.3 -2 -0.3 -1.5 -0.3 -1.6 -0.5 -1.9 -0.2 -1.5 0.1 -2 0.2 -1.5 0.2 -2 -0.1 -2 0 -2 0.3 -1.9 0.5 -1.4 0.6 -1.2 0.9 -1.3 0.8 -1.2 0.7 -1.1 0.7 -1.4 0.8 -1.4 0.7 -1.1 0.8 -1 1 -1 1.4 -1 1.1 -0.6 1.5 -0.6 2 -0.3 1 0.1 1.5 0.4 1.5 0.9 1 1 1 1.1 0.7 1 0.8 1.4 0.5 1.2 0.5 1.9 0.1 1.5 0.1 2 -0.1 2 -0.1 1.5 -0.4 2 -0.2 1.5 -0.1 2 0.2 2 0.1 1.5 0 2 -0.1 1.8 -0.3 1.7 -0.4 1.5 -0.7 1.5 -0.6 1.2 -0.6 1.3 -0.4 1.5 0.1 1.5 0.5 1.5 0.8 1.5 0.7 1 0.9 1 1.3 1 1.2 0.8 1.1 0.7 1.4 0.8 1.5 0.7 1.2 0.5 1.3 0.8 0.7 1.2 0.3 2 0.3 1.5 0.5 1.5 0.6 1.5 0.6 1.5 0.5 1 0.8 1.5 0.4 1.5 0 2 -0.1 2 0.1 2 0.1 2 -0.2 2 -0.2 1.5 -0.4 1.7 -0.5 1.7 -0.5 1.6 -0.2 1.5 -0.2 2 0.1 2 -0.2 1.5 -0.5 1.6 -0.5 1.4 -0.6 1.5 -0.7 1.5 -0.7 1.3 -0.8 1.2 -0.7 1 -1 1.5 -0.6 1 -0.9 1.5 -0.7 1 -0.8 1 -1 1.1 -1 0.9 -1 1 -1.1 1 -1 1 -1.1 1 -1.2 1 -1.1 0.7 -1.5 0.7 -1.5 0.5 -1.5 0.4 -1.5 0.4 -1.5 0.4zM1550 1227.1l-2 0.1 -1.5 -0.3 -1.5 -0.6 -1 -0.7 -1 -1 -0.8 -1.5 -0.6 -1.5 -1.1 -0.5 -1.5 -0.7 -1 -0.9 -0.1 -1.9 1.1 -0.9 1.5 -0.3 1.6 0.2 1.4 -0.1 1 -0.9 1 -1 1.4 -1 1.1 -0.6 1.5 -0.7 1.5 -0.5 1.5 -0.4 2 -0.1 1.7 0.3 1.5 0.5 1.3 0.7 1.1 0.8 1.3 1 1.1 0.9 1 0.9 0.8 1.2 0.3 1.5 -0.3 1.5 -0.8 1.5 -0.7 1 -0.8 1 -1.2 1 -1.3 0.6 -2 0.4 -1.5 0.1 -2 0.2 -1.5 0.3 -2 0.4zM1516.5 1253.2l-2 -0.1 -1 -0.8 -0.5 -1.3 0.1 -1.4 0.9 -1.2 1.5 -0.6 1.6 0.3 1.4 0.7 1.5 0.3 1.5 -0.5 1.5 -0.2 1.5 0.2 1.4 1 0.3 1.5 -0.8 1 -1.4 0.7 -2 0 -1.5 -0.6 -1.5 -0.2 -1.1 0.6 -1.4 0.6zM1557 1305.1l-2 0.3 -2 0 -1.5 -0.4 -1.5 -0.6 -1.5 -0.8 -1 -0.6 -1.5 -0.8 -1.2 -0.6 -1.3 -0.6 -1.5 -0.8 -1 -0.6 -1.3 -1 -1.1 -1 -1 -1 -0.9 -1 -0.9 -1 -0.8 -1 -0.8 -1.5 -0.4 -1.5 -0.3 -1.6 -0.5 -1.5 -0.7 -1.4 -0.8 -1.5 -0.7 -1 -0.8 -1.3 -0.7 -1.2 -0.7 -1.5 -0.6 -1.2 -0.7 -1.3 -0.8 -1.1 -1 -0.9 -1.5 -1 -1 -0.6 -1.2 -0.9 -1.1 -1 -0.6 -1.5 0.5 -1.5 0.9 -1 1.3 -1 1.2 -0.8 1.2 -0.7 1.3 -0.7 1.5 -0.7 1.5 -0.4 2 -0.1 2 0.3 1.5 0.3 2 0.2 1.7 -0.4 1.3 -0.6 1.5 -0.7 1.5 -0.7 1.5 -0.4 1.5 -0.3 2 -0.2 2 0.1 1.6 0.3 1.6 0.5 1.3 0.5 1.5 0.7 1.5 0.5 2 0.1 2 0.1 1.5 0.4 1 0.7 1 1.1 1 1 1.5 0.8 1.5 0.5 1.1 0.6 1.1 1 0.8 1 0.8 1.5 0.6 1.5 0.6 1.4 0.6 1.1 0.9 1.3 1 1.1 0.8 1.1 0.7 1.3 0.3 1.7 -0.3 1.8 -0.5 1.2 -1 1.4 -0.8 1.1 -0.7 1 -0.8 1.5 -0.7 1.4 -0.7 1.1 -0.9 1 -1 1 -0.9 1 -1 1.2 -0.8 1.3 -0.7 1.1 -0.9 1.4 -0.8 1 -0.9 1 -1.3 1 -1.1 0.5 -2 0.4 -2 0 -1.5 0.1z" fill="#adadf6" stroke="#5a5aee" stroke-width="1"/>
<path d="M1494 1314.6l-2 0.1 -1.5 -0.2 -1.8 -0.4 -1.2 -0.6 -1.5 -0.5 -2 -0.3 -1.5 -0.5 -1 -0.6 -1.1 -1 -0.9 -1.1 -1 -1.2 -1 -1.2 -0.7 -1 -0.8 -1.5 -0.3 -1.5 0.2 -2 0.4 -1.5 0.6 -1.5 0.5 -1.5 0.5 -1.5 0.4 -1.5 0.2 -1.5 0 -2 0 -1.5 0.1 -1.5 0.4 -1.9 0.5 -1.5 0.4 -1.6 0.3 -1.5 0.2 -2 0.1 -1.5 0.4 -2 0.3 -1.5 0.3 -1.9 0.3 -1.6 0.7 -1.5 0.6 -1 0.9 -1.1 1.3 -0.9 1.2 -0.6 1.4 -0.9 0.9 -1 0.7 -1 0.7 -1.5 0.3 -1.5 0.1 -2 0.1 -2 -0.1 -2 -0.4 -1.5 -0.7 -1.1 -1 -1 -1.3 -0.9 -1.2 -1 -0.9 -1 -0.7 -1 -0.6 -1.5 -0.3 -1.5 -0.2 -2 0 -2 -0.1 -2 -0.3 -1.5 -0.4 -1.8 -0.3 -1.7 -0.3 -1.5 -0.4 -2 -0.1 -1.5 0.1 -1.5 0.5 -1.5 1 -1.5 0.8 -1 0.9 -1 0.8 -1.2 0.6 -1.3 0.7 -1.5 0.7 -1.3 0.9 -1.2 1.1 -0.9 1 -0.6 1.5 -0.5 2 -0.1 1.5 0.5 1 0.7 1 1 1 1.3 0.6 1.1 0.7 1.5 0.3 1.5 0.3 2 0 2 -0.4 2 -0.5 1.4 -0.5 1.5 -0.1 1.6 0.3 1.5 0.4 1.5 0.4 2 0 1.5 -0.1 1.5 -0.4 1.7 -0.6 1.3 -0.9 1.3 -1 1.2 -0.8 1 -0.7 1.1 -0.5 1.4 0 1.8 0.5 1.4 0.7 1.3 0.8 1.5 0.5 1.1 0.8 1.4 0.7 1 1.2 1 1.3 0.8 1.1 0.7 1.3 1 1.1 1 0.8 1 0.7 1.2 0.6 1.3 0.5 1.5 0.7 1.5 0.7 1.3 0.7 1.2 0.8 1.5 0.5 1.3 0.4 1.7 0.2 1.5 0.3 2 0.2 1.5 0 2 -0.1 1.8 -0.2 1.7 -0.4 1.5 -0.4 1.8 -0.4 1.7 -0.3 1.5 -0.4 1.5 -0.6 1.5 -0.7 1.5 -0.6 1.4 -0.5 1.6 -0.5 1.5 -0.5 1.3 -0.6 1.2 -0.9 1.5 -0.6 1 -0.9 1.5 -0.6 1 -0.9 1.2 -1 1.2 -1 1.1 -1 1 -1 0.9 -1 0.6 -1.5 0.7 -1.5 0.3zM1549.5 1224.6l-2 0 -1.3 -0.5 -0.9 -1 0 -2 0.6 -1.5 0.6 -1.2 0.9 -1.3 1.1 -1 1 -0.6 1.5 -0.5 2 -0.3 2 0.3 1 0.6 1 1 0.8 1.5 0 2 -0.7 1.5 -1.1 1 -1 0.6 -1.5 0.5 -1.6 0.4 -1.9 0.4zM1561.5 1301.1l-1.5 -0.2 -1.5 -0.8 -1 -0.7 -1.5 -0.7 -2 0.2 -1.3 0.7 -1.3 0.5 -1.4 0 -1.5 -0.5 -1.5 -0.6 -1.5 -0.7 -1.2 -0.7 -1.3 -1 -0.8 -1 -0.4 -1.5 0.1 -2 -0.4 -2 -0.5 -1 -1 -1.3 -1 -0.8 -1.3 -0.9 -1.2 -0.8 -1 -0.8 -1 -1.1 -1 -1.3 -0.6 -1 -0.7 -1.5 -0.4 -1.5 -0.3 -1.5 -0.8 -1.5 -1.1 -1 -1.1 -0.7 -1.3 -0.8 -1.2 -0.9 -0.8 -1.1 0.3 -1.8 1 -1.2 1 -0.8 1.1 -0.7 1.8 -0.5 1.1 0 1.9 0.5 1.5 0.5 1.6 0.4 2 -0.1 1.5 -0.5 1.5 -0.7 1.1 -0.6 1.4 -0.7 1.5 -0.4 2 -0.2 2 0 2 0.3 1.3 0.5 1.2 0.8 1 0.8 1.5 0.9 1.5 0.4 1.5 0.3 1.5 0.7 1 0.8 1 1 1.1 0.8 1.4 0.6 2 0.3 1.5 0.4 1 0.9 0.6 1.3 0.5 1.5 0.7 1.5 0.7 1 1 1.2 1 1.3 0.5 1.3 0 1.2 -0.7 1.5 -0.8 1 -1 1.3 -0.8 1.2 -0.7 1.1 -1 1.4 -0.9 1 -1 1 -1 1 -0.9 1 -0.7 1 -0.9 1.5 -0.6 1.2 -0.9 1.3 -1.1 0.9z" fill="#9494f2" stroke="#ffffff" stroke-width="0.9"/>
<path d="M1491.5 1245.7l-1.9 -0.1 -1.1 -0.7 -1 -1.2 -0.5 -1.1 -0.4 -2 -0.1 -1.5 -0.3 -2 -0.4 -1.5 -0.4 -1.5 -0.6 -1.5 -0.6 -1.5 -0.6 -1.5 -0.4 -1.5 -0.2 -2 0.5 -1.5 1 -1.2 1.1 -0.8 1.4 -0.9 1 -1 0.3 -1.6 0.2 -2 0.5 -1.3 0.9 -1.2 1.1 -0.8 1.5 -0.4 1.7 0.2 1.3 0.7 1 1 0.9 1.3 0.6 1.3 0.5 1.3 0.4 1.9 0 2 -0.5 1.5 -0.9 1.5 -0.6 1 -0.2 2 0.6 1.5 0.6 1.5 0.6 1.5 0.3 1.5 -0.1 2 -0.4 1.5 -0.8 1.4 -1 1 -1 0.9 -1 0.9 -1 1 -1 1.1 -1 0.8zM1551 1221.2l-0.6 -0.1 -0.5 -0.5 0.1 -0.5 0.5 -0.6 0.7 -0.4 0.8 -0.1 0.5 0.2 0.2 0.9 -0.3 0.5 -0.9 0.5 -0.5 0.1zM1493 1307.7l-1.8 -0.1 -1.7 -0.3 -1.7 -0.2 -1.8 -0.1 -2 -0.1 -1.5 -0.7 -1 -0.9 -1 -1.2 -0.5 -1 -0.4 -2 0 -2 0.3 -2 0.4 -1.5 0.4 -1.5 0.5 -1.5 0.3 -1.6 0 -1.9 0.1 -2 0.4 -1.6 0.5 -1.6 0.4 -1.8 0.1 -1.5 0 -2 0.3 -2 0.3 -1.5 0.4 -1.5 0.5 -2 0.5 -1.3 1 -1.1 1 -0.7 1.5 -0.8 1 -0.6 1.5 -1 1 -0.7 1.2 -0.8 1.3 -0.6 1.5 -0.6 1.5 -0.6 1.5 -0.5 2 0 1.2 0.8 0.6 1.5 -0.6 1.5 -1 1 -0.7 1 0 2 0.9 1 1 1 1.1 1 1 0.9 1 0.7 1.2 0.9 1.1 1 0.7 1 0.7 1.5 0.4 1.5 0.1 2 -0.1 2 -0.3 1.5 -0.5 1.5 -0.6 1.5 -0.7 1.2 -1 0.9 -2 -0.1 -1.4 -0.5 -1.1 0.3 -0.5 1.2 0.2 1.5 0.4 1.5 0.4 1.7 0.3 1.8 -0.2 2 -0.6 1.4 -1 1.1 -1 0.7 -1.5 0.7 -1.4 0.6 -1.1 0.7 -1 0.8 -1.5 1zM1561.5 1296.3l-2 0.1 -1.5 -0.6 -1.5 -0.6 -1.5 -0.2 -1.5 0.3 -1.5 0.6 -1.5 0.5 -2 -0.2 -1 -0.6 -1.1 -1 -0.7 -1.5 -0.4 -1.5 -0.3 -1.5 -0.7 -1.5 -0.8 -1.1 -1 -1.2 -1 -0.9 -1.1 -0.8 -1.4 -0.8 -1.3 -0.7 -1.2 -0.9 -0.8 -1.1 -0.6 -1.5 -0.2 -1.5 0.2 -1.5 0.4 -1.8 0.5 -1.5 1 -1.2 1 -0.7 1.2 -0.8 1.3 -0.9 1 -0.7 1.4 -0.9 1.1 -0.6 1.5 -0.5 1.7 -0.4 1.8 -0.1 1.5 0.1 1.5 0.7 1.2 0.8 1.3 0.8 1.4 0.7 1.2 0.5 1.4 0.6 1.2 0.9 0.9 1 0.9 1.2 1 1 1 0.8 1.4 1 1 1 0.9 1 1 1 1.2 1 1 0.8 1 1.1 0.2 1.6 -0.7 1.5 -0.5 1 -1 1.5 -0.7 1 -0.8 1 -1 1.1 -1 1 -1 1.1 -1 1.1 -1 1.1 -1 0.8zM1532.5 1271.6l-1 0 -0.5 -0.1 -1 -0.4 -0.5 -0.4 -0.4 -0.6 0.1 -1 0.5 -0.5 0.8 -0.3 1 0 0.8 0.3 0.7 0.5 0.4 0.5 0.3 0.5 -0.1 1 -0.6 0.4 -0.5 0.1z" fill="#a6a6f5" stroke="#ffffff" stroke-width="0.9"/>
<path d="M1495.5 1224.1l-1.5 -0.4 -0.5 -1.2 -0.5 -1.5 -0.8 -1.4 -0.7 -1 -0.2 -2 1.2 -0.9 1.5 0.4 1 1 1 1.5 0.5 1.1 0.5 1.9 -0.5 1.8 -1 0.7zM1494 1240.7l-2 0.3 -1.5 -0.8 -0.9 -1.1 -0.6 -1.1 -0.6 -1.4 -0.5 -1.5 -0.4 -1.5 -0.5 -1.5 -0.7 -1.5 -0.7 -1.5 -0.4 -1.5 0.3 -1.5 1.5 -0.8 1.8 0.3 1.2 0.5 1.5 0.8 1 0.7 1 1 1 1 1 1.1 1 1.4 0.5 1 0.5 1.5 0.1 2 -0.6 1.5 -0.7 1 -1.2 1 -1.1 0.6zM1490.5 1303.7l-2 0.2 -2 -0.2 -1.4 -0.6 -1.1 -0.7 -1 -1.2 -0.6 -1.1 -0.4 -2 0.2 -2 0.7 -1.5 0.6 -1.1 0.8 -1.4 0.4 -1.5 -0.2 -2 -0.1 -1.5 0.3 -1.5 0.4 -1.5 0.4 -1.5 0.1 -2 -0.1 -1.5 0 -2 0.2 -1.5 0.4 -1.5 0.5 -1.5 0.9 -1.3 1 -0.9 1.3 -0.8 1.2 -0.6 1.5 -0.7 1.5 -0.2 1 0.8 0.5 1.2 0.7 1.5 0.8 1 1.3 1 1.2 0.7 1.3 0.8 1.2 0.7 1.2 0.8 1.3 0.9 1 1.1 0.6 1 0.4 1.5 0.1 2 -0.3 1.5 -1.2 1 -1.6 0.4 -1.5 0.4 -1.5 0.6 -1 0.7 -0.9 1.4 -0.5 1.5 -0.3 1.5 0.1 2 0.4 1.5 0.6 1.5 0.3 1.5 -0.3 1.5 -1.2 1 -1.2 0.6 -1.5 0.5 -1.5 0.5 -1.5 0.6 -1.5 0.4zM1560.5 1292.2l-1.5 -0.2 -1.5 -0.5 -2 -0.2 -2 0.1 -2 0.1 -1.1 -0.9 -0.3 -2 0 -2 -0.3 -1.5 -1.3 -0.7 -2 0.1 -1.5 -0.7 -1 -1.1 -0.5 -1.6 1 -1.5 1 -1 0.8 -1 0.7 -1.1 0.5 -1.4 0.5 -1.9 0.5 -1.1 1 -1.1 1.5 -0.4 1.5 0.2 1.5 0.6 1.3 0.7 1.2 1 0.6 1 0.6 1.5 0.8 1.5 1 0.9 1 0.7 1.5 0.8 1 0.6 1.5 1 1 0.7 1 0.9 0.9 1.4 -0.2 2 -0.7 1.1 -1 1.2 -1 1.1 -1 0.9 -1 0.9 -1.5 0.8z" fill="#8a8af0" stroke="#ffffff" stroke-width="0.9"/>
<path d="M1494.5 1238.6l-2 0.2 -1.1 -0.7 -0.9 -1.1 -0.6 -1.4 -0.4 -2 0.3 -2 1.2 -0.8 2 0.2 1.2 0.6 1.2 1 0.6 1 0.5 1.5 -0.1 1.5 -0.9 1.4 -1 0.6zM1489.5 1301.7l-2 0.2 -1.5 -0.4 -1.1 -0.9 -0.9 -1.4 -0.2 -1.6 0.4 -1.5 0.8 -1.2 1 -0.8 1.1 -1 0.7 -1.5 -0.3 -2 -0.4 -1.5 -0.1 -1.5 0.2 -1.5 0.4 -1.5 0.2 -2 -0.3 -2 -0.2 -1.5 0.1 -2 0.4 -1.5 0.7 -1.4 1 -1.1 1 -0.5 2 -0.2 1 0.7 1 1.2 1 1.3 1 1 1 0.7 1.5 0.7 1.1 0.6 1.4 0.9 1 1 0.5 1.6 -0.5 1.7 -1 1.1 -1.2 0.7 -1.3 0.7 -1 0.8 -0.9 1.5 -0.4 1.5 -0.4 1.5 -0.4 1.5 -0.3 2 0 2 -0.1 2 -0.7 1 -1.3 0.9 -1.2 0.6 -1.3 0.6 -1.5 0.5zM1553.5 1278.2l-0.6 -0.1 -0.7 -0.5 -0.4 -0.5 -0.3 -0.8 0 -0.7 0.1 -0.5 0.5 -0.5 0.9 0 0.5 0.4 0.4 0.6 0.1 0.5 0.1 1 -0.1 0.7 -0.5 0.4zM1561.5 1287.7l-2 0 -1.5 -0.5 -1.5 -0.6 -0.9 -1 0.2 -2 0.7 -1.2 2 -0.3 2 0.2 1.5 0.5 1.4 0.8 0.7 1 -0.2 1.5 -1.1 1 -1.3 0.6z" fill="#a0a0f4" stroke="#ffffff" stroke-width="0.9"/>
<path d="M1494.5 1236.8l-1 0.3 -1 -0.4 -0.5 -0.5 -0.3 -0.6 -0.2 -0.8 0 -0.4 0.3 -0.8 0.5 -0.5 0.7 -0.1 0.6 0.1 0.8 0.5 0.4 0.5 0.3 0.5 0.1 1 -0.2 0.6 -0.5 0.6zM1493 1292.8l-1.6 -0.2 -0.9 -1.3 -0.5 -1.2 -0.5 -1.5 -0.4 -2 0.3 -2 0.3 -1.5 0 -2 -0.3 -1.5 -0.4 -2 0.3 -2 0.7 -1.1 1.5 -0.6 1.4 0.7 0.8 1 0.8 1.1 1 1.3 1 0.9 1 0.7 1.2 1 -0.2 1.5 -1.2 1 -0.9 1 -0.6 1.5 -0.3 1.5 -0.4 2 -0.5 1.5 -0.6 1.1 -1 1.1zM1488.5 1299.6l-1 0.1 -0.6 -0.1 -0.6 -0.5 -0.3 -0.5 -0.1 -1 0.3 -0.5 0.5 -0.5 0.8 -0.3 1 -0.1 1 0.2 0.5 0.6 0.2 0.6 -0.2 0.7 -0.5 0.7 -0.5 0.4 -0.5 0.2z" fill="#c0c0f8" stroke="#ffffff" stroke-width="0.9"/>
<path d="M1471.8 1202.1 L1522.7 1202.1 L1522.7 1251.6 L1471.8 1251.6 Z" stroke="#4a4a4a" stroke-width="1.4" fill="none" stroke-linejoin="miter"/>
<path d="M1527.9 1255.8 L1589.5 1255.8 L1589.5 1307 L1527.9 1307 Z" stroke="#4a4a4a" stroke-width="1.4" fill="none" stroke-linejoin="miter"/>
<text x="1565.3" y="1320.9" font-size="16.5" text-anchor="middle" fill="#000">34.4</text>
<text x="1459.5" y="1198.3" font-size="16.6" text-anchor="end">10<tspan dy="-6.31" font-size="9.63" fill="#333">4</tspan></text>
<text x="1459.5" y="1271.8" font-size="16.6" text-anchor="end">10<tspan dy="-6.31" font-size="9.63" fill="#333">2</tspan></text>
<text x="1520.8" y="1340.1" font-size="16.6" text-anchor="start">10<tspan dy="-6.31" font-size="9.63" fill="#333">3</tspan></text>
<text x="1580.7" y="1340.1" font-size="16.6" text-anchor="start">10<tspan dy="-6.31" font-size="9.63" fill="#333">5</tspan></text>
<text x="-0.6" y="1443" font-size="65" text-anchor="start" fill="#000">G</text>
<line x1="273.6" y1="1465.3" x2="273.6" y2="1807.5" stroke="#9a9a9a" stroke-width="1.1" stroke-linecap="butt"/>
<path d="M60.4 1807.5V1465.3H273.6" fill="none" stroke="#333" stroke-width="1.6"/>
<line x1="60.4" y1="1535.3" x2="273.6" y2="1535.3" stroke="#d0d0d0" stroke-width="1.3" stroke-linecap="butt"/>
<path d="M69.9 1535.3L69.9 1535L70.4 1534.9L70.9 1534.8L71.4 1534.6L71.9 1534.4L72.4 1534.2L72.9 1533.9L73.4 1533.6L73.9 1533.2L74.4 1532.7L74.9 1532.2L75.4 1531.6L75.9 1530.9L76.4 1530.1L76.9 1529.3L77.4 1528.4L77.9 1527.4L78.4 1526.3L78.9 1525.2L79.4 1524L79.9 1522.7L80.4 1521.5L80.9 1520.2L81.4 1518.8L81.9 1517.5L82.4 1516.1L82.9 1514.7L83.4 1513.2L83.9 1511.6L84.4 1510L84.9 1508.3L85.4 1506.5L85.9 1504.6L86.4 1502.6L86.9 1500.4L87.4 1498.1L87.9 1495.7L88.4 1493.2L88.9 1490.6L89.4 1488L89.9 1485.5L90.4 1483L90.9 1480.6L91.4 1478.5L91.9 1476.7L92.4 1475.1L92.9 1474L93.4 1473.2L93.9 1472.9L94.4 1473.1L94.9 1473.7L95.4 1474.7L95.9 1476.2L96.4 1478L96.9 1480.1L97.4 1482.5L97.9 1485.1L98.4 1487.9L98.9 1490.7L99.4 1493.5L99.9 1496.2L100.4 1498.9L100.9 1501.5L101.4 1503.9L101.9 1506.1L102.4 1508.2L102.9 1510.1L103.4 1511.7L103.9 1513.2L104.4 1514.6L104.9 1515.8L105.4 1516.8L105.9 1517.7L106.4 1518.6L106.9 1519.3L107.4 1520L107.9 1520.6L108.4 1521.2L108.9 1521.7L109.4 1522.2L109.9 1522.7L110.4 1523.2L110.9 1523.7L111.4 1524.3L111.9 1524.8L112.4 1525.3L112.9 1525.8L113.4 1526.3L113.9 1526.8L114.4 1527.3L114.9 1527.8L115.4 1528.2L115.9 1528.6L116.4 1529L116.9 1529.3L117.4 1529.6L117.9 1529.9L118.4 1530.1L118.9 1530.3L119.4 1530.4L119.9 1530.5L120.4 1530.6L120.9 1530.7L121.4 1530.8L121.9 1530.9L122.4 1530.9L122.9 1531L123.4 1531L123.9 1531L124.4 1531.1L124.9 1531.1L125.4 1531L125.9 1530.9L126.4 1530.8L126.9 1530.7L127.4 1530.5L127.9 1530.2L128.4 1530L128.9 1529.7L129.4 1529.4L129.9 1529.1L130.4 1528.8L130.9 1528.5L131.4 1528.2L131.9 1528L132.4 1527.9L132.9 1527.8L133.4 1527.7L133.9 1527.8L134.4 1527.9L134.9 1528.1L135.4 1528.3L135.9 1528.6L136.4 1529L136.9 1529.3L137.4 1529.8L137.9 1530.2L138.4 1530.7L138.9 1531.1L139.4 1531.6L139.9 1532L140.4 1532.4L140.9 1532.8L141.4 1533.1L141.9 1533.5L142.4 1533.8L142.9 1534L143.4 1534.2L143.9 1534.4L144.4 1534.6L144.9 1534.7L145.4 1534.9L145.9 1535L146.4 1535L146.9 1535.3Z" fill="#d9d9d9" fill-opacity="1" stroke="#c4c4c4" stroke-width="1.3" stroke-linejoin="round"/>
<line x1="60.4" y1="1602.6" x2="273.6" y2="1602.6" stroke="#a8a8a8" stroke-width="1.3" stroke-linecap="butt"/>
<path d="M76.4 1602.6L76.4 1602.3L76.9 1602.2L77.4 1602.1L77.9 1602L78.4 1601.8L78.9 1601.6L79.4 1601.3L79.9 1601L80.4 1600.7L80.9 1600.3L81.4 1599.9L81.9 1599.5L82.4 1599.1L82.9 1598.6L83.4 1598.2L83.9 1597.7L84.4 1597.3L84.9 1596.8L85.4 1596.3L85.9 1595.8L86.4 1595.3L86.9 1594.7L87.4 1594.1L87.9 1593.4L88.4 1592.6L88.9 1591.8L89.4 1590.9L89.9 1590L90.4 1589.1L90.9 1588.1L91.4 1587.3L91.9 1586.5L92.4 1585.9L92.9 1585.4L93.4 1585.2L93.9 1585.2L94.4 1585.5L94.9 1585.9L95.4 1586.6L95.9 1587.5L96.4 1588.5L96.9 1589.6L97.4 1590.7L97.9 1591.8L98.4 1592.9L98.9 1593.9L99.4 1594.7L99.9 1595.5L100.4 1596.1L100.9 1596.6L101.4 1597L101.9 1597.3L102.4 1597.6L102.9 1597.7L103.4 1597.9L103.9 1598.1L104.4 1598.3L104.9 1598.4L105.4 1598.7L105.9 1598.9L106.4 1599.2L106.9 1599.5L107.4 1599.8L107.9 1600.1L108.4 1600.4L108.9 1600.7L109.4 1600.9L109.9 1601.2L110.4 1601.3L110.9 1601.5L111.4 1601.6L111.9 1601.6L112.4 1601.6L112.9 1601.5L113.4 1601.4L113.9 1601.2L114.4 1600.9L114.9 1600.6L115.4 1600.3L115.9 1599.9L116.4 1599.5L116.9 1599.2L117.4 1598.8L117.9 1598.5L118.4 1598.3L118.9 1598.1L119.4 1598L119.9 1598L120.4 1598.1L120.9 1598.3L121.4 1598.6L121.9 1598.9L122.4 1599.3L122.9 1599.7L123.4 1600L123.9 1600.4L124.4 1600.8L124.9 1601.1L125.4 1601.4L125.9 1601.7L126.4 1601.9L126.9 1602.1L127.4 1602.2L127.9 1602.3L128.4 1602.6ZM135.9 1602.6L135.9 1602.3L136.4 1602.2L136.9 1602L137.4 1601.8L137.9 1601.6L138.4 1601.3L138.9 1601L139.4 1600.6L139.9 1600.1L140.4 1599.6L140.9 1599.1L141.4 1598.5L141.9 1597.8L142.4 1597.2L142.9 1596.6L143.4 1595.9L143.9 1595.4L144.4 1594.9L144.9 1594.5L145.4 1594.3L145.9 1594.1L146.4 1594.1L146.9 1594.2L147.4 1594.5L147.9 1594.8L148.4 1595.2L148.9 1595.8L149.4 1596.3L149.9 1596.9L150.4 1597.5L150.9 1598L151.4 1598.5L151.9 1598.9L152.4 1599.2L152.9 1599.4L153.4 1599.5L153.9 1599.4L154.4 1599.2L154.9 1598.9L155.4 1598.4L155.9 1597.8L156.4 1597.1L156.9 1596.3L157.4 1595.4L157.9 1594.5L158.4 1593.6L158.9 1592.6L159.4 1591.8L159.9 1591L160.4 1590.4L160.9 1589.9L161.4 1589.6L161.9 1589.4L162.4 1589.4L162.9 1589.6L163.4 1590L163.9 1590.5L164.4 1591.1L164.9 1591.8L165.4 1592.5L165.9 1593.2L166.4 1593.9L166.9 1594.5L167.4 1595.2L167.9 1595.7L168.4 1596.2L168.9 1596.5L169.4 1596.8L169.9 1597.1L170.4 1597.2L170.9 1597.3L171.4 1597.3L171.9 1597.2L172.4 1597.1L172.9 1596.9L173.4 1596.7L173.9 1596.4L174.4 1596.1L174.9 1595.8L175.4 1595.5L175.9 1595.2L176.4 1594.9L176.9 1594.6L177.4 1594.4L177.9 1594.3L178.4 1594.3L178.9 1594.4L179.4 1594.5L179.9 1594.8L180.4 1595.1L180.9 1595.6L181.4 1596L181.9 1596.6L182.4 1597.1L182.9 1597.7L183.4 1598.3L183.9 1598.9L184.4 1599.4L184.9 1599.9L185.4 1600.4L185.9 1600.8L186.4 1601.1L186.9 1601.4L187.4 1601.7L187.9 1601.9L188.4 1602L188.9 1602.2L189.4 1602.3L189.9 1602.6Z" fill="#a3a3a3" fill-opacity="1" stroke="#707070" stroke-width="1.3" stroke-linejoin="round"/>
<line x1="60.4" y1="1671.2" x2="273.6" y2="1671.2" stroke="#f8b8b8" stroke-width="1.3" stroke-linecap="butt"/>
<path d="M82.4 1671.2L82.4 1670.9L82.9 1670.7L83.4 1670.5L83.9 1670.1L84.4 1669.5L84.9 1668.7L85.4 1667.7L85.9 1666.3L86.4 1664.4L86.9 1662.1L87.4 1659.4L87.9 1656.1L88.4 1652.3L88.9 1648.1L89.4 1643.6L89.9 1639L90.4 1634.5L90.9 1630.4L91.4 1626.7L91.9 1623.9L92.4 1622L92.9 1621.2L93.4 1621.6L93.9 1623L94.4 1625.5L94.9 1628.8L95.4 1632.8L95.9 1637.2L96.4 1641.8L96.9 1646.3L97.4 1650.6L97.9 1654.6L98.4 1658.1L98.9 1661.1L99.4 1663.6L99.9 1665.6L100.4 1667.2L100.9 1668.4L101.4 1669.2L101.9 1669.9L102.4 1670.3L102.9 1670.6L103.4 1670.9L103.9 1671.2ZM135.4 1671.2L135.4 1670.9L135.9 1670.8L136.4 1670.6L136.9 1670.5L137.4 1670.3L137.9 1670L138.4 1669.8L138.9 1669.5L139.4 1669.1L139.9 1668.8L140.4 1668.4L140.9 1668L141.4 1667.6L141.9 1667.3L142.4 1667L142.9 1666.7L143.4 1666.5L143.9 1666.3L144.4 1666.2L144.9 1666.2L145.4 1666.3L145.9 1666.4L146.4 1666.6L146.9 1666.9L147.4 1667.2L147.9 1667.6L148.4 1667.9L148.9 1668.3L149.4 1668.7L149.9 1669.1L150.4 1669.4L150.9 1669.7L151.4 1670L151.9 1670.2L152.4 1670.4L152.9 1670.6L153.4 1670.7L153.9 1670.8L154.4 1670.9L154.9 1671.2Z" fill="#fcd2d2" fill-opacity="1" stroke="#f6a6a6" stroke-width="1.3" stroke-linejoin="round"/>
<line x1="60.4" y1="1739.1" x2="273.6" y2="1739.1" stroke="#f77f7f" stroke-width="1.3" stroke-linecap="butt"/>
<path d="M83.9 1739.1L83.9 1738.8L84.4 1738.7L84.9 1738.6L85.4 1738.4L85.9 1738.2L86.4 1738L86.9 1737.7L87.4 1737.4L87.9 1737L88.4 1736.6L88.9 1736.3L89.4 1735.9L89.9 1735.6L90.4 1735.3L90.9 1735L91.4 1734.9L91.9 1734.8L92.4 1734.8L92.9 1734.9L93.4 1735.1L93.9 1735.3L94.4 1735.6L94.9 1736L95.4 1736.3L95.9 1736.7L96.4 1737.1L96.9 1737.4L97.4 1737.7L97.9 1738L98.4 1738.2L98.9 1738.4L99.4 1738.6L99.9 1738.7L100.4 1738.8L100.9 1739.1ZM121.9 1739.1L121.9 1738.8L122.4 1738.8L122.9 1738.7L123.4 1738.5L123.9 1738.4L124.4 1738.2L124.9 1738L125.4 1737.7L125.9 1737.4L126.4 1737.1L126.9 1736.8L127.4 1736.5L127.9 1736.2L128.4 1735.9L128.9 1735.6L129.4 1735.3L129.9 1735.1L130.4 1734.9L130.9 1734.8L131.4 1734.8L131.9 1734.8L132.4 1734.8L132.9 1734.9L133.4 1735.1L133.9 1735.2L134.4 1735.4L134.9 1735.6L135.4 1735.7L135.9 1735.8L136.4 1735.9L136.9 1736L137.4 1736L137.9 1736L138.4 1736L138.9 1736L139.4 1736L139.9 1736.1L140.4 1736.2L140.9 1736.4L141.4 1736.6L141.9 1736.8L142.4 1737L142.9 1737.2L143.4 1737.3L143.9 1737.4L144.4 1737.4L144.9 1737.3L145.4 1737.2L145.9 1736.9L146.4 1736.5L146.9 1735.9L147.4 1735.2L147.9 1734.3L148.4 1733.3L148.9 1732.1L149.4 1730.8L149.9 1729.4L150.4 1727.8L150.9 1726.2L151.4 1724.5L151.9 1722.8L152.4 1721.1L152.9 1719.5L153.4 1718L153.9 1716.7L154.4 1715.6L154.9 1714.8L155.4 1714.2L155.9 1713.9L156.4 1714L156.9 1714.3L157.4 1714.8L157.9 1715.7L158.4 1716.7L158.9 1717.9L159.4 1719.2L159.9 1720.5L160.4 1721.9L160.9 1723.3L161.4 1724.6L161.9 1725.8L162.4 1727L162.9 1728L163.4 1729L163.9 1729.8L164.4 1730.5L164.9 1731.1L165.4 1731.6L165.9 1732.1L166.4 1732.4L166.9 1732.8L167.4 1733.1L167.9 1733.3L168.4 1733.5L168.9 1733.7L169.4 1733.9L169.9 1734L170.4 1734.2L170.9 1734.2L171.4 1734.3L171.9 1734.3L172.4 1734.3L172.9 1734.3L173.4 1734.3L173.9 1734.2L174.4 1734.2L174.9 1734.1L175.4 1734.1L175.9 1734.1L176.4 1734.1L176.9 1734.1L177.4 1734.2L177.9 1734.4L178.4 1734.5L178.9 1734.7L179.4 1735L179.9 1735.2L180.4 1735.5L180.9 1735.8L181.4 1736.1L181.9 1736.5L182.4 1736.8L182.9 1737.1L183.4 1737.3L183.9 1737.6L184.4 1737.8L184.9 1738.1L185.4 1738.2L185.9 1738.4L186.4 1738.5L186.9 1738.7L187.4 1738.8L187.9 1738.8L188.4 1739.1Z" fill="#f59090" fill-opacity="1" stroke="#f03a3a" stroke-width="1.3" stroke-linejoin="round"/>
<path d="M77.9 1807.5L77.9 1807.2L78.4 1807.1L78.9 1807L79.4 1806.9L79.9 1806.7L80.4 1806.5L80.9 1806.2L81.4 1805.9L81.9 1805.6L82.4 1805.2L82.9 1804.7L83.4 1804.1L83.9 1803.4L84.4 1802.7L84.9 1801.9L85.4 1801L85.9 1800L86.4 1798.9L86.9 1797.8L87.4 1796.6L87.9 1795.4L88.4 1794.1L88.9 1792.8L89.4 1791.5L89.9 1790.3L90.4 1789.1L90.9 1788L91.4 1786.9L91.9 1786.1L92.4 1785.3L92.9 1784.7L93.4 1784.3L93.9 1784.1L94.4 1784.1L94.9 1784.3L95.4 1784.7L95.9 1785.2L96.4 1785.9L96.9 1786.8L97.4 1787.7L97.9 1788.8L98.4 1790L98.9 1791.3L99.4 1792.5L99.9 1793.8L100.4 1795.1L100.9 1796.4L101.4 1797.6L101.9 1798.7L102.4 1799.8L102.9 1800.8L103.4 1801.7L103.9 1802.6L104.4 1803.3L104.9 1804L105.4 1804.6L105.9 1805.1L106.4 1805.5L106.9 1805.9L107.4 1806.2L107.9 1806.4L108.4 1806.7L108.9 1806.8L109.4 1807L109.9 1807.1L110.4 1807.2L110.9 1807.5ZM135.4 1807.5L135.4 1807.2L135.9 1807.2L136.4 1807.1L136.9 1806.9L137.4 1806.8L137.9 1806.6L138.4 1806.4L138.9 1806.2L139.4 1805.9L139.9 1805.6L140.4 1805.2L140.9 1804.8L141.4 1804.3L141.9 1803.8L142.4 1803.3L142.9 1802.7L143.4 1802.1L143.9 1801.5L144.4 1800.8L144.9 1800.2L145.4 1799.6L145.9 1799L146.4 1798.4L146.9 1797.9L147.4 1797.4L147.9 1797.1L148.4 1796.8L148.9 1796.6L149.4 1796.5L149.9 1796.5L150.4 1796.6L150.9 1796.8L151.4 1797.1L151.9 1797.5L152.4 1798L152.9 1798.5L153.4 1799.1L153.9 1799.7L154.4 1800.3L154.9 1801L155.4 1801.6L155.9 1802.2L156.4 1802.8L156.9 1803.4L157.4 1803.9L157.9 1804.4L158.4 1804.9L158.9 1805.3L159.4 1805.6L159.9 1806L160.4 1806.2L160.9 1806.5L161.4 1806.7L161.9 1806.8L162.4 1807L162.9 1807.1L163.4 1807.2L163.9 1807.2L164.4 1807.5Z" fill="#b0b0f8" fill-opacity="1" stroke="#6262f2" stroke-width="1.3" stroke-linejoin="round"/>
<line x1="60.4" y1="1807.5" x2="273.6" y2="1807.5" stroke="#444" stroke-width="1.5" stroke-linecap="butt"/>
<line x1="114.8" y1="1466.8" x2="114.8" y2="1807.5" stroke="#444" stroke-width="1.6" stroke-linecap="butt" stroke-dasharray="5.5 4.9"/>
<text x="266.4" y="1486" font-size="21.7" text-anchor="end" fill="#000">PBS</text>
<text x="267.9" y="1555.4" font-size="21.7" text-anchor="end" fill="#000">OXP</text>
<text x="271.7" y="1624.8" font-size="21.7" text-anchor="end" fill="#000">OXP/C.L.</text>
<text x="269.9" y="1694.2" font-size="21.7" text-anchor="end" fill="#000">OXP/BzATP</text>
<text x="271.7" y="1759.9" font-size="21.7" text-anchor="end" fill="#000">OXP/BzATP/C.L.</text>
<path d="M65.3 1807.5v5M107.4 1807.5v5M164.3 1807.5v5M219.3 1807.5v5M273 1807.5v5" stroke="#222" stroke-width="1.8"/>
<path d="M78 1807.5v3M85.4 1807.5v3M90.6 1807.5v3M94.7 1807.5v3M98.1 1807.5v3M100.9 1807.5v3M103.3 1807.5v3M105.5 1807.5v3M124.5 1807.5v3M134.5 1807.5v3M141.7 1807.5v3M147.2 1807.5v3M151.7 1807.5v3M155.5 1807.5v3M158.8 1807.5v3M161.7 1807.5v3M180.9 1807.5v3M190.5 1807.5v3M197.4 1807.5v3M202.7 1807.5v3M207.1 1807.5v3M210.8 1807.5v3M214 1807.5v3M216.8 1807.5v3M235.5 1807.5v3M244.9 1807.5v3M251.6 1807.5v3M256.8 1807.5v3M261.1 1807.5v3M264.7 1807.5v3M267.8 1807.5v3M270.5 1807.5v3" stroke="#444" stroke-width="1"/>
<rect x="77.4" y="1808" width="6" height="3.5" fill="#111" stroke="none" stroke-width="0"/>
<text x="149.2" y="1835" font-size="19.8">10<tspan dy="-7.5" font-size="11.5" fill="#333">3</tspan></text>
<text x="260.1" y="1835" font-size="19.8">10<tspan dy="-7.5" font-size="11.5" fill="#333">5</tspan></text>
<line x1="59.2" y1="1853.5" x2="263" y2="1853.5" stroke="#000" stroke-width="2.2" stroke-linecap="butt"/>
<path d="M261.5 1848.5 L261.5 1858.5 L273 1853.5 Z" stroke="none" stroke-width="0" fill="#000" stroke-linejoin="miter"/>
<text x="169.8" y="1877.2" font-size="25.8" text-anchor="middle">TNF<tspan font-family="'Liberation Serif', serif" font-size="27">α</tspan>-BV421</text>
<text x="584.2" y="1443.2" font-size="65" text-anchor="start" fill="#000">H</text>
<line x1="845.3" y1="1465.3" x2="845.3" y2="1807" stroke="#9a9a9a" stroke-width="1.1" stroke-linecap="butt"/>
<path d="M632 1807V1465.3H845.3" fill="none" stroke="#333" stroke-width="1.6"/>
<line x1="632" y1="1534.7" x2="845.3" y2="1534.7" stroke="#d0d0d0" stroke-width="1.3" stroke-linecap="butt"/>
<path d="M654.5 1534.7L654.5 1534.4L655 1534.4L655.5 1534.3L656 1534.2L656.5 1534L657 1533.9L657.5 1533.7L658 1533.5L658.5 1533.3L659 1533L659.5 1532.7L660 1532.4L660.5 1532.1L661 1531.8L661.5 1531.4L662 1531L662.5 1530.6L663 1530.2L663.5 1529.9L664 1529.5L664.5 1529.1L665 1528.8L665.5 1528.4L666 1528.1L666.5 1527.7L667 1527.3L667.5 1526.9L668 1526.4L668.5 1525.8L669 1525.1L669.5 1524.2L670 1523.2L670.5 1522L671 1520.5L671.5 1518.8L672 1516.9L672.5 1514.7L673 1512.2L673.5 1509.5L674 1506.7L674.5 1503.7L675 1500.7L675.5 1497.7L676 1494.9L676.5 1492.2L677 1489.8L677.5 1487.7L678 1486.1L678.5 1485L679 1484.5L679.5 1484.5L680 1485.1L680.5 1486.2L681 1487.9L681.5 1490L682 1492.5L682.5 1495.4L683 1498.5L683.5 1501.7L684 1505L684.5 1508.3L685 1511.5L685.5 1514.5L686 1517.4L686.5 1520L687 1522.4L687.5 1524.5L688 1526.3L688.5 1527.9L689 1529.3L689.5 1530.4L690 1531.4L690.5 1532.1L691 1532.7L691.5 1533.2L692 1533.6L692.5 1533.9L693 1534.1L693.5 1534.3L694 1534.4L694.5 1534.7ZM700.5 1534.7L700.5 1534.4L701 1534.3L701.5 1534.2L702 1534L702.5 1533.8L703 1533.6L703.5 1533.2L704 1532.8L704.5 1532.4L705 1531.9L705.5 1531.3L706 1530.7L706.5 1530L707 1529.3L707.5 1528.7L708 1528L708.5 1527.4L709 1526.9L709.5 1526.5L710 1526.1L710.5 1525.9L711 1525.8L711.5 1525.8L712 1525.9L712.5 1526.1L713 1526.4L713.5 1526.8L714 1527.2L714.5 1527.6L715 1528.1L715.5 1528.5L716 1529L716.5 1529.4L717 1529.8L717.5 1530.3L718 1530.7L718.5 1531L719 1531.4L719.5 1531.7L720 1532.1L720.5 1532.4L721 1532.7L721.5 1533L722 1533.2L722.5 1533.5L723 1533.7L723.5 1533.9L724 1534L724.5 1534.2L725 1534.3L725.5 1534.4L726 1534.7Z" fill="#d9d9d9" fill-opacity="1" stroke="#c4c4c4" stroke-width="1.3" stroke-linejoin="round"/>
<line x1="632" y1="1602" x2="845.3" y2="1602" stroke="#a8a8a8" stroke-width="1.3" stroke-linecap="butt"/>
<path d="M665.5 1602L665.5 1601.7L666 1601.6L666.5 1601.4L667 1601.1L667.5 1600.7L668 1600.1L668.5 1599.3L669 1598.4L669.5 1597.2L670 1595.8L670.5 1594.2L671 1592.4L671.5 1590.5L672 1588.5L672.5 1586.5L673 1584.7L673.5 1583.2L674 1582L674.5 1581.2L675 1581L675.5 1581.2L676 1581.9L676.5 1583.1L677 1584.5L677.5 1586.2L678 1588.1L678.5 1589.9L679 1591.6L679.5 1593.2L680 1594.5L680.5 1595.6L681 1596.4L681.5 1597L682 1597.4L682.5 1597.6L683 1597.7L683.5 1597.7L684 1597.6L684.5 1597.5L685 1597.3L685.5 1597L686 1596.7L686.5 1596.3L687 1595.8L687.5 1595.2L688 1594.5L688.5 1593.7L689 1592.8L689.5 1592L690 1591.1L690.5 1590.3L691 1589.6L691.5 1589L692 1588.6L692.5 1588.5L693 1588.5L693.5 1588.8L694 1589.2L694.5 1589.9L695 1590.7L695.5 1591.7L696 1592.7L696.5 1593.7L697 1594.7L697.5 1595.7L698 1596.6L698.5 1597.3L699 1597.9L699.5 1598.3L700 1598.6L700.5 1598.7L701 1598.7L701.5 1598.5L702 1598.3L702.5 1598L703 1597.6L703.5 1597.3L704 1597.1L704.5 1596.9L705 1596.9L705.5 1596.9L706 1597.1L706.5 1597.4L707 1597.7L707.5 1598.1L708 1598.5L708.5 1598.8L709 1599L709.5 1599.2L710 1599.3L710.5 1599.2L711 1599L711.5 1598.7L712 1598.2L712.5 1597.7L713 1597L713.5 1596.3L714 1595.6L714.5 1594.8L715 1594.1L715.5 1593.3L716 1592.6L716.5 1592.1L717 1591.6L717.5 1591.2L718 1591L718.5 1590.9L719 1591L719.5 1591.2L720 1591.6L720.5 1592L721 1592.5L721.5 1593.1L722 1593.6L722.5 1594.2L723 1594.7L723.5 1595.2L724 1595.7L724.5 1596L725 1596.4L725.5 1596.7L726 1597L726.5 1597.3L727 1597.6L727.5 1598L728 1598.4L728.5 1598.7L729 1599.1L729.5 1599.5L730 1599.9L730.5 1600.3L731 1600.6L731.5 1600.9L732 1601.2L732.5 1601.4L733 1601.6L733.5 1601.7L734 1602Z" fill="#a3a3a3" fill-opacity="1" stroke="#707070" stroke-width="1.3" stroke-linejoin="round"/>
<line x1="632" y1="1670.6" x2="845.3" y2="1670.6" stroke="#f8b8b8" stroke-width="1.3" stroke-linecap="butt"/>
<path d="M649.5 1670.6L649.5 1670.3L650 1670.2L650.5 1670.2L651 1670.1L651.5 1670L652 1669.8L652.5 1669.7L653 1669.5L653.5 1669.3L654 1669.1L654.5 1668.9L655 1668.6L655.5 1668.3L656 1668L656.5 1667.7L657 1667.3L657.5 1666.9L658 1666.5L658.5 1666.1L659 1665.7L659.5 1665.3L660 1664.9L660.5 1664.5L661 1664.2L661.5 1663.8L662 1663.5L662.5 1663.2L663 1662.9L663.5 1662.7L664 1662.5L664.5 1662.4L665 1662.3L665.5 1662.2L666 1662.1L666.5 1662L667 1662L667.5 1661.9L668 1661.8L668.5 1661.6L669 1661.4L669.5 1661.1L670 1660.7L670.5 1660.2L671 1659.7L671.5 1659L672 1658.3L672.5 1657.4L673 1656.6L673.5 1655.6L674 1654.7L674.5 1653.8L675 1652.9L675.5 1652.2L676 1651.6L676.5 1651.1L677 1650.8L677.5 1650.7L678 1650.8L678.5 1651.1L679 1651.7L679.5 1652.4L680 1653.2L680.5 1654.2L681 1655.3L681.5 1656.4L682 1657.5L682.5 1658.5L683 1659.4L683.5 1660.2L684 1660.8L684.5 1661.2L685 1661.4L685.5 1661.3L686 1661L686.5 1660.4L687 1659.6L687.5 1658.7L688 1657.6L688.5 1656.5L689 1655.4L689.5 1654.3L690 1653.4L690.5 1652.6L691 1652.2L691.5 1651.9L692 1652L692.5 1652.4L693 1653.1L693.5 1654L694 1655.2L694.5 1656.5L695 1657.9L695.5 1659.4L696 1660.8L696.5 1662.3L697 1663.6L697.5 1664.8L698 1665.9L698.5 1666.9L699 1667.7L699.5 1668.3L700 1668.9L700.5 1669.3L701 1669.7L701.5 1669.9L702 1670.1L702.5 1670.3L703 1670.6ZM721.5 1670.6L721.5 1670.3L722 1670.1L722.5 1670L723 1669.8L723.5 1669.6L724 1669.3L724.5 1669L725 1668.6L725.5 1668.3L726 1667.9L726.5 1667.5L727 1667.1L727.5 1666.8L728 1666.5L728.5 1666.3L729 1666.1L729.5 1666.1L730 1666.1L730.5 1666.3L731 1666.5L731.5 1666.8L732 1667.1L732.5 1667.5L733 1667.9L733.5 1668.3L734 1668.6L734.5 1669L735 1669.3L735.5 1669.6L736 1669.8L736.5 1670L737 1670.1L737.5 1670.3L738 1670.6Z" fill="#fcd2d2" fill-opacity="1" stroke="#f6a6a6" stroke-width="1.3" stroke-linejoin="round"/>
<line x1="632" y1="1738.5" x2="845.3" y2="1738.5" stroke="#f77f7f" stroke-width="1.3" stroke-linecap="butt"/>
<path d="M667.5 1738.5L667.5 1738.2L668 1738.2L668.5 1738.1L669 1738L669.5 1737.9L670 1737.7L670.5 1737.6L671 1737.4L671.5 1737.2L672 1736.9L672.5 1736.7L673 1736.4L673.5 1736L674 1735.7L674.5 1735.3L675 1734.9L675.5 1734.4L676 1734L676.5 1733.5L677 1733.1L677.5 1732.6L678 1732.2L678.5 1731.8L679 1731.4L679.5 1731.1L680 1730.8L680.5 1730.6L681 1730.4L681.5 1730.3L682 1730.2L682.5 1730.2L683 1730.3L683.5 1730.3L684 1730.5L684.5 1730.6L685 1730.8L685.5 1730.9L686 1731.1L686.5 1731.2L687 1731.3L687.5 1731.3L688 1731.4L688.5 1731.4L689 1731.4L689.5 1731.4L690 1731.4L690.5 1731.5L691 1731.5L691.5 1731.7L692 1731.9L692.5 1732.2L693 1732.6L693.5 1733L694 1733.5L694.5 1734L695 1734.5L695.5 1735L696 1735.4L696.5 1735.9L697 1736.3L697.5 1736.6L698 1736.8L698.5 1737L699 1737L699.5 1737L700 1736.9L700.5 1736.8L701 1736.5L701.5 1736.2L702 1735.9L702.5 1735.4L703 1735L703.5 1734.4L704 1733.9L704.5 1733.3L705 1732.8L705.5 1732.2L706 1731.7L706.5 1731.2L707 1730.7L707.5 1730.4L708 1730.1L708.5 1729.9L709 1729.7L709.5 1729.7L710 1729.7L710.5 1729.8L711 1729.9L711.5 1730.1L712 1730.3L712.5 1730.5L713 1730.7L713.5 1730.8L714 1730.9L714.5 1730.9L715 1730.8L715.5 1730.7L716 1730.6L716.5 1730.4L717 1730.2L717.5 1730L718 1729.8L718.5 1729.6L719 1729.5L719.5 1729.5L720 1729.6L720.5 1729.7L721 1730L721.5 1730.3L722 1730.8L722.5 1731.3L723 1731.8L723.5 1732.4L724 1733.1L724.5 1733.7L725 1734.3L725.5 1734.9L726 1735.4L726.5 1735.9L727 1736.4L727.5 1736.8L728 1737.1L728.5 1737.4L729 1737.6L729.5 1737.8L730 1738L730.5 1738.1L731 1738.2L731.5 1738.5Z" fill="#f59090" fill-opacity="1" stroke="#f03a3a" stroke-width="1.3" stroke-linejoin="round"/>
<path d="M651 1807L651 1806.7L651.5 1806.6L652 1806.5L652.5 1806.3L653 1806.1L653.5 1805.9L654 1805.6L654.5 1805.2L655 1804.8L655.5 1804.3L656 1803.7L656.5 1803L657 1802.3L657.5 1801.4L658 1800.5L658.5 1799.5L659 1798.4L659.5 1797.3L660 1796.1L660.5 1794.9L661 1793.6L661.5 1792.4L662 1791.3L662.5 1790.2L663 1789.2L663.5 1788.3L664 1787.6L664.5 1786.9L665 1786.4L665.5 1786L666 1785.7L666.5 1785.4L667 1785.1L667.5 1784.7L668 1784.2L668.5 1783.5L669 1782.5L669.5 1781.3L670 1779.7L670.5 1777.7L671 1775.3L671.5 1772.6L672 1769.6L672.5 1766.5L673 1763.3L673.5 1760.3L674 1757.5L674.5 1755.1L675 1753.3L675.5 1752.2L676 1751.9L676.5 1752.4L677 1753.7L677.5 1755.9L678 1758.7L678.5 1762.2L679 1766.1L679.5 1770.3L680 1774.6L680.5 1778.8L681 1783L681.5 1786.8L682 1790.4L682.5 1793.5L683 1796.3L683.5 1798.6L684 1800.5L684.5 1802.1L685 1803.4L685.5 1804.3L686 1805.1L686.5 1805.7L687 1806.1L687.5 1806.4L688 1806.6L688.5 1806.7L689 1807ZM696 1807L696 1806.7L696.5 1806.6L697 1806.4L697.5 1806.1L698 1805.8L698.5 1805.4L699 1804.9L699.5 1804.2L700 1803.5L700.5 1802.6L701 1801.5L701.5 1800.4L702 1799.1L702.5 1797.8L703 1796.4L703.5 1795L704 1793.7L704.5 1792.4L705 1791.4L705.5 1790.5L706 1789.9L706.5 1789.6L707 1789.5L707.5 1789.8L708 1790.4L708.5 1791.2L709 1792.2L709.5 1793.4L710 1794.7L710.5 1796.1L711 1797.5L711.5 1798.9L712 1800.1L712.5 1801.3L713 1802.4L713.5 1803.3L714 1804.1L714.5 1804.7L715 1805.2L715.5 1805.6L716 1805.9L716.5 1806.1L717 1806.2L717.5 1806.2L718 1806.1L718.5 1806L719 1805.7L719.5 1805.5L720 1805.2L720.5 1804.8L721 1804.4L721.5 1804L722 1803.5L722.5 1803.1L723 1802.8L723.5 1802.4L724 1802.2L724.5 1802.1L725 1802L725.5 1802.1L726 1802.2L726.5 1802.4L727 1802.8L727.5 1803.1L728 1803.5L728.5 1804L729 1804.4L729.5 1804.8L730 1805.2L730.5 1805.5L731 1805.8L731.5 1806.1L732 1806.3L732.5 1806.5L733 1806.6L733.5 1806.7L734 1807Z" fill="#b0b0f8" fill-opacity="1" stroke="#6262f2" stroke-width="1.3" stroke-linejoin="round"/>
<line x1="632" y1="1807" x2="845.3" y2="1807" stroke="#444" stroke-width="1.5" stroke-linecap="butt"/>
<line x1="701.4" y1="1466.8" x2="701.4" y2="1807" stroke="#444" stroke-width="1.6" stroke-linecap="butt" stroke-dasharray="5.5 4.9"/>
<text x="837.9" y="1486" font-size="21.7" text-anchor="end" fill="#000">PBS</text>
<text x="839.4" y="1555.4" font-size="21.7" text-anchor="end" fill="#000">OXP</text>
<text x="843.8" y="1624.8" font-size="21.7" text-anchor="end" fill="#000">OXP/C.L.</text>
<text x="840.8" y="1694.2" font-size="21.7" text-anchor="end" fill="#000">OXP/BzATP</text>
<text x="843.8" y="1759.9" font-size="21.7" text-anchor="end" fill="#000">OXP/BzATP/C.L.</text>
<path d="M637 1807v5M659 1807v5M701.4 1807v5M750 1807v5M798.9 1807v5M845 1807v5" stroke="#222" stroke-width="1.8"/>
<path d="M643.6 1807v3M647.5 1807v3M650.2 1807v3M652.4 1807v3M654.1 1807v3M655.6 1807v3M656.9 1807v3M658 1807v3M671.8 1807v3M679.2 1807v3M684.5 1807v3M688.6 1807v3M692 1807v3M694.8 1807v3M697.3 1807v3M699.5 1807v3M716 1807v3M724.6 1807v3M730.7 1807v3M735.4 1807v3M739.2 1807v3M742.5 1807v3M745.3 1807v3M747.8 1807v3M764.7 1807v3M773.3 1807v3M779.4 1807v3M784.2 1807v3M788.1 1807v3M791.3 1807v3M794.2 1807v3M796.7 1807v3M812.8 1807v3M820.9 1807v3M826.7 1807v3M831.1 1807v3M834.8 1807v3M837.9 1807v3M840.5 1807v3M842.9 1807v3" stroke="#444" stroke-width="1"/>
<rect x="649" y="1807.5" width="6" height="3.5" fill="#111" stroke="none" stroke-width="0"/>
<text x="691.2" y="1835" font-size="19.8">10<tspan dy="-7.5" font-size="11.5" fill="#333">2</tspan></text>
<text x="788.7" y="1835" font-size="19.8">10<tspan dy="-7.5" font-size="11.5" fill="#333">4</tspan></text>
<line x1="630.5" y1="1853.5" x2="834.7" y2="1853.5" stroke="#000" stroke-width="2.2" stroke-linecap="butt"/>
<path d="M833.2 1848.5 L833.2 1858.5 L844.7 1853.5 Z" stroke="none" stroke-width="0" fill="#000" stroke-linejoin="miter"/>
<text x="733.9" y="1877.2" font-size="25.8" text-anchor="middle">IFN<tspan font-family="'Liberation Serif', serif" font-size="27">γ</tspan>-PE</text></svg></body></html>
